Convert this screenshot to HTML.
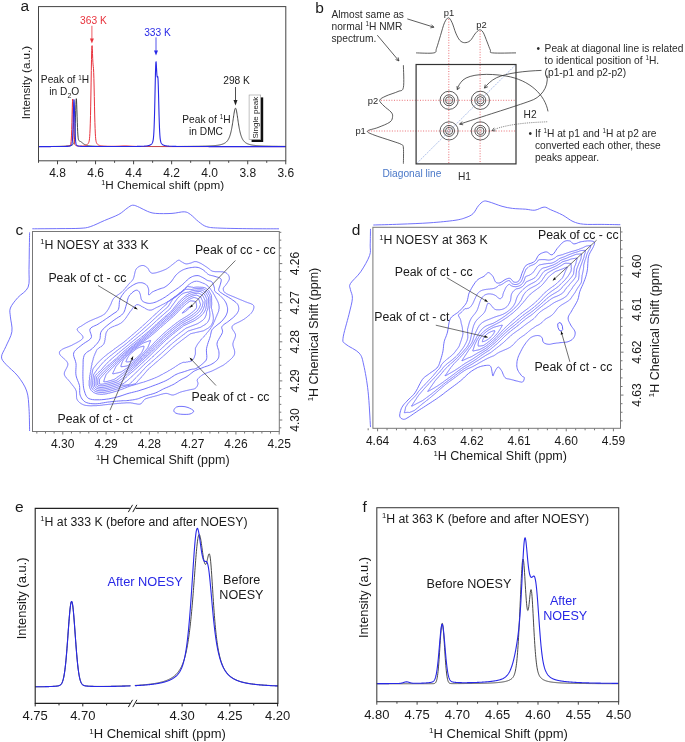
<!DOCTYPE html>
<html><head><meta charset="utf-8"><style>
html,body{margin:0;padding:0;background:#fff;}
svg{display:block;font-family:"Liberation Sans", sans-serif;will-change:transform;}
</style></head><body>
<svg width="685" height="742" viewBox="0 0 685 742">
<rect width="685" height="742" fill="#fff"/>
<text x="20.60" y="10.70" font-size="15.5" fill="#1a1a1a" text-anchor="start">a</text>
<path d="M38.50,146.54 L38.70,146.54 L38.90,146.54 L39.10,146.54 L39.30,146.54 L39.50,146.54 L39.70,146.54 L39.90,146.53 L40.10,146.53 L40.30,146.53 L40.50,146.53 L40.70,146.53 L40.90,146.53 L41.10,146.53 L41.30,146.53 L41.50,146.53 L41.70,146.53 L41.90,146.53 L42.10,146.53 L42.30,146.53 L42.50,146.53 L42.70,146.53 L42.90,146.53 L43.10,146.52 L43.30,146.52 L43.50,146.52 L43.70,146.52 L43.90,146.52 L44.10,146.52 L44.30,146.52 L44.50,146.52 L44.70,146.52 L44.90,146.52 L45.10,146.52 L45.30,146.52 L45.50,146.51 L45.70,146.51 L45.90,146.51 L46.10,146.51 L46.30,146.51 L46.50,146.51 L46.70,146.51 L46.90,146.51 L47.10,146.51 L47.30,146.51 L47.50,146.51 L47.70,146.50 L47.90,146.50 L48.10,146.50 L48.30,146.50 L48.50,146.50 L48.70,146.50 L48.90,146.50 L49.10,146.50 L49.30,146.50 L49.50,146.49 L49.70,146.49 L49.90,146.49 L50.10,146.49 L50.30,146.49 L50.50,146.49 L50.70,146.49 L50.90,146.48 L51.10,146.48 L51.30,146.48 L51.50,146.48 L51.70,146.48 L51.90,146.48 L52.10,146.48 L52.30,146.47 L52.50,146.47 L52.70,146.47 L52.90,146.47 L53.10,146.47 L53.30,146.46 L53.50,146.46 L53.70,146.46 L53.90,146.46 L54.10,146.46 L54.30,146.45 L54.50,146.45 L54.70,146.45 L54.90,146.45 L55.10,146.45 L55.30,146.44 L55.50,146.44 L55.70,146.44 L55.90,146.44 L56.10,146.43 L56.30,146.43 L56.50,146.43 L56.70,146.43 L56.90,146.42 L57.10,146.42 L57.30,146.42 L57.50,146.41 L57.70,146.41 L57.90,146.41 L58.10,146.40 L58.30,146.40 L58.50,146.40 L58.70,146.39 L58.90,146.39 L59.10,146.39 L59.30,146.38 L59.50,146.38 L59.70,146.37 L59.90,146.37 L60.10,146.36 L60.30,146.36 L60.50,146.35 L60.70,146.35 L60.90,146.34 L61.10,146.34 L61.30,146.33 L61.50,146.33 L61.70,146.32 L61.90,146.32 L62.10,146.31 L62.30,146.30 L62.50,146.30 L62.70,146.29 L62.90,146.28 L63.10,146.28 L63.30,146.27 L63.50,146.26 L63.70,146.25 L63.90,146.24 L64.10,146.23 L64.30,146.23 L64.50,146.22 L64.70,146.21 L64.90,146.20 L65.10,146.18 L65.30,146.17 L65.50,146.16 L65.70,146.15 L65.90,146.14 L66.10,146.12 L66.30,146.11 L66.50,146.09 L66.70,146.08 L66.90,146.06 L67.10,146.05 L67.30,146.03 L67.50,146.01 L67.70,145.99 L67.90,145.97 L68.10,145.95 L68.30,145.92 L68.50,145.90 L68.70,145.87 L68.90,145.85 L69.10,145.82 L69.30,145.79 L69.50,145.75 L69.70,145.72 L69.90,145.68 L70.10,145.64 L70.30,145.60 L70.50,145.55 L70.70,145.50 L70.90,145.45 L71.10,145.39 L71.30,145.32 L71.50,145.25 L71.70,145.18 L71.90,145.09 L72.10,145.00 L72.30,144.90 L72.50,144.78 L72.70,144.65 L72.90,144.51 L73.10,144.33 L73.30,144.12 L73.50,143.86 L73.70,143.51 L73.90,143.00 L74.10,142.25 L74.30,141.11 L74.50,139.41 L74.70,136.93 L74.90,133.50 L75.10,128.99 L75.30,123.44 L75.50,117.13 L75.70,110.58 L75.90,104.63 L76.10,100.32 L76.30,98.66 L76.50,100.08 L76.70,104.14 L76.90,109.86 L77.10,116.16 L77.30,122.24 L77.50,127.55 L77.70,131.83 L77.90,135.04 L78.10,137.29 L78.30,138.78 L78.50,139.72 L78.70,140.28 L78.90,140.61 L79.10,140.81 L79.30,140.94 L79.50,141.03 L79.70,141.11 L79.90,141.19 L80.10,141.28 L80.30,141.38 L80.50,141.49 L80.70,141.61 L80.90,141.74 L81.10,141.88 L81.30,142.04 L81.50,142.20 L81.70,142.36 L81.90,142.53 L82.10,142.70 L82.30,142.87 L82.50,143.03 L82.70,143.20 L82.90,143.35 L83.10,143.51 L83.30,143.66 L83.50,143.80 L83.70,143.93 L83.90,144.06 L84.10,144.19 L84.30,144.30 L84.50,144.41 L84.70,144.52 L84.90,144.62 L85.10,144.71 L85.30,144.80 L85.50,144.88 L85.70,144.96 L85.90,145.03 L86.10,145.10 L86.30,145.16 L86.50,145.23 L86.70,145.28 L86.90,145.34 L87.10,145.39 L87.30,145.44 L87.50,145.49 L87.70,145.53 L87.90,145.57 L88.10,145.61 L88.30,145.65 L88.50,145.68 L88.70,145.71 L88.90,145.75 L89.10,145.78 L89.30,145.80 L89.50,145.83 L89.70,145.86 L89.90,145.88 L90.10,145.90 L90.30,145.93 L90.50,145.95 L90.70,145.97 L90.90,145.99 L91.10,146.01 L91.30,146.02 L91.50,146.04 L91.70,146.06 L91.90,146.07 L92.10,146.09 L92.30,146.10 L92.50,146.11 L92.70,146.13 L92.90,146.14 L93.10,146.15 L93.30,146.16 L93.50,146.17 L93.70,146.18 L93.90,146.19 L94.10,146.20 L94.30,146.21 L94.50,146.22 L94.70,146.23 L94.90,146.24 L95.10,146.25 L95.30,146.26 L95.50,146.26 L95.70,146.27 L95.90,146.28 L96.10,146.28 L96.30,146.29 L96.50,146.30 L96.70,146.30 L96.90,146.31 L97.10,146.31 L97.30,146.32 L97.50,146.33 L97.70,146.33 L97.90,146.34 L98.10,146.34 L98.30,146.35 L98.50,146.35 L98.70,146.35 L98.90,146.36 L99.10,146.36 L99.30,146.37 L99.50,146.37 L99.70,146.38 L99.90,146.38 L100.10,146.38 L100.30,146.39 L100.50,146.39 L100.70,146.39 L100.90,146.40 L101.10,146.40 L101.30,146.40 L101.50,146.41 L101.70,146.41 L101.90,146.41 L102.10,146.41 L102.30,146.42 L102.50,146.42 L102.70,146.42 L102.90,146.42 L103.10,146.43 L103.30,146.43 L103.50,146.43 L103.70,146.43 L103.90,146.44 L104.10,146.44 L104.30,146.44 L104.50,146.44 L104.70,146.44 L104.90,146.45 L105.10,146.45 L105.30,146.45 L105.50,146.45 L105.70,146.45 L105.90,146.45 L106.10,146.46 L106.30,146.46 L106.50,146.46 L106.70,146.46 L106.90,146.46 L107.10,146.46 L107.30,146.47 L107.50,146.47 L107.70,146.47 L107.90,146.47 L108.10,146.47 L108.30,146.47 L108.50,146.47 L108.70,146.47 L108.90,146.48 L109.10,146.48 L109.30,146.48 L109.50,146.48 L109.70,146.48 L109.90,146.48 L110.10,146.48 L110.30,146.48 L110.50,146.48 L110.70,146.49 L110.90,146.49 L111.10,146.49 L111.30,146.49 L111.50,146.49 L111.70,146.49 L111.90,146.49 L112.10,146.49 L112.30,146.49 L112.50,146.49 L112.70,146.49 L112.90,146.50 L113.10,146.50 L113.30,146.50 L113.50,146.50 L113.70,146.50 L113.90,146.50 L114.10,146.50 L114.30,146.50 L114.50,146.50 L114.70,146.50 L114.90,146.50 L115.10,146.50 L115.30,146.50 L115.50,146.50 L115.70,146.51 L115.90,146.51 L116.10,146.51 L116.30,146.51 L116.50,146.51 L116.70,146.51 L116.90,146.51 L117.10,146.51 L117.30,146.51 L117.50,146.51 L117.70,146.51 L117.90,146.51 L118.10,146.51 L118.30,146.51 L118.50,146.51 L118.70,146.51 L118.90,146.51 L119.10,146.51 L119.30,146.51 L119.50,146.51 L119.70,146.51 L119.90,146.52 L120.10,146.52 L120.30,146.52 L120.50,146.52 L120.70,146.52 L120.90,146.52 L121.10,146.52 L121.30,146.52 L121.50,146.52 L121.70,146.52 L121.90,146.52 L122.10,146.52 L122.30,146.52 L122.50,146.52 L122.70,146.52 L122.90,146.52 L123.10,146.52 L123.30,146.52 L123.50,146.52 L123.70,146.52 L123.90,146.52 L124.10,146.52 L124.30,146.52 L124.50,146.52 L124.70,146.52 L124.90,146.52 L125.10,146.52 L125.30,146.52 L125.50,146.52 L125.70,146.52 L125.90,146.52 L126.10,146.52 L126.30,146.52 L126.50,146.52 L126.70,146.52 L126.90,146.52 L127.10,146.52 L127.30,146.53 L127.50,146.53 L127.70,146.53 L127.90,146.53 L128.10,146.53 L128.30,146.53 L128.50,146.53 L128.70,146.53 L128.90,146.53 L129.10,146.53 L129.30,146.53 L129.50,146.53 L129.70,146.53 L129.90,146.53 L130.10,146.53 L130.30,146.53 L130.50,146.53 L130.70,146.53 L130.90,146.53 L131.10,146.53 L131.30,146.53 L131.50,146.53 L131.70,146.53 L131.90,146.53 L132.10,146.53 L132.30,146.53 L132.50,146.53 L132.70,146.53 L132.90,146.53 L133.10,146.53 L133.30,146.53 L133.50,146.53 L133.70,146.53 L133.90,146.53 L134.10,146.53 L134.30,146.53 L134.50,146.53 L134.70,146.53 L134.90,146.53 L135.10,146.53 L135.30,146.53 L135.50,146.53 L135.70,146.53 L135.90,146.53 L136.10,146.53 L136.30,146.53 L136.50,146.53 L136.70,146.53 L136.90,146.53 L137.10,146.53 L137.30,146.53 L137.50,146.53 L137.70,146.53 L137.90,146.53 L138.10,146.53 L138.30,146.53 L138.50,146.53 L138.70,146.53 L138.90,146.53 L139.10,146.53 L139.30,146.53 L139.50,146.53 L139.70,146.53 L139.90,146.53 L140.10,146.53 L140.30,146.53 L140.50,146.53 L140.70,146.53 L140.90,146.53 L141.10,146.53 L141.30,146.53 L141.50,146.53 L141.70,146.53 L141.90,146.53 L142.10,146.53 L142.30,146.53 L142.50,146.53 L142.70,146.53 L142.90,146.53 L143.10,146.53 L143.30,146.53 L143.50,146.53 L143.70,146.53 L143.90,146.53 L144.10,146.53 L144.30,146.53 L144.50,146.53 L144.70,146.53 L144.90,146.53 L145.10,146.53 L145.30,146.53 L145.50,146.53 L145.70,146.53 L145.90,146.53 L146.10,146.53 L146.30,146.52 L146.50,146.52 L146.70,146.52 L146.90,146.52 L147.10,146.52 L147.30,146.52 L147.50,146.52 L147.70,146.52 L147.90,146.52 L148.10,146.52 L148.30,146.52 L148.50,146.52 L148.70,146.52 L148.90,146.52 L149.10,146.52 L149.30,146.52 L149.50,146.52 L149.70,146.52 L149.90,146.52 L150.10,146.52 L150.30,146.52 L150.50,146.52 L150.70,146.52 L150.90,146.52 L151.10,146.52 L151.30,146.52 L151.50,146.52 L151.70,146.52 L151.90,146.52 L152.10,146.52 L152.30,146.52 L152.50,146.52 L152.70,146.52 L152.90,146.52 L153.10,146.52 L153.30,146.52 L153.50,146.52 L153.70,146.52 L153.90,146.52 L154.10,146.52 L154.30,146.52 L154.50,146.52 L154.70,146.52 L154.90,146.52 L155.10,146.52 L155.30,146.52 L155.50,146.52 L155.70,146.52 L155.90,146.52 L156.10,146.51 L156.30,146.51 L156.50,146.51 L156.70,146.51 L156.90,146.51 L157.10,146.51 L157.30,146.51 L157.50,146.51 L157.70,146.51 L157.90,146.51 L158.10,146.51 L158.30,146.51 L158.50,146.51 L158.70,146.51 L158.90,146.51 L159.10,146.51 L159.30,146.51 L159.50,146.51 L159.70,146.51 L159.90,146.51 L160.10,146.51 L160.30,146.51 L160.50,146.51 L160.70,146.51 L160.90,146.51 L161.10,146.51 L161.30,146.51 L161.50,146.51 L161.70,146.51 L161.90,146.51 L162.10,146.50 L162.30,146.50 L162.50,146.50 L162.70,146.50 L162.90,146.50 L163.10,146.50 L163.30,146.50 L163.50,146.50 L163.70,146.50 L163.90,146.50 L164.10,146.50 L164.30,146.50 L164.50,146.50 L164.70,146.50 L164.90,146.50 L165.10,146.50 L165.30,146.50 L165.50,146.50 L165.70,146.50 L165.90,146.50 L166.10,146.50 L166.30,146.50 L166.50,146.50 L166.70,146.49 L166.90,146.49 L167.10,146.49 L167.30,146.49 L167.50,146.49 L167.70,146.49 L167.90,146.49 L168.10,146.49 L168.30,146.49 L168.50,146.49 L168.70,146.49 L168.90,146.49 L169.10,146.49 L169.30,146.49 L169.50,146.49 L169.70,146.49 L169.90,146.49 L170.10,146.49 L170.30,146.48 L170.50,146.48 L170.70,146.48 L170.90,146.48 L171.10,146.48 L171.30,146.48 L171.50,146.48 L171.70,146.48 L171.90,146.48 L172.10,146.48 L172.30,146.48 L172.50,146.48 L172.70,146.48 L172.90,146.48 L173.10,146.48 L173.30,146.48 L173.50,146.47 L173.70,146.47 L173.90,146.47 L174.10,146.47 L174.30,146.47 L174.50,146.47 L174.70,146.47 L174.90,146.47 L175.10,146.47 L175.30,146.47 L175.50,146.47 L175.70,146.47 L175.90,146.47 L176.10,146.46 L176.30,146.46 L176.50,146.46 L176.70,146.46 L176.90,146.46 L177.10,146.46 L177.30,146.46 L177.50,146.46 L177.70,146.46 L177.90,146.46 L178.10,146.46 L178.30,146.46 L178.50,146.45 L178.70,146.45 L178.90,146.45 L179.10,146.45 L179.30,146.45 L179.50,146.45 L179.70,146.45 L179.90,146.45 L180.10,146.45 L180.30,146.45 L180.50,146.44 L180.70,146.44 L180.90,146.44 L181.10,146.44 L181.30,146.44 L181.50,146.44 L181.70,146.44 L181.90,146.44 L182.10,146.44 L182.30,146.43 L182.50,146.43 L182.70,146.43 L182.90,146.43 L183.10,146.43 L183.30,146.43 L183.50,146.43 L183.70,146.43 L183.90,146.42 L184.10,146.42 L184.30,146.42 L184.50,146.42 L184.70,146.42 L184.90,146.42 L185.10,146.42 L185.30,146.42 L185.50,146.41 L185.70,146.41 L185.90,146.41 L186.10,146.41 L186.30,146.41 L186.50,146.41 L186.70,146.41 L186.90,146.40 L187.10,146.40 L187.30,146.40 L187.50,146.40 L187.70,146.40 L187.90,146.40 L188.10,146.39 L188.30,146.39 L188.50,146.39 L188.70,146.39 L188.90,146.39 L189.10,146.39 L189.30,146.38 L189.50,146.38 L189.70,146.38 L189.90,146.38 L190.10,146.38 L190.30,146.38 L190.50,146.37 L190.70,146.37 L190.90,146.37 L191.10,146.37 L191.30,146.37 L191.50,146.36 L191.70,146.36 L191.90,146.36 L192.10,146.36 L192.30,146.36 L192.50,146.35 L192.70,146.35 L192.90,146.35 L193.10,146.35 L193.30,146.34 L193.50,146.34 L193.70,146.34 L193.90,146.34 L194.10,146.33 L194.30,146.33 L194.50,146.33 L194.70,146.33 L194.90,146.32 L195.10,146.32 L195.30,146.32 L195.50,146.32 L195.70,146.31 L195.90,146.31 L196.10,146.31 L196.30,146.30 L196.50,146.30 L196.70,146.30 L196.90,146.30 L197.10,146.29 L197.30,146.29 L197.50,146.29 L197.70,146.28 L197.90,146.28 L198.10,146.28 L198.30,146.27 L198.50,146.27 L198.70,146.27 L198.90,146.26 L199.10,146.26 L199.30,146.26 L199.50,146.25 L199.70,146.25 L199.90,146.24 L200.10,146.24 L200.30,146.24 L200.50,146.23 L200.70,146.23 L200.90,146.22 L201.10,146.22 L201.30,146.22 L201.50,146.21 L201.70,146.21 L201.90,146.20 L202.10,146.20 L202.30,146.19 L202.50,146.19 L202.70,146.18 L202.90,146.18 L203.10,146.17 L203.30,146.17 L203.50,146.16 L203.70,146.16 L203.90,146.15 L204.10,146.15 L204.30,146.14 L204.50,146.13 L204.70,146.13 L204.90,146.12 L205.10,146.12 L205.30,146.11 L205.50,146.10 L205.70,146.10 L205.90,146.09 L206.10,146.08 L206.30,146.08 L206.50,146.07 L206.70,146.06 L206.90,146.06 L207.10,146.05 L207.30,146.04 L207.50,146.03 L207.70,146.02 L207.90,146.02 L208.10,146.01 L208.30,146.00 L208.50,145.99 L208.70,145.98 L208.90,145.97 L209.10,145.96 L209.30,145.95 L209.50,145.94 L209.70,145.93 L209.90,145.92 L210.10,145.91 L210.30,145.90 L210.50,145.89 L210.70,145.88 L210.90,145.87 L211.10,145.86 L211.30,145.85 L211.50,145.83 L211.70,145.82 L211.90,145.81 L212.10,145.80 L212.30,145.78 L212.50,145.77 L212.70,145.75 L212.90,145.74 L213.10,145.73 L213.30,145.71 L213.50,145.69 L213.70,145.68 L213.90,145.66 L214.10,145.64 L214.30,145.63 L214.50,145.61 L214.70,145.59 L214.90,145.57 L215.10,145.55 L215.30,145.53 L215.50,145.51 L215.70,145.49 L215.90,145.47 L216.10,145.45 L216.30,145.42 L216.50,145.40 L216.70,145.37 L216.90,145.35 L217.10,145.32 L217.30,145.29 L217.50,145.27 L217.70,145.24 L217.90,145.21 L218.10,145.18 L218.30,145.15 L218.50,145.11 L218.70,145.08 L218.90,145.04 L219.10,145.01 L219.30,144.97 L219.50,144.93 L219.70,144.89 L219.90,144.85 L220.10,144.80 L220.30,144.76 L220.50,144.71 L220.70,144.67 L220.90,144.61 L221.10,144.56 L221.30,144.51 L221.50,144.45 L221.70,144.39 L221.90,144.33 L222.10,144.27 L222.30,144.20 L222.50,144.13 L222.70,144.06 L222.90,143.99 L223.10,143.91 L223.30,143.83 L223.50,143.74 L223.70,143.65 L223.90,143.56 L224.10,143.46 L224.30,143.36 L224.50,143.25 L224.70,143.13 L224.90,143.01 L225.10,142.89 L225.30,142.75 L225.50,142.61 L225.70,142.46 L225.90,142.31 L226.10,142.14 L226.30,141.97 L226.50,141.78 L226.70,141.58 L226.90,141.37 L227.10,141.15 L227.30,140.91 L227.50,140.65 L227.70,140.38 L227.90,140.09 L228.10,139.78 L228.30,139.44 L228.50,139.09 L228.70,138.71 L228.90,138.30 L229.10,137.86 L229.30,137.39 L229.50,136.89 L229.70,136.35 L229.90,135.77 L230.10,135.16 L230.30,134.49 L230.50,133.79 L230.70,133.03 L230.90,132.23 L231.10,131.37 L231.30,130.46 L231.50,129.50 L231.70,128.48 L231.90,127.40 L232.10,126.26 L232.30,125.07 L232.50,123.83 L232.70,122.54 L232.90,121.21 L233.10,119.85 L233.30,118.47 L233.50,117.09 L233.70,115.72 L233.90,114.39 L234.10,113.12 L234.30,111.94 L234.50,110.87 L234.70,109.95 L234.90,109.20 L235.10,108.65 L235.30,108.31 L235.50,108.20 L235.70,108.31 L235.90,108.65 L236.10,109.20 L236.30,109.95 L236.50,110.87 L236.70,111.94 L236.90,113.12 L237.10,114.39 L237.30,115.72 L237.50,117.09 L237.70,118.47 L237.90,119.85 L238.10,121.21 L238.30,122.54 L238.50,123.83 L238.70,125.07 L238.90,126.26 L239.10,127.40 L239.30,128.48 L239.50,129.50 L239.70,130.46 L239.90,131.38 L240.10,132.23 L240.30,133.04 L240.50,133.79 L240.70,134.50 L240.90,135.16 L241.10,135.77 L241.30,136.35 L241.50,136.89 L241.70,137.39 L241.90,137.86 L242.10,138.30 L242.30,138.71 L242.50,139.09 L242.70,139.44 L242.90,139.78 L243.10,140.09 L243.30,140.38 L243.50,140.65 L243.70,140.91 L243.90,141.15 L244.10,141.37 L244.30,141.58 L244.50,141.78 L244.70,141.97 L244.90,142.14 L245.10,142.31 L245.30,142.47 L245.50,142.61 L245.70,142.75 L245.90,142.89 L246.10,143.01 L246.30,143.13 L246.50,143.25 L246.70,143.36 L246.90,143.46 L247.10,143.56 L247.30,143.65 L247.50,143.74 L247.70,143.83 L247.90,143.91 L248.10,143.99 L248.30,144.06 L248.50,144.14 L248.70,144.20 L248.90,144.27 L249.10,144.33 L249.30,144.39 L249.50,144.45 L249.70,144.51 L249.90,144.56 L250.10,144.62 L250.30,144.67 L250.50,144.71 L250.70,144.76 L250.90,144.81 L251.10,144.85 L251.30,144.89 L251.50,144.93 L251.70,144.97 L251.90,145.01 L252.10,145.04 L252.30,145.08 L252.50,145.11 L252.70,145.15 L252.90,145.18 L253.10,145.21 L253.30,145.24 L253.50,145.27 L253.70,145.30 L253.90,145.32 L254.10,145.35 L254.30,145.37 L254.50,145.40 L254.70,145.42 L254.90,145.45 L255.10,145.47 L255.30,145.49 L255.50,145.51 L255.70,145.53 L255.90,145.55 L256.10,145.57 L256.30,145.59 L256.50,145.61 L256.70,145.63 L256.90,145.65 L257.10,145.66 L257.30,145.68 L257.50,145.70 L257.70,145.71 L257.90,145.73 L258.10,145.74 L258.30,145.76 L258.50,145.77 L258.70,145.78 L258.90,145.80 L259.10,145.81 L259.30,145.82 L259.50,145.84 L259.70,145.85 L259.90,145.86 L260.10,145.87 L260.30,145.88 L260.50,145.90 L260.70,145.91 L260.90,145.92 L261.10,145.93 L261.30,145.94 L261.50,145.95 L261.70,145.96 L261.90,145.97 L262.10,145.98 L262.30,145.98 L262.50,145.99 L262.70,146.00 L262.90,146.01 L263.10,146.02 L263.30,146.03 L263.50,146.04 L263.70,146.04 L263.90,146.05 L264.10,146.06 L264.30,146.07 L264.50,146.07 L264.70,146.08 L264.90,146.09 L265.10,146.09 L265.30,146.10 L265.50,146.11 L265.70,146.11 L265.90,146.12 L266.10,146.13 L266.30,146.13 L266.50,146.14 L266.70,146.14 L266.90,146.15 L267.10,146.15 L267.30,146.16 L267.50,146.17 L267.70,146.17 L267.90,146.18 L268.10,146.18 L268.30,146.19 L268.50,146.19 L268.70,146.20 L268.90,146.20 L269.10,146.21 L269.30,146.21 L269.50,146.21 L269.70,146.22 L269.90,146.22 L270.10,146.23 L270.30,146.23 L270.50,146.24 L270.70,146.24 L270.90,146.24 L271.10,146.25 L271.30,146.25 L271.50,146.26 L271.70,146.26 L271.90,146.26 L272.10,146.27 L272.30,146.27 L272.50,146.27 L272.70,146.28 L272.90,146.28 L273.10,146.28 L273.30,146.29 L273.50,146.29 L273.70,146.29 L273.90,146.30 L274.10,146.30 L274.30,146.30 L274.50,146.31 L274.70,146.31 L274.90,146.31 L275.10,146.31 L275.30,146.32 L275.50,146.32 L275.70,146.32 L275.90,146.33 L276.10,146.33 L276.30,146.33 L276.50,146.33 L276.70,146.34 L276.90,146.34 L277.10,146.34 L277.30,146.34 L277.50,146.35 L277.70,146.35 L277.90,146.35 L278.10,146.35 L278.30,146.36 L278.50,146.36 L278.70,146.36 L278.90,146.36 L279.10,146.36 L279.30,146.37 L279.50,146.37 L279.70,146.37 L279.90,146.37 L280.10,146.37 L280.30,146.38 L280.50,146.38 L280.70,146.38 L280.90,146.38 L281.10,146.38 L281.30,146.39 L281.50,146.39 L281.70,146.39 L281.90,146.39 L282.10,146.39 L282.30,146.39 L282.50,146.40 L282.70,146.40 L282.90,146.40 L283.10,146.40 L283.30,146.40 L283.50,146.40 L283.70,146.41 L283.90,146.41 L284.10,146.41 L284.30,146.41 L284.50,146.41 L284.70,146.41 L284.90,146.42 L285.10,146.42 L285.30,146.42 L285.50,146.42 L285.70,146.42" stroke="#333" stroke-width="0.9" fill="none" stroke-linejoin="round"/>
<path d="M38.50,146.57 L38.70,146.57 L38.90,146.57 L39.10,146.57 L39.30,146.57 L39.50,146.57 L39.70,146.57 L39.90,146.57 L40.10,146.57 L40.30,146.57 L40.50,146.57 L40.70,146.57 L40.90,146.57 L41.10,146.57 L41.30,146.57 L41.50,146.57 L41.70,146.57 L41.90,146.57 L42.10,146.56 L42.30,146.56 L42.50,146.56 L42.70,146.56 L42.90,146.56 L43.10,146.56 L43.30,146.56 L43.50,146.56 L43.70,146.56 L43.90,146.56 L44.10,146.56 L44.30,146.56 L44.50,146.56 L44.70,146.56 L44.90,146.56 L45.10,146.56 L45.30,146.56 L45.50,146.56 L45.70,146.56 L45.90,146.56 L46.10,146.56 L46.30,146.56 L46.50,146.56 L46.70,146.56 L46.90,146.56 L47.10,146.56 L47.30,146.55 L47.50,146.55 L47.70,146.55 L47.90,146.55 L48.10,146.55 L48.30,146.55 L48.50,146.55 L48.70,146.55 L48.90,146.55 L49.10,146.55 L49.30,146.55 L49.50,146.55 L49.70,146.55 L49.90,146.55 L50.10,146.55 L50.30,146.55 L50.50,146.55 L50.70,146.55 L50.90,146.54 L51.10,146.54 L51.30,146.54 L51.50,146.54 L51.70,146.54 L51.90,146.54 L52.10,146.54 L52.30,146.54 L52.50,146.54 L52.70,146.54 L52.90,146.54 L53.10,146.54 L53.30,146.54 L53.50,146.53 L53.70,146.53 L53.90,146.53 L54.10,146.53 L54.30,146.53 L54.50,146.53 L54.70,146.53 L54.90,146.53 L55.10,146.53 L55.30,146.52 L55.50,146.52 L55.70,146.52 L55.90,146.52 L56.10,146.52 L56.30,146.52 L56.50,146.52 L56.70,146.52 L56.90,146.51 L57.10,146.51 L57.30,146.51 L57.50,146.51 L57.70,146.51 L57.90,146.51 L58.10,146.51 L58.30,146.50 L58.50,146.50 L58.70,146.50 L58.90,146.50 L59.10,146.50 L59.30,146.49 L59.50,146.49 L59.70,146.49 L59.90,146.49 L60.10,146.48 L60.30,146.48 L60.50,146.48 L60.70,146.48 L60.90,146.47 L61.10,146.47 L61.30,146.47 L61.50,146.46 L61.70,146.46 L61.90,146.46 L62.10,146.45 L62.30,146.45 L62.50,146.45 L62.70,146.44 L62.90,146.44 L63.10,146.43 L63.30,146.43 L63.50,146.42 L63.70,146.42 L63.90,146.41 L64.10,146.40 L64.30,146.40 L64.50,146.39 L64.70,146.38 L64.90,146.37 L65.10,146.36 L65.30,146.35 L65.50,146.34 L65.70,146.33 L65.90,146.32 L66.10,146.31 L66.30,146.29 L66.50,146.28 L66.70,146.26 L66.90,146.24 L67.10,146.22 L67.30,146.20 L67.50,146.18 L67.70,146.15 L67.90,146.12 L68.10,146.08 L68.30,146.04 L68.50,146.00 L68.70,145.95 L68.90,145.89 L69.10,145.82 L69.30,145.74 L69.50,145.65 L69.70,145.54 L69.90,145.40 L70.10,145.23 L70.30,144.99 L70.50,144.64 L70.70,144.08 L70.90,143.14 L71.10,141.55 L71.30,139.00 L71.50,135.12 L71.70,129.68 L71.90,122.76 L72.10,114.89 L72.30,107.18 L72.50,101.30 L72.70,99.05 L72.90,101.29 L73.10,107.17 L73.30,114.87 L73.50,122.74 L73.70,129.65 L73.90,135.08 L74.10,138.96 L74.30,141.51 L74.50,143.08 L74.70,144.02 L74.90,144.58 L75.10,144.92 L75.30,145.15 L75.50,145.32 L75.70,145.45 L75.90,145.55 L76.10,145.64 L76.30,145.71 L76.50,145.77 L76.70,145.82 L76.90,145.87 L77.10,145.90 L77.30,145.93 L77.50,145.96 L77.70,145.98 L77.90,146.00 L78.10,146.02 L78.30,146.03 L78.50,146.04 L78.70,146.05 L78.90,146.06 L79.10,146.06 L79.30,146.07 L79.50,146.07 L79.70,146.07 L79.90,146.07 L80.10,146.07 L80.30,146.06 L80.50,146.06 L80.70,146.05 L80.90,146.05 L81.10,146.04 L81.30,146.03 L81.50,146.02 L81.70,146.01 L81.90,145.99 L82.10,145.98 L82.30,145.96 L82.50,145.94 L82.70,145.92 L82.90,145.90 L83.10,145.88 L83.30,145.86 L83.50,145.83 L83.70,145.80 L83.90,145.77 L84.10,145.74 L84.30,145.70 L84.50,145.66 L84.70,145.62 L84.90,145.57 L85.10,145.52 L85.30,145.47 L85.50,145.40 L85.70,145.34 L85.90,145.27 L86.10,145.19 L86.30,145.10 L86.50,145.00 L86.70,144.89 L86.90,144.77 L87.10,144.64 L87.30,144.49 L87.50,144.32 L87.70,144.13 L87.90,143.91 L88.10,143.66 L88.30,143.36 L88.50,143.01 L88.70,142.58 L88.90,142.02 L89.10,141.26 L89.30,140.21 L89.50,138.71 L89.70,136.54 L89.90,133.43 L90.10,129.08 L90.30,123.18 L90.50,115.54 L90.70,106.10 L90.90,95.06 L91.10,82.93 L91.30,70.60 L91.50,59.35 L91.70,50.71 L91.90,46.00 L92.10,45.62 L92.30,48.69 L92.50,53.51 L92.70,58.41 L92.90,62.31 L93.10,64.89 L93.30,66.62 L93.50,68.67 L93.70,72.40 L93.90,78.63 L94.10,87.05 L94.30,96.60 L94.50,106.19 L94.70,114.98 L94.90,122.49 L95.10,128.52 L95.30,133.11 L95.50,136.43 L95.70,138.75 L95.90,140.34 L96.10,141.43 L96.30,142.20 L96.50,142.75 L96.70,143.18 L96.90,143.52 L97.10,143.80 L97.30,144.04 L97.50,144.25 L97.70,144.43 L97.90,144.59 L98.10,144.74 L98.30,144.86 L98.50,144.98 L98.70,145.08 L98.90,145.17 L99.10,145.26 L99.30,145.34 L99.50,145.41 L99.70,145.47 L99.90,145.53 L100.10,145.58 L100.30,145.63 L100.50,145.68 L100.70,145.72 L100.90,145.76 L101.10,145.79 L101.30,145.83 L101.50,145.86 L101.70,145.89 L101.90,145.91 L102.10,145.94 L102.30,145.96 L102.50,145.99 L102.70,146.01 L102.90,146.03 L103.10,146.05 L103.30,146.06 L103.50,146.08 L103.70,146.09 L103.90,146.11 L104.10,146.12 L104.30,146.14 L104.50,146.15 L104.70,146.16 L104.90,146.17 L105.10,146.18 L105.30,146.19 L105.50,146.20 L105.70,146.21 L105.90,146.22 L106.10,146.22 L106.30,146.23 L106.50,146.24 L106.70,146.24 L106.90,146.25 L107.10,146.26 L107.30,146.26 L107.50,146.27 L107.70,146.27 L107.90,146.27 L108.10,146.28 L108.30,146.28 L108.50,146.29 L108.70,146.29 L108.90,146.29 L109.10,146.30 L109.30,146.30 L109.50,146.30 L109.70,146.30 L109.90,146.30 L110.10,146.31 L110.30,146.31 L110.50,146.31 L110.70,146.31 L110.90,146.31 L111.10,146.31 L111.30,146.31 L111.50,146.31 L111.70,146.31 L111.90,146.31 L112.10,146.31 L112.30,146.31 L112.50,146.31 L112.70,146.31 L112.90,146.31 L113.10,146.30 L113.30,146.30 L113.50,146.30 L113.70,146.30 L113.90,146.29 L114.10,146.29 L114.30,146.29 L114.50,146.29 L114.70,146.28 L114.90,146.28 L115.10,146.27 L115.30,146.27 L115.50,146.26 L115.70,146.26 L115.90,146.25 L116.10,146.25 L116.30,146.24 L116.50,146.23 L116.70,146.23 L116.90,146.22 L117.10,146.21 L117.30,146.20 L117.50,146.20 L117.70,146.19 L117.90,146.18 L118.10,146.17 L118.30,146.16 L118.50,146.15 L118.70,146.14 L118.90,146.12 L119.10,146.11 L119.30,146.10 L119.50,146.09 L119.70,146.07 L119.90,146.06 L120.10,146.04 L120.30,146.03 L120.50,146.01 L120.70,146.00 L120.90,145.98 L121.10,145.97 L121.30,145.95 L121.50,145.93 L121.70,145.92 L121.90,145.90 L122.10,145.89 L122.30,145.87 L122.50,145.85 L122.70,145.84 L122.90,145.82 L123.10,145.81 L123.30,145.80 L123.50,145.79 L123.70,145.78 L123.90,145.77 L124.10,145.76 L124.30,145.75 L124.50,145.75 L124.70,145.75 L124.90,145.75 L125.10,145.75 L125.30,145.75 L125.50,145.75 L125.70,145.76 L125.90,145.77 L126.10,145.77 L126.30,145.79 L126.50,145.80 L126.70,145.81 L126.90,145.82 L127.10,145.84 L127.30,145.85 L127.50,145.87 L127.70,145.89 L127.90,145.91 L128.10,145.92 L128.30,145.94 L128.50,145.96 L128.70,145.98 L128.90,145.99 L129.10,146.01 L129.30,146.03 L129.50,146.05 L129.70,146.06 L129.90,146.08 L130.10,146.09 L130.30,146.11 L130.50,146.12 L130.70,146.14 L130.90,146.15 L131.10,146.17 L131.30,146.18 L131.50,146.19 L131.70,146.21 L131.90,146.22 L132.10,146.23 L132.30,146.24 L132.50,146.25 L132.70,146.26 L132.90,146.27 L133.10,146.28 L133.30,146.29 L133.50,146.30 L133.70,146.31 L133.90,146.32 L134.10,146.32 L134.30,146.33 L134.50,146.34 L134.70,146.35 L134.90,146.35 L135.10,146.36 L135.30,146.37 L135.50,146.37 L135.70,146.38 L135.90,146.38 L136.10,146.39 L136.30,146.39 L136.50,146.40 L136.70,146.40 L136.90,146.41 L137.10,146.41 L137.30,146.42 L137.50,146.42 L137.70,146.43 L137.90,146.43 L138.10,146.43 L138.30,146.44 L138.50,146.44 L138.70,146.44 L138.90,146.45 L139.10,146.45 L139.30,146.45 L139.50,146.46 L139.70,146.46 L139.90,146.46 L140.10,146.46 L140.30,146.47 L140.50,146.47 L140.70,146.47 L140.90,146.48 L141.10,146.48 L141.30,146.48 L141.50,146.48 L141.70,146.48 L141.90,146.49 L142.10,146.49 L142.30,146.49 L142.50,146.49 L142.70,146.49 L142.90,146.50 L143.10,146.50 L143.30,146.50 L143.50,146.50 L143.70,146.50 L143.90,146.50 L144.10,146.51 L144.30,146.51 L144.50,146.51 L144.70,146.51 L144.90,146.51 L145.10,146.51 L145.30,146.51 L145.50,146.52 L145.70,146.52 L145.90,146.52 L146.10,146.52 L146.30,146.52 L146.50,146.52 L146.70,146.52 L146.90,146.52 L147.10,146.53 L147.30,146.53 L147.50,146.53 L147.70,146.53 L147.90,146.53 L148.10,146.53 L148.30,146.53 L148.50,146.53 L148.70,146.53 L148.90,146.53 L149.10,146.53 L149.30,146.54 L149.50,146.54 L149.70,146.54 L149.90,146.54 L150.10,146.54 L150.30,146.54 L150.50,146.54 L150.70,146.54 L150.90,146.54 L151.10,146.54 L151.30,146.54 L151.50,146.54 L151.70,146.54 L151.90,146.55 L152.10,146.55 L152.30,146.55 L152.50,146.55 L152.70,146.55 L152.90,146.55 L153.10,146.55 L153.30,146.55 L153.50,146.55 L153.70,146.55 L153.90,146.55 L154.10,146.55 L154.30,146.55 L154.50,146.55 L154.70,146.55 L154.90,146.55 L155.10,146.55 L155.30,146.55 L155.50,146.56 L155.70,146.56 L155.90,146.56 L156.10,146.56 L156.30,146.56 L156.50,146.56 L156.70,146.56 L156.90,146.56 L157.10,146.56 L157.30,146.56 L157.50,146.56 L157.70,146.56 L157.90,146.56 L158.10,146.56 L158.30,146.56 L158.50,146.56 L158.70,146.56 L158.90,146.56 L159.10,146.56 L159.30,146.56 L159.50,146.56 L159.70,146.56 L159.90,146.56 L160.10,146.56 L160.30,146.56 L160.50,146.56 L160.70,146.57 L160.90,146.57 L161.10,146.57 L161.30,146.57 L161.50,146.57 L161.70,146.57 L161.90,146.57 L162.10,146.57 L162.30,146.57 L162.50,146.57 L162.70,146.57 L162.90,146.57 L163.10,146.57 L163.30,146.57 L163.50,146.57 L163.70,146.57 L163.90,146.57 L164.10,146.57 L164.30,146.57 L164.50,146.57 L164.70,146.57 L164.90,146.57 L165.10,146.57 L165.30,146.57 L165.50,146.57 L165.70,146.57 L165.90,146.57 L166.10,146.57 L166.30,146.57 L166.50,146.57 L166.70,146.57 L166.90,146.57 L167.10,146.57 L167.30,146.57 L167.50,146.57 L167.70,146.57 L167.90,146.57 L168.10,146.57 L168.30,146.57 L168.50,146.57 L168.70,146.57 L168.90,146.58 L169.10,146.58 L169.30,146.58 L169.50,146.58 L169.70,146.58 L169.90,146.58 L170.10,146.58 L170.30,146.58 L170.50,146.58 L170.70,146.58 L170.90,146.58 L171.10,146.58 L171.30,146.58 L171.50,146.58 L171.70,146.58 L171.90,146.58 L172.10,146.58 L172.30,146.58 L172.50,146.58 L172.70,146.58 L172.90,146.58 L173.10,146.58 L173.30,146.58 L173.50,146.58 L173.70,146.58 L173.90,146.58 L174.10,146.58 L174.30,146.58 L174.50,146.58 L174.70,146.58 L174.90,146.58 L175.10,146.58 L175.30,146.58 L175.50,146.58 L175.70,146.58 L175.90,146.58 L176.10,146.58 L176.30,146.58 L176.50,146.58 L176.70,146.58 L176.90,146.58 L177.10,146.58 L177.30,146.58 L177.50,146.58 L177.70,146.58 L177.90,146.58 L178.10,146.58 L178.30,146.58 L178.50,146.58 L178.70,146.58 L178.90,146.58 L179.10,146.58 L179.30,146.58 L179.50,146.58 L179.70,146.58 L179.90,146.58 L180.10,146.58 L180.30,146.58 L180.50,146.58 L180.70,146.58 L180.90,146.58 L181.10,146.58 L181.30,146.58 L181.50,146.58 L181.70,146.58 L181.90,146.58 L182.10,146.58 L182.30,146.58 L182.50,146.58 L182.70,146.58 L182.90,146.58 L183.10,146.58 L183.30,146.58 L183.50,146.58 L183.70,146.58 L183.90,146.58 L184.10,146.58 L184.30,146.58 L184.50,146.58 L184.70,146.58 L184.90,146.58 L185.10,146.59 L185.30,146.59 L185.50,146.59 L185.70,146.59 L185.90,146.59 L186.10,146.59 L186.30,146.59 L186.50,146.59 L186.70,146.59 L186.90,146.59 L187.10,146.59 L187.30,146.59 L187.50,146.59 L187.70,146.59 L187.90,146.59 L188.10,146.59 L188.30,146.59 L188.50,146.59 L188.70,146.59 L188.90,146.59 L189.10,146.59 L189.30,146.59 L189.50,146.59 L189.70,146.59 L189.90,146.59 L190.10,146.59 L190.30,146.59 L190.50,146.59 L190.70,146.59 L190.90,146.59 L191.10,146.59 L191.30,146.59 L191.50,146.59 L191.70,146.59 L191.90,146.59 L192.10,146.59 L192.30,146.59 L192.50,146.59 L192.70,146.59 L192.90,146.59 L193.10,146.59 L193.30,146.59 L193.50,146.59 L193.70,146.59 L193.90,146.59 L194.10,146.59 L194.30,146.59 L194.50,146.59 L194.70,146.59 L194.90,146.59 L195.10,146.59 L195.30,146.59 L195.50,146.59 L195.70,146.59 L195.90,146.59 L196.10,146.59 L196.30,146.59 L196.50,146.59 L196.70,146.59 L196.90,146.59 L197.10,146.59 L197.30,146.59 L197.50,146.59 L197.70,146.59 L197.90,146.59 L198.10,146.59 L198.30,146.59 L198.50,146.59 L198.70,146.59 L198.90,146.59 L199.10,146.59 L199.30,146.59 L199.50,146.59 L199.70,146.59 L199.90,146.59 L200.10,146.59 L200.30,146.59 L200.50,146.59 L200.70,146.59 L200.90,146.59 L201.10,146.59 L201.30,146.59 L201.50,146.59 L201.70,146.59 L201.90,146.59 L202.10,146.59 L202.30,146.59 L202.50,146.59 L202.70,146.59 L202.90,146.59 L203.10,146.59 L203.30,146.59 L203.50,146.59 L203.70,146.59 L203.90,146.59 L204.10,146.59 L204.30,146.59 L204.50,146.59 L204.70,146.59 L204.90,146.59 L205.10,146.59 L205.30,146.59 L205.50,146.59 L205.70,146.59 L205.90,146.59 L206.10,146.59 L206.30,146.59 L206.50,146.59 L206.70,146.59 L206.90,146.59 L207.10,146.59 L207.30,146.59 L207.50,146.59 L207.70,146.59 L207.90,146.59 L208.10,146.59 L208.30,146.59 L208.50,146.59 L208.70,146.59 L208.90,146.59 L209.10,146.59 L209.30,146.59 L209.50,146.59 L209.70,146.59 L209.90,146.59 L210.10,146.59 L210.30,146.59 L210.50,146.59 L210.70,146.59 L210.90,146.59 L211.10,146.59 L211.30,146.59 L211.50,146.59 L211.70,146.59 L211.90,146.59 L212.10,146.59 L212.30,146.59 L212.50,146.59 L212.70,146.59 L212.90,146.59 L213.10,146.59 L213.30,146.59 L213.50,146.59 L213.70,146.59 L213.90,146.59 L214.10,146.59 L214.30,146.59 L214.50,146.59 L214.70,146.59 L214.90,146.59 L215.10,146.59 L215.30,146.59 L215.50,146.59 L215.70,146.59 L215.90,146.59 L216.10,146.59 L216.30,146.59 L216.50,146.59 L216.70,146.59 L216.90,146.59 L217.10,146.59 L217.30,146.59 L217.50,146.59 L217.70,146.59 L217.90,146.59 L218.10,146.59 L218.30,146.59 L218.50,146.59 L218.70,146.59 L218.90,146.59 L219.10,146.59 L219.30,146.59 L219.50,146.59 L219.70,146.59 L219.90,146.59 L220.10,146.59 L220.30,146.59 L220.50,146.59 L220.70,146.59 L220.90,146.59 L221.10,146.59 L221.30,146.59 L221.50,146.59 L221.70,146.59 L221.90,146.59 L222.10,146.59 L222.30,146.59 L222.50,146.59 L222.70,146.59 L222.90,146.59 L223.10,146.59 L223.30,146.59 L223.50,146.59 L223.70,146.59 L223.90,146.59 L224.10,146.59 L224.30,146.59 L224.50,146.59 L224.70,146.59 L224.90,146.59 L225.10,146.59 L225.30,146.59 L225.50,146.59 L225.70,146.59 L225.90,146.59 L226.10,146.59 L226.30,146.59 L226.50,146.59 L226.70,146.59 L226.90,146.59 L227.10,146.59 L227.30,146.59 L227.50,146.59 L227.70,146.59 L227.90,146.59 L228.10,146.59 L228.30,146.59 L228.50,146.59 L228.70,146.59 L228.90,146.59 L229.10,146.59 L229.30,146.59 L229.50,146.59 L229.70,146.59 L229.90,146.59 L230.10,146.59 L230.30,146.59 L230.50,146.59 L230.70,146.59 L230.90,146.59 L231.10,146.59 L231.30,146.59 L231.50,146.59 L231.70,146.59 L231.90,146.59 L232.10,146.59 L232.30,146.59 L232.50,146.59 L232.70,146.59 L232.90,146.59 L233.10,146.59 L233.30,146.59 L233.50,146.59 L233.70,146.59 L233.90,146.59 L234.10,146.59 L234.30,146.59 L234.50,146.59 L234.70,146.59 L234.90,146.59 L235.10,146.59 L235.30,146.59 L235.50,146.59 L235.70,146.59 L235.90,146.59 L236.10,146.59 L236.30,146.59 L236.50,146.59 L236.70,146.59 L236.90,146.59 L237.10,146.59 L237.30,146.59 L237.50,146.59 L237.70,146.59 L237.90,146.59 L238.10,146.59 L238.30,146.59 L238.50,146.59 L238.70,146.59 L238.90,146.59 L239.10,146.59 L239.30,146.59 L239.50,146.59 L239.70,146.59 L239.90,146.60 L240.10,146.60 L240.30,146.60 L240.50,146.60 L240.70,146.60 L240.90,146.60 L241.10,146.60 L241.30,146.60 L241.50,146.60 L241.70,146.60 L241.90,146.60 L242.10,146.60 L242.30,146.60 L242.50,146.60 L242.70,146.60 L242.90,146.60 L243.10,146.60 L243.30,146.60 L243.50,146.60 L243.70,146.60 L243.90,146.60 L244.10,146.60 L244.30,146.60 L244.50,146.60 L244.70,146.60 L244.90,146.60 L245.10,146.60 L245.30,146.60 L245.50,146.60 L245.70,146.60 L245.90,146.60 L246.10,146.60 L246.30,146.60 L246.50,146.60 L246.70,146.60 L246.90,146.60 L247.10,146.60 L247.30,146.60 L247.50,146.60 L247.70,146.60 L247.90,146.60 L248.10,146.60 L248.30,146.60 L248.50,146.60 L248.70,146.60 L248.90,146.60 L249.10,146.60 L249.30,146.60 L249.50,146.60 L249.70,146.60 L249.90,146.60 L250.10,146.60 L250.30,146.60 L250.50,146.60 L250.70,146.60 L250.90,146.60 L251.10,146.60 L251.30,146.60 L251.50,146.60 L251.70,146.60 L251.90,146.60 L252.10,146.60 L252.30,146.60 L252.50,146.60 L252.70,146.60 L252.90,146.60 L253.10,146.60 L253.30,146.60 L253.50,146.60 L253.70,146.60 L253.90,146.60 L254.10,146.60 L254.30,146.60 L254.50,146.60 L254.70,146.60 L254.90,146.60 L255.10,146.60 L255.30,146.60 L255.50,146.60 L255.70,146.60 L255.90,146.60 L256.10,146.60 L256.30,146.60 L256.50,146.60 L256.70,146.60 L256.90,146.60 L257.10,146.60 L257.30,146.60 L257.50,146.60 L257.70,146.60 L257.90,146.60 L258.10,146.60 L258.30,146.60 L258.50,146.60 L258.70,146.60 L258.90,146.60 L259.10,146.60 L259.30,146.60 L259.50,146.60 L259.70,146.60 L259.90,146.60 L260.10,146.60 L260.30,146.60 L260.50,146.60 L260.70,146.60 L260.90,146.60 L261.10,146.60 L261.30,146.60 L261.50,146.60 L261.70,146.60 L261.90,146.60 L262.10,146.60 L262.30,146.60 L262.50,146.60 L262.70,146.60 L262.90,146.60 L263.10,146.60 L263.30,146.60 L263.50,146.60 L263.70,146.60 L263.90,146.60 L264.10,146.60 L264.30,146.60 L264.50,146.60 L264.70,146.60 L264.90,146.60 L265.10,146.60 L265.30,146.60 L265.50,146.60 L265.70,146.60 L265.90,146.60 L266.10,146.60 L266.30,146.60 L266.50,146.60 L266.70,146.60 L266.90,146.60 L267.10,146.60 L267.30,146.60 L267.50,146.60 L267.70,146.60 L267.90,146.60 L268.10,146.60 L268.30,146.60 L268.50,146.60 L268.70,146.60 L268.90,146.60 L269.10,146.60 L269.30,146.60 L269.50,146.60 L269.70,146.60 L269.90,146.60 L270.10,146.60 L270.30,146.60 L270.50,146.60 L270.70,146.60 L270.90,146.60 L271.10,146.60 L271.30,146.60 L271.50,146.60 L271.70,146.60 L271.90,146.60 L272.10,146.60 L272.30,146.60 L272.50,146.60 L272.70,146.60 L272.90,146.60 L273.10,146.60 L273.30,146.60 L273.50,146.60 L273.70,146.60 L273.90,146.60 L274.10,146.60 L274.30,146.60 L274.50,146.60 L274.70,146.60 L274.90,146.60 L275.10,146.60 L275.30,146.60 L275.50,146.60 L275.70,146.60 L275.90,146.60 L276.10,146.60 L276.30,146.60 L276.50,146.60 L276.70,146.60 L276.90,146.60 L277.10,146.60 L277.30,146.60 L277.50,146.60 L277.70,146.60 L277.90,146.60 L278.10,146.60 L278.30,146.60 L278.50,146.60 L278.70,146.60 L278.90,146.60 L279.10,146.60 L279.30,146.60 L279.50,146.60 L279.70,146.60 L279.90,146.60 L280.10,146.60 L280.30,146.60 L280.50,146.60 L280.70,146.60 L280.90,146.60 L281.10,146.60 L281.30,146.60 L281.50,146.60 L281.70,146.60 L281.90,146.60 L282.10,146.60 L282.30,146.60 L282.50,146.60 L282.70,146.60 L282.90,146.60 L283.10,146.60 L283.30,146.60 L283.50,146.60 L283.70,146.60 L283.90,146.60 L284.10,146.60 L284.30,146.60 L284.50,146.60 L284.70,146.60 L284.90,146.60 L285.10,146.60 L285.30,146.60 L285.50,146.60 L285.70,146.60" stroke="#e8323c" stroke-width="1.0" fill="none" stroke-linejoin="round"/>
<path d="M38.50,146.59 L38.70,146.59 L38.90,146.59 L39.10,146.59 L39.30,146.59 L39.50,146.59 L39.70,146.59 L39.90,146.59 L40.10,146.59 L40.30,146.59 L40.50,146.59 L40.70,146.59 L40.90,146.59 L41.10,146.59 L41.30,146.59 L41.50,146.59 L41.70,146.59 L41.90,146.59 L42.10,146.58 L42.30,146.58 L42.50,146.58 L42.70,146.58 L42.90,146.58 L43.10,146.58 L43.30,146.58 L43.50,146.58 L43.70,146.58 L43.90,146.58 L44.10,146.58 L44.30,146.58 L44.50,146.58 L44.70,146.58 L44.90,146.58 L45.10,146.58 L45.30,146.58 L45.50,146.58 L45.70,146.58 L45.90,146.58 L46.10,146.58 L46.30,146.58 L46.50,146.58 L46.70,146.58 L46.90,146.58 L47.10,146.58 L47.30,146.58 L47.50,146.58 L47.70,146.58 L47.90,146.58 L48.10,146.58 L48.30,146.58 L48.50,146.58 L48.70,146.58 L48.90,146.58 L49.10,146.58 L49.30,146.58 L49.50,146.58 L49.70,146.58 L49.90,146.58 L50.10,146.58 L50.30,146.58 L50.50,146.58 L50.70,146.58 L50.90,146.57 L51.10,146.57 L51.30,146.57 L51.50,146.57 L51.70,146.57 L51.90,146.57 L52.10,146.57 L52.30,146.57 L52.50,146.57 L52.70,146.57 L52.90,146.57 L53.10,146.57 L53.30,146.57 L53.50,146.57 L53.70,146.57 L53.90,146.57 L54.10,146.57 L54.30,146.57 L54.50,146.57 L54.70,146.57 L54.90,146.57 L55.10,146.56 L55.30,146.56 L55.50,146.56 L55.70,146.56 L55.90,146.56 L56.10,146.56 L56.30,146.56 L56.50,146.56 L56.70,146.56 L56.90,146.56 L57.10,146.56 L57.30,146.56 L57.50,146.56 L57.70,146.55 L57.90,146.55 L58.10,146.55 L58.30,146.55 L58.50,146.55 L58.70,146.55 L58.90,146.55 L59.10,146.55 L59.30,146.55 L59.50,146.54 L59.70,146.54 L59.90,146.54 L60.10,146.54 L60.30,146.54 L60.50,146.54 L60.70,146.53 L60.90,146.53 L61.10,146.53 L61.30,146.53 L61.50,146.53 L61.70,146.53 L61.90,146.52 L62.10,146.52 L62.30,146.52 L62.50,146.52 L62.70,146.51 L62.90,146.51 L63.10,146.51 L63.30,146.50 L63.50,146.50 L63.70,146.50 L63.90,146.49 L64.10,146.49 L64.30,146.48 L64.50,146.48 L64.70,146.47 L64.90,146.47 L65.10,146.46 L65.30,146.46 L65.50,146.45 L65.70,146.44 L65.90,146.44 L66.10,146.43 L66.30,146.42 L66.50,146.41 L66.70,146.40 L66.90,146.39 L67.10,146.38 L67.30,146.37 L67.50,146.35 L67.70,146.34 L67.90,146.32 L68.10,146.30 L68.30,146.28 L68.50,146.26 L68.70,146.23 L68.90,146.21 L69.10,146.18 L69.30,146.14 L69.50,146.10 L69.70,146.06 L69.90,146.01 L70.10,145.95 L70.30,145.88 L70.50,145.80 L70.70,145.71 L70.90,145.59 L71.10,145.46 L71.30,145.28 L71.50,145.03 L71.70,144.67 L71.90,144.11 L72.10,143.18 L72.30,141.67 L72.50,139.30 L72.70,135.77 L72.90,130.88 L73.10,124.63 L73.30,117.38 L73.50,109.92 L73.70,103.51 L73.90,99.70 L74.10,99.70 L74.30,103.51 L74.50,109.92 L74.70,117.38 L74.90,124.63 L75.10,130.88 L75.30,135.77 L75.50,139.30 L75.70,141.67 L75.90,143.18 L76.10,144.11 L76.30,144.67 L76.50,145.03 L76.70,145.28 L76.90,145.45 L77.10,145.59 L77.30,145.70 L77.50,145.80 L77.70,145.88 L77.90,145.94 L78.10,146.00 L78.30,146.05 L78.50,146.10 L78.70,146.14 L78.90,146.17 L79.10,146.20 L79.30,146.23 L79.50,146.26 L79.70,146.28 L79.90,146.30 L80.10,146.32 L80.30,146.33 L80.50,146.35 L80.70,146.36 L80.90,146.38 L81.10,146.39 L81.30,146.40 L81.50,146.41 L81.70,146.42 L81.90,146.43 L82.10,146.43 L82.30,146.44 L82.50,146.45 L82.70,146.45 L82.90,146.46 L83.10,146.46 L83.30,146.47 L83.50,146.47 L83.70,146.48 L83.90,146.48 L84.10,146.49 L84.30,146.49 L84.50,146.49 L84.70,146.50 L84.90,146.50 L85.10,146.50 L85.30,146.51 L85.50,146.51 L85.70,146.51 L85.90,146.51 L86.10,146.52 L86.30,146.52 L86.50,146.52 L86.70,146.52 L86.90,146.52 L87.10,146.53 L87.30,146.53 L87.50,146.53 L87.70,146.53 L87.90,146.53 L88.10,146.53 L88.30,146.54 L88.50,146.54 L88.70,146.54 L88.90,146.54 L89.10,146.54 L89.30,146.54 L89.50,146.54 L89.70,146.54 L89.90,146.54 L90.10,146.55 L90.30,146.55 L90.50,146.55 L90.70,146.55 L90.90,146.55 L91.10,146.55 L91.30,146.55 L91.50,146.55 L91.70,146.55 L91.90,146.55 L92.10,146.55 L92.30,146.55 L92.50,146.55 L92.70,146.55 L92.90,146.56 L93.10,146.56 L93.30,146.56 L93.50,146.56 L93.70,146.56 L93.90,146.56 L94.10,146.56 L94.30,146.56 L94.50,146.56 L94.70,146.56 L94.90,146.56 L95.10,146.56 L95.30,146.56 L95.50,146.56 L95.70,146.56 L95.90,146.56 L96.10,146.56 L96.30,146.56 L96.50,146.56 L96.70,146.56 L96.90,146.56 L97.10,146.56 L97.30,146.56 L97.50,146.56 L97.70,146.56 L97.90,146.56 L98.10,146.56 L98.30,146.56 L98.50,146.56 L98.70,146.56 L98.90,146.56 L99.10,146.56 L99.30,146.56 L99.50,146.56 L99.70,146.56 L99.90,146.56 L100.10,146.56 L100.30,146.56 L100.50,146.56 L100.70,146.56 L100.90,146.56 L101.10,146.56 L101.30,146.56 L101.50,146.56 L101.70,146.56 L101.90,146.56 L102.10,146.56 L102.30,146.56 L102.50,146.56 L102.70,146.56 L102.90,146.56 L103.10,146.56 L103.30,146.56 L103.50,146.56 L103.70,146.56 L103.90,146.56 L104.10,146.56 L104.30,146.56 L104.50,146.56 L104.70,146.56 L104.90,146.56 L105.10,146.56 L105.30,146.56 L105.50,146.56 L105.70,146.56 L105.90,146.56 L106.10,146.56 L106.30,146.56 L106.50,146.56 L106.70,146.56 L106.90,146.56 L107.10,146.56 L107.30,146.56 L107.50,146.56 L107.70,146.56 L107.90,146.56 L108.10,146.56 L108.30,146.56 L108.50,146.56 L108.70,146.56 L108.90,146.56 L109.10,146.56 L109.30,146.56 L109.50,146.56 L109.70,146.56 L109.90,146.56 L110.10,146.56 L110.30,146.56 L110.50,146.56 L110.70,146.56 L110.90,146.56 L111.10,146.56 L111.30,146.56 L111.50,146.56 L111.70,146.56 L111.90,146.56 L112.10,146.56 L112.30,146.56 L112.50,146.56 L112.70,146.56 L112.90,146.56 L113.10,146.56 L113.30,146.56 L113.50,146.56 L113.70,146.56 L113.90,146.56 L114.10,146.56 L114.30,146.56 L114.50,146.56 L114.70,146.56 L114.90,146.56 L115.10,146.56 L115.30,146.56 L115.50,146.56 L115.70,146.55 L115.90,146.55 L116.10,146.55 L116.30,146.55 L116.50,146.55 L116.70,146.55 L116.90,146.55 L117.10,146.55 L117.30,146.55 L117.50,146.55 L117.70,146.55 L117.90,146.55 L118.10,146.55 L118.30,146.55 L118.50,146.55 L118.70,146.55 L118.90,146.55 L119.10,146.55 L119.30,146.55 L119.50,146.55 L119.70,146.55 L119.90,146.55 L120.10,146.55 L120.30,146.55 L120.50,146.54 L120.70,146.54 L120.90,146.54 L121.10,146.54 L121.30,146.54 L121.50,146.54 L121.70,146.54 L121.90,146.54 L122.10,146.54 L122.30,146.54 L122.50,146.54 L122.70,146.54 L122.90,146.54 L123.10,146.54 L123.30,146.54 L123.50,146.54 L123.70,146.54 L123.90,146.53 L124.10,146.53 L124.30,146.53 L124.50,146.53 L124.70,146.53 L124.90,146.53 L125.10,146.53 L125.30,146.53 L125.50,146.53 L125.70,146.53 L125.90,146.53 L126.10,146.53 L126.30,146.52 L126.50,146.52 L126.70,146.52 L126.90,146.52 L127.10,146.52 L127.30,146.52 L127.50,146.52 L127.70,146.52 L127.90,146.52 L128.10,146.52 L128.30,146.51 L128.50,146.51 L128.70,146.51 L128.90,146.51 L129.10,146.51 L129.30,146.51 L129.50,146.51 L129.70,146.51 L129.90,146.50 L130.10,146.50 L130.30,146.50 L130.50,146.50 L130.70,146.50 L130.90,146.50 L131.10,146.50 L131.30,146.49 L131.50,146.49 L131.70,146.49 L131.90,146.49 L132.10,146.49 L132.30,146.49 L132.50,146.48 L132.70,146.48 L132.90,146.48 L133.10,146.48 L133.30,146.48 L133.50,146.47 L133.70,146.47 L133.90,146.47 L134.10,146.47 L134.30,146.47 L134.50,146.46 L134.70,146.46 L134.90,146.46 L135.10,146.46 L135.30,146.45 L135.50,146.45 L135.70,146.45 L135.90,146.44 L136.10,146.44 L136.30,146.44 L136.50,146.43 L136.70,146.43 L136.90,146.43 L137.10,146.42 L137.30,146.42 L137.50,146.42 L137.70,146.41 L137.90,146.41 L138.10,146.41 L138.30,146.40 L138.50,146.40 L138.70,146.39 L138.90,146.39 L139.10,146.38 L139.30,146.38 L139.50,146.37 L139.70,146.37 L139.90,146.36 L140.10,146.36 L140.30,146.35 L140.50,146.34 L140.70,146.34 L140.90,146.33 L141.10,146.32 L141.30,146.32 L141.50,146.31 L141.70,146.30 L141.90,146.29 L142.10,146.29 L142.30,146.28 L142.50,146.27 L142.70,146.26 L142.90,146.25 L143.10,146.24 L143.30,146.23 L143.50,146.21 L143.70,146.20 L143.90,146.19 L144.10,146.18 L144.30,146.16 L144.50,146.15 L144.70,146.13 L144.90,146.12 L145.10,146.10 L145.30,146.08 L145.50,146.06 L145.70,146.04 L145.90,146.02 L146.10,146.00 L146.30,145.98 L146.50,145.95 L146.70,145.93 L146.90,145.90 L147.10,145.87 L147.30,145.84 L147.50,145.80 L147.70,145.77 L147.90,145.73 L148.10,145.69 L148.30,145.64 L148.50,145.59 L148.70,145.54 L148.90,145.48 L149.10,145.42 L149.30,145.36 L149.50,145.29 L149.70,145.21 L149.90,145.12 L150.10,145.03 L150.30,144.93 L150.50,144.81 L150.70,144.69 L150.90,144.55 L151.10,144.40 L151.30,144.23 L151.50,144.03 L151.70,143.81 L151.90,143.56 L152.10,143.27 L152.30,142.92 L152.50,142.50 L152.70,141.97 L152.90,141.27 L153.10,140.34 L153.30,139.07 L153.50,137.33 L153.70,134.94 L153.90,131.72 L154.10,127.47 L154.30,122.06 L154.50,115.41 L154.70,107.56 L154.90,98.74 L155.10,89.34 L155.30,80.04 L155.50,71.71 L155.70,65.41 L155.90,62.02 L156.10,61.77 L156.30,64.08 L156.50,67.79 L156.70,71.65 L156.90,74.74 L157.10,76.55 L157.30,77.08 L157.50,76.77 L157.70,76.53 L157.90,77.51 L158.10,80.61 L158.30,86.03 L158.50,93.17 L158.70,101.13 L158.90,109.08 L159.10,116.43 L159.30,122.83 L159.50,128.12 L159.70,132.31 L159.90,135.49 L160.10,137.84 L160.30,139.53 L160.50,140.74 L160.70,141.62 L160.90,142.26 L161.10,142.76 L161.30,143.15 L161.50,143.47 L161.70,143.74 L161.90,143.98 L162.10,144.18 L162.30,144.36 L162.50,144.52 L162.70,144.67 L162.90,144.80 L163.10,144.91 L163.30,145.02 L163.50,145.11 L163.70,145.20 L163.90,145.28 L164.10,145.35 L164.30,145.42 L164.50,145.48 L164.70,145.54 L164.90,145.59 L165.10,145.64 L165.30,145.68 L165.50,145.73 L165.70,145.77 L165.90,145.80 L166.10,145.84 L166.30,145.87 L166.50,145.90 L166.70,145.93 L166.90,145.95 L167.10,145.98 L167.30,146.00 L167.50,146.02 L167.70,146.05 L167.90,146.07 L168.10,146.08 L168.30,146.10 L168.50,146.12 L168.70,146.14 L168.90,146.15 L169.10,146.17 L169.30,146.18 L169.50,146.19 L169.70,146.20 L169.90,146.22 L170.10,146.23 L170.30,146.24 L170.50,146.25 L170.70,146.26 L170.90,146.27 L171.10,146.28 L171.30,146.29 L171.50,146.30 L171.70,146.30 L171.90,146.31 L172.10,146.32 L172.30,146.33 L172.50,146.33 L172.70,146.34 L172.90,146.35 L173.10,146.35 L173.30,146.36 L173.50,146.36 L173.70,146.37 L173.90,146.37 L174.10,146.38 L174.30,146.39 L174.50,146.39 L174.70,146.39 L174.90,146.40 L175.10,146.40 L175.30,146.41 L175.50,146.41 L175.70,146.42 L175.90,146.42 L176.10,146.42 L176.30,146.43 L176.50,146.43 L176.70,146.43 L176.90,146.44 L177.10,146.44 L177.30,146.44 L177.50,146.45 L177.70,146.45 L177.90,146.45 L178.10,146.45 L178.30,146.46 L178.50,146.46 L178.70,146.46 L178.90,146.46 L179.10,146.47 L179.30,146.47 L179.50,146.47 L179.70,146.47 L179.90,146.48 L180.10,146.48 L180.30,146.48 L180.50,146.48 L180.70,146.48 L180.90,146.49 L181.10,146.49 L181.30,146.49 L181.50,146.49 L181.70,146.49 L181.90,146.50 L182.10,146.50 L182.30,146.50 L182.50,146.50 L182.70,146.50 L182.90,146.50 L183.10,146.50 L183.30,146.51 L183.50,146.51 L183.70,146.51 L183.90,146.51 L184.10,146.51 L184.30,146.51 L184.50,146.51 L184.70,146.51 L184.90,146.52 L185.10,146.52 L185.30,146.52 L185.50,146.52 L185.70,146.52 L185.90,146.52 L186.10,146.52 L186.30,146.52 L186.50,146.52 L186.70,146.53 L186.90,146.53 L187.10,146.53 L187.30,146.53 L187.50,146.53 L187.70,146.53 L187.90,146.53 L188.10,146.53 L188.30,146.53 L188.50,146.53 L188.70,146.53 L188.90,146.54 L189.10,146.54 L189.30,146.54 L189.50,146.54 L189.70,146.54 L189.90,146.54 L190.10,146.54 L190.30,146.54 L190.50,146.54 L190.70,146.54 L190.90,146.54 L191.10,146.54 L191.30,146.54 L191.50,146.54 L191.70,146.55 L191.90,146.55 L192.10,146.55 L192.30,146.55 L192.50,146.55 L192.70,146.55 L192.90,146.55 L193.10,146.55 L193.30,146.55 L193.50,146.55 L193.70,146.55 L193.90,146.55 L194.10,146.55 L194.30,146.55 L194.50,146.55 L194.70,146.55 L194.90,146.55 L195.10,146.55 L195.30,146.56 L195.50,146.56 L195.70,146.56 L195.90,146.56 L196.10,146.56 L196.30,146.56 L196.50,146.56 L196.70,146.56 L196.90,146.56 L197.10,146.56 L197.30,146.56 L197.50,146.56 L197.70,146.56 L197.90,146.56 L198.10,146.56 L198.30,146.56 L198.50,146.56 L198.70,146.56 L198.90,146.56 L199.10,146.56 L199.30,146.56 L199.50,146.56 L199.70,146.56 L199.90,146.56 L200.10,146.56 L200.30,146.56 L200.50,146.56 L200.70,146.57 L200.90,146.57 L201.10,146.57 L201.30,146.57 L201.50,146.57 L201.70,146.57 L201.90,146.57 L202.10,146.57 L202.30,146.57 L202.50,146.57 L202.70,146.57 L202.90,146.57 L203.10,146.57 L203.30,146.57 L203.50,146.57 L203.70,146.57 L203.90,146.57 L204.10,146.57 L204.30,146.57 L204.50,146.57 L204.70,146.57 L204.90,146.57 L205.10,146.57 L205.30,146.57 L205.50,146.57 L205.70,146.57 L205.90,146.57 L206.10,146.57 L206.30,146.57 L206.50,146.57 L206.70,146.57 L206.90,146.57 L207.10,146.57 L207.30,146.57 L207.50,146.57 L207.70,146.57 L207.90,146.57 L208.10,146.57 L208.30,146.57 L208.50,146.57 L208.70,146.58 L208.90,146.58 L209.10,146.58 L209.30,146.58 L209.50,146.58 L209.70,146.58 L209.90,146.58 L210.10,146.58 L210.30,146.58 L210.50,146.58 L210.70,146.58 L210.90,146.58 L211.10,146.58 L211.30,146.58 L211.50,146.58 L211.70,146.58 L211.90,146.58 L212.10,146.58 L212.30,146.58 L212.50,146.58 L212.70,146.58 L212.90,146.58 L213.10,146.58 L213.30,146.58 L213.50,146.58 L213.70,146.58 L213.90,146.58 L214.10,146.58 L214.30,146.58 L214.50,146.58 L214.70,146.58 L214.90,146.58 L215.10,146.58 L215.30,146.58 L215.50,146.58 L215.70,146.58 L215.90,146.58 L216.10,146.58 L216.30,146.58 L216.50,146.58 L216.70,146.58 L216.90,146.58 L217.10,146.58 L217.30,146.58 L217.50,146.58 L217.70,146.58 L217.90,146.58 L218.10,146.58 L218.30,146.58 L218.50,146.58 L218.70,146.58 L218.90,146.58 L219.10,146.58 L219.30,146.58 L219.50,146.58 L219.70,146.58 L219.90,146.58 L220.10,146.58 L220.30,146.58 L220.50,146.58 L220.70,146.58 L220.90,146.58 L221.10,146.58 L221.30,146.58 L221.50,146.58 L221.70,146.58 L221.90,146.58 L222.10,146.58 L222.30,146.58 L222.50,146.58 L222.70,146.58 L222.90,146.58 L223.10,146.58 L223.30,146.58 L223.50,146.58 L223.70,146.58 L223.90,146.58 L224.10,146.59 L224.30,146.59 L224.50,146.59 L224.70,146.59 L224.90,146.59 L225.10,146.59 L225.30,146.59 L225.50,146.59 L225.70,146.59 L225.90,146.59 L226.10,146.59 L226.30,146.59 L226.50,146.59 L226.70,146.59 L226.90,146.59 L227.10,146.59 L227.30,146.59 L227.50,146.59 L227.70,146.59 L227.90,146.59 L228.10,146.59 L228.30,146.59 L228.50,146.59 L228.70,146.59 L228.90,146.59 L229.10,146.59 L229.30,146.59 L229.50,146.59 L229.70,146.59 L229.90,146.59 L230.10,146.59 L230.30,146.59 L230.50,146.59 L230.70,146.59 L230.90,146.59 L231.10,146.59 L231.30,146.59 L231.50,146.59 L231.70,146.59 L231.90,146.59 L232.10,146.59 L232.30,146.59 L232.50,146.59 L232.70,146.59 L232.90,146.59 L233.10,146.59 L233.30,146.59 L233.50,146.59 L233.70,146.59 L233.90,146.59 L234.10,146.59 L234.30,146.59 L234.50,146.59 L234.70,146.59 L234.90,146.59 L235.10,146.59 L235.30,146.59 L235.50,146.59 L235.70,146.59 L235.90,146.59 L236.10,146.59 L236.30,146.59 L236.50,146.59 L236.70,146.59 L236.90,146.59 L237.10,146.59 L237.30,146.59 L237.50,146.59 L237.70,146.59 L237.90,146.59 L238.10,146.59 L238.30,146.59 L238.50,146.59 L238.70,146.59 L238.90,146.59 L239.10,146.59 L239.30,146.59 L239.50,146.59 L239.70,146.59 L239.90,146.59 L240.10,146.59 L240.30,146.59 L240.50,146.59 L240.70,146.59 L240.90,146.59 L241.10,146.59 L241.30,146.59 L241.50,146.59 L241.70,146.59 L241.90,146.59 L242.10,146.59 L242.30,146.59 L242.50,146.59 L242.70,146.59 L242.90,146.59 L243.10,146.59 L243.30,146.59 L243.50,146.59 L243.70,146.59 L243.90,146.59 L244.10,146.59 L244.30,146.59 L244.50,146.59 L244.70,146.59 L244.90,146.59 L245.10,146.59 L245.30,146.59 L245.50,146.59 L245.70,146.59 L245.90,146.59 L246.10,146.59 L246.30,146.59 L246.50,146.59 L246.70,146.59 L246.90,146.59 L247.10,146.59 L247.30,146.59 L247.50,146.59 L247.70,146.59 L247.90,146.59 L248.10,146.59 L248.30,146.59 L248.50,146.59 L248.70,146.59 L248.90,146.59 L249.10,146.59 L249.30,146.59 L249.50,146.59 L249.70,146.59 L249.90,146.59 L250.10,146.59 L250.30,146.59 L250.50,146.59 L250.70,146.59 L250.90,146.59 L251.10,146.59 L251.30,146.59 L251.50,146.59 L251.70,146.59 L251.90,146.59 L252.10,146.59 L252.30,146.59 L252.50,146.59 L252.70,146.59 L252.90,146.59 L253.10,146.59 L253.30,146.59 L253.50,146.59 L253.70,146.59 L253.90,146.59 L254.10,146.59 L254.30,146.59 L254.50,146.59 L254.70,146.59 L254.90,146.59 L255.10,146.59 L255.30,146.59 L255.50,146.59 L255.70,146.59 L255.90,146.59 L256.10,146.59 L256.30,146.59 L256.50,146.59 L256.70,146.59 L256.90,146.59 L257.10,146.59 L257.30,146.59 L257.50,146.59 L257.70,146.59 L257.90,146.59 L258.10,146.59 L258.30,146.59 L258.50,146.59 L258.70,146.59 L258.90,146.59 L259.10,146.59 L259.30,146.59 L259.50,146.59 L259.70,146.59 L259.90,146.59 L260.10,146.59 L260.30,146.59 L260.50,146.59 L260.70,146.59 L260.90,146.59 L261.10,146.59 L261.30,146.59 L261.50,146.59 L261.70,146.59 L261.90,146.59 L262.10,146.59 L262.30,146.59 L262.50,146.59 L262.70,146.59 L262.90,146.59 L263.10,146.59 L263.30,146.59 L263.50,146.59 L263.70,146.59 L263.90,146.59 L264.10,146.59 L264.30,146.59 L264.50,146.59 L264.70,146.59 L264.90,146.59 L265.10,146.59 L265.30,146.59 L265.50,146.59 L265.70,146.59 L265.90,146.59 L266.10,146.59 L266.30,146.59 L266.50,146.59 L266.70,146.59 L266.90,146.59 L267.10,146.59 L267.30,146.59 L267.50,146.59 L267.70,146.59 L267.90,146.59 L268.10,146.59 L268.30,146.59 L268.50,146.59 L268.70,146.59 L268.90,146.59 L269.10,146.59 L269.30,146.59 L269.50,146.59 L269.70,146.59 L269.90,146.59 L270.10,146.59 L270.30,146.59 L270.50,146.59 L270.70,146.59 L270.90,146.59 L271.10,146.59 L271.30,146.59 L271.50,146.59 L271.70,146.59 L271.90,146.59 L272.10,146.59 L272.30,146.59 L272.50,146.59 L272.70,146.59 L272.90,146.59 L273.10,146.59 L273.30,146.59 L273.50,146.59 L273.70,146.59 L273.90,146.59 L274.10,146.59 L274.30,146.59 L274.50,146.59 L274.70,146.60 L274.90,146.60 L275.10,146.60 L275.30,146.60 L275.50,146.60 L275.70,146.60 L275.90,146.60 L276.10,146.60 L276.30,146.60 L276.50,146.60 L276.70,146.60 L276.90,146.60 L277.10,146.60 L277.30,146.60 L277.50,146.60 L277.70,146.60 L277.90,146.60 L278.10,146.60 L278.30,146.60 L278.50,146.60 L278.70,146.60 L278.90,146.60 L279.10,146.60 L279.30,146.60 L279.50,146.60 L279.70,146.60 L279.90,146.60 L280.10,146.60 L280.30,146.60 L280.50,146.60 L280.70,146.60 L280.90,146.60 L281.10,146.60 L281.30,146.60 L281.50,146.60 L281.70,146.60 L281.90,146.60 L282.10,146.60 L282.30,146.60 L282.50,146.60 L282.70,146.60 L282.90,146.60 L283.10,146.60 L283.30,146.60 L283.50,146.60 L283.70,146.60 L283.90,146.60 L284.10,146.60 L284.30,146.60 L284.50,146.60 L284.70,146.60 L284.90,146.60 L285.10,146.60 L285.30,146.60 L285.50,146.60 L285.70,146.60" stroke="#2828e6" stroke-width="1.1" fill="none" stroke-linejoin="round"/>
<rect x="38.5" y="6.6" width="247.3" height="154.20000000000002" fill="none" stroke="#444" stroke-width="1"/>
<line x1="38.50" y1="160.80" x2="38.50" y2="162.80" stroke="#444" stroke-width="1"/>
<line x1="57.52" y1="160.80" x2="57.52" y2="164.30" stroke="#444" stroke-width="1"/>
<line x1="76.54" y1="160.80" x2="76.54" y2="162.80" stroke="#444" stroke-width="1"/>
<line x1="95.56" y1="160.80" x2="95.56" y2="164.30" stroke="#444" stroke-width="1"/>
<line x1="114.58" y1="160.80" x2="114.58" y2="162.80" stroke="#444" stroke-width="1"/>
<line x1="133.60" y1="160.80" x2="133.60" y2="164.30" stroke="#444" stroke-width="1"/>
<line x1="152.62" y1="160.80" x2="152.62" y2="162.80" stroke="#444" stroke-width="1"/>
<line x1="171.64" y1="160.80" x2="171.64" y2="164.30" stroke="#444" stroke-width="1"/>
<line x1="190.66" y1="160.80" x2="190.66" y2="162.80" stroke="#444" stroke-width="1"/>
<line x1="209.68" y1="160.80" x2="209.68" y2="164.30" stroke="#444" stroke-width="1"/>
<line x1="228.70" y1="160.80" x2="228.70" y2="162.80" stroke="#444" stroke-width="1"/>
<line x1="247.72" y1="160.80" x2="247.72" y2="164.30" stroke="#444" stroke-width="1"/>
<line x1="266.74" y1="160.80" x2="266.74" y2="162.80" stroke="#444" stroke-width="1"/>
<line x1="285.76" y1="160.80" x2="285.76" y2="164.30" stroke="#444" stroke-width="1"/>
<text x="57.52" y="177.00" font-size="12" fill="#1a1a1a" text-anchor="middle">4.8</text>
<text x="95.56" y="177.00" font-size="12" fill="#1a1a1a" text-anchor="middle">4.6</text>
<text x="133.60" y="177.00" font-size="12" fill="#1a1a1a" text-anchor="middle">4.4</text>
<text x="171.64" y="177.00" font-size="12" fill="#1a1a1a" text-anchor="middle">4.2</text>
<text x="209.68" y="177.00" font-size="12" fill="#1a1a1a" text-anchor="middle">4.0</text>
<text x="247.72" y="177.00" font-size="12" fill="#1a1a1a" text-anchor="middle">3.8</text>
<text x="285.76" y="177.00" font-size="12" fill="#1a1a1a" text-anchor="middle">3.6</text>
<text x="162.60" y="188.80" font-size="11.7" fill="#1a1a1a" text-anchor="middle"><tspan font-size="7.25" dy="-4.21">1</tspan><tspan dy="4.21">H Chemical shift (ppm)</tspan></text>
<text x="29.70" y="82.60" font-size="11.6" fill="#1a1a1a" text-anchor="middle" transform="rotate(-90 29.7 82.6)">Intensity (a.u.)</text>
<text x="93.40" y="24.20" font-size="10.2" fill="#e8323c" text-anchor="middle">363 K</text>
<line x1="91.90" y1="25.80" x2="91.90" y2="40.00" stroke="#e8323c" stroke-width="0.8"/>
<path d="M89.9,38.5 L93.9,38.5 L91.9,43.5Z" fill="#e8323c"/>
<text x="157.50" y="35.80" font-size="10.2" fill="#2828e6" text-anchor="middle">333 K</text>
<line x1="156.00" y1="37.40" x2="156.00" y2="52.00" stroke="#2828e6" stroke-width="0.8"/>
<path d="M154,50.5 L158,50.5 L156,55.5Z" fill="#2828e6"/>
<text x="236.60" y="84.10" font-size="10.2" fill="#1a1a1a" text-anchor="middle">298 K</text>
<line x1="235.50" y1="87.00" x2="235.50" y2="101.00" stroke="#222" stroke-width="0.8"/>
<path d="M233.5,100 L237.5,100 L235.5,105.5Z" fill="#222"/>
<text x="65.00" y="83.40" font-size="10.2" fill="#1a1a1a" text-anchor="middle">Peak of <tspan font-size="6.32" dy="-3.67">1</tspan><tspan dy="3.67">H</tspan></text>
<text x="64.30" y="95.40" font-size="10.2" fill="#1a1a1a" text-anchor="middle">in D<tspan font-size="7" dy="2.5">2</tspan><tspan dy="-2.5">O</tspan></text>
<text x="206.40" y="122.80" font-size="10.2" fill="#1a1a1a" text-anchor="middle">Peak of <tspan font-size="6.32" dy="-3.67">1</tspan><tspan dy="3.67">H</tspan></text>
<text x="206.00" y="134.70" font-size="10.2" fill="#1a1a1a" text-anchor="middle">in DMC</text>
<rect x="251.6" y="97.4" width="11.6" height="44.6" fill="#111"/>
<rect x="249.1" y="95" width="11.6" height="44.6" fill="#fff" stroke="#999" stroke-width="0.6"/>
<text x="258.30" y="117.60" font-size="8.0" fill="#1a1a1a" text-anchor="middle" transform="rotate(-90 258.3 117.6)">Single peak</text>
<text x="315.20" y="12.50" font-size="15.5" fill="#1a1a1a" text-anchor="start">b</text>
<text x="331.50" y="17.70" font-size="10.2" fill="#2a2a2a" text-anchor="start">Almost same as</text>
<text x="331.50" y="30.00" font-size="10.2" fill="#2a2a2a" text-anchor="start">normal <tspan font-size="6.32" dy="-3.67">1</tspan><tspan dy="3.67">H NMR</tspan></text>
<text x="331.50" y="41.90" font-size="10.2" fill="#2a2a2a" text-anchor="start">spectrum.</text>
<line x1="407.30" y1="18.90" x2="433.90" y2="27.20" stroke="#333" stroke-width="0.8"/>
<path d="M430.36,27.87 L433.90,27.20 L431.37,24.64" stroke="#333" stroke-width="0.8" fill="none"/>
<line x1="377.30" y1="35.20" x2="398.90" y2="60.90" stroke="#333" stroke-width="0.8"/>
<path d="M395.56,59.55 L398.90,60.90 L398.15,57.38" stroke="#333" stroke-width="0.8" fill="none"/>
<path d="M416.10,52.90 C419.05,52.90 430.40,53.65 433.80,52.90 C437.20,52.15 435.38,51.30 436.50,48.40 C437.62,45.50 439.17,39.78 440.50,35.50 C441.83,31.22 443.17,25.65 444.50,22.70 C445.83,19.75 447.23,17.80 448.50,17.80 C449.77,17.80 450.88,20.15 452.10,22.70 C453.32,25.25 454.52,30.17 455.80,33.10 C457.08,36.03 458.33,38.70 459.80,40.30 C461.27,41.90 462.87,42.63 464.60,42.70 C466.33,42.77 468.47,42.17 470.20,40.70 C471.93,39.23 473.47,35.70 475.00,33.90 C476.53,32.10 478.05,30.17 479.40,29.90 C480.75,29.63 481.82,30.30 483.10,32.30 C484.38,34.30 485.90,38.95 487.10,41.90 C488.30,44.85 489.37,48.17 490.30,50.00 C491.23,51.83 488.42,52.42 492.70,52.90 C496.98,53.38 512.12,52.90 516.00,52.90" stroke="#333" stroke-width="0.8" fill="none" stroke-linejoin="round"/>
<path d="M403.40,65.20 C403.40,68.90 404.30,83.02 403.40,87.40 C402.50,91.78 400.90,90.07 398.00,91.50 C395.10,92.93 389.05,94.53 386.00,96.00 C382.95,97.47 380.03,98.63 379.70,100.30 C379.37,101.97 382.12,104.05 384.00,106.00 C385.88,107.95 389.57,110.28 391.00,112.00 C392.43,113.72 392.77,114.63 392.60,116.30 C392.43,117.97 392.43,120.13 390.00,122.00 C387.57,123.87 381.77,125.98 378.00,127.50 C374.23,129.02 368.07,129.85 367.40,131.10 C366.73,132.35 369.90,133.35 374.00,135.00 C378.10,136.65 387.42,139.42 392.00,141.00 C396.58,142.58 399.60,143.33 401.50,144.50 C403.40,145.67 403.08,144.80 403.40,148.00 C403.72,151.20 403.40,161.08 403.40,163.70" stroke="#333" stroke-width="0.8" fill="none" stroke-linejoin="round"/>
<text x="448.90" y="16.20" font-size="9.4" fill="#2a2a2a" text-anchor="middle">p1</text>
<text x="481.40" y="28.30" font-size="9.4" fill="#2a2a2a" text-anchor="middle">p2</text>
<text x="373.00" y="104.00" font-size="9.4" fill="#2a2a2a" text-anchor="middle">p2</text>
<text x="360.60" y="133.60" font-size="9.4" fill="#2a2a2a" text-anchor="middle">p1</text>
<line x1="448.80" y1="19.00" x2="448.80" y2="164.00" stroke="#e0303a" stroke-width="0.7" stroke-dasharray="1 1.6"/>
<line x1="480.10" y1="31.00" x2="480.10" y2="164.00" stroke="#e0303a" stroke-width="0.7" stroke-dasharray="1 1.6"/>
<line x1="381.00" y1="100.30" x2="516.00" y2="100.30" stroke="#e0303a" stroke-width="0.7" stroke-dasharray="1 1.6"/>
<line x1="368.50" y1="131.00" x2="516.00" y2="131.00" stroke="#e0303a" stroke-width="0.7" stroke-dasharray="1 1.6"/>
<line x1="416.50" y1="163.70" x2="515.80" y2="64.60" stroke="#8fa8e0" stroke-width="0.7" stroke-dasharray="2 1"/>
<rect x="416.1" y="64.5" width="99.9" height="99.4" fill="none" stroke="#333" stroke-width="1.2"/>
<circle cx="449.1" cy="100.3" r="9.1" fill="none" stroke="#333" stroke-width="0.8"/>
<circle cx="449.0" cy="100.3" r="5.5" fill="none" stroke="#333" stroke-width="0.8"/>
<circle cx="449.1" cy="100.3" r="3.6" fill="none" stroke="#333" stroke-width="0.8"/>
<circle cx="449.0" cy="100.3" r="1.6" fill="none" stroke="#777" stroke-width="0.5"/>
<circle cx="480.40000000000003" cy="100.3" r="9.1" fill="none" stroke="#333" stroke-width="0.8"/>
<circle cx="480.3" cy="100.3" r="5.5" fill="none" stroke="#333" stroke-width="0.8"/>
<circle cx="480.40000000000003" cy="100.3" r="3.6" fill="none" stroke="#333" stroke-width="0.8"/>
<circle cx="480.3" cy="100.3" r="1.6" fill="none" stroke="#777" stroke-width="0.5"/>
<circle cx="449.1" cy="130.9" r="9.1" fill="none" stroke="#333" stroke-width="0.8"/>
<circle cx="449.0" cy="130.9" r="5.5" fill="none" stroke="#333" stroke-width="0.8"/>
<circle cx="449.1" cy="130.9" r="3.6" fill="none" stroke="#333" stroke-width="0.8"/>
<circle cx="449.0" cy="130.9" r="1.6" fill="none" stroke="#777" stroke-width="0.5"/>
<circle cx="480.40000000000003" cy="130.9" r="9.1" fill="none" stroke="#333" stroke-width="0.8"/>
<circle cx="480.3" cy="130.9" r="5.5" fill="none" stroke="#333" stroke-width="0.8"/>
<circle cx="480.40000000000003" cy="130.9" r="3.6" fill="none" stroke="#333" stroke-width="0.8"/>
<circle cx="480.3" cy="130.9" r="1.6" fill="none" stroke="#777" stroke-width="0.5"/>
<path d="M548,111.4 C545,95 530,80 506,76 C488,73 470,74 463,80 C460,83 458,86 457.3,89.5" fill="none" stroke="#333" stroke-width="0.8"/>
<path d="M456.98,86.11 L457.30,89.70 L460.10,87.43" stroke="#333" stroke-width="0.8" fill="none"/>
<path d="M541.5,70.4 C525,71 507,73 496.6,77.7 C491,80.5 487,84.5 484.5,88.1" fill="none" stroke="#333" stroke-width="0.8"/>
<path d="M485.24,84.58 L484.50,88.10 L487.83,86.74" stroke="#333" stroke-width="0.8" fill="none"/>
<path d="M547,75.3 C549,88 540,98 530,101 C515,106.5 490,114 459.6,124.2" fill="none" stroke="#333" stroke-width="0.8"/>
<path d="M462.08,121.59 L459.60,124.20 L463.15,124.80" stroke="#333" stroke-width="0.8" fill="none"/>
<path d="M547.2,121.8 C530,122.5 515,123.5 500,127.5 C496,128.7 494,129.7 492,130.7" fill="none" stroke="#555" stroke-width="0.7" stroke-dasharray="1 0.9"/>
<path d="M494.21,127.85 L492.00,130.70 L495.59,130.94" stroke="#333" stroke-width="0.8" fill="none"/>
<text x="382.50" y="177.40" font-size="10.2" fill="#4a78c8" text-anchor="start">Diagonal line</text>
<text x="458.00" y="180.00" font-size="10.2" fill="#2a2a2a" text-anchor="start">H1</text>
<text x="523.60" y="117.80" font-size="10.2" fill="#2a2a2a" text-anchor="start">H2</text>
<text x="536.50" y="51.60" font-size="10.2" fill="#2a2a2a" text-anchor="start">•</text>
<text x="544.60" y="51.60" font-size="10.2" fill="#2a2a2a" text-anchor="start">Peak at diagonal line is related</text>
<text x="544.60" y="63.70" font-size="10.2" fill="#2a2a2a" text-anchor="start">to identical position of <tspan font-size="6.32" dy="-3.67">1</tspan><tspan dy="3.67">H.</tspan></text>
<text x="544.60" y="75.80" font-size="10.2" fill="#2a2a2a" text-anchor="start">(p1-p1 and p2-p2)</text>
<text x="528.40" y="136.50" font-size="10.2" fill="#2a2a2a" text-anchor="start">•</text>
<text x="535.00" y="136.50" font-size="10.2" fill="#2a2a2a" text-anchor="start">If <tspan font-size="6.32" dy="-3.67">1</tspan><tspan dy="3.67">H</tspan> at p1 and <tspan font-size="6.32" dy="-3.67">1</tspan><tspan dy="3.67">H</tspan> at p2 are</text>
<text x="535.00" y="148.60" font-size="10.2" fill="#2a2a2a" text-anchor="start">converted each other, these</text>
<text x="535.00" y="160.70" font-size="10.2" fill="#2a2a2a" text-anchor="start">peaks appear.</text>
<text x="14.90" y="511.80" font-size="15.5" fill="#1a1a1a" text-anchor="start">e</text>
<path d="M35.20,686.76 L35.45,686.76 L35.70,686.75 L35.95,686.75 L36.20,686.75 L36.45,686.75 L36.70,686.75 L36.95,686.74 L37.20,686.74 L37.45,686.74 L37.70,686.74 L37.95,686.74 L38.20,686.73 L38.45,686.73 L38.70,686.73 L38.95,686.73 L39.20,686.72 L39.45,686.72 L39.70,686.72 L39.95,686.72 L40.20,686.71 L40.45,686.71 L40.70,686.71 L40.95,686.70 L41.20,686.70 L41.45,686.70 L41.70,686.69 L41.95,686.69 L42.20,686.69 L42.45,686.68 L42.70,686.68 L42.95,686.68 L43.20,686.67 L43.45,686.67 L43.70,686.66 L43.95,686.66 L44.20,686.65 L44.45,686.65 L44.70,686.65 L44.95,686.64 L45.20,686.64 L45.45,686.63 L45.70,686.63 L45.95,686.62 L46.20,686.62 L46.45,686.61 L46.70,686.60 L46.95,686.60 L47.20,686.59 L47.45,686.59 L47.70,686.58 L47.95,686.57 L48.20,686.57 L48.45,686.56 L48.70,686.55 L48.95,686.54 L49.20,686.54 L49.45,686.53 L49.70,686.52 L49.95,686.51 L50.20,686.50 L50.45,686.49 L50.70,686.48 L50.95,686.47 L51.20,686.46 L51.45,686.45 L51.70,686.44 L51.95,686.43 L52.20,686.42 L52.45,686.40 L52.70,686.39 L52.95,686.38 L53.20,686.37 L53.45,686.35 L53.70,686.34 L53.95,686.32 L54.20,686.30 L54.45,686.29 L54.70,686.27 L54.95,686.25 L55.20,686.23 L55.45,686.21 L55.70,686.19 L55.95,686.17 L56.20,686.14 L56.45,686.11 L56.70,686.09 L56.95,686.05 L57.20,686.02 L57.45,685.98 L57.70,685.94 L57.95,685.90 L58.20,685.84 L58.45,685.78 L58.70,685.72 L58.95,685.64 L59.20,685.55 L59.45,685.45 L59.70,685.33 L59.95,685.19 L60.20,685.03 L60.45,684.85 L60.70,684.63 L60.95,684.38 L61.20,684.08 L61.45,683.74 L61.70,683.35 L61.95,682.89 L62.20,682.37 L62.45,681.77 L62.70,681.08 L62.95,680.30 L63.20,679.41 L63.45,678.41 L63.70,677.29 L63.95,676.03 L64.20,674.63 L64.45,673.08 L64.70,671.38 L64.95,669.52 L65.20,667.48 L65.45,665.28 L65.70,662.91 L65.95,660.38 L66.20,657.68 L66.45,654.82 L66.70,651.82 L66.95,648.69 L67.20,645.45 L67.45,642.11 L67.70,638.70 L67.95,635.25 L68.20,631.78 L68.45,628.32 L68.70,624.92 L68.95,621.61 L69.20,618.42 L69.45,615.39 L69.70,612.56 L69.95,609.98 L70.20,607.68 L70.45,605.69 L70.70,604.04 L70.95,602.77 L71.20,601.90 L71.45,601.44 L71.70,601.39 L71.95,601.77 L72.20,602.56 L72.45,603.75 L72.70,605.32 L72.95,607.24 L73.20,609.49 L73.45,612.01 L73.70,614.79 L73.95,617.78 L74.20,620.94 L74.45,624.23 L74.70,627.62 L74.95,631.06 L75.20,634.53 L75.45,637.98 L75.70,641.40 L75.95,644.76 L76.20,648.02 L76.45,651.17 L76.70,654.20 L76.95,657.08 L77.20,659.81 L77.45,662.38 L77.70,664.78 L77.95,667.01 L78.20,669.08 L78.45,670.97 L78.70,672.71 L78.95,674.28 L79.20,675.71 L79.45,676.99 L79.70,678.14 L79.95,679.16 L80.20,680.07 L80.45,680.87 L80.70,681.57 L80.95,682.19 L81.20,682.73 L81.45,683.19 L81.70,683.60 L81.95,683.95 L82.20,684.25 L82.45,684.51 L82.70,684.73 L82.95,684.92 L83.20,685.08 L83.45,685.22 L83.70,685.34 L83.95,685.44 L84.20,685.53 L84.45,685.61 L84.70,685.68 L84.95,685.74 L85.20,685.79 L85.45,685.83 L85.70,685.87 L85.95,685.91 L86.20,685.94 L86.45,685.97 L86.70,686.00 L86.95,686.02 L87.20,686.05 L87.45,686.07 L87.70,686.09 L87.95,686.11 L88.20,686.13 L88.45,686.14 L88.70,686.16 L88.95,686.17 L89.20,686.19 L89.45,686.20 L89.70,686.21 L89.95,686.23 L90.20,686.24 L90.45,686.25 L90.70,686.26 L90.95,686.27 L91.20,686.28 L91.45,686.29 L91.70,686.30 L91.95,686.30 L92.20,686.31 L92.45,686.32 L92.70,686.33 L92.95,686.33 L93.20,686.34 L93.45,686.35 L93.70,686.35 L93.95,686.36 L94.20,686.36 L94.45,686.37 L94.70,686.37 L94.95,686.38 L95.20,686.38 L95.45,686.39 L95.70,686.39 L95.95,686.40 L96.20,686.40 L96.45,686.40 L96.70,686.41 L96.95,686.41 L97.20,686.41 L97.45,686.41 L97.70,686.42 L97.95,686.42 L98.20,686.42 L98.45,686.42 L98.70,686.42 L98.95,686.43 L99.20,686.43 L99.45,686.43 L99.70,686.43 L99.95,686.43 L100.20,686.43 L100.45,686.43 L100.70,686.43 L100.95,686.43 L101.20,686.43 L101.45,686.43 L101.70,686.42 L101.95,686.42 L102.20,686.42 L102.45,686.42 L102.70,686.42 L102.95,686.42 L103.20,686.41 L103.45,686.41 L103.70,686.41 L103.95,686.41 L104.20,686.40 L104.45,686.40 L104.70,686.40 L104.95,686.40 L105.20,686.39 L105.45,686.39 L105.70,686.39 L105.95,686.38 L106.20,686.38 L106.45,686.38 L106.70,686.37 L106.95,686.37 L107.20,686.37 L107.45,686.36 L107.70,686.36 L107.95,686.36 L108.20,686.35 L108.45,686.35 L108.70,686.34 L108.95,686.34 L109.20,686.34 L109.45,686.33 L109.70,686.33 L109.95,686.32 L110.20,686.32 L110.45,686.31 L110.70,686.31 L110.95,686.30 L111.20,686.30 L111.45,686.30 L111.70,686.29 L111.95,686.29 L112.20,686.28 L112.45,686.27 L112.70,686.27 L112.95,686.26 L113.20,686.26 L113.45,686.25 L113.70,686.25 L113.95,686.24 L114.20,686.24 L114.45,686.23 L114.70,686.22 L114.95,686.22 L115.20,686.21 L115.45,686.21 L115.70,686.20 L115.95,686.19 L116.20,686.19 L116.45,686.18 L116.70,686.18 L116.95,686.17 L117.20,686.16 L117.45,686.16 L117.70,686.15 L117.95,686.14 L118.20,686.14 L118.45,686.13 L118.70,686.12 L118.95,686.11 L119.20,686.11 L119.45,686.10 L119.70,686.09 L119.95,686.08 L120.20,686.08 L120.45,686.07 L120.70,686.06 L120.95,686.05 L121.20,686.05 L121.45,686.04 L121.70,686.03 L121.95,686.02 L122.20,686.01 L122.45,686.01 L122.70,686.00 L122.95,685.99 L123.20,685.98 L123.45,685.97 L123.70,685.96 L123.95,685.95 L124.20,685.94 L124.45,685.93 L124.70,685.93 L124.95,685.92 L125.20,685.91 L125.45,685.90 L125.70,685.89 L125.95,685.88 L126.20,685.87 L126.45,685.86 L126.70,685.85 L126.95,685.84 L127.20,685.83 L127.45,685.82 L127.70,685.81 L127.95,685.80 L128.20,685.79 L128.45,685.78 L128.70,685.76 L128.95,685.75 L129.20,685.74 L129.45,685.73 L129.70,685.72 L129.95,685.71 L130.20,685.70 L130.45,685.68" stroke="#333" stroke-width="0.9" fill="none" stroke-linejoin="round"/>
<path d="M134.90,685.45 L135.15,685.44 L135.40,685.42 L135.65,685.41 L135.90,685.39 L136.15,685.38 L136.40,685.36 L136.65,685.35 L136.90,685.33 L137.15,685.31 L137.40,685.30 L137.65,685.28 L137.90,685.27 L138.15,685.25 L138.40,685.23 L138.65,685.22 L138.90,685.20 L139.15,685.18 L139.40,685.16 L139.65,685.15 L139.90,685.13 L140.15,685.11 L140.40,685.09 L140.65,685.07 L140.90,685.05 L141.15,685.03 L141.40,685.01 L141.65,684.99 L141.90,684.97 L142.15,684.95 L142.40,684.93 L142.65,684.91 L142.90,684.89 L143.15,684.87 L143.40,684.85 L143.65,684.83 L143.90,684.80 L144.15,684.78 L144.40,684.76 L144.65,684.74 L144.90,684.71 L145.15,684.69 L145.40,684.67 L145.65,684.64 L145.90,684.62 L146.15,684.59 L146.40,684.57 L146.65,684.54 L146.90,684.51 L147.15,684.49 L147.40,684.46 L147.65,684.43 L147.90,684.41 L148.15,684.38 L148.40,684.35 L148.65,684.32 L148.90,684.29 L149.15,684.26 L149.40,684.23 L149.65,684.20 L149.90,684.17 L150.15,684.14 L150.40,684.11 L150.65,684.08 L150.90,684.05 L151.15,684.01 L151.40,683.98 L151.65,683.95 L151.90,683.91 L152.15,683.88 L152.40,683.84 L152.65,683.80 L152.90,683.77 L153.15,683.73 L153.40,683.69 L153.65,683.66 L153.90,683.62 L154.15,683.58 L154.40,683.54 L154.65,683.50 L154.90,683.45 L155.15,683.41 L155.40,683.37 L155.65,683.33 L155.90,683.28 L156.15,683.24 L156.40,683.19 L156.65,683.14 L156.90,683.10 L157.15,683.05 L157.40,683.00 L157.65,682.95 L157.90,682.90 L158.15,682.85 L158.40,682.80 L158.65,682.74 L158.90,682.69 L159.15,682.63 L159.40,682.58 L159.65,682.52 L159.90,682.46 L160.15,682.40 L160.40,682.34 L160.65,682.28 L160.90,682.22 L161.15,682.16 L161.40,682.09 L161.65,682.03 L161.90,681.96 L162.15,681.89 L162.40,681.82 L162.65,681.75 L162.90,681.68 L163.15,681.60 L163.40,681.53 L163.65,681.45 L163.90,681.37 L164.15,681.30 L164.40,681.21 L164.65,681.13 L164.90,681.05 L165.15,680.96 L165.40,680.87 L165.65,680.78 L165.90,680.69 L166.15,680.60 L166.40,680.50 L166.65,680.40 L166.90,680.30 L167.15,680.20 L167.40,680.10 L167.65,679.99 L167.90,679.88 L168.15,679.77 L168.40,679.66 L168.65,679.54 L168.90,679.42 L169.15,679.30 L169.40,679.18 L169.65,679.05 L169.90,678.92 L170.15,678.78 L170.40,678.65 L170.65,678.51 L170.90,678.36 L171.15,678.22 L171.40,678.07 L171.65,677.91 L171.90,677.76 L172.15,677.59 L172.40,677.43 L172.65,677.26 L172.90,677.08 L173.15,676.90 L173.40,676.72 L173.65,676.53 L173.90,676.34 L174.15,676.14 L174.40,675.93 L174.65,675.72 L174.90,675.51 L175.15,675.29 L175.40,675.06 L175.65,674.82 L175.90,674.58 L176.15,674.33 L176.40,674.08 L176.65,673.81 L176.90,673.54 L177.15,673.26 L177.40,672.97 L177.65,672.67 L177.90,672.36 L178.15,672.04 L178.40,671.71 L178.65,671.37 L178.90,671.02 L179.15,670.66 L179.40,670.28 L179.65,669.89 L179.90,669.49 L180.15,669.07 L180.40,668.63 L180.65,668.18 L180.90,667.72 L181.15,667.23 L181.40,666.73 L181.65,666.20 L181.90,665.66 L182.15,665.09 L182.40,664.50 L182.65,663.89 L182.90,663.25 L183.15,662.59 L183.40,661.89 L183.65,661.17 L183.90,660.42 L184.15,659.63 L184.40,658.81 L184.65,657.95 L184.90,657.06 L185.15,656.13 L185.40,655.15 L185.65,654.14 L185.90,653.08 L186.15,651.97 L186.40,650.81 L186.65,649.60 L186.90,648.34 L187.15,647.03 L187.40,645.65 L187.65,644.22 L187.90,642.72 L188.15,641.16 L188.40,639.53 L188.65,637.84 L188.90,636.07 L189.15,634.23 L189.40,632.32 L189.65,630.32 L189.90,628.25 L190.15,626.10 L190.40,623.86 L190.65,621.54 L190.90,619.14 L191.15,616.65 L191.40,614.07 L191.65,611.41 L191.90,608.67 L192.15,605.84 L192.40,602.93 L192.65,599.94 L192.90,596.88 L193.15,593.75 L193.40,590.55 L193.65,587.30 L193.90,584.00 L194.15,580.67 L194.40,577.31 L194.65,573.95 L194.90,570.59 L195.15,567.25 L195.40,563.95 L195.65,560.72 L195.90,557.58 L196.15,554.54 L196.40,551.64 L196.65,548.89 L196.90,546.33 L197.15,543.97 L197.40,541.84 L197.65,539.95 L197.90,538.33 L198.15,536.99 L198.40,535.93 L198.65,535.17 L198.90,534.71 L199.15,534.54 L199.40,534.65 L199.65,535.03 L199.90,535.68 L200.15,536.56 L200.40,537.65 L200.65,538.94 L200.90,540.38 L201.15,541.96 L201.40,543.65 L201.65,545.41 L201.90,547.22 L202.15,549.05 L202.40,550.86 L202.65,552.65 L202.90,554.38 L203.15,556.02 L203.40,557.57 L203.65,559.00 L203.90,560.29 L204.15,561.42 L204.40,562.39 L204.65,563.18 L204.90,563.78 L205.15,564.18 L205.40,564.39 L205.65,564.39 L205.90,564.19 L206.15,563.80 L206.40,563.22 L206.65,562.47 L206.90,561.58 L207.15,560.56 L207.40,559.47 L207.65,558.33 L207.90,557.20 L208.15,556.14 L208.40,555.20 L208.65,554.45 L208.90,553.95 L209.15,553.76 L209.40,553.94 L209.65,554.52 L209.90,555.54 L210.15,557.01 L210.40,558.93 L210.65,561.27 L210.90,564.01 L211.15,567.10 L211.40,570.48 L211.65,574.11 L211.90,577.91 L212.15,581.83 L212.40,585.82 L212.65,589.82 L212.90,593.80 L213.15,597.72 L213.40,601.54 L213.65,605.26 L213.90,608.85 L214.15,612.30 L214.40,615.60 L214.65,618.75 L214.90,621.74 L215.15,624.59 L215.40,627.29 L215.65,629.85 L215.90,632.27 L216.15,634.56 L216.40,636.72 L216.65,638.77 L216.90,640.70 L217.15,642.53 L217.40,644.25 L217.65,645.88 L217.90,647.43 L218.15,648.89 L218.40,650.28 L218.65,651.59 L218.90,652.83 L219.15,654.01 L219.40,655.13 L219.65,656.19 L219.90,657.20 L220.15,658.17 L220.40,659.08 L220.65,659.95 L220.90,660.79 L221.15,661.58 L221.40,662.34 L221.65,663.06 L221.90,663.75 L222.15,664.41 L222.40,665.04 L222.65,665.65 L222.90,666.23 L223.15,666.79 L223.40,667.32 L223.65,667.84 L223.90,668.33 L224.15,668.80 L224.40,669.26 L224.65,669.70 L224.90,670.12 L225.15,670.52 L225.40,670.92 L225.65,671.29 L225.90,671.66 L226.15,672.01 L226.40,672.35 L226.65,672.68 L226.90,672.99 L227.15,673.30 L227.40,673.60 L227.65,673.88 L227.90,674.16 L228.15,674.43 L228.40,674.69 L228.65,674.94 L228.90,675.19 L229.15,675.42 L229.40,675.65 L229.65,675.87 L229.90,676.09 L230.15,676.30 L230.40,676.51 L230.65,676.70 L230.90,676.90 L231.15,677.08 L231.40,677.27 L231.65,677.44 L231.90,677.62 L232.15,677.78 L232.40,677.95 L232.65,678.11 L232.90,678.26 L233.15,678.41 L233.40,678.56 L233.65,678.70 L233.90,678.84 L234.15,678.98 L234.40,679.11 L234.65,679.24 L234.90,679.37 L235.15,679.49 L235.40,679.61 L235.65,679.73 L235.90,679.85 L236.15,679.96 L236.40,680.07 L236.65,680.18 L236.90,680.28 L237.15,680.38 L237.40,680.48 L237.65,680.58 L237.90,680.68 L238.15,680.77 L238.40,680.86 L238.65,680.95 L238.90,681.04 L239.15,681.13 L239.40,681.21 L239.65,681.30 L239.90,681.38 L240.15,681.46 L240.40,681.53 L240.65,681.61 L240.90,681.68 L241.15,681.76 L241.40,681.83 L241.65,681.90 L241.90,681.97 L242.15,682.04 L242.40,682.10 L242.65,682.17 L242.90,682.23 L243.15,682.29 L243.40,682.35 L243.65,682.41 L243.90,682.47 L244.15,682.53 L244.40,682.59 L244.65,682.64 L244.90,682.70 L245.15,682.75 L245.40,682.81 L245.65,682.86 L245.90,682.91 L246.15,682.96 L246.40,683.01 L246.65,683.06 L246.90,683.11 L247.15,683.15 L247.40,683.20 L247.65,683.25 L247.90,683.29 L248.15,683.33 L248.40,683.38 L248.65,683.42 L248.90,683.46 L249.15,683.50 L249.40,683.54 L249.65,683.58 L249.90,683.62 L250.15,683.66 L250.40,683.70 L250.65,683.74 L250.90,683.77 L251.15,683.81 L251.40,683.85 L251.65,683.88 L251.90,683.91 L252.15,683.95 L252.40,683.98 L252.65,684.02 L252.90,684.05 L253.15,684.08 L253.40,684.11 L253.65,684.14 L253.90,684.17 L254.15,684.20 L254.40,684.23 L254.65,684.26 L254.90,684.29 L255.15,684.32 L255.40,684.35 L255.65,684.38 L255.90,684.40 L256.15,684.43 L256.40,684.46 L256.65,684.48 L256.90,684.51 L257.15,684.54 L257.40,684.56 L257.65,684.59 L257.90,684.61 L258.15,684.63 L258.40,684.66 L258.65,684.68 L258.90,684.71 L259.15,684.73 L259.40,684.75 L259.65,684.77 L259.90,684.80 L260.15,684.82 L260.40,684.84 L260.65,684.86 L260.90,684.88 L261.15,684.90 L261.40,684.92 L261.65,684.94 L261.90,684.96 L262.15,684.98 L262.40,685.00 L262.65,685.02 L262.90,685.04 L263.15,685.06 L263.40,685.08 L263.65,685.09 L263.90,685.11 L264.15,685.13 L264.40,685.15 L264.65,685.17 L264.90,685.18 L265.15,685.20 L265.40,685.22 L265.65,685.23 L265.90,685.25 L266.15,685.27 L266.40,685.28 L266.65,685.30 L266.90,685.31 L267.15,685.33 L267.40,685.34 L267.65,685.36 L267.90,685.37 L268.15,685.39 L268.40,685.40 L268.65,685.42 L268.90,685.43 L269.15,685.45 L269.40,685.46 L269.65,685.48 L269.90,685.49 L270.15,685.50 L270.40,685.52 L270.65,685.53 L270.90,685.54 L271.15,685.56 L271.40,685.57 L271.65,685.58 L271.90,685.59 L272.15,685.61 L272.40,685.62 L272.65,685.63 L272.90,685.64 L273.15,685.65 L273.40,685.67 L273.65,685.68 L273.90,685.69 L274.15,685.70 L274.40,685.71 L274.65,685.72 L274.90,685.74 L275.15,685.75 L275.40,685.76 L275.65,685.77 L275.90,685.78 L276.15,685.79 L276.40,685.80 L276.65,685.81 L276.90,685.82 L277.15,685.83 L277.40,685.84 L277.65,685.85 L277.90,685.85" stroke="#333" stroke-width="0.9" fill="none" stroke-linejoin="round"/>
<path d="M35.20,686.79 L35.45,686.79 L35.70,686.79 L35.95,686.79 L36.20,686.78 L36.45,686.78 L36.70,686.78 L36.95,686.78 L37.20,686.78 L37.45,686.77 L37.70,686.77 L37.95,686.77 L38.20,686.77 L38.45,686.76 L38.70,686.76 L38.95,686.76 L39.20,686.76 L39.45,686.76 L39.70,686.75 L39.95,686.75 L40.20,686.75 L40.45,686.74 L40.70,686.74 L40.95,686.74 L41.20,686.74 L41.45,686.73 L41.70,686.73 L41.95,686.73 L42.20,686.72 L42.45,686.72 L42.70,686.72 L42.95,686.71 L43.20,686.71 L43.45,686.70 L43.70,686.70 L43.95,686.70 L44.20,686.69 L44.45,686.69 L44.70,686.68 L44.95,686.68 L45.20,686.67 L45.45,686.67 L45.70,686.66 L45.95,686.66 L46.20,686.65 L46.45,686.65 L46.70,686.64 L46.95,686.64 L47.20,686.63 L47.45,686.62 L47.70,686.62 L47.95,686.61 L48.20,686.60 L48.45,686.60 L48.70,686.59 L48.95,686.58 L49.20,686.57 L49.45,686.57 L49.70,686.56 L49.95,686.55 L50.20,686.54 L50.45,686.53 L50.70,686.52 L50.95,686.51 L51.20,686.50 L51.45,686.49 L51.70,686.48 L51.95,686.47 L52.20,686.46 L52.45,686.45 L52.70,686.43 L52.95,686.42 L53.20,686.41 L53.45,686.39 L53.70,686.38 L53.95,686.36 L54.20,686.35 L54.45,686.33 L54.70,686.31 L54.95,686.29 L55.20,686.27 L55.45,686.25 L55.70,686.23 L55.95,686.21 L56.20,686.18 L56.45,686.16 L56.70,686.13 L56.95,686.10 L57.20,686.06 L57.45,686.03 L57.70,685.99 L57.95,685.94 L58.20,685.89 L58.45,685.83 L58.70,685.76 L58.95,685.69 L59.20,685.60 L59.45,685.50 L59.70,685.38 L59.95,685.24 L60.20,685.08 L60.45,684.89 L60.70,684.68 L60.95,684.42 L61.20,684.13 L61.45,683.79 L61.70,683.39 L61.95,682.94 L62.20,682.42 L62.45,681.81 L62.70,681.13 L62.95,680.34 L63.20,679.46 L63.45,678.46 L63.70,677.33 L63.95,676.08 L64.20,674.68 L64.45,673.13 L64.70,671.43 L64.95,669.56 L65.20,667.53 L65.45,665.33 L65.70,662.96 L65.95,660.43 L66.20,657.73 L66.45,654.87 L66.70,651.87 L66.95,648.74 L67.20,645.50 L67.45,642.16 L67.70,638.75 L67.95,635.30 L68.20,631.83 L68.45,628.38 L68.70,624.97 L68.95,621.66 L69.20,618.47 L69.45,615.44 L69.70,612.62 L69.95,610.03 L70.20,607.73 L70.45,605.74 L70.70,604.10 L70.95,602.83 L71.20,601.95 L71.45,601.49 L71.70,601.45 L71.95,601.83 L72.20,602.62 L72.45,603.81 L72.70,605.38 L72.95,607.30 L73.20,609.54 L73.45,612.07 L73.70,614.85 L73.95,617.84 L74.20,621.00 L74.45,624.29 L74.70,627.67 L74.95,631.12 L75.20,634.59 L75.45,638.04 L75.70,641.46 L75.95,644.82 L76.20,648.08 L76.45,651.23 L76.70,654.26 L76.95,657.14 L77.20,659.87 L77.45,662.44 L77.70,664.84 L77.95,667.07 L78.20,669.14 L78.45,671.04 L78.70,672.77 L78.95,674.35 L79.20,675.77 L79.45,677.05 L79.70,678.20 L79.95,679.22 L80.20,680.13 L80.45,680.93 L80.70,681.64 L80.95,682.25 L81.20,682.79 L81.45,683.26 L81.70,683.66 L81.95,684.01 L82.20,684.31 L82.45,684.57 L82.70,684.79 L82.95,684.99 L83.20,685.15 L83.45,685.29 L83.70,685.41 L83.95,685.51 L84.20,685.60 L84.45,685.68 L84.70,685.75 L84.95,685.81 L85.20,685.86 L85.45,685.90 L85.70,685.94 L85.95,685.98 L86.20,686.01 L86.45,686.04 L86.70,686.07 L86.95,686.10 L87.20,686.12 L87.45,686.14 L87.70,686.16 L87.95,686.18 L88.20,686.20 L88.45,686.22 L88.70,686.23 L88.95,686.25 L89.20,686.26 L89.45,686.28 L89.70,686.29 L89.95,686.30 L90.20,686.31 L90.45,686.33 L90.70,686.34 L90.95,686.35 L91.20,686.36 L91.45,686.37 L91.70,686.38 L91.95,686.38 L92.20,686.39 L92.45,686.40 L92.70,686.41 L92.95,686.42 L93.20,686.42 L93.45,686.43 L93.70,686.44 L93.95,686.44 L94.20,686.45 L94.45,686.45 L94.70,686.46 L94.95,686.46 L95.20,686.47 L95.45,686.47 L95.70,686.48 L95.95,686.48 L96.20,686.49 L96.45,686.49 L96.70,686.49 L96.95,686.50 L97.20,686.50 L97.45,686.50 L97.70,686.51 L97.95,686.51 L98.20,686.51 L98.45,686.51 L98.70,686.52 L98.95,686.52 L99.20,686.52 L99.45,686.52 L99.70,686.52 L99.95,686.53 L100.20,686.53 L100.45,686.53 L100.70,686.53 L100.95,686.52 L101.20,686.52 L101.45,686.52 L101.70,686.52 L101.95,686.52 L102.20,686.52 L102.45,686.52 L102.70,686.52 L102.95,686.52 L103.20,686.51 L103.45,686.51 L103.70,686.51 L103.95,686.51 L104.20,686.51 L104.45,686.51 L104.70,686.50 L104.95,686.50 L105.20,686.50 L105.45,686.50 L105.70,686.49 L105.95,686.49 L106.20,686.49 L106.45,686.49 L106.70,686.48 L106.95,686.48 L107.20,686.48 L107.45,686.47 L107.70,686.47 L107.95,686.47 L108.20,686.47 L108.45,686.46 L108.70,686.46 L108.95,686.46 L109.20,686.45 L109.45,686.45 L109.70,686.44 L109.95,686.44 L110.20,686.44 L110.45,686.43 L110.70,686.43 L110.95,686.43 L111.20,686.42 L111.45,686.42 L111.70,686.41 L111.95,686.41 L112.20,686.40 L112.45,686.40 L112.70,686.40 L112.95,686.39 L113.20,686.39 L113.45,686.38 L113.70,686.38 L113.95,686.37 L114.20,686.37 L114.45,686.36 L114.70,686.36 L114.95,686.35 L115.20,686.35 L115.45,686.34 L115.70,686.34 L115.95,686.33 L116.20,686.33 L116.45,686.32 L116.70,686.31 L116.95,686.31 L117.20,686.30 L117.45,686.30 L117.70,686.29 L117.95,686.29 L118.20,686.28 L118.45,686.27 L118.70,686.27 L118.95,686.26 L119.20,686.25 L119.45,686.25 L119.70,686.24 L119.95,686.24 L120.20,686.23 L120.45,686.22 L120.70,686.22 L120.95,686.21 L121.20,686.20 L121.45,686.20 L121.70,686.19 L121.95,686.18 L122.20,686.17 L122.45,686.17 L122.70,686.16 L122.95,686.15 L123.20,686.14 L123.45,686.14 L123.70,686.13 L123.95,686.12 L124.20,686.11 L124.45,686.11 L124.70,686.10 L124.95,686.09 L125.20,686.08 L125.45,686.07 L125.70,686.07 L125.95,686.06 L126.20,686.05 L126.45,686.04 L126.70,686.03 L126.95,686.02 L127.20,686.01 L127.45,686.00 L127.70,686.00 L127.95,685.99 L128.20,685.98 L128.45,685.97 L128.70,685.96 L128.95,685.95 L129.20,685.94 L129.45,685.93 L129.70,685.92 L129.95,685.91 L130.20,685.90 L130.45,685.89" stroke="#2828e6" stroke-width="1.1" fill="none" stroke-linejoin="round"/>
<path d="M134.90,685.69 L135.15,685.67 L135.40,685.66 L135.65,685.65 L135.90,685.64 L136.15,685.62 L136.40,685.61 L136.65,685.60 L136.90,685.58 L137.15,685.57 L137.40,685.55 L137.65,685.54 L137.90,685.53 L138.15,685.51 L138.40,685.50 L138.65,685.48 L138.90,685.47 L139.15,685.45 L139.40,685.44 L139.65,685.42 L139.90,685.41 L140.15,685.39 L140.40,685.37 L140.65,685.36 L140.90,685.34 L141.15,685.32 L141.40,685.31 L141.65,685.29 L141.90,685.27 L142.15,685.26 L142.40,685.24 L142.65,685.22 L142.90,685.20 L143.15,685.18 L143.40,685.16 L143.65,685.15 L143.90,685.13 L144.15,685.11 L144.40,685.09 L144.65,685.07 L144.90,685.05 L145.15,685.03 L145.40,685.01 L145.65,684.99 L145.90,684.96 L146.15,684.94 L146.40,684.92 L146.65,684.90 L146.90,684.88 L147.15,684.85 L147.40,684.83 L147.65,684.81 L147.90,684.78 L148.15,684.76 L148.40,684.74 L148.65,684.71 L148.90,684.69 L149.15,684.66 L149.40,684.64 L149.65,684.61 L149.90,684.58 L150.15,684.56 L150.40,684.53 L150.65,684.50 L150.90,684.47 L151.15,684.44 L151.40,684.42 L151.65,684.39 L151.90,684.36 L152.15,684.33 L152.40,684.30 L152.65,684.27 L152.90,684.23 L153.15,684.20 L153.40,684.17 L153.65,684.14 L153.90,684.10 L154.15,684.07 L154.40,684.03 L154.65,684.00 L154.90,683.96 L155.15,683.93 L155.40,683.89 L155.65,683.85 L155.90,683.82 L156.15,683.78 L156.40,683.74 L156.65,683.70 L156.90,683.66 L157.15,683.62 L157.40,683.57 L157.65,683.53 L157.90,683.49 L158.15,683.44 L158.40,683.40 L158.65,683.35 L158.90,683.31 L159.15,683.26 L159.40,683.21 L159.65,683.16 L159.90,683.11 L160.15,683.06 L160.40,683.01 L160.65,682.96 L160.90,682.90 L161.15,682.85 L161.40,682.79 L161.65,682.74 L161.90,682.68 L162.15,682.62 L162.40,682.56 L162.65,682.50 L162.90,682.44 L163.15,682.37 L163.40,682.31 L163.65,682.24 L163.90,682.18 L164.15,682.11 L164.40,682.04 L164.65,681.97 L164.90,681.89 L165.15,681.82 L165.40,681.74 L165.65,681.67 L165.90,681.59 L166.15,681.51 L166.40,681.42 L166.65,681.34 L166.90,681.25 L167.15,681.17 L167.40,681.08 L167.65,680.98 L167.90,680.89 L168.15,680.79 L168.40,680.70 L168.65,680.60 L168.90,680.49 L169.15,680.39 L169.40,680.28 L169.65,680.17 L169.90,680.06 L170.15,679.94 L170.40,679.82 L170.65,679.70 L170.90,679.58 L171.15,679.45 L171.40,679.32 L171.65,679.19 L171.90,679.05 L172.15,678.91 L172.40,678.77 L172.65,678.62 L172.90,678.47 L173.15,678.31 L173.40,678.15 L173.65,677.98 L173.90,677.81 L174.15,677.64 L174.40,677.46 L174.65,677.27 L174.90,677.08 L175.15,676.89 L175.40,676.68 L175.65,676.47 L175.90,676.26 L176.15,676.03 L176.40,675.80 L176.65,675.56 L176.90,675.32 L177.15,675.06 L177.40,674.79 L177.65,674.52 L177.90,674.23 L178.15,673.93 L178.40,673.62 L178.65,673.29 L178.90,672.95 L179.15,672.60 L179.40,672.23 L179.65,671.84 L179.90,671.43 L180.15,671.01 L180.40,670.56 L180.65,670.09 L180.90,669.59 L181.15,669.07 L181.40,668.52 L181.65,667.94 L181.90,667.32 L182.15,666.68 L182.40,665.99 L182.65,665.27 L182.90,664.50 L183.15,663.69 L183.40,662.83 L183.65,661.92 L183.90,660.95 L184.15,659.93 L184.40,658.85 L184.65,657.71 L184.90,656.50 L185.15,655.22 L185.40,653.86 L185.65,652.43 L185.90,650.93 L186.15,649.33 L186.40,647.66 L186.65,645.89 L186.90,644.03 L187.15,642.08 L187.40,640.03 L187.65,637.88 L187.90,635.63 L188.15,633.28 L188.40,630.83 L188.65,628.26 L188.90,625.60 L189.15,622.83 L189.40,619.95 L189.65,616.97 L189.90,613.89 L190.15,610.71 L190.40,607.43 L190.65,604.07 L190.90,600.61 L191.15,597.08 L191.40,593.47 L191.65,589.80 L191.90,586.08 L192.15,582.32 L192.40,578.52 L192.65,574.71 L192.90,570.91 L193.15,567.12 L193.40,563.38 L193.65,559.71 L193.90,556.12 L194.15,552.64 L194.40,549.30 L194.65,546.12 L194.90,543.14 L195.15,540.38 L195.40,537.85 L195.65,535.59 L195.90,533.62 L196.15,531.95 L196.40,530.59 L196.65,529.55 L196.90,528.84 L197.15,528.44 L197.40,528.35 L197.65,528.57 L197.90,529.06 L198.15,529.81 L198.40,530.79 L198.65,531.99 L198.90,533.35 L199.15,534.87 L199.40,536.51 L199.65,538.23 L199.90,540.02 L200.15,541.84 L200.40,543.66 L200.65,545.47 L200.90,547.25 L201.15,548.96 L201.40,550.60 L201.65,552.15 L201.90,553.60 L202.15,554.93 L202.40,556.14 L202.65,557.22 L202.90,558.18 L203.15,559.00 L203.40,559.68 L203.65,560.25 L203.90,560.68 L204.15,561.01 L204.40,561.23 L204.65,561.37 L204.90,561.44 L205.15,561.45 L205.40,561.43 L205.65,561.41 L205.90,561.40 L206.15,561.43 L206.40,561.53 L206.65,561.73 L206.90,562.04 L207.15,562.49 L207.40,563.10 L207.65,563.89 L207.90,564.87 L208.15,566.04 L208.40,567.42 L208.65,569.00 L208.90,570.78 L209.15,572.74 L209.40,574.88 L209.65,577.18 L209.90,579.62 L210.15,582.18 L210.40,584.84 L210.65,587.58 L210.90,590.38 L211.15,593.22 L211.40,596.07 L211.65,598.93 L211.90,601.77 L212.15,604.59 L212.40,607.36 L212.65,610.09 L212.90,612.75 L213.15,615.35 L213.40,617.88 L213.65,620.33 L213.90,622.70 L214.15,625.00 L214.40,627.21 L214.65,629.34 L214.90,631.39 L215.15,633.36 L215.40,635.25 L215.65,637.06 L215.90,638.80 L216.15,640.46 L216.40,642.06 L216.65,643.59 L216.90,645.05 L217.15,646.46 L217.40,647.80 L217.65,649.08 L217.90,650.31 L218.15,651.49 L218.40,652.62 L218.65,653.70 L218.90,654.74 L219.15,655.73 L219.40,656.68 L219.65,657.59 L219.90,658.47 L220.15,659.31 L220.40,660.11 L220.65,660.88 L220.90,661.63 L221.15,662.34 L221.40,663.03 L221.65,663.68 L221.90,664.32 L222.15,664.93 L222.40,665.51 L222.65,666.08 L222.90,666.62 L223.15,667.14 L223.40,667.65 L223.65,668.14 L223.90,668.60 L224.15,669.06 L224.40,669.49 L224.65,669.91 L224.90,670.32 L225.15,670.72 L225.40,671.10 L225.65,671.46 L225.90,671.82 L226.15,672.16 L226.40,672.49 L226.65,672.82 L226.90,673.13 L227.15,673.43 L227.40,673.72 L227.65,674.00 L227.90,674.28 L228.15,674.54 L228.40,674.80 L228.65,675.05 L228.90,675.30 L229.15,675.53 L229.40,675.76 L229.65,675.98 L229.90,676.20 L230.15,676.41 L230.40,676.61 L230.65,676.81 L230.90,677.01 L231.15,677.19 L231.40,677.38 L231.65,677.55 L231.90,677.73 L232.15,677.90 L232.40,678.06 L232.65,678.22 L232.90,678.38 L233.15,678.53 L233.40,678.67 L233.65,678.82 L233.90,678.96 L234.15,679.10 L234.40,679.23 L234.65,679.36 L234.90,679.49 L235.15,679.61 L235.40,679.73 L235.65,679.85 L235.90,679.97 L236.15,680.08 L236.40,680.19 L236.65,680.30 L236.90,680.41 L237.15,680.51 L237.40,680.61 L237.65,680.71 L237.90,680.80 L238.15,680.90 L238.40,680.99 L238.65,681.08 L238.90,681.17 L239.15,681.26 L239.40,681.34 L239.65,681.42 L239.90,681.51 L240.15,681.59 L240.40,681.66 L240.65,681.74 L240.90,681.81 L241.15,681.89 L241.40,681.96 L241.65,682.03 L241.90,682.10 L242.15,682.17 L242.40,682.23 L242.65,682.30 L242.90,682.36 L243.15,682.42 L243.40,682.49 L243.65,682.55 L243.90,682.60 L244.15,682.66 L244.40,682.72 L244.65,682.78 L244.90,682.83 L245.15,682.88 L245.40,682.94 L245.65,682.99 L245.90,683.04 L246.15,683.09 L246.40,683.14 L246.65,683.19 L246.90,683.24 L247.15,683.28 L247.40,683.33 L247.65,683.37 L247.90,683.42 L248.15,683.46 L248.40,683.51 L248.65,683.55 L248.90,683.59 L249.15,683.63 L249.40,683.67 L249.65,683.71 L249.90,683.75 L250.15,683.79 L250.40,683.82 L250.65,683.86 L250.90,683.90 L251.15,683.93 L251.40,683.97 L251.65,684.00 L251.90,684.04 L252.15,684.07 L252.40,684.11 L252.65,684.14 L252.90,684.17 L253.15,684.20 L253.40,684.23 L253.65,684.26 L253.90,684.29 L254.15,684.32 L254.40,684.35 L254.65,684.38 L254.90,684.41 L255.15,684.44 L255.40,684.47 L255.65,684.49 L255.90,684.52 L256.15,684.55 L256.40,684.57 L256.65,684.60 L256.90,684.63 L257.15,684.65 L257.40,684.67 L257.65,684.70 L257.90,684.72 L258.15,684.75 L258.40,684.77 L258.65,684.79 L258.90,684.82 L259.15,684.84 L259.40,684.86 L259.65,684.88 L259.90,684.90 L260.15,684.93 L260.40,684.95 L260.65,684.97 L260.90,684.99 L261.15,685.01 L261.40,685.03 L261.65,685.05 L261.90,685.07 L262.15,685.09 L262.40,685.11 L262.65,685.13 L262.90,685.14 L263.15,685.16 L263.40,685.18 L263.65,685.20 L263.90,685.22 L264.15,685.23 L264.40,685.25 L264.65,685.27 L264.90,685.28 L265.15,685.30 L265.40,685.32 L265.65,685.33 L265.90,685.35 L266.15,685.37 L266.40,685.38 L266.65,685.40 L266.90,685.41 L267.15,685.43 L267.40,685.44 L267.65,685.46 L267.90,685.47 L268.15,685.49 L268.40,685.50 L268.65,685.51 L268.90,685.53 L269.15,685.54 L269.40,685.55 L269.65,685.57 L269.90,685.58 L270.15,685.59 L270.40,685.61 L270.65,685.62 L270.90,685.63 L271.15,685.65 L271.40,685.66 L271.65,685.67 L271.90,685.68 L272.15,685.70 L272.40,685.71 L272.65,685.72 L272.90,685.73 L273.15,685.74 L273.40,685.75 L273.65,685.77 L273.90,685.78 L274.15,685.79 L274.40,685.80 L274.65,685.81 L274.90,685.82 L275.15,685.83 L275.40,685.84 L275.65,685.85 L275.90,685.86 L276.15,685.87 L276.40,685.88 L276.65,685.89 L276.90,685.90 L277.15,685.91 L277.40,685.92 L277.65,685.93 L277.90,685.93" stroke="#2828e6" stroke-width="1.1" fill="none" stroke-linejoin="round"/>
<path d="M130.3,703.4 L35.2,703.4 L35.2,508.4 L129.9,508.4 M135.7,508.4 L277.9,508.4 L277.9,703.4 L135.9,703.4" fill="none" stroke="#222" stroke-width="1.1"/>
<line x1="128.30" y1="707.10" x2="132.60" y2="699.80" stroke="#222" stroke-width="1"/>
<line x1="132.80" y1="707.10" x2="136.90" y2="699.80" stroke="#222" stroke-width="1"/>
<line x1="128.30" y1="512.10" x2="132.60" y2="504.80" stroke="#222" stroke-width="1"/>
<line x1="132.80" y1="512.10" x2="136.90" y2="504.80" stroke="#222" stroke-width="1"/>
<line x1="35.20" y1="703.40" x2="35.20" y2="706.40" stroke="#222" stroke-width="1"/>
<line x1="59.00" y1="703.40" x2="59.00" y2="705.40" stroke="#222" stroke-width="1"/>
<line x1="82.80" y1="703.40" x2="82.80" y2="706.40" stroke="#222" stroke-width="1"/>
<line x1="106.60" y1="703.40" x2="106.60" y2="705.40" stroke="#222" stroke-width="1"/>
<line x1="158.22" y1="703.40" x2="158.22" y2="705.40" stroke="#222" stroke-width="1"/>
<line x1="182.10" y1="703.40" x2="182.10" y2="706.40" stroke="#222" stroke-width="1"/>
<line x1="205.97" y1="703.40" x2="205.97" y2="705.40" stroke="#222" stroke-width="1"/>
<line x1="229.85" y1="703.40" x2="229.85" y2="706.40" stroke="#222" stroke-width="1"/>
<line x1="253.73" y1="703.40" x2="253.73" y2="705.40" stroke="#222" stroke-width="1"/>
<line x1="277.60" y1="703.40" x2="277.60" y2="706.40" stroke="#222" stroke-width="1"/>
<text x="35.20" y="720.00" font-size="13" fill="#1a1a1a" text-anchor="middle">4.75</text>
<text x="82.80" y="720.00" font-size="13" fill="#1a1a1a" text-anchor="middle">4.70</text>
<text x="182.10" y="720.00" font-size="13" fill="#1a1a1a" text-anchor="middle">4.30</text>
<text x="229.85" y="720.00" font-size="13" fill="#1a1a1a" text-anchor="middle">4.25</text>
<text x="277.60" y="720.00" font-size="13" fill="#1a1a1a" text-anchor="middle">4.20</text>
<text x="157.50" y="738.20" font-size="13" fill="#1a1a1a" text-anchor="middle"><tspan font-size="8.06" dy="-4.68">1</tspan><tspan dy="4.68">H Chemical shift (ppm)</tspan></text>
<text x="26.10" y="598.40" font-size="12.9" fill="#1a1a1a" text-anchor="middle" transform="rotate(-90 26.1 598.4)">Intensity (a.u.)</text>
<text x="40.30" y="525.70" font-size="12.3" fill="#1a1a1a" text-anchor="start"><tspan font-size="7.63" dy="-4.43">1</tspan><tspan dy="4.43">H at 333 K (before and after NOESY)</tspan></text>
<text x="107.50" y="586.30" font-size="12.8" fill="#2828e6" text-anchor="start">After NOESY</text>
<text x="241.60" y="583.80" font-size="12.6" fill="#1a1a1a" text-anchor="middle">Before</text>
<text x="241.40" y="598.80" font-size="12.6" fill="#1a1a1a" text-anchor="middle">NOESY</text>
<text x="362.50" y="511.90" font-size="15.5" fill="#1a1a1a" text-anchor="start">f</text>
<path d="M376.80,683.76 L377.05,683.76 L377.30,683.76 L377.55,683.76 L377.80,683.76 L378.05,683.76 L378.30,683.76 L378.55,683.75 L378.80,683.75 L379.05,683.75 L379.30,683.75 L379.55,683.75 L379.80,683.75 L380.05,683.75 L380.30,683.75 L380.55,683.75 L380.80,683.75 L381.05,683.75 L381.30,683.75 L381.55,683.75 L381.80,683.75 L382.05,683.75 L382.30,683.75 L382.55,683.75 L382.80,683.75 L383.05,683.75 L383.30,683.75 L383.55,683.75 L383.80,683.75 L384.05,683.75 L384.30,683.75 L384.55,683.75 L384.80,683.75 L385.05,683.75 L385.30,683.75 L385.55,683.75 L385.80,683.75 L386.05,683.75 L386.30,683.75 L386.55,683.75 L386.80,683.75 L387.05,683.75 L387.30,683.75 L387.55,683.75 L387.80,683.75 L388.05,683.75 L388.30,683.75 L388.55,683.75 L388.80,683.75 L389.05,683.75 L389.30,683.75 L389.55,683.75 L389.80,683.75 L390.05,683.75 L390.30,683.75 L390.55,683.75 L390.80,683.75 L391.05,683.75 L391.30,683.75 L391.55,683.75 L391.80,683.75 L392.05,683.75 L392.30,683.75 L392.55,683.74 L392.80,683.74 L393.05,683.74 L393.30,683.74 L393.55,683.74 L393.80,683.74 L394.05,683.74 L394.30,683.74 L394.55,683.74 L394.80,683.74 L395.05,683.74 L395.30,683.74 L395.55,683.74 L395.80,683.74 L396.05,683.74 L396.30,683.74 L396.55,683.74 L396.80,683.74 L397.05,683.74 L397.30,683.74 L397.55,683.74 L397.80,683.74 L398.05,683.74 L398.30,683.74 L398.55,683.74 L398.80,683.74 L399.05,683.74 L399.30,683.74 L399.55,683.74 L399.80,683.74 L400.05,683.74 L400.30,683.74 L400.55,683.74 L400.80,683.74 L401.05,683.74 L401.30,683.74 L401.55,683.74 L401.80,683.74 L402.05,683.74 L402.30,683.74 L402.55,683.74 L402.80,683.74 L403.05,683.74 L403.30,683.73 L403.55,683.73 L403.80,683.73 L404.05,683.73 L404.30,683.73 L404.55,683.73 L404.80,683.73 L405.05,683.73 L405.30,683.73 L405.55,683.73 L405.80,683.73 L406.05,683.73 L406.30,683.73 L406.55,683.73 L406.80,683.73 L407.05,683.73 L407.30,683.73 L407.55,683.73 L407.80,683.73 L408.05,683.73 L408.30,683.73 L408.55,683.73 L408.80,683.73 L409.05,683.73 L409.30,683.73 L409.55,683.73 L409.80,683.73 L410.05,683.73 L410.30,683.73 L410.55,683.73 L410.80,683.73 L411.05,683.73 L411.30,683.73 L411.55,683.73 L411.80,683.72 L412.05,683.72 L412.30,683.72 L412.55,683.72 L412.80,683.72 L413.05,683.72 L413.30,683.72 L413.55,683.72 L413.80,683.72 L414.05,683.72 L414.30,683.72 L414.55,683.72 L414.80,683.72 L415.05,683.72 L415.30,683.72 L415.55,683.72 L415.80,683.72 L416.05,683.72 L416.30,683.72 L416.55,683.72 L416.80,683.72 L417.05,683.72 L417.30,683.72 L417.55,683.72 L417.80,683.72 L418.05,683.72 L418.30,683.72 L418.55,683.72 L418.80,683.71 L419.05,683.71 L419.30,683.71 L419.55,683.71 L419.80,683.71 L420.05,683.71 L420.30,683.71 L420.55,683.71 L420.80,683.71 L421.05,683.71 L421.30,683.71 L421.55,683.71 L421.80,683.71 L422.05,683.71 L422.30,683.71 L422.55,683.71 L422.80,683.71 L423.05,683.71 L423.30,683.71 L423.55,683.71 L423.80,683.71 L424.05,683.71 L424.30,683.71 L424.55,683.70 L424.80,683.70 L425.05,683.70 L425.30,683.70 L425.55,683.70 L425.80,683.70 L426.05,683.70 L426.30,683.70 L426.55,683.70 L426.80,683.70 L427.05,683.70 L427.30,683.70 L427.55,683.70 L427.80,683.70 L428.05,683.70 L428.30,683.70 L428.55,683.70 L428.80,683.70 L429.05,683.70 L429.30,683.70 L429.55,683.69 L429.80,683.69 L430.05,683.69 L430.30,683.69 L430.55,683.69 L430.80,683.69 L431.05,683.69 L431.30,683.69 L431.55,683.69 L431.80,683.69 L432.05,683.68 L432.30,683.68 L432.55,683.68 L432.80,683.67 L433.05,683.66 L433.30,683.65 L433.55,683.63 L433.80,683.60 L434.05,683.56 L434.30,683.50 L434.55,683.42 L434.80,683.30 L435.05,683.15 L435.30,682.95 L435.55,682.68 L435.80,682.32 L436.05,681.86 L436.30,681.28 L436.55,680.54 L436.80,679.63 L437.05,678.51 L437.30,677.16 L437.55,675.55 L437.80,673.66 L438.05,671.47 L438.30,668.97 L438.55,666.16 L438.80,663.05 L439.05,659.68 L439.30,656.07 L439.55,652.28 L439.80,648.38 L440.05,644.46 L440.30,640.60 L440.55,636.90 L440.80,633.46 L441.05,630.39 L441.30,627.78 L441.55,625.72 L441.80,624.27 L442.05,623.48 L442.30,623.39 L442.55,623.98 L442.80,625.25 L443.05,627.14 L443.30,629.60 L443.55,632.55 L443.80,635.89 L444.05,639.53 L444.30,643.35 L444.55,647.27 L444.80,651.18 L445.05,655.01 L445.30,658.67 L445.55,662.11 L445.80,665.30 L446.05,668.19 L446.30,670.77 L446.55,673.05 L446.80,675.02 L447.05,676.71 L447.30,678.13 L447.55,679.31 L447.80,680.27 L448.05,681.05 L448.30,681.67 L448.55,682.16 L448.80,682.54 L449.05,682.83 L449.30,683.05 L449.55,683.22 L449.80,683.34 L450.05,683.42 L450.30,683.49 L450.55,683.53 L450.80,683.56 L451.05,683.58 L451.30,683.60 L451.55,683.60 L451.80,683.61 L452.05,683.61 L452.30,683.61 L452.55,683.62 L452.80,683.62 L453.05,683.62 L453.30,683.61 L453.55,683.61 L453.80,683.61 L454.05,683.61 L454.30,683.61 L454.55,683.61 L454.80,683.61 L455.05,683.61 L455.30,683.60 L455.55,683.60 L455.80,683.60 L456.05,683.60 L456.30,683.60 L456.55,683.60 L456.80,683.60 L457.05,683.59 L457.30,683.59 L457.55,683.59 L457.80,683.59 L458.05,683.59 L458.30,683.59 L458.55,683.59 L458.80,683.58 L459.05,683.58 L459.30,683.58 L459.55,683.58 L459.80,683.58 L460.05,683.58 L460.30,683.57 L460.55,683.57 L460.80,683.57 L461.05,683.57 L461.30,683.57 L461.55,683.56 L461.80,683.56 L462.05,683.56 L462.30,683.56 L462.55,683.56 L462.80,683.56 L463.05,683.55 L463.30,683.55 L463.55,683.55 L463.80,683.55 L464.05,683.55 L464.30,683.54 L464.55,683.54 L464.80,683.54 L465.05,683.54 L465.30,683.53 L465.55,683.53 L465.80,683.53 L466.05,683.53 L466.30,683.53 L466.55,683.52 L466.80,683.52 L467.05,683.52 L467.30,683.52 L467.55,683.51 L467.80,683.51 L468.05,683.51 L468.30,683.51 L468.55,683.50 L468.80,683.50 L469.05,683.50 L469.30,683.50 L469.55,683.49 L469.80,683.49 L470.05,683.49 L470.30,683.49 L470.55,683.48 L470.80,683.48 L471.05,683.48 L471.30,683.47 L471.55,683.47 L471.80,683.47 L472.05,683.46 L472.30,683.46 L472.55,683.46 L472.80,683.45 L473.05,683.45 L473.30,683.45 L473.55,683.44 L473.80,683.44 L474.05,683.44 L474.30,683.43 L474.55,683.43 L474.80,683.43 L475.05,683.42 L475.30,683.42 L475.55,683.42 L475.80,683.41 L476.05,683.41 L476.30,683.40 L476.55,683.40 L476.80,683.40 L477.05,683.39 L477.30,683.39 L477.55,683.38 L477.80,683.38 L478.05,683.37 L478.30,683.37 L478.55,683.37 L478.80,683.36 L479.05,683.36 L479.30,683.35 L479.55,683.35 L479.80,683.34 L480.05,683.34 L480.30,683.33 L480.55,683.33 L480.80,683.32 L481.05,683.32 L481.30,683.31 L481.55,683.31 L481.80,683.30 L482.05,683.29 L482.30,683.29 L482.55,683.28 L482.80,683.28 L483.05,683.27 L483.30,683.26 L483.55,683.26 L483.80,683.25 L484.05,683.24 L484.30,683.24 L484.55,683.23 L484.80,683.22 L485.05,683.22 L485.30,683.21 L485.55,683.20 L485.80,683.19 L486.05,683.19 L486.30,683.18 L486.55,683.17 L486.80,683.16 L487.05,683.15 L487.30,683.15 L487.55,683.14 L487.80,683.13 L488.05,683.12 L488.30,683.11 L488.55,683.10 L488.80,683.09 L489.05,683.08 L489.30,683.07 L489.55,683.06 L489.80,683.05 L490.05,683.04 L490.30,683.03 L490.55,683.02 L490.80,683.01 L491.05,683.00 L491.30,682.99 L491.55,682.97 L491.80,682.96 L492.05,682.95 L492.30,682.94 L492.55,682.92 L492.80,682.91 L493.05,682.90 L493.30,682.88 L493.55,682.87 L493.80,682.85 L494.05,682.84 L494.30,682.82 L494.55,682.81 L494.80,682.79 L495.05,682.77 L495.30,682.76 L495.55,682.74 L495.80,682.72 L496.05,682.70 L496.30,682.68 L496.55,682.67 L496.80,682.65 L497.05,682.63 L497.30,682.60 L497.55,682.58 L497.80,682.56 L498.05,682.54 L498.30,682.51 L498.55,682.49 L498.80,682.47 L499.05,682.44 L499.30,682.41 L499.55,682.39 L499.80,682.36 L500.05,682.33 L500.30,682.30 L500.55,682.27 L500.80,682.24 L501.05,682.21 L501.30,682.18 L501.55,682.14 L501.80,682.11 L502.05,682.07 L502.30,682.03 L502.55,681.99 L502.80,681.95 L503.05,681.91 L503.30,681.87 L503.55,681.83 L503.80,681.78 L504.05,681.73 L504.30,681.68 L504.55,681.63 L504.80,681.58 L505.05,681.52 L505.30,681.47 L505.55,681.41 L505.80,681.34 L506.05,681.28 L506.30,681.21 L506.55,681.14 L506.80,681.07 L507.05,681.00 L507.30,680.92 L507.55,680.84 L507.80,680.75 L508.05,680.66 L508.30,680.57 L508.55,680.47 L508.80,680.37 L509.05,680.26 L509.30,680.15 L509.55,680.03 L509.80,679.90 L510.05,679.77 L510.30,679.63 L510.55,679.49 L510.80,679.33 L511.05,679.16 L511.30,678.98 L511.55,678.79 L511.80,678.58 L512.05,678.35 L512.30,678.10 L512.55,677.82 L512.80,677.52 L513.05,677.18 L513.30,676.80 L513.55,676.38 L513.80,675.90 L514.05,675.35 L514.30,674.73 L514.55,674.02 L514.80,673.21 L515.05,672.29 L515.30,671.23 L515.55,670.02 L515.80,668.65 L516.05,667.09 L516.30,665.32 L516.55,663.33 L516.80,661.08 L517.05,658.58 L517.30,655.80 L517.55,652.72 L517.80,649.34 L518.05,645.65 L518.30,641.65 L518.55,637.35 L518.80,632.74 L519.05,627.86 L519.30,622.72 L519.55,617.37 L519.80,611.83 L520.05,606.17 L520.30,600.45 L520.55,594.73 L520.80,589.10 L521.05,583.65 L521.30,578.49 L521.55,573.71 L521.80,569.44 L522.05,565.78 L522.30,562.84 L522.55,560.69 L522.80,559.41 L523.05,559.01 L523.30,559.50 L523.55,560.82 L523.80,562.91 L524.05,565.67 L524.30,568.97 L524.55,572.70 L524.80,576.72 L525.05,580.91 L525.30,585.13 L525.55,589.29 L525.80,593.28 L526.05,597.01 L526.30,600.39 L526.55,603.36 L526.80,605.86 L527.05,607.85 L527.30,609.29 L527.55,610.18 L527.80,610.49 L528.05,610.25 L528.30,609.48 L528.55,608.21 L528.80,606.50 L529.05,604.43 L529.30,602.08 L529.55,599.58 L529.80,597.06 L530.05,594.67 L530.30,592.56 L530.55,590.92 L530.80,589.88 L531.05,589.58 L531.30,590.10 L531.55,591.47 L531.80,593.66 L532.05,596.60 L532.30,600.17 L532.55,604.24 L532.80,608.67 L533.05,613.32 L533.30,618.09 L533.55,622.87 L533.80,627.57 L534.05,632.14 L534.30,636.51 L534.55,640.66 L534.80,644.56 L535.05,648.18 L535.30,651.52 L535.55,654.59 L535.80,657.37 L536.05,659.89 L536.30,662.15 L536.55,664.17 L536.80,665.97 L537.05,667.56 L537.30,668.96 L537.55,670.20 L537.80,671.28 L538.05,672.23 L538.30,673.07 L538.55,673.81 L538.80,674.46 L539.05,675.04 L539.30,675.55 L539.55,676.01 L539.80,676.42 L540.05,676.79 L540.30,677.12 L540.55,677.43 L540.80,677.71 L541.05,677.97 L541.30,678.21 L541.55,678.44 L541.80,678.65 L542.05,678.84 L542.30,679.03 L542.55,679.20 L542.80,679.36 L543.05,679.52 L543.30,679.66 L543.55,679.80 L543.80,679.93 L544.05,680.06 L544.30,680.18 L544.55,680.29 L544.80,680.40 L545.05,680.50 L545.30,680.60 L545.55,680.69 L545.80,680.78 L546.05,680.87 L546.30,680.95 L546.55,681.03 L546.80,681.10 L547.05,681.17 L547.30,681.24 L547.55,681.31 L547.80,681.37 L548.05,681.44 L548.30,681.49 L548.55,681.55 L548.80,681.61 L549.05,681.66 L549.30,681.71 L549.55,681.76 L549.80,681.81 L550.05,681.85 L550.30,681.90 L550.55,681.94 L550.80,681.98 L551.05,682.02 L551.30,682.06 L551.55,682.09 L551.80,682.13 L552.05,682.16 L552.30,682.20 L552.55,682.23 L552.80,682.26 L553.05,682.29 L553.30,682.32 L553.55,682.35 L553.80,682.38 L554.05,682.41 L554.30,682.43 L554.55,682.46 L554.80,682.48 L555.05,682.51 L555.30,682.53 L555.55,682.56 L555.80,682.58 L556.05,682.60 L556.30,682.62 L556.55,682.64 L556.80,682.66 L557.05,682.68 L557.30,682.70 L557.55,682.72 L557.80,682.74 L558.05,682.75 L558.30,682.77 L558.55,682.79 L558.80,682.80 L559.05,682.82 L559.30,682.84 L559.55,682.85 L559.80,682.87 L560.05,682.88 L560.30,682.89 L560.55,682.91 L560.80,682.92 L561.05,682.93 L561.30,682.95 L561.55,682.96 L561.80,682.97 L562.05,682.98 L562.30,683.00 L562.55,683.01 L562.80,683.02 L563.05,683.03 L563.30,683.04 L563.55,683.05 L563.80,683.06 L564.05,683.07 L564.30,683.08 L564.55,683.09 L564.80,683.10 L565.05,683.11 L565.30,683.12 L565.55,683.13 L565.80,683.14 L566.05,683.15 L566.30,683.15 L566.55,683.16 L566.80,683.17 L567.05,683.18 L567.30,683.19 L567.55,683.19 L567.80,683.20 L568.05,683.21 L568.30,683.22 L568.55,683.22 L568.80,683.23 L569.05,683.24 L569.30,683.24 L569.55,683.25 L569.80,683.26 L570.05,683.26 L570.30,683.27 L570.55,683.28 L570.80,683.28 L571.05,683.29 L571.30,683.29 L571.55,683.30 L571.80,683.30 L572.05,683.31 L572.30,683.32 L572.55,683.32 L572.80,683.33 L573.05,683.33 L573.30,683.34 L573.55,683.34 L573.80,683.35 L574.05,683.35 L574.30,683.36 L574.55,683.36 L574.80,683.37 L575.05,683.37 L575.30,683.37 L575.55,683.38 L575.80,683.38 L576.05,683.39 L576.30,683.39 L576.55,683.40 L576.80,683.40 L577.05,683.40 L577.30,683.41 L577.55,683.41 L577.80,683.42 L578.05,683.42 L578.30,683.42 L578.55,683.43 L578.80,683.43 L579.05,683.43 L579.30,683.44 L579.55,683.44 L579.80,683.44 L580.05,683.45 L580.30,683.45 L580.55,683.45 L580.80,683.46 L581.05,683.46 L581.30,683.46 L581.55,683.47 L581.80,683.47 L582.05,683.47 L582.30,683.48 L582.55,683.48 L582.80,683.48 L583.05,683.49 L583.30,683.49 L583.55,683.49 L583.80,683.49 L584.05,683.50 L584.30,683.50 L584.55,683.50 L584.80,683.50 L585.05,683.51 L585.30,683.51 L585.55,683.51 L585.80,683.51 L586.05,683.52 L586.30,683.52 L586.55,683.52 L586.80,683.52 L587.05,683.53 L587.30,683.53 L587.55,683.53 L587.80,683.53 L588.05,683.53 L588.30,683.54 L588.55,683.54 L588.80,683.54 L589.05,683.54 L589.30,683.55 L589.55,683.55 L589.80,683.55 L590.05,683.55 L590.30,683.55 L590.55,683.56 L590.80,683.56 L591.05,683.56 L591.30,683.56 L591.55,683.56 L591.80,683.56 L592.05,683.57 L592.30,683.57 L592.55,683.57 L592.80,683.57 L593.05,683.57 L593.30,683.58 L593.55,683.58 L593.80,683.58 L594.05,683.58 L594.30,683.58 L594.55,683.58 L594.80,683.59 L595.05,683.59 L595.30,683.59 L595.55,683.59 L595.80,683.59 L596.05,683.59 L596.30,683.59 L596.55,683.60 L596.80,683.60 L597.05,683.60 L597.30,683.60 L597.55,683.60 L597.80,683.60 L598.05,683.60 L598.30,683.61 L598.55,683.61 L598.80,683.61 L599.05,683.61 L599.30,683.61 L599.55,683.61 L599.80,683.61 L600.05,683.62 L600.30,683.62 L600.55,683.62 L600.80,683.62 L601.05,683.62 L601.30,683.62 L601.55,683.62 L601.80,683.62 L602.05,683.62 L602.30,683.63 L602.55,683.63 L602.80,683.63 L603.05,683.63 L603.30,683.63 L603.55,683.63 L603.80,683.63 L604.05,683.63 L604.30,683.63 L604.55,683.64 L604.80,683.64 L605.05,683.64 L605.30,683.64 L605.55,683.64 L605.80,683.64 L606.05,683.64 L606.30,683.64 L606.55,683.64 L606.80,683.65 L607.05,683.65 L607.30,683.65 L607.55,683.65 L607.80,683.65 L608.05,683.65 L608.30,683.65 L608.55,683.65 L608.80,683.65 L609.05,683.65 L609.30,683.65 L609.55,683.66 L609.80,683.66 L610.05,683.66 L610.30,683.66 L610.55,683.66 L610.80,683.66 L611.05,683.66 L611.30,683.66 L611.55,683.66 L611.80,683.66 L612.05,683.66 L612.30,683.66 L612.55,683.67 L612.80,683.67 L613.05,683.67 L613.30,683.67 L613.55,683.67 L613.80,683.67 L614.05,683.67 L614.30,683.67 L614.55,683.67 L614.80,683.67 L615.05,683.67 L615.30,683.67 L615.55,683.67 L615.80,683.67 L616.05,683.68 L616.30,683.68 L616.55,683.68 L616.80,683.68 L617.05,683.68 L617.30,683.68 L617.55,683.68 L617.80,683.68 L618.05,683.68 L618.30,683.68 L618.55,683.68" stroke="#333" stroke-width="0.9" fill="none" stroke-linejoin="round"/>
<path d="M376.80,683.62 L377.05,683.62 L377.30,683.62 L377.55,683.62 L377.80,683.62 L378.05,683.62 L378.30,683.61 L378.55,683.61 L378.80,683.61 L379.05,683.61 L379.30,683.61 L379.55,683.61 L379.80,683.61 L380.05,683.61 L380.30,683.61 L380.55,683.61 L380.80,683.61 L381.05,683.61 L381.30,683.60 L381.55,683.60 L381.80,683.60 L382.05,683.60 L382.30,683.60 L382.55,683.60 L382.80,683.60 L383.05,683.60 L383.30,683.60 L383.55,683.60 L383.80,683.60 L384.05,683.60 L384.30,683.59 L384.55,683.59 L384.80,683.59 L385.05,683.59 L385.30,683.59 L385.55,683.59 L385.80,683.59 L386.05,683.59 L386.30,683.59 L386.55,683.59 L386.80,683.58 L387.05,683.58 L387.30,683.58 L387.55,683.58 L387.80,683.58 L388.05,683.58 L388.30,683.58 L388.55,683.58 L388.80,683.58 L389.05,683.57 L389.30,683.57 L389.55,683.57 L389.80,683.57 L390.05,683.57 L390.30,683.57 L390.55,683.57 L390.80,683.57 L391.05,683.57 L391.30,683.56 L391.55,683.56 L391.80,683.56 L392.05,683.56 L392.30,683.56 L392.55,683.56 L392.80,683.56 L393.05,683.56 L393.30,683.55 L393.55,683.55 L393.80,683.55 L394.05,683.55 L394.30,683.55 L394.55,683.55 L394.80,683.55 L395.05,683.54 L395.30,683.54 L395.55,683.54 L395.80,683.54 L396.05,683.54 L396.30,683.53 L396.55,683.53 L396.80,683.53 L397.05,683.52 L397.30,683.52 L397.55,683.51 L397.80,683.51 L398.05,683.50 L398.30,683.49 L398.55,683.48 L398.80,683.47 L399.05,683.45 L399.30,683.43 L399.55,683.41 L399.80,683.39 L400.05,683.36 L400.30,683.33 L400.55,683.29 L400.80,683.25 L401.05,683.21 L401.30,683.16 L401.55,683.10 L401.80,683.04 L402.05,682.98 L402.30,682.91 L402.55,682.83 L402.80,682.76 L403.05,682.67 L403.30,682.59 L403.55,682.51 L403.80,682.43 L404.05,682.34 L404.30,682.26 L404.55,682.19 L404.80,682.12 L405.05,682.05 L405.30,682.00 L405.55,681.95 L405.80,681.91 L406.05,681.88 L406.30,681.86 L406.55,681.86 L406.80,681.86 L407.05,681.88 L407.30,681.91 L407.55,681.95 L407.80,681.99 L408.05,682.05 L408.30,682.11 L408.55,682.18 L408.80,682.25 L409.05,682.32 L409.30,682.40 L409.55,682.48 L409.80,682.56 L410.05,682.64 L410.30,682.71 L410.55,682.78 L410.80,682.85 L411.05,682.91 L411.30,682.97 L411.55,683.02 L411.80,683.07 L412.05,683.11 L412.30,683.15 L412.55,683.18 L412.80,683.21 L413.05,683.24 L413.30,683.26 L413.55,683.27 L413.80,683.29 L414.05,683.30 L414.30,683.30 L414.55,683.31 L414.80,683.31 L415.05,683.32 L415.30,683.32 L415.55,683.32 L415.80,683.32 L416.05,683.31 L416.30,683.31 L416.55,683.31 L416.80,683.30 L417.05,683.30 L417.30,683.29 L417.55,683.29 L417.80,683.28 L418.05,683.28 L418.30,683.27 L418.55,683.26 L418.80,683.26 L419.05,683.25 L419.30,683.24 L419.55,683.24 L419.80,683.23 L420.05,683.22 L420.30,683.21 L420.55,683.21 L420.80,683.20 L421.05,683.19 L421.30,683.18 L421.55,683.17 L421.80,683.16 L422.05,683.15 L422.30,683.14 L422.55,683.13 L422.80,683.12 L423.05,683.11 L423.30,683.10 L423.55,683.09 L423.80,683.07 L424.05,683.06 L424.30,683.05 L424.55,683.03 L424.80,683.02 L425.05,683.00 L425.30,682.99 L425.55,682.97 L425.80,682.96 L426.05,682.94 L426.30,682.92 L426.55,682.90 L426.80,682.88 L427.05,682.86 L427.30,682.84 L427.55,682.82 L427.80,682.80 L428.05,682.77 L428.30,682.75 L428.55,682.72 L428.80,682.69 L429.05,682.66 L429.30,682.63 L429.55,682.60 L429.80,682.56 L430.05,682.52 L430.30,682.48 L430.55,682.44 L430.80,682.39 L431.05,682.33 L431.30,682.27 L431.55,682.20 L431.80,682.13 L432.05,682.04 L432.30,681.94 L432.55,681.83 L432.80,681.69 L433.05,681.54 L433.30,681.35 L433.55,681.13 L433.80,680.88 L434.05,680.57 L434.30,680.21 L434.55,679.78 L434.80,679.28 L435.05,678.69 L435.30,678.01 L435.55,677.22 L435.80,676.30 L436.05,675.25 L436.30,674.06 L436.55,672.71 L436.80,671.20 L437.05,669.52 L437.30,667.66 L437.55,665.62 L437.80,663.41 L438.05,661.03 L438.30,658.50 L438.55,655.83 L438.80,653.04 L439.05,650.16 L439.30,647.22 L439.55,644.26 L439.80,641.32 L440.05,638.45 L440.30,635.70 L440.55,633.12 L440.80,630.77 L441.05,628.70 L441.30,626.98 L441.55,625.65 L441.80,624.74 L442.05,624.29 L442.30,624.32 L442.55,624.82 L442.80,625.77 L443.05,627.15 L443.30,628.91 L443.55,631.01 L443.80,633.38 L444.05,635.98 L444.30,638.74 L444.55,641.62 L444.80,644.56 L445.05,647.51 L445.30,650.44 L445.55,653.31 L445.80,656.08 L446.05,658.73 L446.30,661.24 L446.55,663.59 L446.80,665.78 L447.05,667.79 L447.30,669.62 L447.55,671.28 L447.80,672.76 L448.05,674.09 L448.30,675.26 L448.55,676.28 L448.80,677.18 L449.05,677.95 L449.30,678.62 L449.55,679.19 L449.80,679.67 L450.05,680.09 L450.30,680.44 L450.55,680.73 L450.80,680.98 L451.05,681.19 L451.30,681.36 L451.55,681.51 L451.80,681.64 L452.05,681.74 L452.30,681.84 L452.55,681.91 L452.80,681.98 L453.05,682.04 L453.30,682.10 L453.55,682.15 L453.80,682.19 L454.05,682.23 L454.30,682.26 L454.55,682.29 L454.80,682.32 L455.05,682.35 L455.30,682.38 L455.55,682.40 L455.80,682.42 L456.05,682.44 L456.30,682.46 L456.55,682.48 L456.80,682.50 L457.05,682.51 L457.30,682.53 L457.55,682.54 L457.80,682.56 L458.05,682.57 L458.30,682.58 L458.55,682.59 L458.80,682.60 L459.05,682.61 L459.30,682.62 L459.55,682.63 L459.80,682.63 L460.05,682.64 L460.30,682.65 L460.55,682.65 L460.80,682.66 L461.05,682.66 L461.30,682.67 L461.55,682.67 L461.80,682.68 L462.05,682.68 L462.30,682.68 L462.55,682.68 L462.80,682.69 L463.05,682.69 L463.30,682.69 L463.55,682.69 L463.80,682.69 L464.05,682.69 L464.30,682.69 L464.55,682.69 L464.80,682.69 L465.05,682.69 L465.30,682.69 L465.55,682.69 L465.80,682.69 L466.05,682.69 L466.30,682.68 L466.55,682.68 L466.80,682.68 L467.05,682.68 L467.30,682.67 L467.55,682.67 L467.80,682.67 L468.05,682.67 L468.30,682.66 L468.55,682.66 L468.80,682.65 L469.05,682.65 L469.30,682.65 L469.55,682.64 L469.80,682.64 L470.05,682.63 L470.30,682.63 L470.55,682.62 L470.80,682.62 L471.05,682.61 L471.30,682.60 L471.55,682.60 L471.80,682.59 L472.05,682.58 L472.30,682.58 L472.55,682.57 L472.80,682.56 L473.05,682.56 L473.30,682.55 L473.55,682.54 L473.80,682.53 L474.05,682.53 L474.30,682.52 L474.55,682.51 L474.80,682.50 L475.05,682.49 L475.30,682.48 L475.55,682.47 L475.80,682.47 L476.05,682.46 L476.30,682.45 L476.55,682.44 L476.80,682.43 L477.05,682.42 L477.30,682.41 L477.55,682.39 L477.80,682.38 L478.05,682.37 L478.30,682.36 L478.55,682.35 L478.80,682.34 L479.05,682.33 L479.30,682.31 L479.55,682.30 L479.80,682.29 L480.05,682.27 L480.30,682.26 L480.55,682.25 L480.80,682.23 L481.05,682.22 L481.30,682.21 L481.55,682.19 L481.80,682.18 L482.05,682.16 L482.30,682.15 L482.55,682.13 L482.80,682.12 L483.05,682.10 L483.30,682.08 L483.55,682.07 L483.80,682.05 L484.05,682.03 L484.30,682.01 L484.55,682.00 L484.80,681.98 L485.05,681.96 L485.30,681.94 L485.55,681.92 L485.80,681.90 L486.05,681.88 L486.30,681.86 L486.55,681.84 L486.80,681.82 L487.05,681.80 L487.30,681.77 L487.55,681.75 L487.80,681.73 L488.05,681.71 L488.30,681.68 L488.55,681.66 L488.80,681.63 L489.05,681.61 L489.30,681.58 L489.55,681.56 L489.80,681.53 L490.05,681.50 L490.30,681.47 L490.55,681.45 L490.80,681.42 L491.05,681.39 L491.30,681.36 L491.55,681.33 L491.80,681.30 L492.05,681.26 L492.30,681.23 L492.55,681.20 L492.80,681.16 L493.05,681.13 L493.30,681.09 L493.55,681.06 L493.80,681.02 L494.05,680.98 L494.30,680.94 L494.55,680.90 L494.80,680.86 L495.05,680.82 L495.30,680.78 L495.55,680.74 L495.80,680.69 L496.05,680.65 L496.30,680.60 L496.55,680.55 L496.80,680.50 L497.05,680.45 L497.30,680.40 L497.55,680.34 L497.80,680.29 L498.05,680.23 L498.30,680.17 L498.55,680.11 L498.80,680.05 L499.05,679.98 L499.30,679.92 L499.55,679.85 L499.80,679.77 L500.05,679.70 L500.30,679.62 L500.55,679.54 L500.80,679.46 L501.05,679.37 L501.30,679.28 L501.55,679.19 L501.80,679.09 L502.05,678.99 L502.30,678.88 L502.55,678.77 L502.80,678.65 L503.05,678.53 L503.30,678.40 L503.55,678.26 L503.80,678.12 L504.05,677.97 L504.30,677.82 L504.55,677.65 L504.80,677.48 L505.05,677.30 L505.30,677.11 L505.55,676.91 L505.80,676.69 L506.05,676.47 L506.30,676.23 L506.55,675.98 L506.80,675.72 L507.05,675.44 L507.30,675.15 L507.55,674.84 L507.80,674.51 L508.05,674.17 L508.30,673.81 L508.55,673.43 L508.80,673.02 L509.05,672.60 L509.30,672.15 L509.55,671.69 L509.80,671.19 L510.05,670.67 L510.30,670.13 L510.55,669.55 L510.80,668.95 L511.05,668.32 L511.30,667.65 L511.55,666.96 L511.80,666.23 L512.05,665.47 L512.30,664.68 L512.55,663.85 L512.80,662.98 L513.05,662.07 L513.30,661.13 L513.55,660.15 L513.80,659.13 L514.05,658.07 L514.30,656.97 L514.55,655.83 L514.80,654.64 L515.05,653.42 L515.30,652.15 L515.55,650.84 L515.80,649.48 L516.05,648.08 L516.30,646.63 L516.55,645.13 L516.80,643.57 L517.05,641.97 L517.30,640.30 L517.55,638.56 L517.80,636.74 L518.05,634.83 L518.30,632.83 L518.55,630.70 L518.80,628.44 L519.05,626.02 L519.30,623.42 L519.55,620.61 L519.80,617.58 L520.05,614.31 L520.30,610.77 L520.55,606.95 L520.80,602.85 L521.05,598.48 L521.30,593.84 L521.55,588.98 L521.80,583.93 L522.05,578.75 L522.30,573.52 L522.55,568.31 L522.80,563.24 L523.05,558.38 L523.30,553.85 L523.55,549.74 L523.80,546.15 L524.05,543.13 L524.30,540.76 L524.55,539.07 L524.80,538.07 L525.05,537.76 L525.30,538.10 L525.55,539.05 L525.80,540.52 L526.05,542.44 L526.30,544.73 L526.55,547.28 L526.80,550.00 L527.05,552.80 L527.30,555.61 L527.55,558.35 L527.80,560.98 L528.05,563.44 L528.30,565.70 L528.55,567.76 L528.80,569.59 L529.05,571.20 L529.30,572.59 L529.55,573.77 L529.80,574.76 L530.05,575.56 L530.30,576.20 L530.55,576.68 L530.80,577.03 L531.05,577.25 L531.30,577.36 L531.55,577.37 L531.80,577.30 L532.05,577.17 L532.30,576.98 L532.55,576.77 L532.80,576.54 L533.05,576.33 L533.30,576.16 L533.55,576.05 L533.80,576.03 L534.05,576.13 L534.30,576.37 L534.55,576.79 L534.80,577.40 L535.05,578.22 L535.30,579.28 L535.55,580.59 L535.80,582.16 L536.05,583.98 L536.30,586.07 L536.55,588.41 L536.80,590.98 L537.05,593.78 L537.30,596.77 L537.55,599.94 L537.80,603.25 L538.05,606.67 L538.30,610.18 L538.55,613.73 L538.80,617.29 L539.05,620.85 L539.30,624.36 L539.55,627.80 L539.80,631.15 L540.05,634.39 L540.30,637.50 L540.55,640.46 L540.80,643.27 L541.05,645.93 L541.30,648.41 L541.55,650.74 L541.80,652.90 L542.05,654.91 L542.30,656.76 L542.55,658.47 L542.80,660.04 L543.05,661.48 L543.30,662.80 L543.55,664.01 L543.80,665.12 L544.05,666.13 L544.30,667.06 L544.55,667.92 L544.80,668.71 L545.05,669.44 L545.30,670.11 L545.55,670.73 L545.80,671.30 L546.05,671.84 L546.30,672.34 L546.55,672.81 L546.80,673.24 L547.05,673.65 L547.30,674.04 L547.55,674.40 L547.80,674.74 L548.05,675.06 L548.30,675.36 L548.55,675.65 L548.80,675.92 L549.05,676.17 L549.30,676.41 L549.55,676.64 L549.80,676.86 L550.05,677.07 L550.30,677.26 L550.55,677.45 L550.80,677.62 L551.05,677.79 L551.30,677.95 L551.55,678.10 L551.80,678.24 L552.05,678.38 L552.30,678.51 L552.55,678.64 L552.80,678.75 L553.05,678.87 L553.30,678.98 L553.55,679.08 L553.80,679.18 L554.05,679.28 L554.30,679.37 L554.55,679.46 L554.80,679.54 L555.05,679.62 L555.30,679.70 L555.55,679.78 L555.80,679.85 L556.05,679.92 L556.30,679.99 L556.55,680.06 L556.80,680.12 L557.05,680.18 L557.30,680.24 L557.55,680.30 L557.80,680.36 L558.05,680.41 L558.30,680.47 L558.55,680.52 L558.80,680.57 L559.05,680.62 L559.30,680.67 L559.55,680.71 L559.80,680.76 L560.05,680.80 L560.30,680.85 L560.55,680.89 L560.80,680.93 L561.05,680.97 L561.30,681.01 L561.55,681.05 L561.80,681.09 L562.05,681.12 L562.30,681.16 L562.55,681.20 L562.80,681.23 L563.05,681.27 L563.30,681.30 L563.55,681.33 L563.80,681.36 L564.05,681.40 L564.30,681.43 L564.55,681.46 L564.80,681.49 L565.05,681.52 L565.30,681.54 L565.55,681.57 L565.80,681.60 L566.05,681.63 L566.30,681.65 L566.55,681.68 L566.80,681.71 L567.05,681.73 L567.30,681.76 L567.55,681.78 L567.80,681.80 L568.05,681.83 L568.30,681.85 L568.55,681.87 L568.80,681.90 L569.05,681.92 L569.30,681.94 L569.55,681.96 L569.80,681.98 L570.05,682.00 L570.30,682.02 L570.55,682.04 L570.80,682.06 L571.05,682.08 L571.30,682.10 L571.55,682.12 L571.80,682.14 L572.05,682.15 L572.30,682.17 L572.55,682.19 L572.80,682.21 L573.05,682.22 L573.30,682.24 L573.55,682.25 L573.80,682.27 L574.05,682.29 L574.30,682.30 L574.55,682.32 L574.80,682.33 L575.05,682.35 L575.30,682.36 L575.55,682.38 L575.80,682.39 L576.05,682.40 L576.30,682.42 L576.55,682.43 L576.80,682.45 L577.05,682.46 L577.30,682.47 L577.55,682.48 L577.80,682.50 L578.05,682.51 L578.30,682.52 L578.55,682.53 L578.80,682.55 L579.05,682.56 L579.30,682.57 L579.55,682.58 L579.80,682.59 L580.05,682.60 L580.30,682.61 L580.55,682.63 L580.80,682.64 L581.05,682.65 L581.30,682.66 L581.55,682.67 L581.80,682.68 L582.05,682.69 L582.30,682.70 L582.55,682.71 L582.80,682.72 L583.05,682.73 L583.30,682.74 L583.55,682.74 L583.80,682.75 L584.05,682.76 L584.30,682.77 L584.55,682.78 L584.80,682.79 L585.05,682.80 L585.30,682.81 L585.55,682.81 L585.80,682.82 L586.05,682.83 L586.30,682.84 L586.55,682.85 L586.80,682.85 L587.05,682.86 L587.30,682.87 L587.55,682.88 L587.80,682.88 L588.05,682.89 L588.30,682.90 L588.55,682.91 L588.80,682.91 L589.05,682.92 L589.30,682.93 L589.55,682.93 L589.80,682.94 L590.05,682.95 L590.30,682.95 L590.55,682.96 L590.80,682.97 L591.05,682.97 L591.30,682.98 L591.55,682.99 L591.80,682.99 L592.05,683.00 L592.30,683.01 L592.55,683.01 L592.80,683.02 L593.05,683.02 L593.30,683.03 L593.55,683.03 L593.80,683.04 L594.05,683.05 L594.30,683.05 L594.55,683.06 L594.80,683.06 L595.05,683.07 L595.30,683.07 L595.55,683.08 L595.80,683.08 L596.05,683.09 L596.30,683.09 L596.55,683.10 L596.80,683.10 L597.05,683.11 L597.30,683.11 L597.55,683.12 L597.80,683.12 L598.05,683.13 L598.30,683.13 L598.55,683.14 L598.80,683.14 L599.05,683.15 L599.30,683.15 L599.55,683.15 L599.80,683.16 L600.05,683.16 L600.30,683.17 L600.55,683.17 L600.80,683.18 L601.05,683.18 L601.30,683.18 L601.55,683.19 L601.80,683.19 L602.05,683.20 L602.30,683.20 L602.55,683.20 L602.80,683.21 L603.05,683.21 L603.30,683.22 L603.55,683.22 L603.80,683.22 L604.05,683.23 L604.30,683.23 L604.55,683.23 L604.80,683.24 L605.05,683.24 L605.30,683.25 L605.55,683.25 L605.80,683.25 L606.05,683.26 L606.30,683.26 L606.55,683.26 L606.80,683.27 L607.05,683.27 L607.30,683.27 L607.55,683.28 L607.80,683.28 L608.05,683.28 L608.30,683.28 L608.55,683.29 L608.80,683.29 L609.05,683.29 L609.30,683.30 L609.55,683.30 L609.80,683.30 L610.05,683.31 L610.30,683.31 L610.55,683.31 L610.80,683.31 L611.05,683.32 L611.30,683.32 L611.55,683.32 L611.80,683.33 L612.05,683.33 L612.30,683.33 L612.55,683.33 L612.80,683.34 L613.05,683.34 L613.30,683.34 L613.55,683.35 L613.80,683.35 L614.05,683.35 L614.30,683.35 L614.55,683.36 L614.80,683.36 L615.05,683.36 L615.30,683.36 L615.55,683.37 L615.80,683.37 L616.05,683.37 L616.30,683.37 L616.55,683.37 L616.80,683.38 L617.05,683.38 L617.30,683.38 L617.55,683.38 L617.80,683.39 L618.05,683.39 L618.30,683.39 L618.55,683.39" stroke="#2828e6" stroke-width="1.1" fill="none" stroke-linejoin="round"/>
<rect x="376.8" y="507.7" width="241.90000000000003" height="194.00000000000006" fill="none" stroke="#444" stroke-width="1.1"/>
<line x1="376.80" y1="701.70" x2="376.80" y2="704.70" stroke="#444" stroke-width="1"/>
<line x1="396.95" y1="701.70" x2="396.95" y2="703.70" stroke="#444" stroke-width="1"/>
<line x1="417.10" y1="701.70" x2="417.10" y2="704.70" stroke="#444" stroke-width="1"/>
<line x1="437.25" y1="701.70" x2="437.25" y2="703.70" stroke="#444" stroke-width="1"/>
<line x1="457.40" y1="701.70" x2="457.40" y2="704.70" stroke="#444" stroke-width="1"/>
<line x1="477.55" y1="701.70" x2="477.55" y2="703.70" stroke="#444" stroke-width="1"/>
<line x1="497.70" y1="701.70" x2="497.70" y2="704.70" stroke="#444" stroke-width="1"/>
<line x1="517.85" y1="701.70" x2="517.85" y2="703.70" stroke="#444" stroke-width="1"/>
<line x1="538.00" y1="701.70" x2="538.00" y2="704.70" stroke="#444" stroke-width="1"/>
<line x1="558.15" y1="701.70" x2="558.15" y2="703.70" stroke="#444" stroke-width="1"/>
<line x1="578.30" y1="701.70" x2="578.30" y2="704.70" stroke="#444" stroke-width="1"/>
<line x1="598.45" y1="701.70" x2="598.45" y2="703.70" stroke="#444" stroke-width="1"/>
<line x1="618.60" y1="701.70" x2="618.60" y2="704.70" stroke="#444" stroke-width="1"/>
<text x="376.80" y="718.60" font-size="13" fill="#1a1a1a" text-anchor="middle">4.80</text>
<text x="417.10" y="718.60" font-size="13" fill="#1a1a1a" text-anchor="middle">4.75</text>
<text x="457.40" y="718.60" font-size="13" fill="#1a1a1a" text-anchor="middle">4.70</text>
<text x="497.70" y="718.60" font-size="13" fill="#1a1a1a" text-anchor="middle">4.65</text>
<text x="538.00" y="718.60" font-size="13" fill="#1a1a1a" text-anchor="middle">4.60</text>
<text x="578.30" y="718.60" font-size="13" fill="#1a1a1a" text-anchor="middle">4.55</text>
<text x="618.60" y="718.60" font-size="13" fill="#1a1a1a" text-anchor="middle">4.50</text>
<text x="498.50" y="737.50" font-size="13" fill="#1a1a1a" text-anchor="middle"><tspan font-size="8.06" dy="-4.68">1</tspan><tspan dy="4.68">H Chemical Shift (ppm)</tspan></text>
<text x="367.80" y="597.50" font-size="12.8" fill="#1a1a1a" text-anchor="middle" transform="rotate(-90 367.8 597.5)">Intensity (a.u.)</text>
<text x="381.90" y="522.60" font-size="12.3" fill="#1a1a1a" text-anchor="start"><tspan font-size="7.63" dy="-4.43">1</tspan><tspan dy="4.43">H at 363 K (before and after NOESY)</tspan></text>
<text x="426.60" y="588.00" font-size="12.6" fill="#1a1a1a" text-anchor="start">Before NOESY</text>
<text x="563.20" y="604.50" font-size="12.6" fill="#2828e6" text-anchor="middle">After</text>
<text x="565.20" y="620.00" font-size="12.6" fill="#2828e6" text-anchor="middle">NOESY</text>
<text x="15.60" y="235.30" font-size="15.5" fill="#1a1a1a" text-anchor="start">c</text>
<g fill="none" stroke="#6262fa" stroke-width="0.9" stroke-linejoin="round">
<path d="M173.80,410.50 C173.88,409.47 175.13,407.68 176.50,407.00 C177.87,406.32 180.08,406.32 182.00,406.40 C183.92,406.48 186.05,406.73 188.00,407.50 C189.95,408.27 193.37,409.92 193.70,411.00 C194.03,412.08 191.95,413.45 190.00,414.00 C188.05,414.55 184.33,414.43 182.00,414.30 C179.67,414.17 177.37,413.83 176.00,413.20 C174.63,412.57 173.72,411.53 173.80,410.50Z" stroke="#6262fa" stroke-width="0.9" fill="none" stroke-linejoin="round"/>
<path d="M97.6,405.5 L97.0,405.6 L96.4,405.7 L95.8,405.7 L95.2,405.7 L94.6,405.7 L94.0,405.7 L93.4,405.7 L92.8,405.7 L92.2,405.8 L91.6,405.8 L91.0,405.8 L90.4,405.8 L89.8,405.8 L89.2,405.7 L88.6,405.7 L88.0,405.7 L87.4,405.6 L86.8,405.5 L86.5,405.5 L85.9,405.4 L85.3,405.3 L85.0,405.2 L84.4,405.1 L83.9,404.9 L83.5,404.8 L83.1,404.6 L82.6,404.4 L82.3,404.3 L81.8,404.0 L81.4,403.8 L81.1,403.6 L80.8,403.4 L80.3,403.1 L79.9,402.8 L79.6,402.5 L79.3,402.3 L79.0,402.0 L78.7,401.7 L78.4,401.4 L78.1,401.0 L77.8,400.7 L77.6,400.4 L77.4,400.1 L77.2,399.7 L77.0,399.2 L76.8,398.9 L76.7,398.3 L76.6,397.7 L76.6,397.4 L76.5,396.8 L76.5,396.2 L76.5,395.6 L76.5,395.0 L76.5,394.4 L76.5,393.8 L76.4,393.2 L76.4,392.6 L76.4,392.0 L76.3,391.4 L76.2,391.1 L76.0,390.5 L75.8,390.2 L75.7,389.8 L75.4,389.3 L75.2,389.0 L75.1,388.7 L74.8,388.2 L74.5,387.8 L74.3,387.5 L74.1,387.2 L73.9,386.9 L73.6,386.5 L73.3,386.2 L73.0,385.8 L72.7,385.4 L72.5,385.1 L72.2,384.8 L71.9,384.5 L71.7,384.2 L71.5,383.9 L71.2,383.5 L70.9,383.2 L70.6,382.7 L70.3,382.4 L70.1,382.1 L69.8,381.8 L69.6,381.5 L69.4,381.2 L69.1,380.9 L68.8,380.5 L68.5,380.2 L68.2,379.9 L67.9,379.6 L67.6,379.3 L67.3,379.0 L67.0,378.6 L66.7,378.3 L66.4,377.9 L66.1,377.6 L65.9,377.3 L65.6,377.0 L65.4,376.7 L65.2,376.3 L64.9,375.8 L64.7,375.5 L64.6,375.1 L64.4,374.6 L64.3,374.0 L64.3,373.4 L64.4,372.8 L64.5,372.2 L64.6,371.9 L64.9,371.3 L65.0,371.0 L65.2,370.7 L65.5,370.1 L65.6,369.8 L65.8,369.5 L66.1,369.0 L66.3,368.6 L66.5,368.3 L66.7,367.9 L66.9,367.4 L67.1,367.1 L67.3,366.6 L67.4,366.2 L67.6,365.8 L67.7,365.3 L67.8,364.7 L67.8,364.1 L67.8,363.5 L67.6,363.0 L67.4,362.6 L67.3,362.3 L67.0,361.9 L66.7,361.4 L66.4,361.1 L66.2,360.8 L65.9,360.5 L65.6,360.2 L65.3,359.9 L65.0,359.6 L64.7,359.3 L64.4,359.0 L64.1,358.7 L63.7,358.4 L63.4,358.1 L63.1,357.8 L62.8,357.6 L62.5,357.3 L62.2,357.0 L61.9,356.8 L61.6,356.5 L61.3,356.2 L61.0,355.9 L60.7,355.6 L60.4,355.2 L60.1,354.8 L59.9,354.5 L59.7,354.2 L59.5,353.6 L59.4,353.3 L59.4,352.7 L59.5,352.1 L59.6,351.8 L59.8,351.4 L60.1,351.0 L60.4,350.8 L60.7,350.5 L61.0,350.3 L61.3,350.0 L61.7,349.7 L62.2,349.4 L62.5,349.2 L62.8,349.0 L63.2,348.8 L63.7,348.6 L64.0,348.4 L64.6,348.2 L64.9,348.0 L65.3,347.9 L65.8,347.7 L66.1,347.6 L66.7,347.4 L67.0,347.3 L67.6,347.0 L67.9,346.9 L68.5,346.7 L68.8,346.6 L69.2,346.4 L69.7,346.2 L70.0,346.1 L70.6,345.8 L70.9,345.7 L71.3,345.5 L71.8,345.3 L72.1,345.1 L72.5,344.9 L73.0,344.6 L73.3,344.4 L73.6,344.3 L74.2,344.0 L74.5,343.8 L74.8,343.7 L75.4,343.4 L75.7,343.2 L76.0,343.1 L76.5,342.8 L76.9,342.6 L77.2,342.4 L77.6,342.2 L78.1,341.9 L78.4,341.7 L78.7,341.6 L79.2,341.3 L79.6,341.0 L79.9,340.8 L80.2,340.7 L80.6,340.4 L81.0,340.1 L81.4,339.8 L81.7,339.5 L82.0,339.2 L82.3,338.9 L82.6,338.6 L82.7,338.3 L82.9,338.0 L83.0,337.4 L82.9,336.8 L82.8,336.5 L82.6,336.0 L82.3,335.6 L82.1,335.3 L81.8,335.0 L81.6,334.7 L81.3,334.4 L81.0,334.1 L80.7,333.8 L80.4,333.5 L80.1,333.2 L79.7,332.9 L79.4,332.6 L79.1,332.3 L78.8,332.0 L78.5,331.7 L78.2,331.4 L78.0,331.1 L77.8,330.8 L77.5,330.4 L77.3,329.9 L77.2,329.3 L77.4,328.7 L77.6,328.4 L77.9,328.1 L78.2,327.8 L78.7,327.5 L79.0,327.3 L79.3,327.1 L79.8,326.9 L80.2,326.7 L80.5,326.5 L80.9,326.3 L81.4,326.0 L81.7,325.8 L82.0,325.6 L82.3,325.4 L82.8,325.1 L83.2,324.8 L83.5,324.6 L83.8,324.4 L84.1,324.2 L84.6,323.9 L85.0,323.6 L85.3,323.4 L85.6,323.3 L86.0,323.0 L86.5,322.7 L86.8,322.5 L87.1,322.4 L87.7,322.1 L88.0,321.9 L88.3,321.7 L88.8,321.5 L89.2,321.3 L89.5,321.1 L90.0,320.9 L90.4,320.7 L90.7,320.6 L91.3,320.3 L91.6,320.2 L92.0,320.0 L92.5,319.8 L92.8,319.7 L93.4,319.4 L93.7,319.3 L94.2,319.1 L94.6,318.9 L94.9,318.8 L95.5,318.5 L95.8,318.4 L96.4,318.2 L96.7,318.0 L97.1,317.9 L97.6,317.7 L97.9,317.5 L98.5,317.3 L98.8,317.1 L99.2,317.0 L99.7,316.7 L100.0,316.6 L100.5,316.4 L100.9,316.2 L101.2,316.1 L101.7,315.8 L102.1,315.6 L102.4,315.4 L102.8,315.2 L103.3,314.9 L103.6,314.7 L103.9,314.4 L104.2,314.3 L104.5,314.0 L104.9,313.7 L105.2,313.4 L105.5,313.1 L105.7,312.8 L106.0,312.5 L106.3,312.1 L106.6,311.7 L106.9,311.3 L107.1,311.0 L107.3,310.7 L107.5,310.4 L107.8,310.0 L108.1,309.6 L108.3,309.2 L108.5,308.9 L108.7,308.5 L109.0,308.0 L109.1,307.7 L109.3,307.3 L109.6,306.8 L109.7,306.5 L109.9,306.2 L110.2,305.6 L110.3,305.3 L110.5,305.0 L110.8,304.4 L110.9,304.1 L111.1,303.7 L111.3,303.2 L111.4,302.9 L111.6,302.3 L111.8,302.0 L112.0,301.4 L112.1,301.1 L112.3,300.7 L112.5,300.2 L112.7,299.9 L112.9,299.6 L113.2,299.1 L113.4,298.7 L113.7,298.4 L113.9,298.1 L114.2,297.8 L114.5,297.5 L114.8,297.2 L115.1,296.9 L115.5,296.6 L115.9,296.3 L116.2,296.1 L116.5,295.8 L116.8,295.6 L117.1,295.4 L117.6,295.1 L118.0,294.8 L118.3,294.6 L118.6,294.4 L118.9,294.2 L119.3,293.9 L119.8,293.6 L120.1,293.3 L120.4,293.1 L120.7,292.9 L121.0,292.7 L121.3,292.4 L121.7,292.1 L122.0,291.8 L122.3,291.5 L122.6,291.2 L122.9,290.9 L123.2,290.6 L123.5,290.3 L123.7,290.0 L124.0,289.7 L124.3,289.4 L124.6,289.1 L124.9,288.7 L125.2,288.3 L125.5,288.0 L125.8,287.7 L126.1,287.3 L126.4,287.0 L126.6,286.7 L126.8,286.4 L127.1,286.1 L127.4,285.8 L127.6,285.5 L127.9,285.2 L128.2,284.8 L128.5,284.4 L128.8,284.1 L129.1,283.8 L129.4,283.4 L129.7,283.1 L130.0,282.8 L130.3,282.5 L130.6,282.2 L130.9,281.9 L131.2,281.6 L131.5,281.3 L131.8,281.0 L132.1,280.7 L132.3,280.4 L132.5,280.1 L132.7,279.8 L133.0,279.4 L133.2,278.9 L133.4,278.6 L133.6,278.1 L133.7,277.7 L133.9,277.2 L134.0,276.8 L134.1,276.2 L134.2,275.9 L134.3,275.3 L134.5,274.7 L134.5,274.4 L134.6,273.8 L134.8,273.2 L134.8,272.9 L135.0,272.3 L135.1,271.8 L135.2,271.4 L135.4,270.8 L135.5,270.5 L135.7,270.1 L135.9,269.6 L136.1,269.3 L136.3,269.0 L136.6,268.5 L136.9,268.2 L137.2,267.9 L137.5,267.6 L137.8,267.3 L138.1,267.1 L138.4,266.9 L138.9,266.6 L139.3,266.4 L139.6,266.2 L140.1,266.0 L140.5,265.9 L141.1,265.7 L141.4,265.6 L142.0,265.5 L142.6,265.5 L143.2,265.5 L143.8,265.6 L144.1,265.7 L144.7,266.0 L145.0,266.1 L145.3,266.3 L145.8,266.6 L146.2,266.9 L146.5,267.1 L146.8,267.3 L147.1,267.6 L147.4,267.8 L147.7,268.1 L148.0,268.5 L148.3,268.9 L148.5,269.3 L148.7,269.6 L148.9,270.1 L149.1,270.5 L149.3,270.8 L149.5,271.2 L149.8,271.7 L150.0,272.0 L150.4,272.3 L150.7,272.5 L151.0,272.7 L151.3,272.9 L151.9,273.1 L152.2,273.2 L152.8,273.3 L153.4,273.2 L153.9,273.2 L154.3,273.1 L154.9,273.0 L155.5,272.9 L155.8,272.8 L156.4,272.7 L156.7,272.6 L157.3,272.4 L157.7,272.3 L158.2,272.1 L158.7,272.0 L159.1,271.9 L159.6,271.7 L160.0,271.6 L160.5,271.4 L160.9,271.2 L161.4,271.1 L161.8,270.9 L162.2,270.8 L162.7,270.6 L163.0,270.5 L163.6,270.2 L163.9,270.1 L164.4,269.9 L164.8,269.7 L165.1,269.6 L165.7,269.3 L166.0,269.1 L166.3,269.0 L166.8,268.7 L167.2,268.5 L167.5,268.3 L167.8,268.1 L168.2,267.8 L168.7,267.5 L169.0,267.3 L169.3,267.0 L169.6,266.8 L169.9,266.6 L170.3,266.3 L170.6,266.0 L171.0,265.7 L171.4,265.4 L171.7,265.2 L172.0,265.0 L172.3,264.7 L172.6,264.5 L173.0,264.2 L173.4,263.9 L173.8,263.6 L174.1,263.3 L174.4,263.1 L174.7,262.8 L175.0,262.6 L175.3,262.3 L175.6,262.1 L175.9,261.8 L176.3,261.5 L176.7,261.2 L177.1,260.9 L177.4,260.7 L177.7,260.5 L178.3,260.3 L178.6,260.2 L179.2,260.2 L179.5,260.3 L179.9,260.6 L180.3,260.9 L180.7,261.2 L181.0,261.4 L181.3,261.6 L181.7,261.8 L182.2,262.1 L182.5,262.2 L182.8,262.5 L183.2,262.7 L183.7,263.0 L184.0,263.1 L184.3,263.3 L184.9,263.6 L185.2,263.7 L185.8,263.8 L186.4,263.9 L187.0,263.9 L187.6,263.8 L188.2,263.7 L188.7,263.6 L189.1,263.5 L189.7,263.3 L190.0,263.3 L190.6,263.1 L191.0,263.0 L191.5,262.8 L191.8,262.6 L192.4,262.4 L192.7,262.2 L193.1,262.1 L193.6,261.9 L194.0,261.8 L194.5,261.6 L195.1,261.6 L195.7,261.6 L196.3,261.6 L196.9,261.8 L197.2,261.9 L197.8,262.1 L198.1,262.2 L198.6,262.4 L199.0,262.5 L199.3,262.7 L199.9,263.0 L200.2,263.1 L200.5,263.3 L201.1,263.6 L201.4,263.7 L201.7,263.9 L202.1,264.2 L202.6,264.5 L202.9,264.6 L203.2,264.8 L203.6,265.1 L204.0,265.4 L204.4,265.6 L204.7,265.8 L205.0,266.0 L205.4,266.3 L205.9,266.6 L206.2,266.8 L206.5,267.0 L206.8,267.2 L207.2,267.5 L207.7,267.8 L208.0,268.0 L208.3,268.2 L208.6,268.5 L208.9,268.7 L209.2,269.0 L209.5,269.3 L209.9,269.6 L210.3,269.9 L210.6,270.2 L211.0,270.4 L211.3,270.6 L211.6,270.8 L212.2,271.1 L212.5,271.2 L213.1,271.4 L213.4,271.4 L214.0,271.5 L214.6,271.6 L215.1,271.7 L215.5,271.7 L216.1,271.7 L216.7,271.7 L217.3,271.7 L217.9,271.7 L218.5,271.7 L219.1,271.7 L219.7,271.7 L220.3,271.7 L220.9,271.8 L221.5,271.8 L222.1,271.8 L222.7,271.8 L223.3,271.9 L223.6,272.0 L224.2,272.1 L224.7,272.3 L225.1,272.4 L225.5,272.6 L226.0,272.8 L226.3,273.0 L226.6,273.2 L227.0,273.5 L227.3,273.8 L227.6,274.1 L227.8,274.4 L228.1,274.7 L228.4,275.1 L228.7,275.6 L228.8,275.9 L229.0,276.3 L229.2,276.8 L229.3,277.4 L229.3,277.7 L229.4,278.3 L229.3,278.9 L229.3,279.2 L229.1,279.8 L229.0,280.1 L228.7,280.6 L228.5,281.0 L228.3,281.3 L228.1,281.6 L227.8,282.1 L227.5,282.5 L227.4,282.8 L227.1,283.1 L226.9,283.4 L226.6,283.9 L226.3,284.3 L226.1,284.6 L225.9,284.9 L225.7,285.2 L225.4,285.5 L225.1,285.8 L224.8,286.1 L224.5,286.4 L224.2,286.8 L223.9,287.2 L223.6,287.6 L223.5,287.9 L223.3,288.2 L223.3,288.8 L223.3,289.4 L223.3,290.0 L223.4,290.3 L223.6,290.9 L223.8,291.2 L223.9,291.5 L224.2,291.8 L224.5,292.1 L224.8,292.4 L225.1,292.7 L225.4,293.0 L225.9,293.3 L226.3,293.6 L226.6,293.7 L226.9,293.9 L227.5,294.2 L227.8,294.3 L228.1,294.5 L228.7,294.8 L229.0,294.9 L229.5,295.1 L229.9,295.2 L230.2,295.4 L230.8,295.6 L231.1,295.7 L231.6,296.0 L232.0,296.1 L232.4,296.3 L232.9,296.5 L233.2,296.6 L233.8,296.9 L234.1,297.0 L234.6,297.2 L235.0,297.4 L235.3,297.5 L235.9,297.8 L236.2,297.9 L236.7,298.1 L237.1,298.3 L237.4,298.4 L238.0,298.7 L238.3,298.8 L238.8,299.0 L239.2,299.1 L239.5,299.3 L240.1,299.5 L240.4,299.7 L240.9,299.9 L241.3,300.0 L241.7,300.2 L242.2,300.4 L242.5,300.5 L243.1,300.8 L243.4,300.9 L243.8,301.1 L244.3,301.3 L244.6,301.4 L245.2,301.7 L245.5,301.8 L246.0,302.0 L246.4,302.1 L246.8,302.3 L247.3,302.5 L247.6,302.6 L248.2,302.8 L248.5,302.9 L249.1,303.1 L249.4,303.2 L250.0,303.4 L250.3,303.5 L250.9,303.7 L251.2,303.9 L251.7,304.1 L252.1,304.3 L252.4,304.4 L252.8,304.7 L253.1,305.0 L253.4,305.3 L253.6,305.7 L253.8,306.2 L253.9,306.7 L253.9,307.1 L253.9,307.5 L253.8,308.0 L253.7,308.6 L253.6,309.0 L253.4,309.5 L253.3,309.8 L253.0,310.4 L252.9,310.7 L252.7,311.0 L252.4,311.5 L252.2,311.9 L252.0,312.2 L251.7,312.5 L251.5,312.8 L251.2,313.1 L250.9,313.5 L250.6,313.8 L250.3,314.1 L250.0,314.4 L249.7,314.7 L249.4,314.9 L249.1,315.2 L248.8,315.5 L248.4,315.8 L248.1,316.1 L247.7,316.4 L247.4,316.7 L247.0,317.0 L246.7,317.3 L246.4,317.5 L246.1,317.7 L245.8,318.0 L245.5,318.2 L245.1,318.5 L244.6,318.8 L244.3,319.0 L244.0,319.2 L243.7,319.4 L243.2,319.7 L242.8,319.9 L242.5,320.1 L242.1,320.3 L241.6,320.6 L241.3,320.8 L241.0,320.9 L240.5,321.2 L240.1,321.5 L239.8,321.6 L239.4,321.8 L238.9,322.1 L238.6,322.2 L238.2,322.4 L237.7,322.6 L237.4,322.7 L236.8,323.0 L236.5,323.2 L236.1,323.3 L235.6,323.6 L235.3,323.7 L234.9,323.9 L234.4,324.2 L234.1,324.4 L233.8,324.6 L233.5,324.9 L233.2,325.1 L232.9,325.4 L232.6,325.7 L232.3,326.1 L232.1,326.6 L232.0,326.9 L232.0,327.5 L232.0,328.1 L232.1,328.4 L232.3,328.9 L232.5,329.3 L232.7,329.6 L232.9,329.9 L233.2,330.4 L233.5,330.8 L233.7,331.1 L233.9,331.4 L234.1,331.7 L234.4,332.2 L234.6,332.6 L234.8,332.9 L235.0,333.3 L235.2,333.8 L235.3,334.1 L235.5,334.7 L235.5,335.3 L235.5,335.9 L235.4,336.5 L235.3,336.8 L235.1,337.4 L235.0,337.7 L234.8,338.3 L234.7,338.6 L234.4,339.2 L234.3,339.5 L234.1,339.9 L233.9,340.4 L233.8,340.7 L233.5,341.3 L233.4,341.6 L233.2,342.2 L233.2,342.5 L233.0,343.1 L232.9,343.7 L232.9,344.0 L232.9,344.5 L232.9,344.9 L233.0,345.5 L233.2,346.1 L233.2,346.4 L233.4,347.0 L233.5,347.4 L233.7,347.9 L233.8,348.3 L234.0,348.8 L234.1,349.1 L234.3,349.7 L234.4,350.1 L234.5,350.6 L234.6,351.2 L234.7,351.8 L234.7,352.4 L234.7,353.0 L234.6,353.6 L234.5,354.2 L234.4,354.5 L234.1,355.1 L234.0,355.4 L233.8,355.7 L233.5,356.2 L233.2,356.6 L233.0,356.9 L232.7,357.2 L232.5,357.5 L232.2,357.8 L231.9,358.1 L231.6,358.4 L231.3,358.7 L231.0,359.0 L230.7,359.3 L230.3,359.6 L230.0,359.9 L229.7,360.2 L229.3,360.5 L229.0,360.8 L228.7,361.0 L228.4,361.3 L228.1,361.5 L227.8,361.8 L227.5,362.0 L227.2,362.3 L226.8,362.6 L226.4,362.9 L226.0,363.2 L225.7,363.5 L225.4,363.7 L225.1,363.9 L224.8,364.1 L224.4,364.4 L224.0,364.7 L223.6,365.0 L223.3,365.2 L223.0,365.3 L222.6,365.6 L222.1,365.9 L221.8,366.0 L221.4,366.2 L220.9,366.5 L220.6,366.6 L220.2,366.8 L219.7,367.1 L219.4,367.3 L219.1,367.4 L218.5,367.7 L218.2,367.9 L217.9,368.0 L217.4,368.3 L217.0,368.5 L216.7,368.7 L216.3,368.9 L215.8,369.1 L215.5,369.3 L215.1,369.5 L214.6,369.7 L214.3,369.9 L213.9,370.1 L213.4,370.3 L213.1,370.5 L212.6,370.7 L212.2,370.9 L211.9,371.0 L211.3,371.3 L211.0,371.4 L210.4,371.6 L210.1,371.7 L209.6,371.9 L209.2,372.1 L208.7,372.2 L208.3,372.4 L207.9,372.5 L207.4,372.7 L207.0,372.8 L206.5,373.0 L206.2,373.1 L205.6,373.3 L205.3,373.5 L204.7,373.7 L204.4,373.9 L204.1,374.0 L203.5,374.3 L203.2,374.5 L202.9,374.6 L202.5,374.9 L202.0,375.2 L201.7,375.4 L201.4,375.7 L201.1,375.9 L200.8,376.1 L200.4,376.4 L200.1,376.7 L199.7,377.0 L199.4,377.3 L199.0,377.6 L198.8,377.9 L198.5,378.2 L198.2,378.5 L198.0,378.8 L197.7,379.1 L197.5,379.4 L197.3,380.0 L197.2,380.3 L197.2,380.8 L197.3,381.2 L197.5,381.6 L197.7,382.1 L197.8,382.4 L198.0,383.0 L198.0,383.6 L197.9,384.2 L197.8,384.5 L197.6,385.1 L197.5,385.4 L197.2,386.0 L197.1,386.3 L196.9,386.6 L196.6,387.0 L196.3,387.4 L196.0,387.8 L195.7,388.1 L195.4,388.3 L195.1,388.5 L194.7,388.7 L194.2,388.9 L193.8,389.0 L193.3,389.2 L192.7,389.3 L192.4,389.3 L191.8,389.4 L191.2,389.5 L190.7,389.6 L190.3,389.7 L189.7,389.8 L189.3,389.9 L188.8,390.0 L188.2,390.2 L187.9,390.2 L187.3,390.4 L186.7,390.5 L186.4,390.6 L185.8,390.7 L185.3,390.8 L184.9,390.9 L184.3,391.1 L184.0,391.1 L183.4,391.3 L182.8,391.4 L182.5,391.5 L181.9,391.7 L181.6,391.8 L181.0,391.9 L180.7,392.0 L180.1,392.3 L179.8,392.4 L179.3,392.6 L178.9,392.8 L178.6,392.9 L178.0,393.2 L177.7,393.3 L177.3,393.5 L176.8,393.7 L176.5,393.9 L176.0,394.1 L175.6,394.3 L175.2,394.4 L174.7,394.6 L174.3,394.7 L173.8,394.9 L173.2,395.0 L172.6,395.0 L172.0,395.0 L171.4,394.9 L170.8,394.7 L170.5,394.6 L169.9,394.4 L169.6,394.3 L169.1,394.1 L168.7,394.0 L168.4,393.8 L167.8,393.7 L167.3,393.5 L166.9,393.5 L166.3,393.4 L165.7,393.4 L165.1,393.5 L164.8,393.5 L164.2,393.7 L163.6,393.7 L163.2,393.8 L162.7,394.0 L162.1,394.1 L161.8,394.2 L161.2,394.3 L160.9,394.4 L160.3,394.6 L159.9,394.7 L159.4,394.9 L158.9,395.0 L158.5,395.2 L157.9,395.3 L157.6,395.4 L157.0,395.6 L156.7,395.7 L156.1,395.9 L155.8,395.9 L155.2,396.1 L154.8,396.2 L154.3,396.4 L153.7,396.5 L153.4,396.6 L152.8,396.7 L152.3,396.8 L151.9,397.0 L151.3,397.1 L151.0,397.1 L150.4,397.3 L149.9,397.4 L149.5,397.6 L148.9,397.7 L148.6,397.8 L148.0,398.0 L147.7,398.1 L147.1,398.3 L146.8,398.4 L146.2,398.6 L145.9,398.8 L145.5,398.9 L145.0,399.2 L144.7,399.4 L144.4,399.7 L144.1,400.0 L143.8,400.3 L143.5,400.7 L143.3,401.0 L143.1,401.3 L142.9,401.6 L142.6,402.0 L142.3,402.4 L142.0,402.8 L141.7,403.1 L141.4,403.4 L141.1,403.6 L140.8,403.8 L140.2,404.0 L139.9,404.1 L139.3,404.2 L138.7,404.2 L138.1,404.1 L137.5,404.1 L137.2,404.0 L136.6,403.9 L136.0,403.8 L135.5,403.7 L135.1,403.7 L134.5,403.6 L134.0,403.4 L133.6,403.4 L133.0,403.3 L132.5,403.1 L132.1,403.1 L131.5,403.0 L130.9,402.9 L130.3,402.8 L130.0,402.8 L129.4,402.8 L128.8,402.8 L128.2,402.8 L127.6,402.8 L127.0,402.8 L126.4,402.8 L126.1,402.8 L125.5,402.9 L124.9,402.9 L124.3,403.0 L123.7,403.0 L123.1,403.1 L122.5,403.1 L121.9,403.1 L121.6,403.1 L121.0,403.2 L120.4,403.3 L119.8,403.3 L119.2,403.3 L118.6,403.4 L118.0,403.4 L117.7,403.4 L117.1,403.5 L116.5,403.6 L115.9,403.6 L115.3,403.7 L114.7,403.7 L114.4,403.8 L113.8,403.9 L113.2,403.9 L112.6,404.0 L112.0,404.0 L111.6,404.0 L111.1,404.1 L110.5,404.2 L109.9,404.2 L109.3,404.3 L108.7,404.3 L108.4,404.4 L107.8,404.5 L107.2,404.5 L106.6,404.6 L106.0,404.6 L105.7,404.6 L105.1,404.8 L104.5,404.8 L103.9,404.9 L103.3,404.9 L103.0,405.0 L102.4,405.1 L101.8,405.2 L101.2,405.2 L100.9,405.2 L100.3,405.4 L99.7,405.4 L99.1,405.5 L98.5,405.5 L97.9,405.5 L97.6,405.5 L97.6,405.5"/>
<path d="M102.7,394.3 L102.1,394.3 L101.5,394.3 L100.9,394.3 L100.3,394.3 L99.7,394.3 L99.4,394.1 L98.8,394.1 L98.2,394.1 L97.6,394.0 L97.3,393.8 L96.7,393.8 L96.1,393.5 L95.8,393.5 L95.5,393.2 L94.9,393.2 L94.6,392.9 L94.0,392.6 L93.7,392.6 L93.4,392.3 L93.1,392.0 L92.8,391.7 L92.2,391.4 L91.9,391.1 L91.6,390.8 L91.3,390.5 L91.3,390.2 L91.0,389.9 L90.7,389.6 L90.4,389.0 L90.1,388.7 L90.1,388.4 L89.8,387.8 L89.8,387.5 L89.5,386.9 L89.5,386.3 L89.2,386.0 L89.2,385.4 L89.2,384.8 L89.2,384.2 L89.2,383.6 L89.2,383.0 L89.2,382.4 L89.2,381.8 L89.2,381.2 L89.2,380.6 L89.5,380.0 L89.5,379.7 L89.5,379.1 L89.5,378.5 L89.5,377.9 L89.5,377.3 L89.8,377.0 L89.8,376.4 L89.8,375.8 L89.8,375.2 L90.1,374.9 L90.1,374.3 L90.1,373.7 L90.4,373.1 L90.4,372.8 L90.4,372.2 L90.7,371.6 L90.7,371.3 L90.7,370.7 L90.7,370.1 L91.0,369.8 L91.0,369.2 L91.0,368.6 L91.3,368.0 L91.3,367.7 L91.3,367.1 L91.3,366.5 L91.6,366.2 L91.6,365.6 L91.6,365.0 L91.9,364.7 L91.9,364.1 L91.9,363.5 L92.2,362.9 L92.2,362.6 L92.2,362.0 L92.5,361.7 L92.5,361.1 L92.8,360.5 L92.8,360.2 L93.1,359.6 L93.1,359.3 L93.1,358.7 L93.4,358.4 L93.4,357.8 L93.7,357.5 L93.7,356.9 L94.0,356.6 L94.0,356.0 L94.3,355.7 L94.3,355.1 L94.6,354.8 L94.9,354.2 L94.9,353.9 L95.2,353.3 L95.2,353.0 L95.5,352.7 L95.8,352.1 L95.8,351.8 L96.1,351.5 L96.4,350.9 L96.4,350.6 L96.7,350.3 L97.0,349.7 L97.3,349.4 L97.6,349.1 L97.9,348.8 L98.2,348.5 L98.5,348.2 L98.8,348.2 L99.1,347.9 L99.4,347.6 L100.0,347.3 L100.3,347.0 L100.6,347.0 L100.9,346.7 L101.5,346.4 L101.8,346.1 L102.1,345.8 L102.4,345.5 L102.7,345.2 L103.0,344.9 L103.3,344.6 L103.6,344.3 L103.6,344.0 L103.9,343.7 L104.2,343.1 L104.2,342.8 L104.5,342.2 L104.5,341.9 L104.8,341.3 L104.8,341.0 L104.8,340.4 L105.1,339.8 L105.1,339.5 L105.1,338.9 L105.1,338.3 L105.4,337.7 L105.4,337.4 L105.4,336.8 L105.4,336.2 L105.7,335.6 L105.7,335.3 L105.7,334.7 L106.0,334.1 L106.0,333.8 L106.0,333.2 L106.3,332.9 L106.3,332.3 L106.6,332.0 L106.9,331.4 L106.9,331.1 L107.2,330.8 L107.5,330.5 L107.8,329.9 L108.1,329.6 L108.4,329.3 L108.7,329.0 L109.0,328.7 L109.3,328.7 L109.6,328.4 L110.2,328.1 L110.5,327.8 L110.8,327.8 L111.1,327.5 L111.7,327.2 L112.0,326.9 L112.6,326.9 L112.9,326.6 L113.2,326.6 L113.8,326.3 L114.1,326.3 L114.7,326.0 L115.0,325.7 L115.6,325.7 L115.9,325.4 L116.2,325.4 L116.8,325.1 L117.1,325.1 L117.7,324.8 L118.0,324.5 L118.3,324.5 L118.9,324.2 L119.2,323.9 L119.5,323.9 L120.1,323.6 L120.4,323.3 L120.7,323.3 L121.0,323.0 L121.6,322.7 L121.9,322.4 L122.2,322.1 L122.5,321.8 L122.8,321.5 L123.1,321.2 L123.4,320.9 L123.7,320.6 L124.0,320.3 L124.3,320.0 L124.6,319.7 L124.6,319.4 L124.9,319.1 L125.2,318.8 L125.5,318.5 L125.8,317.9 L126.1,317.6 L126.4,317.3 L126.4,317.0 L126.7,316.7 L127.0,316.4 L127.3,315.8 L127.6,315.5 L127.6,315.2 L127.9,314.9 L128.2,314.6 L128.5,314.0 L128.8,313.7 L128.8,313.4 L129.1,313.1 L129.4,312.8 L129.7,312.2 L130.0,311.9 L130.3,311.6 L130.3,311.3 L130.6,311.0 L130.9,310.7 L131.2,310.4 L131.5,309.8 L131.8,309.5 L132.1,309.2 L132.1,308.9 L132.4,308.6 L132.7,308.3 L133.0,308.0 L133.3,307.4 L133.6,307.1 L133.9,306.8 L134.2,306.5 L134.5,306.2 L134.8,305.9 L135.1,305.6 L135.4,305.6 L135.7,305.3 L136.3,305.0 L136.6,304.7 L137.2,304.7 L137.8,304.7 L138.4,304.7 L138.7,305.0 L139.3,305.0 L139.6,305.3 L140.2,305.6 L140.5,305.6 L140.8,305.9 L141.4,306.2 L141.7,306.5 L142.0,306.5 L142.3,306.8 L142.9,307.1 L143.2,307.4 L143.5,307.4 L144.1,307.7 L144.4,308.0 L144.7,308.0 L145.0,308.3 L145.6,308.6 L145.9,308.6 L146.2,308.9 L146.5,309.2 L147.1,309.5 L147.4,309.5 L147.7,309.8 L148.3,309.8 L148.6,310.1 L149.2,310.1 L149.8,310.1 L150.4,310.1 L151.0,310.1 L151.3,310.1 L151.9,309.8 L152.2,309.8 L152.8,309.5 L153.1,309.2 L153.4,309.2 L154.0,308.9 L154.3,308.6 L154.6,308.6 L155.2,308.3 L155.5,308.0 L155.8,308.0 L156.4,307.7 L156.7,307.4 L157.0,307.4 L157.6,307.1 L157.9,306.8 L158.2,306.8 L158.8,306.5 L159.1,306.2 L159.4,306.2 L160.0,305.9 L160.3,305.6 L160.6,305.6 L161.2,305.3 L161.5,305.0 L161.8,305.0 L162.4,304.7 L162.7,304.4 L163.0,304.4 L163.6,304.1 L163.9,303.8 L164.2,303.8 L164.5,303.5 L165.1,303.2 L165.4,302.9 L165.7,302.9 L166.3,302.6 L166.6,302.3 L166.9,302.0 L167.2,302.0 L167.5,301.7 L168.1,301.4 L168.4,301.1 L168.7,301.1 L169.0,300.8 L169.6,300.5 L169.9,300.2 L170.2,299.9 L170.5,299.6 L170.8,299.6 L171.1,299.3 L171.7,299.0 L172.0,298.7 L172.3,298.4 L172.6,298.4 L172.9,298.1 L173.2,297.8 L173.8,297.5 L174.1,297.2 L174.4,296.9 L174.7,296.6 L175.0,296.6 L175.3,296.3 L175.6,296.0 L176.2,295.7 L176.5,295.4 L176.8,295.1 L177.1,294.8 L177.4,294.8 L177.7,294.5 L178.0,294.2 L178.6,293.9 L178.9,293.6 L179.2,293.3 L179.5,293.0 L179.8,292.7 L180.1,292.7 L180.4,292.4 L180.7,292.1 L181.0,291.8 L181.6,291.5 L181.9,291.2 L182.2,290.9 L182.5,290.6 L182.8,290.3 L183.1,290.0 L183.4,289.7 L183.7,289.7 L184.0,289.4 L184.3,289.1 L184.6,288.8 L184.9,288.5 L185.2,288.2 L185.5,287.9 L185.8,287.6 L186.1,287.3 L186.4,287.0 L186.7,286.7 L187.0,286.4 L187.3,286.1 L187.6,285.8 L187.9,285.5 L188.2,285.2 L188.5,284.9 L188.8,284.6 L189.4,284.3 L189.7,284.0 L190.0,283.7 L190.3,283.4 L190.6,283.4 L191.2,283.1 L191.5,282.8 L191.8,282.5 L192.1,282.5 L192.7,282.2 L193.0,281.9 L193.3,281.9 L193.9,281.6 L194.2,281.6 L194.8,281.3 L195.4,281.3 L196.0,281.3 L196.3,281.0 L196.9,281.3 L197.2,281.3 L197.8,281.3 L198.4,281.3 L198.7,281.6 L199.3,281.6 L199.6,281.9 L200.2,281.9 L200.5,282.2 L201.1,282.5 L201.4,282.5 L202.0,282.8 L202.3,282.8 L202.6,283.1 L203.2,283.1 L203.5,283.4 L204.1,283.4 L204.4,283.7 L205.0,284.0 L205.3,284.0 L205.6,284.3 L205.9,284.6 L206.5,284.9 L206.8,285.2 L207.1,285.5 L207.4,285.8 L207.7,285.8 L208.0,286.1 L208.3,286.7 L208.6,287.0 L208.9,287.3 L209.2,287.6 L209.5,287.9 L209.8,288.2 L210.1,288.5 L210.1,288.8 L210.4,289.1 L210.7,289.4 L211.0,289.7 L211.3,290.3 L211.6,290.6 L211.9,290.9 L211.9,291.2 L212.2,291.5 L212.5,292.1 L212.8,292.4 L213.0,292.7 L213.1,293.0 L213.4,293.6 L213.7,293.9 L213.9,294.2 L214.0,294.5 L214.3,295.1 L214.6,295.4 L214.6,295.7 L214.9,296.3 L215.2,296.6 L215.4,296.9 L215.5,297.2 L215.8,297.8 L216.1,298.1 L216.1,298.4 L216.4,299.0 L216.7,299.3 L216.7,299.6 L217.0,300.2 L217.3,300.5 L217.3,300.8 L217.6,301.4 L217.9,301.7 L217.9,302.0 L218.2,302.6 L218.2,302.9 L218.5,303.5 L218.5,303.8 L218.8,304.4 L218.8,305.0 L218.8,305.3 L219.1,305.9 L219.1,306.5 L219.1,307.1 L219.1,307.7 L219.1,308.3 L219.1,308.9 L218.8,309.5 L218.8,309.8 L218.8,310.4 L218.5,311.0 L218.5,311.3 L218.5,311.9 L218.2,312.2 L217.9,312.8 L217.9,313.1 L217.6,313.7 L217.6,314.0 L217.3,314.3 L217.0,314.9 L217.0,315.2 L216.7,315.8 L216.7,316.1 L216.4,316.4 L216.1,317.0 L216.1,317.3 L215.8,317.6 L215.8,318.2 L215.5,318.5 L215.2,319.1 L215.2,319.4 L214.9,320.0 L214.9,320.3 L214.6,320.6 L214.6,321.2 L214.3,321.5 L214.0,322.1 L214.0,322.4 L213.7,322.7 L213.4,323.3 L213.4,323.6 L213.1,324.2 L213.1,324.5 L212.8,324.8 L212.5,325.4 L212.2,325.7 L212.2,326.0 L211.9,326.3 L211.6,326.9 L211.3,327.2 L211.3,327.5 L211.0,327.8 L210.7,328.1 L210.4,328.7 L210.1,329.0 L209.8,329.3 L209.8,329.6 L209.5,329.9 L209.2,330.2 L208.9,330.5 L208.6,330.8 L208.3,331.4 L208.0,331.7 L207.7,332.0 L207.4,332.3 L207.4,332.6 L207.1,332.9 L206.8,333.2 L206.5,333.5 L206.2,333.8 L205.9,334.4 L205.6,334.7 L205.3,335.0 L205.0,335.3 L204.7,335.6 L204.4,335.9 L204.1,336.2 L204.1,336.5 L203.8,336.8 L203.5,337.1 L203.2,337.4 L202.9,337.7 L202.6,338.0 L202.3,338.3 L202.0,338.6 L201.7,338.9 L201.4,339.2 L201.1,339.5 L200.8,340.1 L200.5,340.4 L200.2,340.7 L199.9,341.0 L199.6,341.3 L199.6,341.6 L199.3,341.9 L199.0,342.2 L198.7,342.8 L198.4,343.1 L198.1,343.4 L198.1,343.7 L197.8,344.0 L197.5,344.3 L197.2,344.9 L196.9,345.2 L196.9,345.5 L196.6,345.8 L196.3,346.4 L196.3,346.7 L196.0,347.0 L195.7,347.6 L195.7,347.9 L195.4,348.5 L195.4,348.8 L195.4,349.4 L195.4,350.0 L195.4,350.6 L195.4,351.2 L195.4,351.8 L195.4,352.4 L195.4,353.0 L195.4,353.6 L195.4,354.2 L195.1,354.8 L195.1,355.1 L194.8,355.7 L194.8,356.0 L194.5,356.6 L194.5,356.9 L194.2,357.5 L194.2,357.8 L193.9,358.1 L193.6,358.7 L193.6,359.0 L193.3,359.3 L193.0,359.6 L192.7,359.9 L192.4,360.2 L192.1,360.5 L191.8,360.8 L191.2,361.1 L190.9,361.1 L190.3,361.4 L190.0,361.4 L189.4,361.7 L188.8,361.7 L188.2,361.7 L187.9,362.0 L187.3,362.0 L186.7,362.0 L186.1,362.0 L185.8,362.3 L185.2,362.3 L184.6,362.3 L184.0,362.3 L183.4,362.3 L183.1,362.3 L182.5,362.6 L182.2,362.6 L181.6,362.9 L181.3,363.2 L181.0,363.2 L180.4,363.5 L180.1,363.8 L179.8,363.8 L179.2,364.1 L178.9,364.4 L178.6,364.7 L178.3,364.7 L178.0,365.0 L177.4,365.3 L177.1,365.6 L176.8,365.9 L176.5,365.9 L176.2,366.2 L175.6,366.5 L175.3,366.8 L175.0,367.1 L174.7,367.1 L174.4,367.4 L173.8,367.7 L173.5,368.0 L173.2,368.3 L172.9,368.3 L172.3,368.6 L172.0,368.9 L171.7,369.2 L171.4,369.2 L170.8,369.5 L170.5,369.8 L170.2,369.8 L169.9,370.1 L169.3,370.4 L169.0,370.7 L168.7,370.7 L168.1,371.0 L167.8,371.3 L167.5,371.6 L167.2,371.6 L166.6,371.9 L166.3,372.2 L166.0,372.2 L165.7,372.5 L165.1,372.8 L164.8,373.1 L164.5,373.1 L163.9,373.4 L163.6,373.7 L163.3,373.7 L163.0,374.0 L162.4,374.3 L162.1,374.6 L161.8,374.6 L161.2,374.9 L160.9,375.2 L160.6,375.2 L160.0,375.5 L159.7,375.8 L159.4,375.8 L158.8,376.1 L158.5,376.4 L158.2,376.4 L157.6,376.7 L157.3,377.0 L157.0,377.0 L156.4,377.3 L156.1,377.6 L155.5,377.6 L155.2,377.9 L154.9,377.9 L154.3,378.2 L154.0,378.5 L153.4,378.5 L153.1,378.8 L152.8,378.8 L152.2,379.1 L151.9,379.1 L151.3,379.4 L151.0,379.7 L150.4,379.7 L150.1,380.0 L149.5,380.0 L149.2,380.3 L148.6,380.3 L148.3,380.6 L147.7,380.6 L147.4,380.9 L146.8,380.9 L146.5,381.2 L145.9,381.2 L145.6,381.5 L145.0,381.5 L144.7,381.8 L144.1,381.8 L143.8,382.1 L143.2,382.1 L142.9,382.4 L142.3,382.4 L142.0,382.7 L141.4,382.7 L141.1,383.0 L140.5,383.0 L140.2,383.0 L139.6,383.3 L139.3,383.3 L138.7,383.6 L138.4,383.6 L137.8,383.9 L137.5,383.9 L136.9,384.2 L136.3,384.2 L136.0,384.5 L135.4,384.5 L135.1,384.8 L134.5,384.8 L134.2,384.8 L133.6,385.1 L133.0,385.1 L132.7,385.4 L132.1,385.4 L131.8,385.7 L131.2,385.7 L130.9,386.0 L130.3,386.0 L130.0,386.0 L129.4,386.3 L129.1,386.6 L128.5,386.6 L128.2,386.9 L127.6,386.9 L127.3,387.2 L127.0,387.2 L126.4,387.5 L126.1,387.5 L125.5,387.8 L125.2,388.1 L124.6,388.1 L124.3,388.4 L124.0,388.4 L123.4,388.7 L123.1,388.7 L122.5,389.0 L122.2,389.3 L121.6,389.3 L121.3,389.6 L120.7,389.6 L120.4,389.9 L120.1,389.9 L119.5,390.2 L119.2,390.2 L118.6,390.5 L118.0,390.5 L117.7,390.8 L117.1,390.8 L116.8,391.1 L116.2,391.1 L115.9,391.4 L115.3,391.4 L115.0,391.6 L114.4,391.7 L114.1,391.7 L113.5,392.0 L113.2,392.0 L112.6,392.3 L112.0,392.3 L111.7,392.5 L111.1,392.6 L110.8,392.6 L110.2,392.9 L109.9,392.9 L109.3,393.2 L108.7,393.2 L108.4,393.2 L107.8,393.5 L107.2,393.5 L106.9,393.7 L106.3,393.8 L105.7,393.8 L105.4,394.0 L104.8,394.1 L104.2,394.1 L103.6,394.1 L103.0,394.1 L102.7,394.3 L102.7,394.3"/>
<path d="M103.9,392.3 L103.3,392.4 L102.7,392.4 L102.1,392.5 L101.5,392.5 L100.9,392.5 L100.3,392.5 L99.7,392.4 L99.1,392.4 L98.6,392.3 L98.2,392.2 L97.6,392.1 L97.2,392.0 L96.7,391.9 L96.3,391.7 L95.8,391.5 L95.5,391.4 L94.9,391.1 L94.6,390.9 L94.3,390.7 L94.0,390.5 L93.6,390.2 L93.3,389.9 L93.0,389.6 L92.7,389.3 L92.5,389.0 L92.2,388.6 L91.9,388.1 L91.7,387.8 L91.6,387.5 L91.4,386.9 L91.3,386.6 L91.2,386.0 L91.1,385.4 L91.0,384.8 L91.0,384.2 L91.0,383.6 L91.0,383.0 L91.0,382.4 L91.1,381.8 L91.1,381.2 L91.1,380.6 L91.2,380.0 L91.2,379.4 L91.3,378.8 L91.3,378.5 L91.4,377.9 L91.4,377.3 L91.5,376.7 L91.6,376.3 L91.7,375.8 L91.8,375.2 L91.9,374.6 L91.9,374.3 L92.0,373.7 L92.1,373.1 L92.2,372.8 L92.3,372.2 L92.4,371.6 L92.5,371.1 L92.6,370.7 L92.7,370.1 L92.8,369.5 L92.9,369.2 L93.1,368.8 L93.4,368.4 L93.7,368.0 L93.9,367.7 L94.1,367.4 L94.4,367.1 L94.6,366.8 L94.9,366.4 L95.2,366.0 L95.5,365.6 L95.8,365.3 L96.0,365.0 L96.3,364.7 L96.5,364.4 L96.8,364.1 L97.0,363.8 L97.3,363.5 L97.6,363.2 L97.9,362.9 L98.2,362.5 L98.5,362.2 L98.8,361.9 L99.1,361.6 L99.4,361.3 L99.7,361.0 L100.0,360.7 L100.3,360.4 L100.6,360.1 L100.9,359.8 L101.2,359.5 L101.5,359.2 L101.8,358.9 L102.1,358.7 L102.4,358.4 L102.7,358.1 L103.1,357.8 L103.4,357.5 L103.7,357.2 L104.1,356.9 L104.4,356.6 L104.8,356.3 L105.1,356.1 L105.4,355.8 L105.7,355.6 L106.0,355.3 L106.3,355.1 L106.7,354.8 L107.0,354.5 L107.4,354.2 L107.8,353.9 L108.1,353.7 L108.4,353.5 L108.7,353.2 L109.0,353.0 L109.4,352.7 L109.8,352.4 L110.2,352.1 L110.5,351.9 L110.8,351.7 L111.1,351.5 L111.6,351.2 L112.0,350.9 L112.3,350.7 L112.6,350.4 L112.9,350.2 L113.2,349.9 L113.5,349.7 L113.9,349.4 L114.3,349.1 L114.7,348.8 L115.0,348.6 L115.3,348.3 L115.6,348.1 L115.9,347.9 L116.3,347.6 L116.8,347.3 L117.1,347.0 L117.4,346.8 L117.7,346.6 L118.0,346.4 L118.4,346.1 L118.8,345.8 L119.2,345.5 L119.5,345.3 L119.8,345.1 L120.1,344.9 L120.5,344.6 L120.9,344.3 L121.3,344.0 L121.6,343.8 L121.9,343.6 L122.2,343.4 L122.6,343.1 L123.0,342.8 L123.4,342.5 L123.7,342.3 L124.0,342.1 L124.3,341.9 L124.6,341.6 L125.0,341.3 L125.3,341.0 L125.6,340.7 L126.0,340.4 L126.3,340.1 L126.7,339.8 L127.0,339.5 L127.3,339.3 L127.6,339.0 L127.9,338.7 L128.2,338.5 L128.5,338.2 L128.8,338.0 L129.1,337.7 L129.5,337.4 L129.8,337.1 L130.2,336.8 L130.5,336.5 L130.9,336.2 L131.2,335.9 L131.5,335.7 L131.8,335.4 L132.1,335.1 L132.4,334.9 L132.7,334.6 L133.0,334.4 L133.3,334.1 L133.7,333.8 L134.0,333.5 L134.4,333.2 L134.7,332.9 L135.1,332.6 L135.4,332.3 L135.7,332.1 L136.0,331.8 L136.3,331.5 L136.6,331.3 L136.9,331.0 L137.2,330.8 L137.5,330.5 L137.9,330.2 L138.2,329.9 L138.5,329.6 L138.9,329.3 L139.2,329.0 L139.6,328.7 L139.9,328.4 L140.2,328.1 L140.5,327.9 L140.8,327.6 L141.1,327.3 L141.4,327.0 L141.7,326.8 L142.0,326.5 L142.3,326.3 L142.6,326.0 L142.9,325.7 L143.2,325.4 L143.6,325.1 L143.9,324.8 L144.2,324.5 L144.5,324.2 L144.9,323.9 L145.2,323.6 L145.6,323.3 L145.9,323.0 L146.2,322.7 L146.5,322.4 L146.8,322.2 L147.1,321.9 L147.4,321.6 L147.7,321.3 L148.0,321.1 L148.3,320.8 L148.6,320.5 L148.9,320.3 L149.2,320.0 L149.5,319.7 L149.8,319.4 L150.1,319.1 L150.4,318.8 L150.8,318.5 L151.1,318.2 L151.4,317.9 L151.7,317.6 L152.0,317.3 L152.3,317.0 L152.6,316.7 L152.9,316.4 L153.3,316.1 L153.6,315.8 L153.9,315.5 L154.2,315.2 L154.6,314.9 L154.9,314.6 L155.2,314.3 L155.5,314.0 L155.8,313.8 L156.1,313.5 L156.4,313.2 L156.7,312.9 L157.0,312.6 L157.3,312.4 L157.6,312.1 L157.9,311.9 L158.2,311.6 L158.5,311.3 L158.8,311.0 L159.2,310.7 L159.5,310.4 L159.8,310.1 L160.2,309.8 L160.5,309.5 L160.9,309.2 L161.2,308.9 L161.5,308.6 L161.8,308.4 L162.1,308.1 L162.4,307.8 L162.7,307.5 L163.0,307.3 L163.3,307.0 L163.6,306.8 L163.9,306.5 L164.2,306.2 L164.6,305.9 L164.9,305.6 L165.2,305.3 L165.6,305.0 L165.9,304.7 L166.3,304.4 L166.4,304.1 L166.6,303.8 L166.9,303.3 L167.1,302.9 L167.2,302.6 L167.5,302.3 L168.0,302.0 L168.4,301.7 L168.7,301.5 L169.0,301.3 L169.3,301.1 L169.8,300.8 L170.2,300.5 L170.5,300.3 L170.8,300.1 L171.1,299.9 L171.5,299.6 L171.9,299.3 L172.3,299.0 L172.6,298.8 L172.9,298.6 L173.2,298.4 L173.6,298.1 L174.0,297.8 L174.4,297.5 L174.7,297.3 L175.0,297.1 L175.3,296.8 L175.6,296.6 L176.0,296.3 L176.4,296.0 L176.8,295.7 L177.1,295.5 L177.4,295.3 L177.7,295.0 L178.0,294.8 L178.4,294.5 L178.8,294.2 L179.2,293.9 L179.5,293.6 L179.8,293.4 L180.1,293.2 L180.4,292.9 L180.7,292.7 L181.1,292.4 L181.5,292.1 L181.8,291.8 L182.2,291.5 L182.5,291.2 L182.8,291.0 L183.1,290.7 L183.4,290.4 L183.7,290.2 L184.0,289.9 L184.3,289.6 L184.6,289.3 L184.9,289.0 L185.2,288.7 L185.5,288.4 L185.8,288.2 L186.1,287.9 L186.4,287.6 L186.7,287.3 L187.0,287.0 L187.3,286.7 L187.9,286.5 L188.5,286.6 L189.0,286.7 L189.4,286.8 L190.0,286.8 L190.6,286.9 L191.2,287.0 L191.5,287.1 L192.1,287.2 L192.7,287.2 L193.0,287.3 L193.6,287.5 L194.2,287.4 L194.6,287.3 L195.1,287.2 L195.7,287.2 L196.3,287.1 L196.9,287.1 L197.5,287.1 L198.1,287.1 L198.7,287.1 L199.3,287.2 L199.9,287.2 L200.5,287.2 L201.1,287.2 L201.7,287.3 L202.3,287.3 L202.6,287.3 L203.2,287.4 L203.8,287.5 L204.3,287.6 L204.7,287.7 L205.3,287.9 L205.6,288.1 L205.9,288.3 L206.2,288.6 L206.5,288.8 L206.9,289.1 L207.3,289.4 L207.7,289.7 L208.0,289.9 L208.3,290.1 L208.6,290.4 L208.9,290.8 L209.1,291.2 L209.3,291.5 L209.5,291.9 L209.8,292.4 L209.9,292.7 L210.1,293.0 L210.4,293.5 L210.6,293.9 L210.8,294.2 L211.0,294.6 L211.3,295.1 L211.3,295.4 L211.4,296.0 L211.5,296.6 L211.5,297.2 L211.6,297.8 L211.6,298.1 L211.6,298.7 L211.6,299.3 L211.6,299.9 L211.6,300.5 L211.6,301.1 L211.6,301.7 L211.7,302.3 L211.7,302.9 L211.7,303.5 L211.7,304.1 L211.7,304.7 L211.6,305.3 L211.6,305.6 L211.5,306.2 L211.4,306.8 L211.4,307.4 L211.4,308.0 L211.5,308.6 L211.6,308.9 L211.9,309.5 L211.9,309.8 L212.0,310.4 L212.1,311.0 L212.2,311.3 L212.4,311.9 L212.5,312.4 L212.6,312.8 L212.7,313.4 L212.8,314.0 L212.9,314.3 L213.0,314.9 L213.1,315.5 L213.1,315.8 L213.2,316.4 L213.3,317.0 L213.3,317.6 L213.4,318.2 L213.3,318.8 L213.3,319.4 L213.2,320.0 L213.1,320.6 L213.1,320.9 L213.0,321.5 L212.8,321.9 L212.6,322.4 L212.5,322.9 L212.3,323.3 L212.1,323.6 L211.9,324.1 L211.7,324.5 L211.5,324.8 L211.3,325.1 L211.0,325.5 L210.7,325.9 L210.4,326.3 L210.1,326.6 L209.8,326.9 L209.5,327.1 L209.2,327.4 L208.9,327.6 L208.6,327.8 L208.2,328.1 L207.7,328.4 L207.4,328.6 L207.1,328.7 L206.6,329.0 L206.2,329.3 L205.9,329.5 L205.6,329.6 L205.1,329.9 L204.7,330.1 L204.4,330.3 L204.0,330.5 L203.5,330.8 L203.2,330.8 L202.6,331.0 L202.0,331.1 L201.7,331.2 L201.1,331.3 L200.7,331.4 L200.2,331.6 L199.6,331.7 L199.3,331.7 L198.7,331.9 L198.1,332.0 L197.8,332.1 L197.2,332.2 L196.7,332.3 L196.3,332.4 L195.7,332.5 L195.3,332.6 L194.8,332.8 L194.2,332.9 L193.9,332.9 L193.3,333.1 L192.8,333.2 L192.4,333.3 L191.8,333.5 L191.5,333.5 L190.9,333.7 L190.5,333.8 L190.0,334.1 L189.7,334.4 L189.4,334.6 L189.1,334.8 L188.8,335.0 L188.4,335.3 L188.1,335.6 L187.6,335.9 L187.3,336.2 L187.0,336.4 L186.7,336.6 L186.4,336.8 L186.0,337.1 L185.7,337.4 L185.2,337.7 L184.9,338.0 L184.6,338.2 L184.3,338.4 L184.0,338.6 L183.6,338.9 L183.3,339.2 L182.8,339.5 L182.5,339.8 L182.2,340.0 L181.9,340.2 L181.6,340.4 L181.3,340.7 L180.9,341.0 L180.5,341.3 L180.1,341.6 L179.8,341.8 L179.5,342.1 L179.2,342.3 L178.9,342.5 L178.6,342.8 L178.2,343.1 L177.8,343.4 L177.4,343.7 L177.1,344.0 L176.8,344.2 L176.5,344.4 L176.2,344.7 L175.9,344.9 L175.5,345.2 L175.2,345.5 L174.8,345.8 L174.4,346.1 L174.1,346.4 L173.8,346.6 L173.5,346.9 L173.2,347.2 L172.9,347.5 L172.6,347.7 L172.3,348.0 L172.0,348.3 L171.7,348.5 L171.4,348.8 L171.1,349.1 L170.8,349.4 L170.4,349.7 L170.1,350.0 L169.8,350.3 L169.4,350.6 L169.1,350.9 L168.8,351.2 L168.4,351.5 L168.1,351.8 L167.8,352.1 L167.5,352.4 L167.2,352.6 L166.9,352.9 L166.6,353.2 L166.3,353.5 L166.0,353.7 L165.7,354.0 L165.4,354.3 L165.1,354.5 L164.8,354.8 L164.5,355.1 L164.1,355.4 L163.8,355.7 L163.5,356.0 L163.1,356.3 L162.8,356.6 L162.4,356.9 L162.1,357.2 L161.8,357.5 L161.5,357.7 L161.2,358.0 L160.9,358.3 L160.6,358.5 L160.3,358.8 L160.0,359.0 L159.7,359.3 L159.4,359.6 L159.0,359.9 L158.7,360.2 L158.3,360.5 L158.0,360.8 L157.6,361.1 L157.3,361.4 L157.0,361.7 L156.7,361.9 L156.4,362.2 L156.1,362.4 L155.8,362.7 L155.5,362.9 L155.2,363.2 L154.9,363.5 L154.5,363.8 L154.2,364.1 L153.8,364.4 L153.5,364.7 L153.1,365.0 L152.8,365.3 L152.5,365.6 L152.2,365.8 L151.9,366.1 L151.6,366.3 L151.3,366.6 L151.0,366.8 L150.7,367.1 L150.4,367.4 L150.0,367.7 L149.7,368.0 L149.3,368.3 L149.0,368.6 L148.6,368.9 L148.3,369.2 L148.1,369.5 L147.8,369.8 L147.5,370.1 L147.3,370.4 L147.0,370.7 L146.8,371.0 L146.5,371.3 L146.2,371.6 L145.9,372.0 L145.6,372.3 L145.3,372.7 L145.0,373.0 L144.7,373.4 L144.4,373.7 L144.1,374.0 L143.9,374.3 L143.6,374.6 L143.4,374.9 L143.1,375.2 L142.9,375.5 L142.6,375.8 L142.3,376.1 L142.0,376.5 L141.7,376.8 L141.4,377.2 L141.1,377.5 L140.8,377.8 L140.5,378.2 L140.2,378.5 L139.9,378.8 L139.6,379.1 L139.4,379.4 L139.1,379.7 L138.8,380.0 L138.5,380.3 L138.2,380.6 L138.0,380.9 L137.7,381.2 L137.5,381.5 L137.2,381.8 L136.9,382.2 L136.6,382.5 L136.3,382.9 L136.0,383.2 L135.7,383.6 L135.4,383.7 L134.9,383.9 L134.5,384.0 L133.9,384.1 L133.6,384.2 L133.0,384.3 L132.4,384.5 L132.1,384.5 L131.5,384.7 L131.1,384.8 L130.6,384.9 L130.0,385.1 L129.7,385.2 L129.1,385.3 L128.8,385.4 L128.2,385.6 L127.7,385.7 L127.3,385.8 L126.7,386.0 L126.4,386.0 L125.8,386.2 L125.3,386.3 L124.9,386.4 L124.3,386.5 L123.8,386.6 L123.4,386.8 L123.0,386.9 L122.5,387.1 L122.2,387.2 L121.6,387.5 L121.3,387.6 L120.7,387.8 L120.4,387.9 L119.9,388.1 L119.5,388.2 L119.1,388.4 L118.6,388.6 L118.2,388.7 L117.7,388.8 L117.2,389.0 L116.8,389.1 L116.2,389.3 L115.9,389.4 L115.3,389.6 L115.0,389.7 L114.4,389.8 L114.1,389.9 L113.5,390.1 L113.2,390.2 L112.6,390.4 L112.1,390.5 L111.7,390.6 L111.1,390.8 L110.8,390.9 L110.2,391.0 L109.9,391.1 L109.3,391.3 L108.7,391.4 L108.4,391.5 L107.8,391.6 L107.5,391.7 L106.9,391.8 L106.3,391.9 L106.0,392.0 L105.4,392.1 L104.8,392.2 L104.2,392.3 L103.9,392.3 L103.9,392.3"/>
<path d="M102.1,390.8 L101.5,390.8 L100.9,390.8 L100.3,390.8 L100.0,390.8 L99.4,390.7 L98.8,390.6 L98.2,390.5 L97.9,390.5 L97.3,390.3 L97.0,390.2 L96.4,390.0 L96.1,389.8 L95.7,389.6 L95.2,389.3 L94.9,389.1 L94.6,388.8 L94.3,388.5 L94.0,388.2 L93.7,387.8 L93.5,387.5 L93.3,387.2 L93.1,386.7 L92.9,386.3 L92.8,385.7 L92.8,385.4 L92.7,384.8 L92.7,384.2 L92.7,383.6 L92.7,383.0 L92.7,382.4 L92.7,381.8 L92.8,381.2 L92.8,380.7 L92.8,380.3 L92.9,379.7 L92.9,379.1 L93.0,378.5 L93.1,377.9 L93.1,377.5 L93.2,377.0 L93.3,376.4 L93.4,375.8 L93.4,375.5 L93.6,374.9 L93.7,374.5 L94.0,374.0 L94.2,373.7 L94.4,373.4 L94.6,373.1 L94.9,372.7 L95.2,372.2 L95.4,371.9 L95.6,371.6 L95.9,371.3 L96.1,371.0 L96.4,370.6 L96.7,370.1 L97.0,369.8 L97.2,369.5 L97.4,369.2 L97.6,368.9 L97.9,368.6 L98.2,368.2 L98.5,367.8 L98.8,367.5 L99.1,367.1 L99.3,366.8 L99.6,366.5 L99.8,366.2 L100.1,365.9 L100.3,365.6 L100.6,365.3 L100.9,364.9 L101.2,364.6 L101.5,364.3 L101.8,363.9 L102.1,363.6 L102.4,363.3 L102.7,363.0 L103.0,362.6 L103.3,362.3 L103.6,362.0 L103.9,361.7 L104.2,361.4 L104.5,361.1 L104.8,360.8 L105.1,360.5 L105.4,360.2 L105.7,359.9 L106.0,359.7 L106.3,359.4 L106.6,359.1 L106.9,358.8 L107.2,358.6 L107.5,358.3 L107.8,358.0 L108.1,357.8 L108.4,357.5 L108.8,357.2 L109.1,356.9 L109.5,356.6 L109.8,356.3 L110.2,356.0 L110.5,355.8 L110.8,355.5 L111.1,355.3 L111.4,355.0 L111.7,354.8 L112.1,354.5 L112.5,354.2 L112.9,353.9 L113.2,353.7 L113.5,353.4 L113.8,353.2 L114.1,353.0 L114.4,352.7 L114.8,352.4 L115.2,352.1 L115.5,351.8 L115.9,351.5 L116.2,351.3 L116.5,351.0 L116.8,350.8 L117.1,350.6 L117.4,350.3 L117.8,350.0 L118.2,349.7 L118.6,349.4 L118.9,349.2 L119.2,349.0 L119.5,348.7 L119.8,348.5 L120.2,348.2 L120.6,347.9 L121.0,347.6 L121.3,347.4 L121.6,347.2 L121.9,346.9 L122.2,346.7 L122.6,346.4 L123.0,346.1 L123.4,345.8 L123.7,345.6 L124.0,345.3 L124.3,345.1 L124.6,344.9 L125.0,344.6 L125.4,344.3 L125.8,344.0 L126.1,343.8 L126.4,343.5 L126.7,343.2 L127.0,343.0 L127.3,342.7 L127.6,342.5 L127.9,342.2 L128.2,341.9 L128.6,341.6 L128.9,341.3 L129.3,341.0 L129.6,340.7 L130.0,340.4 L130.3,340.1 L130.6,339.9 L130.9,339.6 L131.2,339.4 L131.5,339.1 L131.8,338.9 L132.1,338.6 L132.5,338.3 L132.8,338.0 L133.2,337.7 L133.5,337.4 L133.9,337.1 L134.2,336.8 L134.5,336.6 L134.8,336.3 L135.1,336.1 L135.4,335.8 L135.7,335.6 L136.0,335.3 L136.4,335.0 L136.7,334.7 L137.1,334.4 L137.4,334.1 L137.8,333.8 L138.1,333.5 L138.4,333.3 L138.7,333.0 L139.0,332.8 L139.3,332.5 L139.6,332.2 L139.9,332.0 L140.2,331.7 L140.6,331.4 L140.9,331.1 L141.3,330.8 L141.6,330.5 L141.9,330.2 L142.3,329.9 L142.6,329.6 L142.9,329.4 L143.2,329.1 L143.5,328.8 L143.8,328.5 L144.1,328.3 L144.4,328.0 L144.7,327.7 L145.0,327.5 L145.3,327.2 L145.6,326.9 L146.0,326.6 L146.3,326.3 L146.6,326.0 L146.9,325.7 L147.3,325.4 L147.6,325.1 L147.9,324.8 L148.3,324.5 L148.6,324.2 L148.9,323.9 L149.2,323.7 L149.5,323.4 L149.8,323.1 L150.1,322.8 L150.4,322.6 L150.7,322.3 L151.0,322.0 L151.3,321.7 L151.6,321.5 L151.9,321.2 L152.2,320.9 L152.5,320.6 L152.8,320.3 L153.1,320.0 L153.5,319.7 L153.8,319.4 L154.1,319.1 L154.4,318.8 L154.7,318.5 L155.1,318.2 L155.4,317.9 L155.7,317.6 L156.0,317.3 L156.4,317.0 L156.7,316.7 L157.0,316.4 L157.3,316.1 L157.6,315.9 L157.9,315.6 L158.2,315.3 L158.5,315.1 L158.8,314.8 L159.1,314.5 L159.4,314.2 L159.7,314.0 L160.0,313.7 L160.3,313.4 L160.7,313.1 L161.0,312.8 L161.4,312.5 L161.7,312.2 L162.0,311.9 L162.4,311.6 L162.7,311.3 L163.0,311.1 L163.3,310.8 L163.6,310.5 L163.9,310.3 L164.2,310.0 L164.5,309.7 L164.8,309.5 L165.1,309.2 L165.5,308.9 L165.8,308.6 L166.1,308.3 L166.5,308.0 L166.8,307.7 L167.2,307.4 L167.5,307.1 L167.8,306.8 L168.1,306.6 L168.3,306.2 L168.5,305.9 L168.7,305.6 L169.0,305.1 L169.3,304.7 L169.4,304.4 L169.6,304.1 L169.9,303.7 L170.2,303.2 L170.4,302.9 L170.6,302.6 L170.8,302.2 L171.1,301.7 L171.3,301.4 L171.5,301.1 L171.7,300.8 L172.0,300.3 L172.3,299.9 L172.4,299.6 L172.6,299.3 L173.0,299.0 L173.4,298.7 L173.8,298.4 L174.1,298.2 L174.4,298.0 L174.7,297.7 L175.0,297.5 L175.4,297.2 L175.8,296.9 L176.2,296.6 L176.5,296.4 L176.8,296.1 L177.1,295.9 L177.4,295.7 L177.8,295.4 L178.2,295.1 L178.6,294.8 L178.9,294.5 L179.2,294.3 L179.5,294.1 L179.8,293.8 L180.1,293.6 L180.5,293.3 L180.9,293.0 L181.2,292.7 L181.6,292.4 L181.9,292.2 L182.2,291.9 L182.5,291.7 L182.8,291.4 L183.1,291.2 L183.4,290.9 L183.7,290.6 L184.1,290.3 L184.4,290.0 L184.8,289.7 L185.2,289.4 L185.5,289.4 L186.1,289.3 L186.7,289.3 L187.3,289.3 L187.9,289.3 L188.5,289.3 L189.1,289.3 L189.7,289.4 L190.3,289.4 L190.6,289.4 L191.2,289.5 L191.8,289.4 L192.1,289.3 L192.7,289.2 L193.0,289.1 L193.6,289.0 L194.2,288.8 L194.5,288.8 L195.1,288.7 L195.7,288.7 L196.3,288.6 L196.9,288.6 L197.5,288.6 L198.1,288.6 L198.7,288.6 L199.3,288.6 L199.9,288.6 L200.5,288.6 L201.1,288.6 L201.7,288.7 L202.3,288.7 L202.9,288.8 L203.2,288.8 L203.8,289.0 L204.1,289.2 L204.4,289.4 L204.8,289.7 L205.3,290.0 L205.6,290.2 L205.9,290.5 L206.2,290.7 L206.5,290.9 L206.9,291.2 L207.3,291.5 L207.5,291.8 L207.7,292.2 L208.0,292.7 L208.2,293.0 L208.3,293.3 L208.6,293.8 L208.8,294.2 L209.0,294.5 L209.2,294.9 L209.5,295.4 L209.6,295.7 L209.8,296.0 L210.0,296.6 L210.0,297.2 L210.1,297.8 L210.1,298.3 L210.1,298.7 L210.2,299.3 L210.1,299.9 L210.1,300.5 L210.1,301.1 L210.1,301.4 L210.0,302.0 L210.0,302.6 L210.0,303.2 L210.0,303.8 L210.0,304.4 L210.0,305.0 L210.0,305.6 L209.9,306.2 L209.8,306.8 L209.8,307.2 L209.7,307.7 L209.6,308.3 L209.5,308.6 L209.4,309.2 L209.4,309.8 L209.5,310.4 L209.6,310.7 L209.7,311.3 L209.7,311.9 L209.8,312.5 L209.9,312.8 L209.9,313.4 L209.9,314.0 L209.9,314.6 L209.9,315.2 L209.8,315.8 L209.8,316.2 L209.7,316.7 L209.6,317.3 L209.5,317.9 L209.4,318.2 L209.3,318.8 L209.2,319.1 L209.0,319.7 L208.8,320.0 L208.6,320.6 L208.4,320.9 L208.3,321.2 L208.0,321.6 L207.7,322.1 L207.5,322.4 L207.2,322.7 L206.9,323.0 L206.6,323.3 L206.3,323.6 L206.0,323.9 L205.6,324.2 L205.3,324.4 L205.0,324.6 L204.7,324.8 L204.2,325.1 L203.8,325.3 L203.5,325.5 L203.2,325.7 L202.7,326.0 L202.3,326.2 L202.0,326.4 L201.7,326.6 L201.2,326.9 L200.8,327.2 L200.5,327.3 L199.9,327.5 L199.6,327.6 L199.0,327.7 L198.7,327.8 L198.1,328.0 L197.8,328.1 L197.2,328.3 L196.8,328.4 L196.3,328.6 L195.8,328.7 L195.4,328.8 L194.8,329.0 L194.5,329.1 L193.9,329.3 L193.6,329.4 L193.0,329.5 L192.7,329.6 L192.1,329.8 L191.8,329.9 L191.2,330.1 L190.8,330.2 L190.3,330.4 L189.9,330.5 L189.4,330.7 L188.9,330.8 L188.5,330.9 L188.1,331.1 L187.7,331.4 L187.3,331.7 L187.0,332.0 L186.7,332.2 L186.4,332.4 L186.1,332.6 L185.8,332.9 L185.4,333.2 L185.0,333.5 L184.6,333.8 L184.3,334.0 L184.0,334.2 L183.7,334.5 L183.4,334.7 L183.0,335.0 L182.6,335.3 L182.2,335.6 L181.9,335.8 L181.6,336.1 L181.3,336.3 L181.0,336.5 L180.6,336.8 L180.3,337.1 L179.9,337.4 L179.5,337.7 L179.2,337.9 L178.9,338.1 L178.6,338.4 L178.3,338.6 L177.9,338.9 L177.6,339.2 L177.2,339.5 L176.8,339.8 L176.5,340.0 L176.2,340.3 L175.9,340.5 L175.6,340.8 L175.3,341.0 L174.9,341.3 L174.6,341.6 L174.2,341.9 L173.8,342.2 L173.5,342.5 L173.2,342.7 L172.9,343.0 L172.6,343.2 L172.3,343.5 L172.0,343.7 L171.6,344.0 L171.3,344.3 L171.0,344.6 L170.6,344.9 L170.3,345.2 L170.0,345.5 L169.7,345.8 L169.3,346.1 L169.0,346.4 L168.7,346.7 L168.4,347.0 L168.1,347.2 L167.8,347.5 L167.5,347.8 L167.2,348.1 L166.9,348.3 L166.6,348.6 L166.3,348.9 L166.0,349.2 L165.7,349.4 L165.4,349.7 L165.1,350.0 L164.7,350.3 L164.4,350.6 L164.1,350.9 L163.8,351.2 L163.4,351.5 L163.1,351.8 L162.8,352.1 L162.4,352.4 L162.1,352.7 L161.8,353.0 L161.5,353.2 L161.2,353.5 L160.9,353.8 L160.6,354.0 L160.3,354.3 L160.0,354.6 L159.7,354.8 L159.4,355.1 L159.1,355.4 L158.7,355.7 L158.4,356.0 L158.1,356.3 L157.7,356.6 L157.4,356.9 L157.0,357.2 L156.7,357.5 L156.4,357.8 L156.1,358.0 L155.8,358.3 L155.5,358.6 L155.2,358.8 L154.9,359.1 L154.6,359.4 L154.3,359.6 L154.0,359.9 L153.6,360.2 L153.3,360.5 L153.0,360.8 L152.6,361.1 L152.3,361.4 L151.9,361.7 L151.6,362.0 L151.3,362.3 L151.0,362.5 L150.7,362.8 L150.4,363.0 L150.1,363.3 L149.8,363.6 L149.5,363.8 L149.2,364.1 L148.9,364.4 L148.5,364.7 L148.2,365.0 L147.8,365.3 L147.5,365.6 L147.1,365.9 L146.8,366.2 L146.5,366.5 L146.2,366.7 L145.9,367.1 L145.6,367.4 L145.3,367.7 L145.0,368.0 L144.7,368.3 L144.5,368.6 L144.2,368.9 L143.9,369.2 L143.6,369.5 L143.4,369.8 L143.1,370.1 L142.8,370.4 L142.5,370.7 L142.3,371.0 L142.0,371.3 L141.7,371.6 L141.4,371.9 L141.1,372.3 L140.8,372.6 L140.5,372.9 L140.2,373.2 L139.9,373.6 L139.6,373.9 L139.3,374.2 L139.0,374.5 L138.7,374.9 L138.4,375.2 L138.1,375.5 L137.8,375.8 L137.5,376.1 L137.2,376.4 L136.9,376.7 L136.6,377.0 L136.3,377.3 L136.0,377.6 L135.7,377.9 L135.4,378.2 L135.2,378.5 L134.9,378.8 L134.6,379.1 L134.3,379.4 L134.1,379.7 L133.8,380.0 L133.5,380.3 L133.2,380.6 L132.9,380.9 L132.6,381.2 L132.3,381.5 L132.0,381.8 L131.7,382.1 L131.3,382.4 L131.0,382.7 L130.7,383.0 L130.4,383.3 L130.0,383.6 L129.7,383.9 L129.4,384.2 L129.1,384.3 L128.7,384.5 L128.2,384.6 L127.6,384.7 L127.2,384.8 L126.7,384.9 L126.1,385.0 L125.5,385.1 L125.2,385.1 L124.6,385.2 L124.0,385.2 L123.4,385.3 L122.8,385.3 L122.3,385.4 L121.9,385.6 L121.5,385.7 L121.0,385.9 L120.7,386.0 L120.1,386.3 L119.8,386.4 L119.2,386.6 L118.9,386.7 L118.3,386.9 L118.0,387.0 L117.4,387.2 L117.1,387.3 L116.5,387.5 L116.2,387.6 L115.6,387.7 L115.3,387.8 L114.7,388.0 L114.4,388.1 L113.8,388.3 L113.4,388.4 L112.9,388.6 L112.4,388.7 L112.0,388.8 L111.4,389.0 L111.1,389.1 L110.5,389.2 L110.2,389.3 L109.6,389.5 L109.1,389.6 L108.7,389.7 L108.1,389.8 L107.8,389.9 L107.2,390.1 L106.6,390.2 L106.3,390.2 L105.7,390.4 L105.1,390.5 L104.8,390.5 L104.2,390.6 L103.6,390.7 L103.0,390.7 L102.4,390.8 L102.1,390.8 L102.1,390.8"/>
<path d="M103.6,389.0 L103.0,389.1 L102.4,389.1 L101.8,389.1 L101.2,389.2 L100.6,389.1 L100.0,389.1 L99.4,389.0 L99.1,389.0 L98.5,388.9 L97.9,388.7 L97.6,388.6 L97.0,388.4 L96.7,388.3 L96.4,388.1 L96.0,387.8 L95.6,387.5 L95.3,387.2 L95.1,386.9 L94.9,386.6 L94.6,386.0 L94.5,385.7 L94.4,385.1 L94.4,384.5 L94.3,383.9 L94.3,383.3 L94.4,382.7 L94.4,382.1 L94.4,381.5 L94.5,380.9 L94.5,380.3 L94.5,379.7 L94.6,379.1 L94.6,378.8 L94.7,378.2 L94.8,377.6 L94.9,377.0 L94.9,376.7 L95.0,376.1 L95.2,375.6 L95.5,375.3 L95.8,375.0 L96.1,374.7 L96.4,374.4 L96.7,374.1 L97.0,373.8 L97.3,373.5 L97.6,373.2 L97.9,372.9 L98.2,372.6 L98.5,372.3 L98.8,372.1 L99.1,371.8 L99.4,371.5 L99.7,371.2 L100.0,370.9 L100.3,370.6 L100.6,370.3 L100.9,370.1 L101.2,369.8 L101.5,369.5 L101.8,369.2 L102.1,368.8 L102.4,368.5 L102.7,368.1 L103.0,367.7 L103.3,367.4 L103.5,367.1 L103.8,366.8 L104.1,366.5 L104.3,366.2 L104.6,365.9 L104.9,365.6 L105.1,365.3 L105.4,365.0 L105.7,364.7 L106.0,364.4 L106.3,364.0 L106.6,363.7 L106.9,363.4 L107.2,363.1 L107.5,362.8 L107.8,362.5 L108.1,362.2 L108.4,361.9 L108.7,361.6 L109.0,361.3 L109.3,361.1 L109.6,360.8 L109.9,360.5 L110.2,360.2 L110.5,359.9 L110.9,359.6 L111.2,359.3 L111.5,359.0 L111.9,358.7 L112.2,358.4 L112.6,358.1 L112.9,357.8 L113.2,357.6 L113.5,357.3 L113.8,357.0 L114.1,356.8 L114.4,356.5 L114.7,356.3 L115.0,356.0 L115.4,355.7 L115.8,355.4 L116.1,355.1 L116.5,354.8 L116.8,354.5 L117.1,354.2 L117.4,354.0 L117.7,353.7 L118.0,353.5 L118.3,353.2 L118.6,352.9 L118.9,352.7 L119.2,352.4 L119.6,352.1 L120.0,351.8 L120.3,351.5 L120.7,351.2 L121.0,351.0 L121.3,350.7 L121.6,350.5 L121.9,350.2 L122.2,350.0 L122.5,349.7 L122.9,349.4 L123.3,349.1 L123.6,348.8 L124.0,348.5 L124.3,348.3 L124.6,348.0 L124.9,347.8 L125.2,347.5 L125.5,347.3 L125.9,347.0 L126.2,346.7 L126.6,346.4 L127.0,346.1 L127.3,345.9 L127.6,345.6 L127.9,345.4 L128.2,345.1 L128.5,344.8 L128.8,344.6 L129.1,344.3 L129.5,344.0 L129.8,343.7 L130.2,343.4 L130.5,343.1 L130.9,342.8 L131.2,342.5 L131.5,342.3 L131.8,342.0 L132.1,341.8 L132.4,341.5 L132.7,341.3 L133.1,341.0 L133.4,340.7 L133.8,340.4 L134.2,340.1 L134.5,339.8 L134.8,339.6 L135.1,339.3 L135.4,339.1 L135.7,338.9 L136.0,338.6 L136.4,338.3 L136.8,338.0 L137.1,337.7 L137.5,337.4 L137.8,337.2 L138.1,336.9 L138.4,336.7 L138.7,336.4 L139.0,336.2 L139.4,335.9 L139.7,335.6 L140.1,335.3 L140.4,335.0 L140.8,334.7 L141.1,334.5 L141.4,334.2 L141.7,334.0 L142.0,333.7 L142.3,333.5 L142.6,333.2 L143.0,332.9 L143.3,332.6 L143.7,332.3 L144.0,332.0 L144.4,331.7 L144.7,331.4 L145.0,331.1 L145.3,330.9 L145.6,330.6 L145.9,330.4 L146.2,330.1 L146.5,329.8 L146.8,329.6 L147.1,329.3 L147.4,329.0 L147.8,328.7 L148.1,328.4 L148.4,328.1 L148.8,327.8 L149.1,327.5 L149.4,327.2 L149.8,326.9 L150.1,326.6 L150.4,326.3 L150.7,326.1 L151.0,325.8 L151.3,325.5 L151.6,325.2 L151.9,325.0 L152.2,324.7 L152.5,324.4 L152.8,324.2 L153.1,323.9 L153.4,323.6 L153.7,323.3 L154.0,323.0 L154.4,322.7 L154.7,322.4 L155.0,322.1 L155.3,321.8 L155.6,321.5 L156.0,321.2 L156.3,320.9 L156.6,320.6 L156.9,320.3 L157.3,320.0 L157.6,319.7 L157.9,319.4 L158.2,319.2 L158.5,318.9 L158.8,318.6 L159.1,318.3 L159.4,318.1 L159.7,317.8 L160.0,317.5 L160.3,317.3 L160.6,317.0 L160.9,316.7 L161.3,316.4 L161.6,316.1 L162.0,315.8 L162.3,315.5 L162.6,315.2 L163.0,314.9 L163.3,314.6 L163.6,314.4 L163.9,314.1 L164.2,313.8 L164.5,313.6 L164.8,313.3 L165.1,313.0 L165.4,312.8 L165.7,312.5 L166.1,312.2 L166.4,311.9 L166.8,311.6 L167.1,311.3 L167.4,311.0 L167.8,310.7 L168.1,310.4 L168.4,310.2 L168.7,309.9 L169.0,309.6 L169.3,309.4 L169.6,309.1 L169.9,308.9 L170.2,308.5 L170.5,308.0 L170.7,307.7 L171.0,307.4 L171.2,307.1 L171.4,306.8 L171.7,306.3 L172.0,305.9 L172.2,305.6 L172.4,305.3 L172.7,305.0 L172.9,304.7 L173.2,304.2 L173.5,303.8 L173.7,303.5 L173.9,303.2 L174.2,302.9 L174.4,302.6 L174.7,302.2 L175.0,301.7 L175.3,301.4 L175.5,301.1 L175.7,300.8 L175.9,300.5 L176.2,300.1 L176.5,299.7 L176.8,299.3 L177.0,299.0 L177.2,298.7 L177.5,298.4 L177.8,298.1 L178.1,297.8 L178.4,297.5 L178.7,297.2 L179.0,296.9 L179.3,296.6 L179.6,296.3 L179.9,296.0 L180.2,295.7 L180.5,295.4 L180.8,295.1 L181.1,294.8 L181.5,294.5 L181.9,294.2 L182.2,294.0 L182.5,293.8 L182.8,293.6 L183.4,293.3 L183.7,293.2 L184.2,293.0 L184.6,292.9 L185.2,292.7 L185.5,292.6 L186.1,292.5 L186.6,292.4 L187.0,292.3 L187.6,292.2 L188.2,292.2 L188.7,292.1 L189.1,291.9 L189.4,291.8 L190.0,291.5 L190.3,291.4 L190.9,291.2 L191.2,291.1 L191.8,290.9 L192.1,290.8 L192.7,290.7 L193.2,290.6 L193.6,290.5 L194.2,290.5 L194.8,290.4 L195.4,290.3 L195.7,290.3 L196.3,290.3 L196.9,290.2 L197.5,290.1 L198.1,290.1 L198.7,290.0 L199.0,290.0 L199.6,290.0 L199.9,290.0 L200.5,290.0 L201.1,290.1 L201.7,290.1 L202.3,290.2 L202.6,290.4 L202.9,290.6 L203.3,290.9 L203.8,291.2 L204.1,291.4 L204.4,291.6 L204.7,291.8 L205.1,292.1 L205.5,292.4 L205.9,292.7 L206.1,293.0 L206.2,293.3 L206.5,293.8 L206.7,294.2 L206.9,294.5 L207.1,294.9 L207.4,295.4 L207.5,295.7 L207.7,296.0 L208.0,296.6 L208.1,296.9 L208.3,297.2 L208.5,297.8 L208.5,298.4 L208.5,299.0 L208.6,299.6 L208.6,300.2 L208.6,300.8 L208.5,301.4 L208.5,302.0 L208.4,302.6 L208.3,303.2 L208.3,303.8 L208.3,304.1 L208.2,304.7 L208.2,305.3 L208.2,305.9 L208.1,306.5 L208.1,307.1 L208.0,307.7 L207.9,308.0 L207.8,308.6 L207.7,308.9 L207.5,309.5 L207.4,309.9 L207.2,310.4 L207.1,310.7 L206.8,311.3 L206.7,311.6 L206.6,312.2 L206.5,312.8 L206.5,313.1 L206.4,313.7 L206.3,314.3 L206.2,314.6 L206.0,315.2 L205.9,315.6 L205.7,316.1 L205.5,316.4 L205.3,317.0 L205.1,317.3 L205.0,317.6 L204.7,318.0 L204.4,318.5 L204.2,318.8 L203.9,319.1 L203.6,319.4 L203.3,319.7 L203.0,320.0 L202.7,320.3 L202.3,320.6 L202.0,320.8 L201.7,321.0 L201.4,321.2 L200.9,321.5 L200.5,321.8 L200.2,322.0 L199.9,322.2 L199.6,322.4 L199.1,322.7 L198.7,323.0 L198.4,323.2 L198.1,323.4 L197.7,323.6 L197.2,323.8 L196.9,323.9 L196.3,324.2 L196.0,324.3 L195.4,324.5 L195.1,324.6 L194.7,324.8 L194.2,325.0 L193.9,325.1 L193.3,325.3 L193.0,325.4 L192.4,325.7 L192.1,325.8 L191.6,326.0 L191.2,326.1 L190.8,326.3 L190.3,326.5 L190.0,326.6 L189.4,326.9 L189.1,327.0 L188.5,327.2 L188.2,327.3 L187.8,327.5 L187.3,327.7 L187.0,327.8 L186.4,328.0 L186.1,328.1 L185.7,328.4 L185.3,328.7 L184.9,329.0 L184.6,329.2 L184.3,329.5 L184.0,329.7 L183.7,329.9 L183.3,330.2 L182.9,330.5 L182.5,330.8 L182.2,331.1 L181.9,331.3 L181.6,331.5 L181.3,331.8 L181.0,332.0 L180.6,332.3 L180.2,332.6 L179.8,332.9 L179.5,333.1 L179.2,333.4 L178.9,333.6 L178.6,333.8 L178.3,334.1 L177.9,334.4 L177.5,334.7 L177.1,335.0 L176.8,335.3 L176.5,335.5 L176.2,335.7 L175.9,336.0 L175.6,336.2 L175.2,336.5 L174.9,336.8 L174.5,337.1 L174.1,337.4 L173.8,337.7 L173.5,337.9 L173.2,338.2 L172.9,338.4 L172.6,338.6 L172.3,338.9 L171.9,339.2 L171.6,339.5 L171.2,339.8 L170.8,340.1 L170.5,340.4 L170.2,340.6 L169.9,340.9 L169.6,341.2 L169.3,341.4 L169.0,341.7 L168.7,342.0 L168.4,342.2 L168.1,342.5 L167.8,342.8 L167.4,343.1 L167.1,343.4 L166.8,343.7 L166.5,344.0 L166.1,344.3 L165.8,344.6 L165.5,344.9 L165.2,345.2 L164.8,345.5 L164.5,345.8 L164.2,346.1 L163.9,346.4 L163.6,346.7 L163.3,346.9 L163.0,347.2 L162.7,347.5 L162.4,347.8 L162.1,348.1 L161.8,348.3 L161.5,348.6 L161.2,348.9 L160.9,349.2 L160.6,349.5 L160.3,349.7 L160.0,350.0 L159.7,350.3 L159.4,350.6 L159.0,350.9 L158.7,351.2 L158.4,351.5 L158.1,351.8 L157.8,352.1 L157.4,352.4 L157.1,352.7 L156.8,353.0 L156.5,353.3 L156.1,353.6 L155.8,353.9 L155.5,354.2 L155.2,354.5 L154.9,354.7 L154.6,355.0 L154.3,355.3 L154.0,355.6 L153.7,355.9 L153.4,356.1 L153.1,356.4 L152.8,356.7 L152.5,357.0 L152.2,357.3 L151.9,357.5 L151.6,357.8 L151.3,358.1 L151.0,358.4 L150.6,358.7 L150.3,359.0 L150.0,359.3 L149.7,359.6 L149.3,359.9 L149.0,360.2 L148.7,360.5 L148.3,360.8 L148.0,361.1 L147.7,361.4 L147.4,361.7 L147.1,361.9 L146.8,362.2 L146.5,362.5 L146.2,362.7 L145.9,363.0 L145.6,363.3 L145.3,363.5 L145.0,363.8 L144.7,364.1 L144.3,364.4 L144.0,364.7 L143.7,365.0 L143.4,365.3 L143.1,365.6 L142.8,365.9 L142.5,366.2 L142.2,366.5 L141.9,366.8 L141.6,367.1 L141.3,367.4 L141.0,367.7 L140.7,368.0 L140.4,368.3 L140.1,368.6 L139.8,368.9 L139.5,369.2 L139.2,369.5 L138.9,369.8 L138.6,370.1 L138.3,370.4 L138.0,370.7 L137.7,371.0 L137.4,371.3 L137.1,371.6 L136.8,371.9 L136.5,372.2 L136.1,372.5 L135.8,372.8 L135.5,373.1 L135.2,373.4 L134.8,373.7 L134.5,374.0 L134.2,374.3 L133.9,374.6 L133.6,374.8 L133.3,375.1 L133.0,375.4 L132.7,375.7 L132.4,376.0 L132.1,376.3 L131.8,376.6 L131.5,376.9 L131.2,377.1 L130.9,377.4 L130.6,377.7 L130.3,378.0 L130.0,378.3 L129.7,378.5 L129.4,378.8 L129.1,379.1 L128.7,379.4 L128.4,379.7 L128.0,380.0 L127.7,380.3 L127.3,380.6 L127.0,380.8 L126.7,381.1 L126.4,381.3 L126.1,381.6 L125.8,381.8 L125.4,382.1 L125.0,382.4 L124.6,382.7 L124.3,382.9 L124.0,383.2 L123.7,383.4 L123.4,383.6 L123.0,383.9 L122.5,384.0 L121.9,384.0 L121.3,384.0 L120.8,384.2 L120.4,384.4 L120.0,384.5 L119.5,384.7 L119.2,384.8 L118.6,385.0 L118.3,385.1 L117.7,385.3 L117.4,385.4 L116.8,385.6 L116.5,385.7 L115.9,385.9 L115.6,386.0 L115.0,386.2 L114.6,386.3 L114.1,386.5 L113.6,386.6 L113.2,386.7 L112.6,386.9 L112.3,387.0 L111.7,387.2 L111.4,387.2 L110.8,387.4 L110.5,387.5 L109.9,387.7 L109.4,387.8 L109.0,387.9 L108.4,388.1 L108.1,388.1 L107.5,388.3 L106.9,388.4 L106.6,388.5 L106.0,388.6 L105.5,388.7 L105.1,388.8 L104.5,388.9 L103.9,389.0 L103.6,389.0 L103.6,389.0"/>
<path d="M104.2,387.2 L103.6,387.3 L103.0,387.4 L102.4,387.4 L101.8,387.5 L101.2,387.5 L100.6,387.5 L100.0,387.4 L99.4,387.4 L98.8,387.2 L98.5,387.2 L97.9,387.0 L97.6,386.9 L97.1,386.6 L96.8,386.3 L96.5,386.0 L96.3,385.7 L96.1,385.2 L96.0,384.8 L96.0,384.2 L96.0,383.6 L96.0,383.0 L96.0,382.4 L96.1,381.8 L96.1,381.4 L96.1,380.9 L96.2,380.3 L96.2,379.7 L96.3,379.1 L96.3,378.5 L96.4,378.0 L96.5,377.6 L96.6,377.0 L96.8,376.7 L97.1,376.4 L97.4,376.1 L97.6,375.8 L97.9,375.5 L98.2,375.2 L98.5,374.8 L98.8,374.5 L99.1,374.2 L99.4,373.8 L99.7,373.5 L100.0,373.2 L100.3,372.9 L100.6,372.6 L100.9,372.2 L101.2,371.9 L101.5,371.6 L101.8,371.3 L102.1,371.0 L102.4,370.7 L102.7,370.4 L103.0,370.1 L103.3,369.8 L103.6,369.5 L103.9,369.3 L104.2,369.0 L104.5,368.7 L104.8,368.4 L105.1,368.2 L105.4,367.9 L105.7,367.6 L106.0,367.3 L106.3,367.1 L106.6,366.8 L106.9,366.5 L107.3,366.2 L107.6,365.9 L107.9,365.6 L108.3,365.3 L108.6,365.0 L109.0,364.7 L109.3,364.4 L109.6,364.1 L109.9,363.9 L110.2,363.6 L110.5,363.4 L110.8,363.1 L111.1,362.9 L111.4,362.6 L111.8,362.3 L112.1,362.0 L112.5,361.7 L112.8,361.4 L113.2,361.1 L113.5,360.8 L113.8,360.6 L114.1,360.3 L114.4,360.1 L114.7,359.8 L115.0,359.6 L115.3,359.3 L115.6,359.0 L116.0,358.7 L116.3,358.4 L116.6,358.1 L116.9,357.8 L117.3,357.5 L117.6,357.2 L117.9,356.9 L118.2,356.6 L118.5,356.3 L118.8,356.0 L119.1,355.7 L119.4,355.4 L119.8,355.1 L120.1,354.8 L120.4,354.5 L120.7,354.2 L121.0,354.0 L121.3,353.7 L121.6,353.4 L121.9,353.1 L122.2,352.9 L122.5,352.6 L122.8,352.3 L123.1,352.1 L123.4,351.8 L123.7,351.5 L124.1,351.2 L124.4,350.9 L124.8,350.6 L125.1,350.3 L125.4,350.0 L125.8,349.7 L126.1,349.4 L126.4,349.2 L126.7,348.9 L127.0,348.7 L127.3,348.4 L127.6,348.2 L127.9,347.9 L128.3,347.6 L128.7,347.3 L129.0,347.0 L129.4,346.7 L129.7,346.4 L130.0,346.2 L130.3,345.9 L130.6,345.6 L130.9,345.4 L131.2,345.1 L131.5,344.9 L131.9,344.6 L132.2,344.3 L132.6,344.0 L133.0,343.7 L133.3,343.4 L133.6,343.2 L133.9,342.9 L134.2,342.7 L134.5,342.5 L134.9,342.2 L135.2,341.9 L135.6,341.6 L136.0,341.3 L136.3,341.1 L136.6,340.8 L136.9,340.6 L137.2,340.4 L137.6,340.1 L138.0,339.8 L138.4,339.5 L138.7,339.3 L139.0,339.0 L139.3,338.8 L139.6,338.6 L140.0,338.3 L140.3,338.0 L140.7,337.7 L141.1,337.4 L141.4,337.2 L141.7,337.0 L142.0,336.7 L142.3,336.5 L142.7,336.2 L143.1,335.9 L143.5,335.6 L143.8,335.3 L144.1,335.1 L144.4,334.9 L144.7,334.6 L145.0,334.4 L145.3,334.1 L145.7,333.8 L146.1,333.5 L146.4,333.2 L146.8,332.9 L147.1,332.6 L147.4,332.4 L147.7,332.1 L148.0,331.9 L148.3,331.6 L148.6,331.4 L148.9,331.1 L149.2,330.8 L149.6,330.5 L149.9,330.2 L150.2,329.9 L150.6,329.6 L150.9,329.3 L151.3,329.0 L151.6,328.7 L151.9,328.4 L152.2,328.1 L152.5,327.9 L152.8,327.6 L153.1,327.3 L153.4,327.1 L153.7,326.8 L154.0,326.5 L154.3,326.3 L154.6,326.0 L154.9,325.7 L155.2,325.4 L155.6,325.1 L155.9,324.8 L156.2,324.5 L156.5,324.2 L156.8,323.9 L157.2,323.6 L157.5,323.3 L157.9,323.0 L158.2,322.7 L158.5,322.4 L158.8,322.1 L159.1,321.9 L159.4,321.6 L159.7,321.3 L160.0,321.0 L160.3,320.8 L160.6,320.5 L160.9,320.3 L161.2,320.0 L161.5,319.7 L161.9,319.4 L162.2,319.1 L162.5,318.8 L162.9,318.5 L163.2,318.2 L163.6,317.9 L163.9,317.6 L164.2,317.3 L164.5,317.1 L164.8,316.8 L165.1,316.5 L165.4,316.3 L165.7,316.1 L166.0,315.8 L166.3,315.5 L166.7,315.2 L167.0,314.9 L167.4,314.6 L167.7,314.3 L168.1,314.0 L168.4,313.7 L168.7,313.4 L169.0,313.2 L169.3,312.9 L169.6,312.6 L169.9,312.4 L170.2,312.1 L170.5,311.9 L170.8,311.6 L171.1,311.3 L171.5,311.0 L171.8,310.7 L172.0,310.4 L172.3,310.0 L172.6,309.7 L172.9,309.3 L173.2,308.9 L173.4,308.6 L173.7,308.3 L173.9,308.0 L174.1,307.7 L174.4,307.4 L174.7,307.0 L175.0,306.6 L175.3,306.3 L175.6,305.9 L175.8,305.6 L176.1,305.3 L176.3,305.0 L176.6,304.7 L176.8,304.4 L177.1,304.1 L177.4,303.7 L177.7,303.3 L178.0,303.0 L178.3,302.6 L178.5,302.3 L178.8,302.0 L179.0,301.7 L179.3,301.4 L179.6,301.1 L179.9,300.8 L180.2,300.5 L180.5,300.2 L180.9,299.9 L181.2,299.6 L181.5,299.3 L181.8,299.0 L182.1,298.7 L182.4,298.4 L182.7,298.1 L183.1,297.8 L183.4,297.5 L183.7,297.2 L184.0,297.0 L184.3,296.7 L184.6,296.5 L184.9,296.3 L185.3,296.0 L185.7,295.7 L186.1,295.4 L186.4,295.2 L186.7,295.0 L187.1,294.8 L187.5,294.5 L187.9,294.3 L188.2,294.1 L188.6,293.9 L189.1,293.7 L189.4,293.5 L189.8,293.3 L190.3,293.1 L190.7,293.0 L191.2,292.8 L191.7,292.7 L192.1,292.6 L192.7,292.5 L193.1,292.4 L193.6,292.3 L194.2,292.2 L194.6,292.1 L195.1,292.0 L195.7,291.9 L196.1,291.8 L196.6,291.7 L197.2,291.6 L197.8,291.6 L198.4,291.5 L199.0,291.5 L199.6,291.5 L200.2,291.5 L200.8,291.7 L201.1,291.9 L201.5,292.1 L201.9,292.4 L202.3,292.6 L202.6,292.8 L202.9,293.0 L203.3,293.3 L203.8,293.6 L204.1,293.8 L204.4,294.0 L204.6,294.5 L204.8,294.8 L205.0,295.2 L205.3,295.7 L205.4,296.0 L205.6,296.4 L205.9,296.9 L206.0,297.2 L206.2,297.6 L206.5,298.1 L206.6,298.4 L206.8,298.8 L206.9,299.3 L206.9,299.9 L206.9,300.5 L206.8,301.1 L206.8,301.7 L206.8,302.3 L206.8,302.6 L206.7,303.2 L206.6,303.8 L206.5,304.4 L206.5,304.7 L206.4,305.3 L206.3,305.9 L206.2,306.3 L206.1,306.8 L206.0,307.4 L205.9,308.0 L205.9,308.3 L205.7,308.9 L205.6,309.3 L205.4,309.8 L205.3,310.1 L205.0,310.7 L204.8,311.0 L204.7,311.3 L204.4,311.7 L204.1,312.2 L203.9,312.5 L203.7,312.8 L203.5,313.1 L203.2,313.4 L202.9,313.8 L202.6,314.2 L202.3,314.5 L202.0,314.8 L201.7,315.1 L201.4,315.4 L201.1,315.7 L200.8,316.0 L200.5,316.3 L200.2,316.6 L199.9,316.8 L199.6,317.1 L199.3,317.3 L198.9,317.6 L198.5,317.9 L198.1,318.2 L197.8,318.4 L197.5,318.6 L197.2,318.8 L196.8,319.1 L196.4,319.4 L196.0,319.7 L195.7,319.9 L195.4,320.1 L195.1,320.3 L194.5,320.6 L194.2,320.7 L193.9,320.9 L193.3,321.2 L193.0,321.3 L192.7,321.5 L192.1,321.8 L191.8,321.9 L191.4,322.1 L190.9,322.3 L190.6,322.5 L190.1,322.7 L189.7,322.9 L189.4,323.0 L188.9,323.3 L188.5,323.5 L188.2,323.6 L187.6,323.9 L187.3,324.0 L186.9,324.2 L186.4,324.5 L186.1,324.6 L185.7,324.8 L185.2,325.0 L184.9,325.2 L184.4,325.4 L184.0,325.6 L183.7,325.7 L183.4,326.0 L183.0,326.3 L182.6,326.6 L182.2,326.9 L181.9,327.1 L181.6,327.3 L181.3,327.6 L181.0,327.8 L180.6,328.1 L180.2,328.4 L179.8,328.7 L179.5,329.0 L179.2,329.2 L178.9,329.4 L178.6,329.6 L178.3,329.9 L177.9,330.2 L177.5,330.5 L177.1,330.8 L176.8,331.1 L176.5,331.3 L176.2,331.5 L175.9,331.7 L175.6,332.0 L175.2,332.3 L174.9,332.6 L174.5,332.9 L174.1,333.2 L173.8,333.5 L173.5,333.7 L173.2,334.0 L172.9,334.2 L172.6,334.4 L172.3,334.7 L171.9,335.0 L171.5,335.3 L171.1,335.6 L170.8,335.9 L170.5,336.2 L170.2,336.4 L169.9,336.7 L169.6,336.9 L169.3,337.2 L169.0,337.4 L168.7,337.7 L168.3,338.0 L168.0,338.3 L167.6,338.6 L167.3,338.9 L166.9,339.2 L166.6,339.5 L166.3,339.8 L166.0,340.1 L165.7,340.4 L165.4,340.6 L165.1,340.9 L164.8,341.2 L164.5,341.5 L164.2,341.7 L163.9,342.0 L163.6,342.3 L163.3,342.6 L163.0,342.8 L162.7,343.1 L162.4,343.4 L162.1,343.7 L161.8,344.0 L161.5,344.3 L161.2,344.6 L160.8,344.9 L160.5,345.2 L160.2,345.5 L159.9,345.8 L159.6,346.1 L159.3,346.4 L159.0,346.7 L158.7,347.0 L158.4,347.3 L158.1,347.6 L157.8,347.9 L157.5,348.2 L157.2,348.5 L156.9,348.8 L156.6,349.1 L156.3,349.4 L156.0,349.7 L155.7,350.0 L155.4,350.3 L155.1,350.6 L154.8,350.9 L154.5,351.2 L154.2,351.5 L153.9,351.8 L153.6,352.1 L153.3,352.4 L153.0,352.7 L152.7,353.0 L152.4,353.3 L152.1,353.6 L151.8,353.9 L151.5,354.2 L151.2,354.5 L150.9,354.8 L150.6,355.1 L150.3,355.4 L150.0,355.7 L149.7,356.0 L149.4,356.3 L149.1,356.6 L148.8,356.9 L148.4,357.2 L148.1,357.5 L147.8,357.8 L147.5,358.1 L147.2,358.4 L146.9,358.7 L146.6,359.0 L146.3,359.3 L145.9,359.6 L145.6,359.9 L145.3,360.2 L145.0,360.5 L144.7,360.7 L144.4,361.0 L144.1,361.3 L143.8,361.6 L143.5,361.8 L143.2,362.1 L142.9,362.4 L142.6,362.6 L142.3,362.9 L142.0,363.2 L141.7,363.5 L141.4,363.8 L141.1,364.1 L140.8,364.4 L140.4,364.7 L140.1,365.0 L139.8,365.3 L139.5,365.6 L139.1,365.9 L138.8,366.2 L138.5,366.5 L138.1,366.8 L137.8,367.1 L137.5,367.4 L137.2,367.6 L136.9,367.9 L136.6,368.2 L136.3,368.4 L136.0,368.7 L135.7,369.0 L135.4,369.2 L135.1,369.5 L134.7,369.8 L134.4,370.1 L134.0,370.4 L133.7,370.7 L133.3,371.0 L133.0,371.3 L132.7,371.5 L132.4,371.8 L132.1,372.0 L131.8,372.2 L131.5,372.5 L131.1,372.8 L130.8,373.1 L130.4,373.4 L130.0,373.7 L129.7,374.0 L129.4,374.2 L129.1,374.5 L128.8,374.8 L128.5,375.1 L128.2,375.3 L127.9,375.6 L127.6,375.9 L127.3,376.2 L127.0,376.5 L126.7,376.8 L126.4,377.0 L126.1,377.3 L125.8,377.6 L125.5,377.9 L125.2,378.2 L124.9,378.5 L124.5,378.8 L124.2,379.1 L123.9,379.4 L123.6,379.7 L123.2,380.0 L122.9,380.3 L122.6,380.6 L122.2,380.9 L121.9,381.2 L121.6,381.5 L121.3,381.7 L121.0,382.0 L120.7,382.3 L120.4,382.5 L120.1,382.7 L119.5,382.9 L119.2,383.0 L118.6,383.3 L118.3,383.4 L117.7,383.6 L117.4,383.7 L116.8,383.9 L116.5,384.0 L115.9,384.2 L115.6,384.3 L115.0,384.4 L114.7,384.5 L114.1,384.7 L113.8,384.8 L113.2,385.0 L112.8,385.1 L112.3,385.3 L111.8,385.4 L111.4,385.5 L110.8,385.7 L110.5,385.8 L109.9,385.9 L109.6,386.0 L109.0,386.2 L108.5,386.3 L108.1,386.4 L107.5,386.6 L107.2,386.6 L106.6,386.8 L106.0,386.9 L105.7,387.0 L105.1,387.1 L104.5,387.2 L104.2,387.2 L104.2,387.2"/>
<path d="M103.0,385.7 L102.4,385.8 L101.8,385.8 L101.2,385.8 L100.6,385.8 L100.0,385.8 L99.6,385.7 L99.1,385.6 L98.5,385.4 L98.2,385.3 L97.9,385.1 L97.7,384.5 L97.7,383.9 L97.7,383.3 L97.7,382.7 L97.7,382.1 L97.8,381.5 L97.8,380.9 L97.8,380.3 L97.9,379.7 L97.9,379.4 L98.0,378.8 L98.1,378.2 L98.2,377.8 L98.5,377.5 L98.8,377.2 L99.1,376.8 L99.4,376.5 L99.7,376.2 L100.0,375.9 L100.3,375.5 L100.6,375.2 L100.9,374.9 L101.2,374.6 L101.5,374.3 L101.8,374.0 L102.1,373.7 L102.3,373.4 L102.6,373.1 L102.9,372.8 L103.2,372.5 L103.5,372.2 L103.8,371.9 L104.1,371.6 L104.4,371.3 L104.7,371.0 L105.0,370.7 L105.3,370.4 L105.6,370.1 L105.9,369.8 L106.2,369.5 L106.5,369.2 L106.8,368.9 L107.1,368.6 L107.4,368.3 L107.7,368.0 L108.0,367.7 L108.3,367.4 L108.6,367.1 L108.9,366.8 L109.2,366.5 L109.5,366.2 L109.9,365.9 L110.2,365.6 L110.5,365.3 L110.8,365.0 L111.1,364.7 L111.4,364.5 L111.7,364.2 L112.0,363.9 L112.3,363.6 L112.6,363.4 L112.9,363.1 L113.2,362.8 L113.5,362.5 L113.8,362.3 L114.1,362.0 L114.4,361.7 L114.7,361.4 L115.1,361.1 L115.4,360.8 L115.8,360.5 L116.1,360.2 L116.4,359.9 L116.8,359.6 L117.1,359.3 L117.4,359.1 L117.7,358.8 L118.0,358.6 L118.3,358.3 L118.6,358.0 L118.9,357.8 L119.2,357.5 L119.5,357.2 L119.8,356.9 L120.2,356.6 L120.5,356.3 L120.8,356.0 L121.2,355.7 L121.5,355.4 L121.8,355.1 L122.2,354.8 L122.5,354.5 L122.8,354.2 L123.1,354.0 L123.4,353.7 L123.7,353.4 L124.0,353.2 L124.3,352.9 L124.6,352.7 L124.9,352.4 L125.2,352.1 L125.6,351.8 L125.9,351.5 L126.3,351.2 L126.6,350.9 L127.0,350.6 L127.3,350.3 L127.6,350.1 L127.9,349.8 L128.2,349.6 L128.5,349.3 L128.8,349.1 L129.1,348.8 L129.5,348.5 L129.9,348.2 L130.2,347.9 L130.6,347.6 L130.9,347.3 L131.2,347.0 L131.5,346.8 L131.8,346.5 L132.1,346.3 L132.4,346.0 L132.7,345.8 L133.0,345.5 L133.4,345.2 L133.8,344.9 L134.1,344.6 L134.5,344.3 L134.8,344.1 L135.1,343.8 L135.4,343.6 L135.7,343.3 L136.0,343.1 L136.4,342.8 L136.8,342.5 L137.1,342.2 L137.5,341.9 L137.8,341.7 L138.1,341.4 L138.4,341.2 L138.7,341.0 L139.0,340.7 L139.4,340.4 L139.8,340.1 L140.2,339.8 L140.5,339.6 L140.8,339.3 L141.1,339.1 L141.4,338.8 L141.7,338.6 L142.1,338.3 L142.5,338.0 L142.8,337.7 L143.2,337.4 L143.5,337.2 L143.8,336.9 L144.1,336.7 L144.4,336.4 L144.7,336.2 L145.0,335.9 L145.4,335.6 L145.8,335.3 L146.1,335.0 L146.5,334.7 L146.8,334.4 L147.1,334.2 L147.4,333.9 L147.7,333.7 L148.0,333.4 L148.3,333.1 L148.6,332.9 L148.9,332.6 L149.3,332.3 L149.6,332.0 L149.9,331.7 L150.3,331.4 L150.6,331.1 L150.9,330.8 L151.3,330.5 L151.6,330.2 L151.9,330.0 L152.2,329.7 L152.5,329.4 L152.8,329.1 L153.1,328.9 L153.4,328.6 L153.7,328.3 L154.0,328.1 L154.3,327.8 L154.6,327.5 L155.0,327.2 L155.3,326.9 L155.6,326.6 L156.0,326.3 L156.3,326.0 L156.6,325.7 L156.9,325.4 L157.2,325.1 L157.6,324.8 L157.9,324.5 L158.2,324.2 L158.5,324.0 L158.8,323.7 L159.1,323.4 L159.4,323.1 L159.7,322.9 L160.0,322.6 L160.3,322.3 L160.6,322.1 L160.9,321.8 L161.2,321.5 L161.6,321.2 L161.9,320.9 L162.3,320.6 L162.6,320.3 L162.9,320.0 L163.3,319.7 L163.6,319.4 L163.9,319.2 L164.2,318.9 L164.5,318.6 L164.8,318.4 L165.1,318.1 L165.4,317.8 L165.7,317.6 L166.0,317.3 L166.4,317.0 L166.7,316.7 L167.1,316.4 L167.4,316.1 L167.8,315.8 L168.1,315.5 L168.4,315.3 L168.7,315.0 L169.0,314.7 L169.3,314.5 L169.6,314.2 L169.9,314.0 L170.2,313.7 L170.6,313.4 L170.9,313.1 L171.2,312.8 L171.6,312.5 L171.9,312.2 L172.3,311.9 L172.6,311.6 L172.8,311.3 L173.1,311.0 L173.3,310.7 L173.6,310.4 L173.8,310.1 L174.1,309.8 L174.4,309.4 L174.7,309.1 L175.0,308.7 L175.3,308.3 L175.6,308.0 L175.8,307.7 L176.1,307.4 L176.4,307.1 L176.6,306.8 L176.9,306.5 L177.1,306.2 L177.4,305.9 L177.7,305.5 L178.0,305.2 L178.3,304.8 L178.6,304.5 L178.9,304.1 L179.2,303.8 L179.4,303.5 L179.7,303.2 L180.0,302.9 L180.2,302.6 L180.5,302.3 L180.8,302.0 L181.2,301.7 L181.5,301.4 L181.8,301.1 L182.1,300.8 L182.5,300.5 L182.8,300.2 L183.1,299.9 L183.4,299.6 L183.7,299.3 L184.0,299.0 L184.3,298.8 L184.6,298.5 L184.9,298.3 L185.2,298.0 L185.5,297.8 L185.9,297.5 L186.3,297.2 L186.7,296.9 L187.0,296.8 L187.3,296.6 L187.8,296.3 L188.2,296.1 L188.5,295.9 L189.0,295.7 L189.4,295.5 L189.7,295.4 L190.3,295.1 L190.6,295.0 L191.2,294.8 L191.5,294.7 L191.9,294.5 L192.4,294.3 L192.8,294.2 L193.3,294.0 L193.8,293.9 L194.2,293.8 L194.8,293.6 L195.1,293.6 L195.7,293.5 L196.3,293.4 L196.9,293.3 L197.2,293.3 L197.8,293.2 L198.4,293.2 L199.0,293.3 L199.3,293.5 L199.6,293.6 L200.1,293.9 L200.5,294.1 L200.8,294.3 L201.1,294.5 L201.7,294.8 L202.0,295.0 L202.3,295.2 L202.6,295.4 L202.9,295.9 L203.1,296.3 L203.3,296.6 L203.5,297.1 L203.7,297.5 L203.8,297.8 L204.1,298.4 L204.3,298.7 L204.4,299.0 L204.7,299.6 L204.9,299.9 L205.0,300.2 L205.1,300.8 L205.0,301.4 L205.0,302.0 L205.0,302.3 L204.9,302.9 L204.9,303.5 L204.8,304.1 L204.7,304.6 L204.6,305.0 L204.5,305.6 L204.4,305.9 L204.2,306.5 L204.1,307.0 L203.9,307.4 L203.8,307.7 L203.6,308.3 L203.5,308.6 L203.2,309.2 L203.1,309.5 L202.9,309.9 L202.7,310.4 L202.5,310.7 L202.3,311.0 L202.0,311.6 L201.8,311.9 L201.6,312.2 L201.3,312.5 L201.1,312.8 L200.8,313.2 L200.5,313.6 L200.2,313.9 L199.9,314.2 L199.6,314.5 L199.3,314.8 L199.0,315.0 L198.7,315.3 L198.4,315.5 L198.1,315.8 L197.7,316.1 L197.3,316.4 L196.9,316.7 L196.6,316.9 L196.3,317.1 L196.0,317.3 L195.6,317.6 L195.2,317.9 L194.8,318.2 L194.5,318.4 L194.2,318.6 L193.9,318.8 L193.4,319.1 L193.0,319.3 L192.7,319.5 L192.3,319.7 L191.8,319.9 L191.5,320.1 L191.1,320.3 L190.6,320.6 L190.3,320.7 L189.9,320.9 L189.4,321.2 L189.1,321.3 L188.8,321.5 L188.2,321.8 L187.9,321.9 L187.6,322.1 L187.0,322.4 L186.7,322.5 L186.4,322.7 L185.8,323.0 L185.5,323.2 L185.2,323.3 L184.6,323.6 L184.3,323.8 L184.0,323.9 L183.4,324.2 L183.1,324.4 L182.8,324.5 L182.5,324.8 L182.1,325.1 L181.7,325.4 L181.3,325.7 L181.0,325.9 L180.7,326.2 L180.4,326.4 L180.1,326.6 L179.7,326.9 L179.4,327.2 L179.0,327.5 L178.6,327.8 L178.3,328.0 L178.0,328.3 L177.7,328.5 L177.4,328.7 L177.1,329.0 L176.7,329.3 L176.3,329.6 L175.9,329.9 L175.6,330.1 L175.3,330.4 L175.0,330.6 L174.7,330.9 L174.4,331.1 L174.0,331.4 L173.7,331.7 L173.3,332.0 L172.9,332.3 L172.6,332.6 L172.3,332.8 L172.0,333.0 L171.7,333.3 L171.4,333.5 L171.1,333.8 L170.7,334.1 L170.4,334.4 L170.0,334.7 L169.7,335.0 L169.3,335.3 L169.0,335.6 L168.7,335.8 L168.4,336.1 L168.1,336.3 L167.8,336.6 L167.5,336.8 L167.2,337.1 L166.9,337.4 L166.5,337.7 L166.2,338.0 L165.8,338.3 L165.5,338.6 L165.2,338.9 L164.9,339.2 L164.5,339.5 L164.2,339.8 L163.9,340.1 L163.6,340.4 L163.3,340.6 L163.0,340.9 L162.7,341.2 L162.4,341.5 L162.1,341.7 L161.8,342.0 L161.5,342.3 L161.2,342.6 L160.9,342.9 L160.6,343.2 L160.3,343.4 L160.0,343.7 L159.7,344.0 L159.4,344.3 L159.1,344.6 L158.8,344.9 L158.4,345.2 L158.1,345.5 L157.8,345.8 L157.5,346.1 L157.2,346.4 L156.9,346.7 L156.5,347.0 L156.2,347.3 L155.9,347.6 L155.6,347.9 L155.3,348.2 L155.0,348.5 L154.7,348.8 L154.3,349.1 L154.0,349.4 L153.7,349.7 L153.4,350.0 L153.1,350.3 L152.8,350.6 L152.5,350.9 L152.2,351.2 L151.9,351.4 L151.6,351.7 L151.3,352.0 L151.0,352.3 L150.7,352.6 L150.4,352.9 L150.1,353.2 L149.8,353.5 L149.5,353.8 L149.2,354.0 L148.9,354.3 L148.6,354.6 L148.3,354.9 L148.0,355.2 L147.7,355.5 L147.4,355.8 L147.1,356.0 L146.8,356.3 L146.5,356.6 L146.2,356.9 L145.9,357.2 L145.6,357.5 L145.2,357.8 L144.9,358.1 L144.6,358.4 L144.3,358.7 L143.9,359.0 L143.6,359.3 L143.3,359.6 L142.9,359.9 L142.6,360.2 L142.3,360.5 L142.0,360.7 L141.7,361.0 L141.4,361.3 L141.1,361.6 L140.8,361.8 L140.5,362.1 L140.2,362.4 L139.9,362.7 L139.6,363.0 L139.3,363.3 L139.0,363.6 L138.7,363.8 L138.4,364.1 L138.1,364.4 L137.8,364.7 L137.4,365.0 L137.1,365.3 L136.8,365.6 L136.5,365.9 L136.1,366.2 L135.8,366.5 L135.5,366.8 L135.1,367.1 L134.8,367.4 L134.5,367.7 L134.2,367.9 L133.9,368.2 L133.6,368.5 L133.3,368.7 L133.0,369.0 L132.7,369.3 L132.4,369.5 L132.1,369.8 L131.7,370.1 L131.4,370.4 L131.0,370.7 L130.7,371.0 L130.3,371.3 L130.0,371.6 L129.7,371.9 L129.4,372.2 L129.1,372.5 L128.8,372.7 L128.5,373.0 L128.2,373.3 L127.9,373.6 L127.6,373.8 L127.3,374.1 L127.0,374.4 L126.7,374.6 L126.4,374.9 L126.1,375.2 L125.7,375.5 L125.4,375.8 L125.0,376.1 L124.7,376.4 L124.3,376.7 L124.0,377.0 L123.7,377.2 L123.4,377.5 L123.1,377.7 L122.8,378.0 L122.5,378.2 L122.2,378.5 L121.8,378.8 L121.4,379.1 L121.1,379.4 L120.7,379.7 L120.4,379.9 L120.1,380.2 L119.8,380.4 L119.5,380.7 L119.2,380.9 L118.8,381.2 L118.4,381.5 L118.0,381.7 L117.7,381.8 L117.1,382.0 L116.8,382.1 L116.2,382.3 L115.9,382.4 L115.3,382.6 L115.0,382.7 L114.4,382.9 L114.0,383.0 L113.5,383.2 L113.0,383.3 L112.6,383.4 L112.0,383.6 L111.7,383.7 L111.1,383.9 L110.8,384.0 L110.2,384.1 L109.9,384.2 L109.3,384.4 L108.8,384.5 L108.4,384.6 L107.8,384.8 L107.5,384.8 L106.9,385.0 L106.4,385.1 L106.0,385.2 L105.4,385.3 L105.0,385.4 L104.5,385.5 L103.9,385.6 L103.3,385.7 L103.0,385.7 L103.0,385.7"/>
<path d="M103.9,383.9 L103.3,384.0 L102.7,384.1 L102.1,384.1 L101.5,384.2 L100.9,384.2 L100.3,384.1 L99.7,384.0 L99.3,383.9 L99.3,383.3 L99.4,382.7 L99.4,382.1 L99.4,381.8 L99.4,381.2 L99.5,380.6 L99.5,380.0 L99.6,379.4 L99.7,379.0 L100.0,378.6 L100.3,378.3 L100.6,377.9 L100.9,377.6 L101.1,377.3 L101.4,377.0 L101.7,376.7 L101.9,376.4 L102.2,376.1 L102.4,375.8 L102.7,375.5 L103.0,375.2 L103.3,374.8 L103.6,374.5 L103.9,374.2 L104.2,373.8 L104.5,373.5 L104.8,373.2 L105.1,372.9 L105.4,372.6 L105.7,372.3 L106.0,371.9 L106.3,371.6 L106.6,371.3 L106.9,371.0 L107.2,370.7 L107.5,370.4 L107.8,370.1 L108.1,369.8 L108.4,369.5 L108.7,369.3 L109.0,369.0 L109.3,368.7 L109.6,368.4 L109.9,368.1 L110.2,367.8 L110.5,367.5 L110.8,367.2 L111.1,366.9 L111.4,366.6 L111.7,366.4 L112.0,366.1 L112.3,365.8 L112.6,365.5 L112.9,365.2 L113.2,364.9 L113.5,364.6 L113.8,364.4 L114.1,364.1 L114.4,363.8 L114.7,363.5 L115.0,363.2 L115.4,362.9 L115.7,362.6 L116.0,362.3 L116.3,362.0 L116.6,361.7 L116.9,361.4 L117.2,361.1 L117.5,360.8 L117.8,360.5 L118.2,360.2 L118.5,359.9 L118.8,359.6 L119.1,359.3 L119.4,359.0 L119.7,358.7 L120.0,358.4 L120.3,358.1 L120.6,357.8 L120.9,357.5 L121.2,357.2 L121.5,356.9 L121.8,356.6 L122.2,356.3 L122.5,356.0 L122.8,355.7 L123.1,355.4 L123.4,355.1 L123.7,354.8 L124.0,354.5 L124.3,354.3 L124.6,354.0 L124.9,353.7 L125.2,353.4 L125.5,353.2 L125.8,352.9 L126.1,352.6 L126.4,352.3 L126.7,352.1 L127.0,351.8 L127.3,351.5 L127.7,351.2 L128.0,350.9 L128.4,350.6 L128.7,350.3 L129.1,350.0 L129.4,349.7 L129.7,349.5 L130.0,349.2 L130.3,349.0 L130.6,348.7 L130.9,348.4 L131.2,348.2 L131.5,347.9 L131.9,347.6 L132.2,347.3 L132.6,347.0 L133.0,346.7 L133.3,346.4 L133.6,346.2 L133.9,345.9 L134.2,345.7 L134.5,345.5 L134.8,345.2 L135.2,344.9 L135.6,344.6 L136.0,344.3 L136.3,344.1 L136.6,343.8 L136.9,343.6 L137.2,343.4 L137.6,343.1 L138.0,342.8 L138.4,342.5 L138.7,342.2 L139.0,342.0 L139.3,341.8 L139.6,341.6 L140.0,341.3 L140.4,341.0 L140.8,340.7 L141.1,340.5 L141.4,340.2 L141.7,340.0 L142.0,339.8 L142.4,339.5 L142.8,339.2 L143.2,338.9 L143.5,338.7 L143.8,338.4 L144.1,338.2 L144.4,338.0 L144.8,337.7 L145.1,337.4 L145.5,337.1 L145.9,336.8 L146.2,336.6 L146.5,336.3 L146.8,336.1 L147.1,335.9 L147.4,335.6 L147.8,335.3 L148.1,335.0 L148.5,334.7 L148.9,334.4 L149.2,334.1 L149.5,333.9 L149.8,333.6 L150.1,333.3 L150.4,333.1 L150.7,332.8 L151.0,332.6 L151.3,332.3 L151.6,332.0 L152.0,331.7 L152.3,331.4 L152.7,331.1 L153.0,330.8 L153.3,330.5 L153.7,330.2 L154.0,329.9 L154.3,329.6 L154.6,329.4 L154.9,329.1 L155.2,328.8 L155.5,328.6 L155.8,328.3 L156.1,328.0 L156.4,327.8 L156.7,327.5 L157.0,327.2 L157.3,326.9 L157.7,326.6 L158.0,326.3 L158.3,326.0 L158.7,325.7 L159.0,325.4 L159.3,325.1 L159.6,324.8 L160.0,324.5 L160.3,324.2 L160.6,323.9 L160.9,323.7 L161.2,323.4 L161.5,323.1 L161.8,322.9 L162.1,322.6 L162.4,322.3 L162.7,322.1 L163.0,321.8 L163.4,321.5 L163.7,321.2 L164.0,320.9 L164.4,320.6 L164.7,320.3 L165.1,320.0 L165.4,319.7 L165.7,319.5 L166.0,319.2 L166.3,318.9 L166.6,318.7 L166.9,318.4 L167.2,318.2 L167.5,317.9 L167.9,317.6 L168.2,317.3 L168.6,317.0 L168.9,316.7 L169.3,316.4 L169.6,316.1 L169.9,315.8 L170.2,315.6 L170.5,315.3 L170.8,315.1 L171.1,314.8 L171.4,314.5 L171.7,314.3 L172.0,314.0 L172.4,313.7 L172.7,313.4 L173.0,313.1 L173.4,312.8 L173.6,312.5 L173.9,312.2 L174.2,311.9 L174.4,311.6 L174.7,311.3 L175.0,310.9 L175.3,310.6 L175.6,310.3 L175.9,309.9 L176.2,309.6 L176.5,309.2 L176.8,308.9 L177.1,308.6 L177.3,308.3 L177.6,308.0 L177.9,307.7 L178.1,307.4 L178.4,307.1 L178.7,306.8 L179.0,306.5 L179.2,306.2 L179.5,305.9 L179.8,305.6 L180.1,305.3 L180.4,304.9 L180.7,304.6 L181.0,304.3 L181.3,304.0 L181.6,303.7 L181.9,303.4 L182.2,303.1 L182.5,302.8 L182.8,302.6 L183.1,302.3 L183.4,302.0 L183.8,301.7 L184.1,301.4 L184.4,301.1 L184.8,300.8 L185.1,300.5 L185.4,300.2 L185.8,299.9 L186.1,299.7 L186.4,299.4 L186.7,299.2 L187.0,299.0 L187.4,298.7 L187.9,298.4 L188.2,298.2 L188.5,298.0 L188.8,297.8 L189.4,297.5 L189.7,297.3 L190.0,297.2 L190.5,296.9 L190.9,296.7 L191.2,296.6 L191.8,296.3 L192.1,296.2 L192.5,296.0 L193.0,295.8 L193.5,295.7 L193.9,295.6 L194.5,295.4 L194.8,295.4 L195.4,295.3 L196.0,295.1 L196.3,295.1 L196.7,295.1 L197.2,295.3 L197.5,295.5 L198.0,295.7 L198.4,295.9 L198.7,296.0 L199.3,296.3 L199.6,296.5 L199.9,296.6 L200.5,296.9 L200.8,297.1 L201.0,297.5 L201.1,297.8 L201.4,298.4 L201.5,298.7 L201.7,299.1 L201.9,299.6 L202.1,299.9 L202.3,300.4 L202.5,300.8 L202.6,301.1 L202.9,301.7 L203.0,302.0 L203.0,302.6 L202.9,303.2 L202.9,303.5 L202.8,304.1 L202.7,304.7 L202.6,305.1 L202.5,305.6 L202.3,306.2 L202.2,306.5 L202.0,307.0 L201.8,307.4 L201.7,307.7 L201.4,308.2 L201.2,308.6 L201.0,308.9 L200.8,309.3 L200.5,309.7 L200.3,310.1 L200.0,310.4 L199.8,310.7 L199.6,311.0 L199.3,311.4 L199.0,311.7 L198.7,312.1 L198.4,312.4 L198.1,312.7 L197.8,313.0 L197.5,313.3 L197.2,313.6 L196.9,313.8 L196.6,314.1 L196.3,314.3 L195.9,314.6 L195.5,314.9 L195.1,315.2 L194.8,315.5 L194.5,315.7 L194.2,315.9 L193.9,316.1 L193.5,316.4 L193.1,316.7 L192.7,317.0 L192.4,317.2 L192.1,317.4 L191.8,317.6 L191.3,317.9 L190.9,318.1 L190.6,318.3 L190.2,318.5 L189.7,318.8 L189.4,319.0 L189.1,319.1 L188.6,319.4 L188.2,319.6 L187.9,319.8 L187.5,320.0 L187.0,320.3 L186.7,320.4 L186.4,320.6 L185.9,320.9 L185.5,321.1 L185.2,321.3 L184.8,321.5 L184.3,321.8 L184.0,321.9 L183.7,322.1 L183.1,322.4 L182.8,322.6 L182.5,322.7 L182.0,323.0 L181.6,323.3 L181.3,323.5 L181.0,323.7 L180.7,323.9 L180.3,324.2 L180.0,324.5 L179.6,324.8 L179.2,325.1 L178.9,325.3 L178.6,325.5 L178.3,325.8 L178.0,326.0 L177.6,326.3 L177.2,326.6 L176.8,326.9 L176.5,327.2 L176.2,327.4 L175.9,327.6 L175.6,327.9 L175.3,328.1 L174.9,328.4 L174.6,328.7 L174.2,329.0 L173.8,329.3 L173.5,329.6 L173.2,329.8 L172.9,330.0 L172.6,330.3 L172.3,330.5 L172.0,330.8 L171.6,331.1 L171.2,331.4 L170.9,331.7 L170.5,332.0 L170.2,332.3 L169.9,332.5 L169.6,332.8 L169.3,333.0 L169.0,333.3 L168.7,333.5 L168.4,333.8 L168.0,334.1 L167.7,334.4 L167.3,334.7 L167.0,335.0 L166.6,335.3 L166.3,335.6 L166.0,335.8 L165.7,336.1 L165.4,336.4 L165.1,336.6 L164.8,336.9 L164.5,337.2 L164.2,337.5 L163.9,337.7 L163.6,338.0 L163.3,338.3 L163.0,338.6 L162.6,338.9 L162.3,339.2 L162.0,339.5 L161.7,339.8 L161.4,340.1 L161.0,340.4 L160.7,340.7 L160.4,341.0 L160.1,341.3 L159.8,341.6 L159.5,341.9 L159.2,342.2 L158.8,342.5 L158.5,342.8 L158.2,343.1 L157.9,343.4 L157.6,343.7 L157.3,344.0 L157.0,344.3 L156.7,344.6 L156.4,344.9 L156.1,345.2 L155.8,345.5 L155.5,345.8 L155.2,346.1 L154.9,346.4 L154.6,346.7 L154.3,347.0 L154.0,347.3 L153.7,347.6 L153.4,347.9 L153.1,348.2 L152.8,348.5 L152.5,348.8 L152.2,349.1 L152.0,349.4 L151.7,349.7 L151.4,350.0 L151.1,350.3 L150.8,350.6 L150.5,350.9 L150.2,351.2 L149.9,351.5 L149.6,351.8 L149.3,352.1 L149.0,352.4 L148.8,352.7 L148.5,353.0 L148.2,353.3 L147.9,353.6 L147.6,353.9 L147.3,354.2 L147.0,354.5 L146.7,354.8 L146.4,355.1 L146.1,355.4 L145.8,355.7 L145.5,356.0 L145.2,356.3 L144.9,356.6 L144.6,356.9 L144.2,357.2 L143.9,357.5 L143.6,357.8 L143.3,358.1 L143.0,358.4 L142.6,358.7 L142.3,359.0 L142.0,359.3 L141.7,359.6 L141.4,359.8 L141.1,360.1 L140.8,360.3 L140.5,360.6 L140.2,360.9 L139.9,361.2 L139.6,361.5 L139.3,361.8 L139.0,362.0 L138.7,362.3 L138.4,362.6 L138.0,362.9 L137.7,363.2 L137.4,363.5 L137.0,363.8 L136.7,364.1 L136.3,364.4 L136.0,364.7 L135.7,364.9 L135.4,365.2 L135.1,365.4 L134.8,365.7 L134.5,365.9 L134.2,366.2 L133.8,366.5 L133.5,366.8 L133.1,367.1 L132.7,367.4 L132.4,367.7 L132.1,367.9 L131.8,368.2 L131.5,368.4 L131.2,368.6 L130.9,368.9 L130.5,369.2 L130.1,369.5 L129.7,369.8 L129.4,370.0 L129.1,370.3 L128.8,370.5 L128.5,370.8 L128.2,371.0 L127.9,371.3 L127.5,371.6 L127.1,371.9 L126.7,372.2 L126.4,372.5 L126.1,372.7 L125.8,373.0 L125.5,373.2 L125.2,373.4 L124.9,373.7 L124.5,374.0 L124.2,374.3 L123.8,374.6 L123.4,374.9 L123.1,375.2 L122.8,375.4 L122.5,375.7 L122.2,375.9 L121.9,376.2 L121.6,376.4 L121.2,376.7 L120.9,377.0 L120.5,377.3 L120.1,377.6 L119.8,377.9 L119.5,378.1 L119.2,378.3 L118.9,378.6 L118.6,378.8 L118.2,379.1 L117.9,379.4 L117.5,379.7 L117.1,380.0 L116.8,380.2 L116.5,380.4 L116.1,380.6 L115.6,380.8 L115.2,380.9 L114.7,381.1 L114.2,381.2 L113.8,381.3 L113.2,381.5 L112.9,381.6 L112.3,381.8 L112.0,381.9 L111.4,382.0 L111.1,382.1 L110.5,382.3 L110.2,382.4 L109.6,382.6 L109.1,382.7 L108.7,382.8 L108.1,383.0 L107.8,383.0 L107.2,383.2 L106.8,383.3 L106.3,383.4 L105.7,383.6 L105.4,383.6 L104.8,383.7 L104.2,383.9 L103.9,383.9 L103.9,383.9"/>
<path d="M104.5,381.8 L103.9,381.8 L103.7,381.5 L103.9,380.9 L104.0,380.6 L104.2,380.0 L104.3,379.7 L104.4,379.1 L104.5,378.8 L104.7,378.2 L104.8,377.9 L105.1,377.3 L105.2,377.0 L105.4,376.4 L105.5,376.1 L105.7,375.6 L105.8,375.2 L106.0,374.8 L106.3,374.3 L106.6,374.0 L106.8,373.7 L107.1,373.4 L107.4,373.1 L107.7,372.8 L107.9,372.5 L108.2,372.2 L108.5,371.9 L108.8,371.6 L109.0,371.3 L109.3,371.0 L109.6,370.7 L109.9,370.4 L110.2,370.1 L110.5,369.8 L110.8,369.4 L111.1,369.1 L111.4,368.8 L111.7,368.5 L112.0,368.2 L112.3,367.9 L112.6,367.6 L112.9,367.3 L113.2,367.0 L113.5,366.7 L113.8,366.3 L114.1,366.0 L114.4,365.7 L114.7,365.4 L115.0,365.1 L115.3,364.8 L115.6,364.5 L115.9,364.2 L116.2,363.9 L116.5,363.6 L116.8,363.3 L117.1,363.0 L117.4,362.7 L117.7,362.4 L118.0,362.1 L118.3,361.8 L118.6,361.5 L118.9,361.2 L119.2,360.9 L119.5,360.6 L119.8,360.3 L120.1,360.0 L120.4,359.7 L120.7,359.4 L121.0,359.1 L121.3,358.8 L121.6,358.5 L121.9,358.2 L122.2,357.9 L122.5,357.6 L122.8,357.3 L123.1,357.0 L123.4,356.7 L123.7,356.4 L124.0,356.1 L124.3,355.8 L124.6,355.5 L124.9,355.2 L125.2,354.9 L125.5,354.6 L125.8,354.4 L126.1,354.1 L126.4,353.8 L126.7,353.5 L127.0,353.2 L127.3,352.9 L127.6,352.7 L127.9,352.4 L128.2,352.1 L128.5,351.8 L128.9,351.5 L129.2,351.2 L129.6,350.9 L129.9,350.6 L130.3,350.3 L130.6,350.0 L130.9,349.8 L131.2,349.5 L131.5,349.2 L131.8,349.0 L132.1,348.7 L132.4,348.5 L132.7,348.2 L133.1,347.9 L133.4,347.6 L133.8,347.3 L134.2,347.0 L134.5,346.8 L134.8,346.5 L135.1,346.3 L135.4,346.0 L135.7,345.8 L136.1,345.5 L136.5,345.2 L136.9,344.9 L137.2,344.7 L137.5,344.5 L137.8,344.2 L138.1,344.0 L138.5,343.7 L138.9,343.4 L139.3,343.1 L139.6,342.9 L139.9,342.7 L140.2,342.5 L140.6,342.2 L141.0,341.9 L141.4,341.6 L141.7,341.4 L142.0,341.2 L142.3,341.0 L142.7,340.7 L143.1,340.4 L143.5,340.1 L143.8,339.9 L144.1,339.6 L144.4,339.4 L144.7,339.2 L145.1,338.9 L145.5,338.6 L145.9,338.3 L146.2,338.0 L146.5,337.8 L146.8,337.6 L147.1,337.3 L147.4,337.1 L147.8,336.8 L148.2,336.5 L148.5,336.2 L148.9,335.9 L149.2,335.7 L149.5,335.4 L149.8,335.2 L150.1,334.9 L150.4,334.6 L150.7,334.4 L151.0,334.1 L151.4,333.8 L151.7,333.5 L152.1,333.2 L152.4,332.9 L152.8,332.6 L153.1,332.3 L153.4,332.1 L153.7,331.8 L154.0,331.5 L154.3,331.3 L154.6,331.0 L154.9,330.7 L155.2,330.4 L155.5,330.2 L155.8,329.9 L156.2,329.6 L156.5,329.3 L156.8,329.0 L157.2,328.7 L157.5,328.4 L157.8,328.1 L158.1,327.8 L158.5,327.5 L158.8,327.2 L159.1,326.9 L159.4,326.7 L159.7,326.4 L160.0,326.1 L160.3,325.9 L160.6,325.6 L160.9,325.3 L161.2,325.0 L161.5,324.8 L161.8,324.5 L162.1,324.2 L162.5,323.9 L162.8,323.6 L163.2,323.3 L163.5,323.0 L163.9,322.7 L164.2,322.4 L164.5,322.1 L164.8,321.9 L165.1,321.6 L165.4,321.4 L165.7,321.1 L166.0,320.8 L166.3,320.6 L166.6,320.3 L167.0,320.0 L167.3,319.7 L167.7,319.4 L168.0,319.1 L168.4,318.8 L168.7,318.5 L169.0,318.3 L169.3,318.0 L169.6,317.8 L169.9,317.5 L170.2,317.2 L170.5,317.0 L170.8,316.7 L171.2,316.4 L171.5,316.1 L171.9,315.8 L172.2,315.5 L172.5,315.2 L172.9,314.9 L173.2,314.6 L173.5,314.4 L173.8,314.1 L174.1,313.8 L174.4,313.5 L174.7,313.2 L175.0,312.9 L175.3,312.5 L175.6,312.2 L175.9,311.9 L176.2,311.6 L176.4,311.3 L176.7,311.0 L177.0,310.7 L177.3,310.4 L177.5,310.1 L177.8,309.8 L178.1,309.5 L178.4,309.2 L178.7,308.9 L178.9,308.6 L179.2,308.3 L179.5,308.0 L179.8,307.7 L180.1,307.4 L180.4,307.1 L180.7,306.7 L181.0,306.4 L181.3,306.1 L181.6,305.8 L181.9,305.5 L182.2,305.2 L182.5,304.9 L182.8,304.6 L183.1,304.4 L183.4,304.1 L183.8,303.8 L184.1,303.5 L184.4,303.2 L184.8,302.9 L185.1,302.6 L185.5,302.3 L185.8,302.0 L186.1,301.7 L186.4,301.5 L186.7,301.2 L187.0,301.0 L187.3,300.8 L187.7,300.5 L188.1,300.2 L188.5,299.9 L188.8,299.7 L189.1,299.5 L189.6,299.3 L190.0,299.1 L190.3,298.9 L190.7,298.7 L191.2,298.5 L191.5,298.3 L192.1,298.1 L192.4,298.0 L192.9,297.8 L193.3,297.7 L193.8,297.5 L194.2,297.5 L194.5,297.6 L195.1,297.7 L195.4,297.8 L196.0,298.0 L196.3,298.1 L196.9,298.4 L197.2,298.5 L197.8,298.7 L198.1,298.8 L198.5,299.0 L198.7,299.3 L198.9,299.9 L199.1,300.2 L199.3,300.8 L199.4,301.1 L199.6,301.6 L199.7,302.0 L199.9,302.5 L200.0,302.9 L200.2,303.4 L200.3,303.8 L200.5,304.4 L200.5,304.5 L200.4,305.0 L200.2,305.6 L200.1,305.9 L199.9,306.3 L199.7,306.8 L199.6,307.1 L199.3,307.6 L199.1,308.0 L198.9,308.3 L198.7,308.7 L198.4,309.2 L198.2,309.5 L198.0,309.8 L197.7,310.1 L197.5,310.4 L197.2,310.7 L196.9,311.1 L196.6,311.4 L196.3,311.7 L196.0,312.0 L195.7,312.2 L195.4,312.5 L195.0,312.8 L194.6,313.1 L194.2,313.4 L193.9,313.7 L193.6,313.9 L193.3,314.1 L193.0,314.4 L192.7,314.6 L192.3,314.9 L191.9,315.2 L191.5,315.5 L191.2,315.8 L190.9,315.9 L190.6,316.1 L190.2,316.4 L189.7,316.7 L189.4,316.9 L189.1,317.0 L188.7,317.3 L188.2,317.6 L187.9,317.8 L187.6,317.9 L187.2,318.2 L186.7,318.5 L186.4,318.7 L186.1,318.8 L185.6,319.1 L185.2,319.4 L184.9,319.5 L184.6,319.7 L184.1,320.0 L183.7,320.2 L183.4,320.4 L183.1,320.6 L182.5,320.9 L182.2,321.1 L181.9,321.3 L181.5,321.5 L181.0,321.8 L180.7,322.0 L180.4,322.2 L180.1,322.4 L179.8,322.7 L179.4,323.0 L179.0,323.3 L178.6,323.6 L178.3,323.8 L178.0,324.0 L177.7,324.3 L177.4,324.5 L177.0,324.8 L176.6,325.1 L176.2,325.4 L175.9,325.7 L175.6,325.9 L175.3,326.1 L175.0,326.4 L174.7,326.6 L174.3,326.9 L174.0,327.2 L173.6,327.5 L173.2,327.8 L172.9,328.0 L172.6,328.3 L172.3,328.5 L172.0,328.8 L171.7,329.0 L171.4,329.3 L171.0,329.6 L170.6,329.9 L170.3,330.2 L169.9,330.5 L169.6,330.8 L169.3,331.0 L169.0,331.3 L168.7,331.5 L168.4,331.8 L168.1,332.0 L167.8,332.3 L167.4,332.6 L167.1,332.9 L166.7,333.2 L166.4,333.5 L166.0,333.8 L165.7,334.1 L165.4,334.4 L165.1,334.6 L164.8,334.9 L164.5,335.1 L164.2,335.4 L163.9,335.7 L163.6,336.0 L163.3,336.2 L163.0,336.5 L162.7,336.8 L162.4,337.1 L162.0,337.4 L161.7,337.7 L161.4,338.0 L161.1,338.3 L160.8,338.6 L160.4,338.9 L160.1,339.2 L159.8,339.5 L159.5,339.8 L159.2,340.1 L158.9,340.4 L158.6,340.7 L158.3,341.0 L158.0,341.3 L157.6,341.6 L157.3,341.9 L157.0,342.2 L156.7,342.5 L156.4,342.8 L156.1,343.1 L155.8,343.4 L155.5,343.7 L155.2,344.0 L154.9,344.3 L154.6,344.6 L154.3,344.9 L154.0,345.2 L153.7,345.5 L153.5,345.8 L153.2,346.1 L152.9,346.4 L152.6,346.7 L152.3,347.0 L152.0,347.3 L151.7,347.6 L151.4,347.9 L151.1,348.2 L150.9,348.5 L150.6,348.8 L150.3,349.1 L150.0,349.4 L149.7,349.7 L149.4,350.0 L149.2,350.3 L148.9,350.6 L148.6,350.9 L148.3,351.2 L148.0,351.5 L147.7,351.8 L147.4,352.1 L147.1,352.5 L146.8,352.8 L146.5,353.1 L146.2,353.4 L145.9,353.7 L145.6,354.0 L145.3,354.3 L145.0,354.6 L144.7,354.9 L144.4,355.2 L144.1,355.5 L143.8,355.8 L143.5,356.1 L143.2,356.4 L142.9,356.7 L142.6,357.0 L142.3,357.3 L142.0,357.6 L141.7,357.9 L141.4,358.1 L141.1,358.4 L140.8,358.7 L140.5,359.0 L140.1,359.3 L139.8,359.6 L139.5,359.9 L139.1,360.2 L138.8,360.5 L138.5,360.8 L138.1,361.1 L137.8,361.4 L137.5,361.7 L137.2,361.9 L136.9,362.2 L136.6,362.4 L136.3,362.7 L136.0,362.9 L135.7,363.2 L135.3,363.5 L135.0,363.8 L134.6,364.1 L134.2,364.4 L133.9,364.7 L133.6,364.9 L133.3,365.1 L133.0,365.4 L132.7,365.6 L132.3,365.9 L132.0,366.2 L131.6,366.5 L131.2,366.8 L130.9,367.0 L130.6,367.2 L130.3,367.5 L130.0,367.7 L129.6,368.0 L129.2,368.3 L128.8,368.6 L128.5,368.8 L128.2,369.1 L127.9,369.3 L127.6,369.5 L127.2,369.8 L126.9,370.1 L126.5,370.4 L126.1,370.7 L125.8,370.9 L125.5,371.2 L125.2,371.4 L124.9,371.6 L124.5,371.9 L124.2,372.2 L123.8,372.5 L123.4,372.8 L123.1,373.0 L122.8,373.2 L122.5,373.5 L122.2,373.7 L121.8,374.0 L121.4,374.3 L121.0,374.6 L120.7,374.8 L120.4,375.0 L120.1,375.2 L119.7,375.5 L119.3,375.8 L118.9,376.1 L118.6,376.3 L118.3,376.5 L118.0,376.8 L117.7,377.0 L117.2,377.3 L116.8,377.6 L116.5,377.8 L116.2,378.0 L115.9,378.3 L115.6,378.5 L115.1,378.8 L114.7,379.1 L114.4,379.3 L114.1,379.5 L113.5,379.7 L113.2,379.8 L112.6,379.9 L112.3,380.0 L111.7,380.2 L111.4,380.3 L110.8,380.5 L110.4,380.6 L109.9,380.7 L109.3,380.9 L109.0,381.0 L108.4,381.1 L108.1,381.2 L107.5,381.4 L107.1,381.5 L106.6,381.6 L106.0,381.7 L105.4,381.8 L104.8,381.8 L104.5,381.8 L104.5,381.8"/>
<path d="M113.8,373.7 L113.2,373.9 L112.6,373.7 L112.9,373.1 L113.0,372.8 L113.2,372.4 L113.4,371.9 L113.5,371.6 L113.8,371.0 L114.0,370.7 L114.1,370.4 L114.4,369.8 L114.5,369.5 L114.7,369.1 L114.9,368.6 L115.1,368.3 L115.3,367.8 L115.5,367.4 L115.7,367.1 L115.9,366.6 L116.2,366.2 L116.4,365.9 L116.7,365.6 L116.9,365.3 L117.2,365.0 L117.5,364.7 L117.8,364.4 L118.0,364.1 L118.3,363.8 L118.6,363.5 L118.9,363.1 L119.2,362.8 L119.5,362.5 L119.8,362.1 L120.1,361.8 L120.4,361.5 L120.7,361.2 L121.0,360.8 L121.3,360.5 L121.6,360.2 L121.8,359.9 L122.1,359.6 L122.4,359.3 L122.6,359.0 L122.9,358.7 L123.2,358.4 L123.5,358.1 L123.8,357.8 L124.0,357.5 L124.3,357.2 L124.6,356.9 L124.9,356.6 L125.2,356.3 L125.5,356.0 L125.8,355.7 L126.1,355.4 L126.4,355.1 L126.7,354.8 L127.0,354.5 L127.3,354.2 L127.6,353.9 L128.0,353.6 L128.3,353.3 L128.6,353.0 L128.9,352.7 L129.3,352.4 L129.6,352.1 L129.9,351.8 L130.3,351.5 L130.6,351.2 L130.9,350.9 L131.2,350.7 L131.5,350.4 L131.8,350.2 L132.1,349.9 L132.4,349.7 L132.7,349.4 L133.1,349.1 L133.4,348.8 L133.8,348.5 L134.2,348.2 L134.5,347.9 L134.8,347.7 L135.1,347.4 L135.4,347.2 L135.7,347.0 L136.1,346.7 L136.5,346.4 L136.9,346.1 L137.2,345.8 L137.5,345.6 L137.8,345.4 L138.1,345.2 L138.5,344.9 L138.9,344.6 L139.3,344.3 L139.6,344.1 L139.9,343.9 L140.2,343.7 L140.6,343.4 L141.0,343.1 L141.4,342.9 L141.7,342.6 L142.0,342.4 L142.4,342.2 L142.8,341.9 L143.2,341.6 L143.5,341.4 L143.8,341.2 L144.1,341.0 L144.6,340.7 L145.0,340.4 L145.3,340.2 L145.6,340.0 L145.9,339.8 L146.3,339.5 L146.7,339.2 L147.1,338.9 L147.4,338.7 L147.7,338.4 L148.0,338.2 L148.3,338.0 L148.7,337.7 L149.1,337.4 L149.5,337.1 L149.8,336.8 L150.1,336.6 L150.4,336.4 L150.7,336.1 L151.0,335.9 L151.3,335.6 L151.7,335.3 L152.1,335.0 L152.4,334.7 L152.8,334.4 L153.1,334.1 L153.4,333.9 L153.7,333.6 L154.0,333.3 L154.3,333.1 L154.6,332.8 L154.9,332.6 L155.2,332.3 L155.6,332.0 L155.9,331.7 L156.3,331.4 L156.6,331.1 L156.9,330.8 L157.2,330.5 L157.6,330.2 L157.9,329.9 L158.2,329.7 L158.5,329.4 L158.8,329.2 L159.1,328.9 L159.4,328.6 L159.7,328.3 L160.0,328.1 L160.3,327.8 L160.6,327.5 L160.9,327.2 L161.3,326.9 L161.6,326.6 L162.0,326.3 L162.3,326.0 L162.6,325.7 L163.0,325.4 L163.3,325.1 L163.6,324.8 L163.9,324.6 L164.2,324.4 L164.5,324.1 L164.8,323.8 L165.1,323.6 L165.4,323.3 L165.7,323.0 L166.1,322.7 L166.5,322.4 L166.8,322.1 L167.1,321.8 L167.5,321.5 L167.8,321.2 L168.1,321.0 L168.4,320.7 L168.7,320.5 L169.0,320.2 L169.3,319.9 L169.6,319.6 L169.9,319.4 L170.2,319.1 L170.6,318.8 L170.9,318.5 L171.3,318.2 L171.6,317.9 L171.9,317.6 L172.3,317.3 L172.6,317.0 L172.9,316.8 L173.2,316.5 L173.5,316.2 L173.8,316.0 L174.1,315.7 L174.4,315.4 L174.7,315.2 L175.0,314.9 L175.3,314.6 L175.6,314.3 L175.9,314.0 L176.2,313.7 L176.5,313.3 L176.8,313.0 L177.1,312.7 L177.4,312.4 L177.7,312.1 L178.0,311.8 L178.3,311.5 L178.6,311.1 L178.9,310.8 L179.2,310.5 L179.5,310.2 L179.8,309.9 L180.1,309.6 L180.4,309.3 L180.7,309.0 L181.0,308.7 L181.3,308.4 L181.6,308.1 L181.9,307.8 L182.2,307.5 L182.5,307.2 L182.8,306.9 L183.1,306.6 L183.4,306.3 L183.7,306.0 L184.0,305.8 L184.3,305.5 L184.6,305.3 L184.9,305.0 L185.3,304.7 L185.6,304.4 L186.0,304.1 L186.3,303.8 L186.7,303.5 L187.0,303.2 L187.3,303.0 L187.6,302.8 L187.9,302.5 L188.2,302.3 L188.6,302.0 L189.1,301.7 L189.4,301.5 L189.7,301.3 L190.1,301.1 L190.6,300.9 L191.2,300.9 L191.8,300.9 L192.4,301.0 L193.0,301.0 L193.6,301.1 L193.9,301.1 L194.5,301.3 L195.1,301.4 L195.4,301.5 L195.9,301.7 L196.0,302.2 L196.1,302.6 L196.2,303.2 L196.3,303.5 L196.4,304.1 L196.5,304.7 L196.6,305.3 L196.6,305.9 L196.6,306.5 L196.6,307.1 L196.5,307.7 L196.3,308.2 L196.0,308.6 L195.8,308.9 L195.6,309.2 L195.3,309.5 L195.0,309.8 L194.8,310.1 L194.4,310.4 L194.1,310.7 L193.8,311.0 L193.4,311.3 L193.1,311.6 L192.7,311.9 L192.4,312.2 L192.1,312.4 L191.8,312.7 L191.5,312.9 L191.2,313.1 L190.9,313.4 L190.5,313.7 L190.1,314.0 L189.7,314.3 L189.4,314.5 L189.1,314.7 L188.8,314.9 L188.3,315.2 L187.9,315.5 L187.6,315.7 L187.3,315.9 L186.9,316.1 L186.5,316.4 L186.1,316.6 L185.8,316.8 L185.5,317.0 L185.0,317.3 L184.6,317.6 L184.3,317.7 L184.0,317.9 L183.5,318.2 L183.1,318.5 L182.8,318.7 L182.5,318.8 L182.1,319.1 L181.6,319.4 L181.3,319.6 L181.0,319.8 L180.6,320.0 L180.1,320.3 L179.8,320.5 L179.5,320.7 L179.2,320.9 L178.8,321.2 L178.4,321.5 L178.0,321.8 L177.7,322.0 L177.4,322.3 L177.1,322.5 L176.8,322.7 L176.4,323.0 L176.0,323.3 L175.6,323.6 L175.3,323.9 L175.0,324.1 L174.7,324.3 L174.4,324.6 L174.1,324.8 L173.7,325.1 L173.3,325.4 L173.0,325.7 L172.6,326.0 L172.3,326.2 L172.0,326.4 L171.7,326.7 L171.4,326.9 L171.1,327.2 L170.7,327.5 L170.3,327.8 L170.0,328.1 L169.6,328.4 L169.3,328.7 L169.0,328.9 L168.7,329.1 L168.4,329.4 L168.1,329.6 L167.8,329.9 L167.5,330.2 L167.1,330.5 L166.7,330.8 L166.4,331.1 L166.1,331.4 L165.7,331.7 L165.4,332.0 L165.1,332.3 L164.8,332.5 L164.5,332.7 L164.2,333.0 L163.9,333.3 L163.6,333.6 L163.3,333.9 L163.0,334.1 L162.7,334.4 L162.4,334.7 L162.1,335.0 L161.7,335.3 L161.4,335.6 L161.1,335.9 L160.8,336.2 L160.5,336.5 L160.1,336.8 L159.8,337.1 L159.5,337.4 L159.2,337.7 L158.9,338.0 L158.6,338.3 L158.3,338.6 L158.0,338.9 L157.7,339.2 L157.4,339.5 L157.1,339.8 L156.8,340.1 L156.5,340.4 L156.2,340.7 L155.9,341.0 L155.6,341.3 L155.3,341.6 L155.0,341.9 L154.7,342.2 L154.4,342.5 L154.2,342.8 L153.9,343.1 L153.6,343.4 L153.3,343.7 L153.0,344.0 L152.8,344.3 L152.5,344.6 L152.2,344.9 L151.9,345.2 L151.6,345.6 L151.3,345.9 L151.0,346.2 L150.7,346.6 L150.4,346.9 L150.1,347.3 L149.8,347.6 L149.5,347.9 L149.3,348.2 L149.0,348.5 L148.8,348.8 L148.5,349.1 L148.2,349.4 L148.0,349.7 L147.7,350.0 L147.4,350.3 L147.1,350.7 L146.8,351.0 L146.5,351.3 L146.2,351.7 L145.9,352.0 L145.6,352.3 L145.3,352.6 L145.0,353.0 L144.7,353.3 L144.4,353.6 L144.1,353.9 L143.8,354.2 L143.5,354.5 L143.2,354.8 L142.9,355.1 L142.6,355.4 L142.3,355.7 L142.0,356.0 L141.7,356.3 L141.4,356.6 L141.1,356.9 L140.8,357.1 L140.5,357.4 L140.2,357.7 L139.9,358.0 L139.6,358.2 L139.3,358.5 L139.0,358.8 L138.7,359.1 L138.4,359.3 L138.1,359.6 L137.8,359.9 L137.4,360.2 L137.1,360.5 L136.7,360.8 L136.4,361.1 L136.0,361.4 L135.7,361.7 L135.4,361.9 L135.1,362.2 L134.8,362.4 L134.5,362.6 L134.2,362.9 L133.8,363.2 L133.4,363.5 L133.0,363.8 L132.7,364.0 L132.4,364.3 L132.1,364.5 L131.8,364.7 L131.4,365.0 L131.0,365.3 L130.6,365.6 L130.3,365.8 L130.0,366.0 L129.7,366.2 L129.3,366.5 L128.9,366.8 L128.5,367.1 L128.2,367.3 L127.9,367.5 L127.5,367.7 L127.1,368.0 L126.7,368.3 L126.4,368.5 L126.1,368.7 L125.8,368.9 L125.3,369.2 L124.9,369.5 L124.6,369.7 L124.3,369.9 L124.0,370.1 L123.6,370.4 L123.1,370.7 L122.8,370.9 L122.5,371.1 L122.2,371.3 L121.8,371.6 L121.3,371.9 L121.0,372.0 L120.4,372.2 L120.1,372.3 L119.5,372.4 L119.2,372.5 L118.6,372.7 L118.0,372.8 L117.7,372.9 L117.1,373.0 L116.7,373.1 L116.2,373.2 L115.6,373.3 L115.3,373.4 L114.7,373.5 L114.1,373.7 L113.8,373.7 L113.8,373.7"/>
<path d="M190.3,306.6 L190.3,306.4 L190.3,306.6 L190.3,306.6"/>
<path d="M182.5,313.1 L182.2,313.1 L182.4,312.8 L182.7,312.5 L183.0,312.2 L183.2,311.9 L183.5,311.6 L183.8,311.3 L184.1,311.0 L184.4,310.7 L184.7,310.4 L185.0,310.1 L185.3,309.8 L185.7,309.5 L186.0,309.2 L186.4,308.9 L186.7,308.7 L187.0,308.4 L187.3,308.2 L187.6,308.0 L188.1,307.7 L188.5,307.4 L188.8,307.2 L189.1,307.0 L189.5,306.8 L190.0,306.5 L190.0,307.1 L189.7,307.4 L189.5,307.7 L189.2,308.0 L189.0,308.3 L188.7,308.6 L188.4,308.9 L188.1,309.2 L187.8,309.5 L187.5,309.8 L187.1,310.1 L186.8,310.4 L186.4,310.7 L186.1,310.9 L185.8,311.1 L185.5,311.4 L185.1,311.6 L184.7,311.9 L184.3,312.1 L184.0,312.3 L183.6,312.5 L183.1,312.8 L182.8,312.9 L182.5,313.1 L182.5,313.1"/>
<path d="M150.7,340.5 L150.7,340.4 L150.7,340.5 L150.7,340.5"/>
<path d="M123.4,366.5 L122.8,366.6 L122.2,366.6 L121.6,366.7 L121.0,366.7 L120.8,366.2 L121.0,365.6 L121.1,365.3 L121.3,364.7 L121.4,364.4 L121.6,363.8 L121.7,363.5 L121.9,363.0 L122.0,362.6 L122.2,362.2 L122.4,361.7 L122.6,361.4 L122.8,360.9 L123.0,360.5 L123.3,360.2 L123.5,359.9 L123.7,359.6 L124.0,359.3 L124.3,358.9 L124.6,358.6 L124.9,358.3 L125.2,357.9 L125.5,357.6 L125.8,357.3 L126.1,356.9 L126.4,356.6 L126.7,356.3 L127.0,356.0 L127.3,355.7 L127.5,355.4 L127.8,355.1 L128.1,354.8 L128.4,354.5 L128.7,354.2 L129.0,353.9 L129.3,353.6 L129.7,353.3 L130.0,353.0 L130.3,352.7 L130.6,352.4 L130.9,352.2 L131.2,351.9 L131.5,351.6 L131.8,351.4 L132.1,351.1 L132.4,350.8 L132.7,350.6 L133.0,350.3 L133.4,350.0 L133.7,349.7 L134.1,349.4 L134.5,349.1 L134.8,348.9 L135.1,348.6 L135.4,348.4 L135.7,348.2 L136.0,347.9 L136.4,347.6 L136.9,347.3 L137.2,347.1 L137.5,346.8 L137.8,346.6 L138.1,346.4 L138.6,346.1 L139.0,345.8 L139.3,345.6 L139.6,345.4 L139.9,345.2 L140.3,344.9 L140.8,344.6 L141.1,344.4 L141.4,344.2 L141.7,344.0 L142.2,343.7 L142.6,343.4 L142.9,343.3 L143.2,343.1 L143.7,342.8 L144.1,342.7 L144.6,342.5 L145.0,342.3 L145.4,342.2 L145.9,342.0 L146.3,341.9 L146.8,341.7 L147.2,341.6 L147.7,341.4 L148.1,341.3 L148.6,341.1 L148.9,341.0 L149.5,340.8 L149.8,340.7 L150.4,340.5 L150.5,341.0 L150.4,341.3 L150.1,341.9 L150.0,342.2 L149.8,342.6 L149.6,343.1 L149.5,343.4 L149.3,344.0 L149.1,344.3 L148.9,344.9 L148.8,345.2 L148.6,345.6 L148.4,346.1 L148.3,346.4 L148.0,347.0 L147.9,347.3 L147.7,347.7 L147.4,348.1 L147.1,348.5 L146.9,348.8 L146.6,349.1 L146.4,349.4 L146.1,349.7 L145.9,350.0 L145.6,350.3 L145.3,350.7 L145.0,351.0 L144.7,351.4 L144.4,351.7 L144.1,352.1 L143.8,352.4 L143.5,352.7 L143.3,353.0 L143.0,353.3 L142.7,353.6 L142.4,353.9 L142.2,354.2 L141.9,354.5 L141.6,354.8 L141.3,355.1 L141.0,355.4 L140.7,355.7 L140.4,356.0 L140.1,356.3 L139.7,356.6 L139.4,356.9 L139.1,357.2 L138.8,357.5 L138.4,357.8 L138.1,358.1 L137.8,358.4 L137.5,358.6 L137.2,358.9 L136.9,359.1 L136.6,359.4 L136.3,359.7 L136.0,359.9 L135.6,360.2 L135.3,360.5 L134.9,360.8 L134.5,361.1 L134.2,361.3 L133.9,361.5 L133.6,361.8 L133.3,362.0 L132.9,362.3 L132.4,362.6 L132.1,362.8 L131.8,363.1 L131.5,363.3 L131.1,363.5 L130.7,363.8 L130.3,364.1 L130.0,364.3 L129.7,364.5 L129.3,364.7 L128.9,365.0 L128.5,365.2 L128.2,365.4 L127.9,365.6 L127.3,365.8 L126.9,365.9 L126.4,366.0 L125.8,366.1 L125.5,366.2 L124.9,366.3 L124.3,366.4 L123.7,366.5 L123.4,366.5 L123.4,366.5"/>
<path d="M128.8,361.8 L128.2,361.9 L127.6,361.9 L127.0,362.0 L126.4,362.0 L126.1,361.7 L126.1,361.4 L126.3,360.8 L126.4,360.5 L126.6,359.9 L126.7,359.6 L127.0,359.0 L127.1,358.7 L127.3,358.4 L127.6,357.8 L127.8,357.5 L127.9,357.2 L128.2,356.8 L128.5,356.3 L128.7,356.0 L128.9,355.7 L129.2,355.4 L129.4,355.1 L129.7,354.8 L130.0,354.4 L130.3,354.1 L130.6,353.8 L130.9,353.5 L131.2,353.2 L131.5,353.0 L131.8,352.7 L132.1,352.4 L132.5,352.1 L132.8,351.8 L133.2,351.5 L133.5,351.2 L133.9,350.9 L134.2,350.6 L134.5,350.4 L134.8,350.1 L135.1,349.9 L135.4,349.7 L135.8,349.4 L136.2,349.1 L136.6,348.8 L136.9,348.6 L137.2,348.4 L137.6,348.2 L138.1,347.9 L138.4,347.8 L138.8,347.6 L139.3,347.4 L139.6,347.3 L140.2,347.0 L140.5,346.9 L141.1,346.7 L141.4,346.7 L142.0,346.5 L142.4,346.4 L142.9,346.3 L143.5,346.2 L144.1,346.4 L144.0,347.0 L143.8,347.6 L143.7,347.9 L143.6,348.5 L143.5,348.8 L143.2,349.4 L143.1,349.7 L142.9,350.2 L142.7,350.6 L142.6,350.9 L142.3,351.4 L142.1,351.8 L141.9,352.1 L141.7,352.5 L141.4,352.9 L141.1,353.3 L140.9,353.6 L140.6,353.9 L140.4,354.2 L140.1,354.5 L139.8,354.8 L139.5,355.1 L139.2,355.4 L138.9,355.7 L138.6,356.0 L138.2,356.3 L137.9,356.6 L137.6,356.9 L137.2,357.2 L136.9,357.5 L136.6,357.8 L136.3,358.0 L136.0,358.3 L135.7,358.5 L135.4,358.7 L135.1,359.0 L134.7,359.3 L134.3,359.6 L133.9,359.8 L133.6,360.0 L133.2,360.2 L132.7,360.5 L132.4,360.6 L132.0,360.8 L131.5,361.0 L131.2,361.1 L130.6,361.3 L130.3,361.4 L129.7,361.6 L129.1,361.7 L128.8,361.8 L128.8,361.8"/>
<path d="M90.0,329.0 L90.8,328.0 L92.0,327.1 L93.4,326.4 L94.9,325.7 L96.5,325.0 L98.0,324.2 L99.4,323.3 L100.9,322.3 L102.5,321.3 L104.0,320.3 L105.4,319.3 L106.7,318.4 L107.9,317.6 L109.0,316.8 L110.1,316.1 L111.1,315.4 L112.0,314.7 L113.0,314.0 L114.0,313.3 L115.0,312.7 L116.0,312.1 L116.9,311.4 L117.7,310.5 L118.4,309.4 L118.8,308.0 L119.1,306.3 L119.2,304.5 L119.3,302.6 L119.6,300.7 L120.1,299.0 L120.8,297.4 L121.7,295.8 L122.8,294.3 L123.9,292.8 L125.1,291.4 L126.3,290.1 L127.6,288.9 L129.1,287.7 L130.7,286.6 L132.2,285.6 L133.7,284.7 L135.0,284.0 L136.2,283.5 L137.3,283.1 L138.3,282.8 L139.3,282.7 L140.3,282.7 L141.2,282.7 L142.2,282.8 L143.1,283.1 L144.0,283.4 L144.9,283.9 L145.7,284.4 L146.4,284.9 L147.0,285.5 L147.4,286.2 L147.8,286.9 L148.1,287.7 L148.4,288.5 L148.6,289.3 L148.7,290.3 L148.7,291.4 L148.6,292.6 L148.5,293.7 L148.6,294.5 L148.8,295.0 L149.2,295.0 L149.6,294.6 L150.2,294.0 L150.9,293.3 L151.6,292.5 L152.5,291.9 L153.6,291.4 L154.8,290.8 L156.2,290.3 L157.5,289.7 L158.9,289.2 L160.0,288.8 L161.0,288.5 L161.8,288.2 L162.6,288.0 L163.4,287.8 L164.1,287.5 L165.0,287.0 L165.9,286.4 L166.9,285.7 L167.9,284.9 L168.9,284.0 L169.9,283.1 L170.8,282.1 L171.7,281.0 L172.6,279.8 L173.4,278.6 L174.3,277.3 L175.1,276.1 L176.0,275.1 L176.9,274.2 L177.7,273.4 L178.5,272.7 L179.4,272.0 L180.3,271.4 L181.3,270.8 L182.3,270.2 L183.4,269.7 L184.6,269.2 L185.8,268.8 L187.0,268.4 L188.3,268.1 L189.7,267.8 L191.2,267.6 L192.7,267.4 L194.2,267.2 L195.7,267.2 L197.0,267.3 L198.2,267.5 L199.3,267.8 L200.3,268.3 L201.3,268.8 L202.2,269.3 L203.2,269.9 L204.1,270.6 L205.0,271.4 L205.8,272.2 L206.7,273.1 L207.6,273.9 L208.5,274.5 L209.5,275.0 L210.6,275.3 L211.7,275.6 L212.8,275.8 L213.9,276.1 L215.0,276.4 L216.1,276.8 L217.3,277.1 L218.5,277.4 L219.5,277.8 L220.4,278.4 L221.0,279.0 L221.3,279.8 L221.2,280.8 L221.0,281.9 L220.7,283.0 L220.4,284.1 L220.1,285.1 L219.8,286.1 L219.5,287.0 L219.1,287.9 L218.9,288.8 L218.7,289.6 L218.8,290.4 L219.1,291.1 L219.6,291.6 L220.2,292.1 L220.9,292.7 L221.8,293.2 L222.8,293.9 L224.0,294.7 L225.4,295.5 L227.0,296.4 L228.6,297.4 L230.1,298.3 L231.5,299.2 L232.7,300.1 L234.0,300.9 L235.1,301.8 L236.1,302.6 L237.0,303.5 L237.7,304.4 L238.2,305.4 L238.5,306.4 L238.7,307.4 L238.8,308.5 L238.7,309.5 L238.5,310.5 L238.2,311.4 L237.7,312.3 L237.2,313.2 L236.5,314.1 L235.8,314.9 L235.0,315.8 L234.1,316.7 L233.2,317.5 L232.2,318.4 L231.1,319.2 L230.0,320.1 L228.9,321.0 L227.7,321.9 L226.4,322.8 L225.0,323.7 L223.8,324.6 L222.7,325.6 L222.0,326.5 L221.7,327.4 L221.8,328.3 L222.1,329.2 L222.4,330.1 L222.6,331.2 L222.4,332.5 L221.8,334.0 L220.8,335.7 L219.7,337.6 L218.6,339.5 L217.6,341.3 L217.1,343.0 L217.0,344.6 L217.3,346.1 L217.7,347.6 L218.2,349.1 L218.7,350.5 L218.9,351.8 L219.0,353.1 L219.0,354.3 L218.9,355.5 L218.8,356.7 L218.5,357.8 L218.0,358.8 L217.3,359.8 L216.5,360.7 L215.4,361.6 L214.3,362.5 L213.1,363.3 L211.9,364.0 L210.6,364.7 L209.2,365.3 L207.7,365.9 L206.1,366.4 L204.6,366.9 L203.1,367.5 L201.6,368.1 L200.1,368.6 L198.7,369.1 L197.2,369.7 L195.8,370.3 L194.4,371.0 L193.1,371.8 L191.8,372.8 L190.5,373.8 L189.3,374.8 L188.1,375.7 L187.0,376.5 L186.0,377.1 L185.0,377.6 L184.1,378.1 L183.2,378.5 L182.2,379.0 L181.1,379.6 L179.9,380.3 L178.6,381.2 L177.2,382.1 L175.8,383.0 L174.4,383.9 L172.9,384.7 L171.4,385.4 L169.9,386.1 L168.3,386.8 L166.7,387.5 L165.2,388.1 L163.7,388.8 L162.3,389.5 L161.0,390.2 L159.7,390.9 L158.3,391.6 L157.0,392.3 L155.5,392.9 L153.9,393.5 L152.2,394.0 L150.4,394.5 L148.6,395.0 L146.9,395.5 L145.3,396.0 L143.8,396.5 L142.5,397.1 L141.2,397.6 L139.9,398.1 L138.6,398.6 L137.2,399.0 L135.7,399.3 L134.2,399.7 L132.6,399.9 L131.0,400.1 L129.5,400.3 L128.0,400.5 L126.7,400.6 L125.5,400.7 L124.4,400.7 L123.3,400.7 L121.9,400.8 L120.4,400.9 L118.6,401.0 L116.5,401.2 L114.3,401.4 L112.0,401.6 L109.7,401.9 L107.6,402.1 L105.6,402.4 L103.6,402.8 L101.6,403.1 L99.7,403.5 L97.8,403.7 L95.9,403.8 L94.0,403.8 L92.1,403.7 L90.3,403.5 L88.5,403.2 L86.8,402.7 L85.4,402.1 L84.2,401.3 L83.1,400.2 L82.1,399.1 L81.3,397.8 L80.7,396.5 L80.1,395.1 L79.8,393.7 L79.7,392.2 L79.7,390.6 L79.7,389.0 L79.7,387.4 L79.5,385.7 L79.0,384.0 L78.4,382.3 L77.7,380.6 L77.0,378.8 L76.4,377.0 L76.0,375.2 L75.8,373.3 L75.8,371.3 L75.9,369.3 L76.0,367.4 L76.1,365.4 L76.0,363.5 L75.6,361.7 L75.0,359.8 L74.3,358.0 L73.8,356.3 L73.5,354.6 L73.7,353.0 L74.4,351.5 L75.6,350.1 L77.1,348.7 L78.7,347.4 L80.3,346.2 L81.9,344.9 L83.5,343.7 L85.3,342.5 L87.1,341.4 L88.8,340.3 L90.2,339.1 L91.2,337.8 L91.5,336.4 L91.2,334.8 L90.7,333.3 L90.1,331.7 L89.8,330.3Z"/>
<path d="M101.7,330.8 L103.1,329.1 L104.9,327.4 L106.9,325.7 L109.1,323.9 L111.2,322.3 L113.1,320.8 L114.9,319.5 L116.7,318.3 L118.4,317.2 L120.1,316.2 L121.6,315.0 L122.8,313.8 L123.8,312.4 L124.5,311.0 L125.0,309.5 L125.4,308.0 L125.8,306.5 L126.3,305.0 L126.7,303.5 L127.1,302.0 L127.4,300.5 L127.8,299.0 L128.3,297.6 L128.9,296.3 L129.7,295.1 L130.8,294.0 L131.9,292.9 L133.0,291.9 L134.1,291.2 L135.0,290.6 L135.8,290.3 L136.4,290.2 L137.0,290.2 L137.6,290.4 L138.0,290.7 L138.5,291.0 L138.9,291.4 L139.2,291.8 L139.5,292.4 L139.8,293.0 L140.0,293.7 L140.3,294.5 L140.5,295.4 L140.7,296.5 L140.9,297.6 L141.1,298.7 L141.5,299.8 L142.0,300.6 L142.8,301.3 L143.7,301.9 L144.8,302.4 L145.9,302.8 L147.1,303.1 L148.2,303.3 L149.3,303.4 L150.3,303.4 L151.4,303.2 L152.6,303.0 L153.7,302.7 L155.0,302.3 L156.4,301.8 L157.8,301.1 L159.3,300.4 L160.8,299.6 L162.3,298.8 L163.8,297.9 L165.3,297.0 L166.7,296.0 L168.2,295.0 L169.6,293.9 L171.0,292.8 L172.5,291.8 L174.0,290.8 L175.4,289.8 L176.9,288.8 L178.4,287.8 L179.8,286.7 L181.3,285.6 L182.8,284.3 L184.3,282.9 L185.8,281.4 L187.2,280.0 L188.6,278.8 L190.0,277.8 L191.3,277.1 L192.5,276.5 L193.7,276.1 L194.9,275.8 L196.0,275.7 L197.0,275.6 L198.0,275.6 L198.9,275.8 L199.8,276.1 L200.6,276.5 L201.4,276.9 L202.3,277.3 L203.2,277.8 L204.1,278.3 L205.0,278.9 L205.8,279.4 L206.7,280.0 L207.5,280.4 L208.3,280.7 L209.1,280.9 L209.9,281.0 L210.7,281.2 L211.4,281.5 L212.0,282.0 L212.5,282.8 L213.0,283.7 L213.4,284.8 L213.8,285.9 L214.1,286.9 L214.4,287.8 L214.5,288.5 L214.5,289.1 L214.5,289.6 L214.5,290.2 L214.6,290.7 L214.9,291.3 L215.5,291.9 L216.3,292.6 L217.2,293.3 L218.2,294.0 L219.2,294.8 L220.1,295.6 L221.0,296.5 L222.0,297.5 L222.9,298.5 L223.9,299.6 L224.7,300.7 L225.4,301.8 L226.0,302.9 L226.5,304.1 L226.9,305.3 L227.2,306.5 L227.5,307.7 L227.6,308.8 L227.6,309.9 L227.5,310.9 L227.4,311.9 L227.1,312.9 L226.7,313.9 L226.3,314.9 L225.8,315.9 L225.1,317.0 L224.4,318.0 L223.6,319.0 L222.8,320.0 L221.9,321.0 L221.0,321.9 L220.0,322.8 L218.9,323.6 L217.9,324.4 L216.9,325.2 L216.0,326.0 L215.2,326.7 L214.4,327.3 L213.7,327.9 L213.0,328.5 L212.4,329.2 L211.9,330.0 L211.5,330.9 L211.2,331.9 L211.0,333.0 L210.7,334.2 L210.5,335.5 L210.1,336.9 L209.6,338.5 L208.9,340.4 L208.2,342.4 L207.6,344.4 L207.0,346.4 L206.6,348.3 L206.4,350.2 L206.5,352.1 L206.6,353.9 L206.8,355.7 L206.8,357.4 L206.6,358.8 L206.2,360.0 L205.6,361.0 L204.8,361.8 L204.0,362.5 L203.2,363.2 L202.3,364.0 L201.3,364.8 L200.3,365.7 L199.2,366.5 L198.1,367.3 L197.0,368.0 L196.0,368.5 L195.2,368.8 L194.4,369.0 L193.8,369.1 L193.1,369.1 L192.3,369.2 L191.3,369.4 L190.1,369.7 L188.8,370.1 L187.4,370.6 L185.9,371.1 L184.4,371.6 L183.1,372.0 L181.9,372.4 L180.8,372.7 L179.7,373.0 L178.6,373.4 L177.3,373.9 L176.0,374.5 L174.5,375.3 L173.0,376.3 L171.4,377.4 L169.7,378.5 L167.8,379.6 L165.8,380.7 L163.5,381.7 L160.9,382.8 L158.2,383.9 L155.5,384.9 L152.8,385.9 L150.4,386.8 L148.2,387.6 L146.0,388.4 L144.0,389.1 L142.0,389.7 L140.1,390.3 L138.2,390.9 L136.4,391.4 L134.7,391.8 L133.1,392.2 L131.5,392.6 L129.8,393.0 L128.0,393.5 L126.1,394.1 L124.1,394.8 L122.1,395.5 L120.0,396.2 L117.9,396.8 L115.7,397.4 L113.5,397.9 L111.1,398.4 L108.7,398.9 L106.3,399.2 L104.0,399.5 L101.7,399.7 L99.4,399.8 L97.0,399.8 L94.7,399.8 L92.5,399.6 L90.6,399.2 L88.9,398.6 L87.6,397.7 L86.6,396.5 L85.8,395.1 L85.2,393.6 L84.7,392.0 L84.2,390.4 L83.8,388.8 L83.5,387.1 L83.3,385.3 L83.2,383.5 L83.1,381.7 L83.0,379.9 L82.9,378.2 L82.9,376.5 L82.9,374.9 L82.9,373.2 L82.9,371.4 L83.0,369.4 L83.0,367.2 L83.1,364.7 L83.1,362.2 L83.2,359.7 L83.6,357.4 L84.2,355.4 L85.2,353.8 L86.5,352.6 L87.9,351.5 L89.5,350.6 L91.0,349.6 L92.4,348.4 L93.7,347.1 L95.0,345.8 L96.3,344.4 L97.5,343.1 L98.5,341.6 L99.4,340.2 L100.0,338.7 L100.2,337.2 L100.3,335.6 L100.4,334.0 L100.8,332.4Z"/>
</g>
<rect x="32.5" y="231.5" width="246.8" height="200.0" fill="none" stroke="#777" stroke-width="1"/>
<line x1="36.83" y1="431.50" x2="36.83" y2="433.50" stroke="#777" stroke-width="1"/>
<line x1="45.49" y1="431.50" x2="45.49" y2="433.50" stroke="#777" stroke-width="1"/>
<line x1="54.14" y1="431.50" x2="54.14" y2="433.50" stroke="#777" stroke-width="1"/>
<line x1="62.80" y1="431.50" x2="62.80" y2="434.50" stroke="#777" stroke-width="1"/>
<line x1="71.46" y1="431.50" x2="71.46" y2="433.50" stroke="#777" stroke-width="1"/>
<line x1="80.11" y1="431.50" x2="80.11" y2="433.50" stroke="#777" stroke-width="1"/>
<line x1="88.77" y1="431.50" x2="88.77" y2="433.50" stroke="#777" stroke-width="1"/>
<line x1="97.42" y1="431.50" x2="97.42" y2="433.50" stroke="#777" stroke-width="1"/>
<line x1="106.08" y1="431.50" x2="106.08" y2="434.50" stroke="#777" stroke-width="1"/>
<line x1="114.74" y1="431.50" x2="114.74" y2="433.50" stroke="#777" stroke-width="1"/>
<line x1="123.39" y1="431.50" x2="123.39" y2="433.50" stroke="#777" stroke-width="1"/>
<line x1="132.05" y1="431.50" x2="132.05" y2="433.50" stroke="#777" stroke-width="1"/>
<line x1="140.70" y1="431.50" x2="140.70" y2="433.50" stroke="#777" stroke-width="1"/>
<line x1="149.36" y1="431.50" x2="149.36" y2="434.50" stroke="#777" stroke-width="1"/>
<line x1="158.02" y1="431.50" x2="158.02" y2="433.50" stroke="#777" stroke-width="1"/>
<line x1="166.67" y1="431.50" x2="166.67" y2="433.50" stroke="#777" stroke-width="1"/>
<line x1="175.33" y1="431.50" x2="175.33" y2="433.50" stroke="#777" stroke-width="1"/>
<line x1="183.98" y1="431.50" x2="183.98" y2="433.50" stroke="#777" stroke-width="1"/>
<line x1="192.64" y1="431.50" x2="192.64" y2="434.50" stroke="#777" stroke-width="1"/>
<line x1="201.30" y1="431.50" x2="201.30" y2="433.50" stroke="#777" stroke-width="1"/>
<line x1="209.95" y1="431.50" x2="209.95" y2="433.50" stroke="#777" stroke-width="1"/>
<line x1="218.61" y1="431.50" x2="218.61" y2="433.50" stroke="#777" stroke-width="1"/>
<line x1="227.26" y1="431.50" x2="227.26" y2="433.50" stroke="#777" stroke-width="1"/>
<line x1="235.92" y1="431.50" x2="235.92" y2="434.50" stroke="#777" stroke-width="1"/>
<line x1="244.58" y1="431.50" x2="244.58" y2="433.50" stroke="#777" stroke-width="1"/>
<line x1="253.23" y1="431.50" x2="253.23" y2="433.50" stroke="#777" stroke-width="1"/>
<line x1="261.89" y1="431.50" x2="261.89" y2="433.50" stroke="#777" stroke-width="1"/>
<line x1="270.54" y1="431.50" x2="270.54" y2="433.50" stroke="#777" stroke-width="1"/>
<line x1="279.20" y1="431.50" x2="279.20" y2="434.50" stroke="#777" stroke-width="1"/>
<text x="62.80" y="447.90" font-size="12" fill="#1a1a1a" text-anchor="middle">4.30</text>
<text x="106.08" y="447.90" font-size="12" fill="#1a1a1a" text-anchor="middle">4.29</text>
<text x="149.36" y="447.90" font-size="12" fill="#1a1a1a" text-anchor="middle">4.28</text>
<text x="192.64" y="447.90" font-size="12" fill="#1a1a1a" text-anchor="middle">4.27</text>
<text x="235.92" y="447.90" font-size="12" fill="#1a1a1a" text-anchor="middle">4.26</text>
<text x="279.20" y="447.90" font-size="12" fill="#1a1a1a" text-anchor="middle">4.25</text>
<line x1="279.30" y1="232.32" x2="281.30" y2="232.32" stroke="#777" stroke-width="1"/>
<line x1="279.30" y1="240.14" x2="281.30" y2="240.14" stroke="#777" stroke-width="1"/>
<line x1="279.30" y1="247.96" x2="281.30" y2="247.96" stroke="#777" stroke-width="1"/>
<line x1="279.30" y1="255.78" x2="281.30" y2="255.78" stroke="#777" stroke-width="1"/>
<line x1="279.30" y1="263.60" x2="282.30" y2="263.60" stroke="#777" stroke-width="1"/>
<line x1="279.30" y1="271.42" x2="281.30" y2="271.42" stroke="#777" stroke-width="1"/>
<line x1="279.30" y1="279.24" x2="281.30" y2="279.24" stroke="#777" stroke-width="1"/>
<line x1="279.30" y1="287.06" x2="281.30" y2="287.06" stroke="#777" stroke-width="1"/>
<line x1="279.30" y1="294.88" x2="281.30" y2="294.88" stroke="#777" stroke-width="1"/>
<line x1="279.30" y1="302.70" x2="282.30" y2="302.70" stroke="#777" stroke-width="1"/>
<line x1="279.30" y1="310.52" x2="281.30" y2="310.52" stroke="#777" stroke-width="1"/>
<line x1="279.30" y1="318.34" x2="281.30" y2="318.34" stroke="#777" stroke-width="1"/>
<line x1="279.30" y1="326.16" x2="281.30" y2="326.16" stroke="#777" stroke-width="1"/>
<line x1="279.30" y1="333.98" x2="281.30" y2="333.98" stroke="#777" stroke-width="1"/>
<line x1="279.30" y1="341.80" x2="282.30" y2="341.80" stroke="#777" stroke-width="1"/>
<line x1="279.30" y1="349.62" x2="281.30" y2="349.62" stroke="#777" stroke-width="1"/>
<line x1="279.30" y1="357.44" x2="281.30" y2="357.44" stroke="#777" stroke-width="1"/>
<line x1="279.30" y1="365.26" x2="281.30" y2="365.26" stroke="#777" stroke-width="1"/>
<line x1="279.30" y1="373.08" x2="281.30" y2="373.08" stroke="#777" stroke-width="1"/>
<line x1="279.30" y1="380.90" x2="282.30" y2="380.90" stroke="#777" stroke-width="1"/>
<line x1="279.30" y1="388.72" x2="281.30" y2="388.72" stroke="#777" stroke-width="1"/>
<line x1="279.30" y1="396.54" x2="281.30" y2="396.54" stroke="#777" stroke-width="1"/>
<line x1="279.30" y1="404.36" x2="281.30" y2="404.36" stroke="#777" stroke-width="1"/>
<line x1="279.30" y1="412.18" x2="281.30" y2="412.18" stroke="#777" stroke-width="1"/>
<line x1="279.30" y1="420.00" x2="282.30" y2="420.00" stroke="#777" stroke-width="1"/>
<line x1="279.30" y1="427.82" x2="281.30" y2="427.82" stroke="#777" stroke-width="1"/>
<text x="298.90" y="263.60" font-size="12" fill="#1a1a1a" text-anchor="middle" transform="rotate(-90 298.9 263.6)">4.26</text>
<text x="298.90" y="302.70" font-size="12" fill="#1a1a1a" text-anchor="middle" transform="rotate(-90 298.9 302.6999999999992)">4.27</text>
<text x="298.90" y="341.80" font-size="12" fill="#1a1a1a" text-anchor="middle" transform="rotate(-90 298.9 341.79999999999836)">4.28</text>
<text x="298.90" y="380.90" font-size="12" fill="#1a1a1a" text-anchor="middle" transform="rotate(-90 298.9 380.900000000001)">4.29</text>
<text x="298.90" y="420.00" font-size="12" fill="#1a1a1a" text-anchor="middle" transform="rotate(-90 298.9 420.00000000000017)">4.30</text>
<text x="162.80" y="464.20" font-size="12.5" fill="#1a1a1a" text-anchor="middle"><tspan font-size="7.75" dy="-4.50">1</tspan><tspan dy="4.50">H Chemical Shift (ppm)</tspan></text>
<text x="317.90" y="334.50" font-size="12.5" fill="#1a1a1a" text-anchor="middle" transform="rotate(-90 317.9 334.5)"><tspan font-size="7.75" dy="-4.50">1</tspan><tspan dy="4.50">H Chemical Shift (ppm)</tspan></text>
<text x="40.20" y="248.90" font-size="12.3" fill="#1a1a1a" text-anchor="start"><tspan font-size="7.63" dy="-4.43">1</tspan><tspan dy="4.43">H NOESY at 333 K</tspan></text>
<text x="48.40" y="282.40" font-size="12.3" fill="#1a1a1a" text-anchor="start">Peak of ct - cc</text>
<text x="191.60" y="400.70" font-size="12.3" fill="#1a1a1a" text-anchor="start">Peak of ct - cc</text>
<text x="57.50" y="422.50" font-size="12.3" fill="#1a1a1a" text-anchor="start">Peak of ct - ct</text>
<text x="194.90" y="254.30" font-size="12.3" fill="#1a1a1a" text-anchor="start">Peak of cc - cc</text>
<line x1="98.00" y1="285.50" x2="137.40" y2="309.20" stroke="#333" stroke-width="0.7"/>
<path d="M137.40,309.20 L133.99,308.66 L135.33,306.44Z" fill="#111"/>
<line x1="216.00" y1="385.50" x2="189.80" y2="357.80" stroke="#333" stroke-width="0.7"/>
<path d="M189.80,357.80 L192.94,359.23 L191.05,361.02Z" fill="#111"/>
<line x1="110.00" y1="410.20" x2="133.00" y2="356.50" stroke="#333" stroke-width="0.7"/>
<path d="M133.00,356.50 L132.94,359.95 L130.55,358.93Z" fill="#111"/>
<line x1="235.40" y1="260.50" x2="190.00" y2="307.60" stroke="#333" stroke-width="0.7"/>
<path d="M190.00,307.60 L191.28,304.39 L193.16,306.20Z" fill="#111"/>
<path d="M32.30,228.80 C36.92,228.77 52.05,228.68 60.00,228.60 C67.95,228.52 74.97,228.62 80.00,228.30 C85.03,227.98 86.12,228.00 90.20,226.70 C94.28,225.40 99.73,222.55 104.50,220.50 C109.27,218.45 115.05,216.43 118.80,214.40 C122.55,212.37 124.68,209.83 127.00,208.30 C129.32,206.77 130.65,205.37 132.70,205.20 C134.75,205.03 136.85,206.28 139.30,207.30 C141.75,208.32 144.68,210.28 147.40,211.30 C150.12,212.32 151.50,213.05 155.60,213.40 C159.70,213.75 167.23,213.67 172.00,213.40 C176.77,213.13 181.13,211.63 184.20,211.80 C187.27,211.97 188.02,212.77 190.40,214.40 C192.78,216.03 195.78,219.55 198.50,221.60 C201.22,223.65 203.12,225.62 206.70,226.70 C210.28,227.78 212.78,227.77 220.00,228.10 C227.22,228.43 240.17,228.58 250.00,228.70 C259.83,228.82 274.17,228.78 279.00,228.80" stroke="#6262fa" stroke-width="0.9" fill="none" stroke-linejoin="round"/>
<path d="M29.60,232.40 C29.55,235.33 29.40,243.83 29.30,250.00 C29.20,256.17 29.20,263.20 29.00,269.40 C28.80,275.60 29.97,282.50 28.10,287.20 C26.23,291.90 20.75,294.13 17.80,297.60 C14.85,301.07 11.63,304.78 10.40,308.00 C9.17,311.22 10.15,312.95 10.40,316.90 C10.65,320.85 12.65,326.77 11.90,331.70 C11.15,336.63 7.63,342.30 5.90,346.50 C4.17,350.70 1.50,353.93 1.50,356.90 C1.50,359.87 3.18,361.12 5.90,364.30 C8.62,367.48 14.33,371.55 17.80,376.00 C21.27,380.45 24.83,385.55 26.70,391.00 C28.57,396.45 28.52,402.03 29.00,408.70 C29.48,415.37 29.50,427.28 29.60,431.00" stroke="#6262fa" stroke-width="0.9" fill="none" stroke-linejoin="round"/>
<text x="351.80" y="234.90" font-size="15.5" fill="#1a1a1a" text-anchor="start">d</text>
<g fill="none" stroke="#6262fa" stroke-width="0.9" stroke-linejoin="round">
<ellipse cx="560.2" cy="326.8" rx="2.3" ry="4.4" transform="rotate(-15 560.2 326.8)"/>
<path d="M404.7,412.7 L404.3,412.7 L404.4,412.3 L404.6,411.8 L404.7,411.3 L404.8,410.9 L405.0,410.3 L405.0,410.0 L405.2,409.4 L405.3,408.8 L405.4,408.5 L405.5,407.9 L405.6,407.3 L405.8,407.0 L405.9,406.7 L406.2,406.3 L406.5,405.8 L406.7,405.5 L406.9,405.2 L407.1,404.9 L407.4,404.4 L407.7,404.0 L407.9,403.7 L408.1,403.4 L408.3,403.1 L408.6,402.8 L408.9,402.4 L409.2,402.1 L409.5,401.8 L409.8,401.5 L410.1,401.2 L410.4,400.8 L410.7,400.5 L411.0,400.2 L411.3,399.9 L411.6,399.6 L411.9,399.3 L412.2,399.0 L412.5,398.8 L412.8,398.5 L413.1,398.2 L413.4,397.9 L413.7,397.6 L414.0,397.4 L414.3,397.0 L414.6,396.7 L414.9,396.4 L415.2,396.1 L415.5,395.7 L415.8,395.4 L416.1,395.0 L416.3,394.7 L416.5,394.4 L416.8,394.1 L417.0,393.8 L417.3,393.3 L417.5,392.9 L417.7,392.6 L417.9,392.3 L418.2,391.9 L418.5,391.5 L418.8,391.2 L419.1,390.9 L419.4,390.5 L419.7,390.2 L419.9,389.9 L420.2,389.6 L420.5,389.3 L420.7,389.0 L421.0,388.7 L421.3,388.4 L421.5,388.1 L421.8,387.8 L422.1,387.5 L422.4,387.2 L422.7,386.8 L423.0,386.5 L423.3,386.2 L423.6,385.9 L423.9,385.6 L424.2,385.3 L424.5,384.9 L424.8,384.6 L425.1,384.3 L425.4,384.0 L425.7,383.7 L426.0,383.4 L426.3,383.0 L426.6,382.7 L426.9,382.4 L427.2,382.1 L427.5,381.8 L427.8,381.5 L428.0,381.2 L428.3,380.9 L428.6,380.6 L428.9,380.3 L429.2,380.0 L429.4,379.7 L429.7,379.4 L430.0,379.1 L430.3,378.8 L430.6,378.5 L430.8,378.2 L431.1,377.9 L431.4,377.6 L431.7,377.3 L432.0,376.9 L432.3,376.6 L432.6,376.3 L432.9,375.9 L433.2,375.6 L433.5,375.3 L433.8,374.9 L434.1,374.6 L434.3,374.3 L434.6,374.0 L434.8,373.7 L435.1,373.4 L435.3,373.1 L435.6,372.7 L435.9,372.4 L436.2,372.0 L436.5,371.6 L436.7,371.3 L436.9,371.0 L437.2,370.7 L437.6,370.4 L437.9,370.1 L438.2,369.8 L438.5,369.5 L438.8,369.2 L439.0,368.9 L439.3,368.6 L439.5,368.3 L439.8,367.9 L440.1,367.5 L440.3,367.1 L440.5,366.8 L440.7,366.3 L440.9,365.9 L441.0,365.6 L441.3,365.0 L441.5,364.7 L441.7,364.4 L442.0,364.1 L442.2,363.8 L442.5,363.5 L442.8,363.1 L443.1,362.8 L443.4,362.5 L443.7,362.2 L444.0,361.9 L444.3,361.6 L444.6,361.3 L444.9,361.0 L445.2,360.8 L445.5,360.5 L445.9,360.2 L446.2,359.9 L446.6,359.6 L446.9,359.3 L447.3,359.0 L447.6,358.8 L447.9,358.5 L448.2,358.3 L448.5,358.0 L448.8,357.8 L449.2,357.5 L449.6,357.2 L449.9,356.9 L450.3,356.6 L450.6,356.4 L450.9,356.1 L451.2,355.9 L451.5,355.6 L451.8,355.3 L452.1,355.1 L452.4,354.8 L452.7,354.5 L453.0,354.2 L453.3,353.9 L453.6,353.6 L453.9,353.2 L454.2,352.9 L454.5,352.6 L454.8,352.2 L455.1,351.8 L455.4,351.5 L455.6,351.2 L455.8,350.9 L456.0,350.6 L456.3,350.2 L456.6,349.8 L456.9,349.4 L457.1,349.1 L457.4,348.8 L457.6,348.5 L457.8,348.2 L458.1,347.8 L458.4,347.4 L458.6,347.0 L458.8,346.7 L459.0,346.4 L459.3,345.8 L459.4,345.5 L459.6,344.9 L459.7,344.6 L459.9,344.1 L460.0,343.7 L460.2,343.2 L460.3,342.8 L460.5,342.4 L460.7,341.9 L460.8,341.4 L460.9,341.0 L461.1,340.6 L461.3,340.1 L461.4,339.7 L461.6,339.2 L461.7,338.9 L461.8,338.3 L462.0,337.8 L462.1,337.4 L462.3,336.9 L462.4,336.5 L462.6,335.9 L462.6,335.5 L462.7,335.0 L462.8,334.4 L462.9,333.8 L463.0,333.5 L463.0,332.9 L462.8,332.6 L462.8,332.0 L462.8,331.4 L462.7,330.8 L462.7,330.2 L462.6,329.8 L462.5,329.3 L462.4,328.7 L462.4,328.1 L462.3,327.5 L462.3,327.2 L462.1,326.6 L462.0,326.2 L461.9,325.7 L461.8,325.1 L461.7,324.8 L461.5,324.2 L461.4,323.8 L461.2,323.3 L461.1,322.7 L461.1,322.4 L461.0,321.8 L460.9,321.2 L460.8,320.7 L460.7,320.3 L460.5,319.7 L460.4,319.4 L460.2,318.8 L460.0,318.5 L459.9,318.2 L459.6,317.8 L459.3,317.3 L459.1,317.0 L459.0,316.7 L458.7,316.1 L458.6,315.8 L458.4,315.3 L458.3,314.9 L458.6,314.6 L459.0,314.3 L459.3,314.1 L459.6,313.9 L459.9,313.6 L460.2,313.3 L460.5,313.1 L460.8,312.8 L461.1,312.5 L461.4,312.2 L461.7,311.9 L462.0,311.6 L462.3,311.3 L462.6,311.0 L462.9,310.7 L463.2,310.4 L463.5,310.1 L463.8,309.8 L464.1,309.4 L464.4,309.1 L464.7,308.8 L465.0,308.5 L465.5,308.6 L465.9,308.7 L466.5,308.7 L466.8,308.6 L467.4,308.4 L468.0,308.3 L468.3,308.3 L468.9,308.0 L469.2,307.8 L469.5,307.6 L469.8,307.3 L470.1,307.0 L470.5,306.8 L470.8,306.5 L471.0,306.2 L471.3,305.8 L471.6,305.4 L471.9,305.0 L472.1,304.7 L472.3,304.4 L472.5,304.0 L472.8,303.5 L472.9,303.2 L473.1,302.8 L473.4,302.3 L473.5,302.0 L473.7,301.6 L473.9,301.1 L474.0,300.8 L474.3,300.2 L474.4,299.9 L474.6,299.5 L474.8,299.0 L475.0,298.7 L475.2,298.2 L475.4,297.8 L475.5,297.5 L475.8,296.9 L476.0,296.6 L476.1,296.3 L476.4,295.7 L476.6,295.4 L476.7,295.1 L477.0,294.6 L477.2,294.2 L477.4,293.9 L477.6,293.6 L477.9,293.2 L478.2,292.9 L478.5,292.6 L478.8,292.3 L479.1,292.0 L479.4,291.7 L479.7,291.5 L480.2,291.2 L480.6,291.0 L480.9,290.8 L481.4,290.6 L481.8,290.4 L482.1,290.3 L482.7,290.1 L483.1,290.0 L483.6,289.9 L484.2,289.7 L484.5,289.7 L485.1,289.6 L485.7,289.5 L486.2,289.4 L486.6,289.3 L487.2,289.3 L487.8,289.2 L488.4,289.1 L488.8,289.1 L489.3,289.1 L489.9,289.0 L490.5,288.9 L491.1,288.9 L491.7,288.8 L492.0,288.8 L492.6,288.7 L493.2,288.5 L493.5,288.5 L494.1,288.3 L494.4,288.2 L495.0,288.0 L495.3,287.9 L495.9,287.6 L496.2,287.4 L496.5,287.2 L496.8,287.0 L497.3,286.7 L497.7,286.4 L498.0,286.1 L498.3,285.8 L498.6,285.5 L498.9,285.3 L499.2,285.2 L499.8,285.1 L500.4,285.0 L500.7,284.9 L501.3,284.7 L501.6,284.5 L502.0,284.3 L502.5,284.0 L502.8,283.8 L503.1,283.7 L503.5,283.4 L503.9,283.1 L504.3,282.8 L504.6,282.6 L504.9,282.4 L505.2,282.2 L505.6,281.9 L506.1,281.6 L506.4,281.4 L506.7,281.3 L507.3,281.0 L507.6,280.9 L508.2,280.7 L508.5,280.6 L509.1,280.5 L509.6,280.7 L509.8,281.0 L510.0,281.3 L510.3,281.7 L510.6,282.1 L510.9,282.5 L511.2,282.8 L511.5,283.1 L511.8,283.4 L512.1,283.6 L512.4,283.8 L512.8,284.0 L513.3,284.2 L513.7,284.3 L514.2,284.4 L514.8,284.5 L515.4,284.5 L516.0,284.5 L516.6,284.4 L517.0,284.3 L517.5,284.2 L518.0,284.0 L518.4,283.8 L518.7,283.7 L519.2,283.4 L519.6,283.1 L519.9,282.9 L520.2,282.6 L520.5,282.3 L520.8,282.0 L521.0,281.6 L521.3,281.3 L521.4,281.0 L521.7,280.5 L521.9,280.1 L522.0,279.8 L522.3,279.2 L522.4,278.9 L522.6,278.3 L522.7,278.0 L522.9,277.5 L523.0,277.1 L523.2,276.6 L523.3,276.2 L523.5,275.6 L523.6,275.3 L523.8,274.7 L523.9,274.4 L524.1,273.9 L524.3,273.5 L524.4,273.2 L524.6,272.6 L524.8,272.3 L525.0,271.7 L525.1,271.4 L525.3,271.0 L525.5,270.5 L525.6,270.2 L525.8,269.6 L526.0,269.3 L526.2,268.9 L526.5,268.7 L526.9,268.4 L527.3,268.1 L527.7,267.8 L528.0,267.6 L528.3,267.3 L528.6,267.0 L528.9,266.7 L529.2,266.4 L529.5,266.2 L529.8,266.0 L530.4,265.8 L530.7,265.6 L531.3,265.4 L531.6,265.3 L532.2,265.1 L532.5,265.0 L532.9,264.8 L533.4,264.6 L533.7,264.5 L534.2,264.2 L534.6,264.0 L534.9,263.9 L535.3,263.6 L535.7,263.3 L536.1,263.0 L536.4,262.7 L536.7,262.4 L537.0,262.1 L537.2,261.8 L537.4,261.5 L537.7,261.2 L537.9,260.8 L538.2,260.3 L538.4,260.0 L538.8,259.8 L539.4,259.7 L539.8,259.7 L540.3,259.7 L540.9,259.6 L541.5,259.6 L542.1,259.6 L542.7,259.6 L543.3,259.6 L543.9,259.6 L544.5,259.6 L545.1,259.7 L545.4,259.7 L546.0,259.8 L546.6,259.9 L547.2,260.0 L547.5,260.0 L548.1,260.1 L548.7,260.1 L549.3,260.0 L549.6,260.0 L550.2,259.9 L550.8,259.8 L551.1,259.7 L551.7,259.5 L552.0,259.4 L552.6,259.1 L552.9,259.0 L553.3,258.8 L553.8,258.5 L554.1,258.4 L554.4,258.2 L554.8,257.9 L555.2,257.6 L555.6,257.3 L555.9,257.1 L556.2,256.8 L556.5,256.5 L556.8,256.3 L557.1,256.0 L557.7,255.9 L558.0,255.8 L558.6,255.6 L559.1,255.5 L559.5,255.4 L560.1,255.2 L560.4,255.2 L561.0,255.0 L561.4,254.9 L561.9,254.8 L562.5,254.7 L562.8,254.6 L563.4,254.3 L563.7,254.2 L564.1,254.0 L564.6,253.8 L564.9,253.7 L565.5,253.5 L565.8,253.4 L566.4,253.2 L566.8,253.1 L567.3,252.9 L567.7,252.8 L568.2,252.6 L568.5,252.5 L569.1,252.3 L569.4,252.2 L570.0,252.0 L570.3,251.9 L570.9,251.7 L571.2,251.6 L571.8,251.4 L572.4,251.3 L572.7,251.2 L573.3,251.1 L573.6,251.0 L574.2,250.8 L574.7,250.7 L575.1,250.6 L575.7,250.4 L576.0,250.3 L576.6,250.1 L576.9,250.0 L577.5,249.8 L577.8,249.7 L578.4,249.5 L578.7,249.4 L579.2,249.2 L579.6,249.0 L580.0,248.9 L580.5,248.7 L580.8,248.6 L581.4,248.3 L581.7,248.2 L582.3,248.0 L582.6,247.9 L583.0,247.7 L583.5,247.4 L583.8,247.3 L584.1,247.1 L584.7,246.8 L585.0,246.6 L585.3,246.5 L585.9,246.2 L586.2,246.1 L586.8,246.0 L587.4,245.9 L587.7,245.9 L588.3,245.8 L588.9,245.7 L589.3,245.6 L589.8,245.5 L590.4,245.4 L590.9,245.6 L590.7,246.2 L590.6,246.5 L590.5,247.1 L590.4,247.6 L590.2,248.0 L590.1,248.3 L589.8,248.7 L589.5,249.2 L589.3,249.5 L589.1,249.8 L588.9,250.2 L588.6,250.7 L588.4,251.0 L588.3,251.3 L588.0,251.8 L587.8,252.2 L587.7,252.5 L587.4,253.1 L587.3,253.4 L587.1,253.8 L586.9,254.3 L586.8,254.7 L586.6,255.2 L586.5,255.7 L586.4,256.1 L586.3,256.7 L586.2,257.1 L586.0,257.6 L585.9,258.0 L585.7,258.5 L585.6,258.8 L585.4,259.4 L585.3,259.7 L585.0,260.3 L584.9,260.6 L584.8,261.2 L584.7,261.5 L584.5,262.1 L584.4,262.4 L584.3,263.0 L584.1,263.6 L584.0,263.9 L583.9,264.5 L583.8,265.0 L583.7,265.4 L583.7,266.0 L583.7,266.6 L583.6,267.2 L583.6,267.8 L583.5,268.4 L583.5,268.8 L583.4,269.3 L583.3,269.9 L583.2,270.5 L583.1,270.8 L583.0,271.4 L582.9,271.7 L582.8,272.3 L582.7,272.9 L582.6,273.2 L582.5,273.8 L582.4,274.4 L582.3,274.7 L582.1,275.3 L582.0,275.9 L582.0,276.5 L582.0,276.8 L581.9,277.4 L581.9,278.0 L581.8,278.6 L581.7,279.2 L581.7,279.5 L581.6,280.1 L581.6,280.7 L581.5,281.3 L581.4,281.9 L581.4,282.2 L581.1,282.8 L581.0,283.1 L580.8,283.4 L580.5,283.8 L580.2,284.3 L580.0,284.6 L579.8,284.9 L579.6,285.2 L579.3,285.7 L579.0,286.1 L578.8,286.4 L578.6,286.7 L578.4,287.0 L578.1,287.4 L577.8,287.9 L577.6,288.2 L577.4,288.5 L577.2,288.8 L576.9,289.3 L576.6,289.7 L576.4,290.0 L576.3,290.3 L576.0,290.8 L575.7,291.2 L575.6,291.5 L575.4,291.8 L575.1,292.4 L575.0,292.7 L574.7,293.0 L574.5,293.3 L574.2,293.7 L573.9,294.1 L573.6,294.5 L573.4,294.8 L573.2,295.1 L573.0,295.4 L572.7,295.8 L572.4,296.2 L572.1,296.6 L571.9,296.9 L571.7,297.2 L571.5,297.6 L571.2,298.0 L570.9,298.4 L570.7,298.7 L570.5,299.0 L570.3,299.3 L569.9,299.6 L569.6,299.9 L569.2,300.2 L568.8,300.5 L568.5,300.7 L568.2,300.9 L567.9,301.1 L567.5,301.4 L567.0,301.7 L566.7,301.9 L566.4,302.1 L566.1,302.3 L565.6,302.6 L565.2,302.8 L564.9,303.0 L564.5,303.2 L564.0,303.5 L563.7,303.7 L563.4,303.9 L563.0,304.1 L562.5,304.4 L562.2,304.6 L561.9,304.8 L561.5,305.0 L561.1,305.3 L560.7,305.6 L560.4,305.8 L560.1,306.0 L559.8,306.2 L559.5,306.5 L559.1,306.8 L558.8,307.1 L558.5,307.4 L558.2,307.7 L557.9,308.0 L557.6,308.3 L557.4,308.6 L557.1,309.0 L556.8,309.3 L556.5,309.7 L556.2,310.1 L556.0,310.4 L555.8,310.7 L555.6,311.0 L555.3,311.4 L555.0,311.8 L554.7,312.2 L554.4,312.5 L554.2,312.8 L553.9,313.1 L553.7,313.4 L553.4,313.7 L553.1,314.0 L552.8,314.3 L552.5,314.6 L552.2,314.9 L551.8,315.2 L551.4,315.5 L551.1,315.8 L550.8,316.0 L550.5,316.2 L550.2,316.4 L549.7,316.7 L549.3,316.9 L549.0,317.1 L548.6,317.3 L548.1,317.6 L547.8,317.7 L547.5,317.9 L546.9,318.2 L546.6,318.4 L546.3,318.6 L546.0,318.8 L545.5,319.1 L545.1,319.4 L544.8,319.6 L544.5,319.9 L544.2,320.2 L543.9,320.5 L543.6,320.8 L543.3,321.1 L543.0,321.4 L542.7,321.7 L542.4,322.0 L542.1,322.3 L541.8,322.6 L541.5,322.8 L541.2,323.1 L540.9,323.3 L540.6,323.6 L540.1,323.9 L539.7,324.2 L539.4,324.4 L539.1,324.5 L538.7,324.8 L538.2,325.0 L537.9,325.2 L537.4,325.4 L537.0,325.6 L536.7,325.7 L536.1,326.0 L535.8,326.2 L535.5,326.5 L535.2,326.7 L534.9,326.9 L534.4,327.2 L534.0,327.5 L533.7,327.7 L533.4,327.9 L533.1,328.1 L532.6,328.4 L532.2,328.7 L531.9,328.9 L531.6,329.1 L531.3,329.3 L530.9,329.6 L530.5,329.9 L530.2,330.2 L529.8,330.5 L529.5,330.7 L529.2,331.0 L528.9,331.2 L528.6,331.5 L528.3,331.8 L528.0,332.0 L527.7,332.3 L527.3,332.6 L527.0,332.9 L526.6,333.2 L526.3,333.5 L525.9,333.8 L525.6,334.1 L525.3,334.3 L525.0,334.5 L524.7,334.8 L524.4,335.0 L524.0,335.3 L523.5,335.6 L523.2,335.8 L522.9,336.0 L522.6,336.2 L522.2,336.5 L521.7,336.8 L521.4,337.0 L521.1,337.2 L520.8,337.4 L520.4,337.7 L520.0,338.0 L519.6,338.3 L519.3,338.5 L519.0,338.7 L518.7,339.0 L518.4,339.2 L518.1,339.5 L517.8,339.8 L517.5,340.1 L517.2,340.4 L516.9,340.7 L516.6,341.0 L516.3,341.3 L516.0,341.6 L515.7,342.0 L515.4,342.3 L515.1,342.6 L514.8,343.0 L514.5,343.3 L514.2,343.6 L513.9,343.9 L513.6,344.3 L513.3,344.6 L513.0,344.9 L512.7,345.2 L512.4,345.4 L512.1,345.7 L511.8,346.0 L511.5,346.2 L511.2,346.4 L510.8,346.7 L510.4,347.0 L510.0,347.3 L509.7,347.5 L509.4,347.6 L508.9,347.9 L508.5,348.1 L508.2,348.3 L507.8,348.5 L507.3,348.7 L507.0,348.9 L506.5,349.1 L506.1,349.3 L505.8,349.4 L505.2,349.6 L504.9,349.8 L504.3,350.0 L504.0,350.1 L503.6,350.3 L503.1,350.5 L502.8,350.7 L502.3,350.9 L501.9,351.1 L501.6,351.2 L501.0,351.5 L500.7,351.6 L500.2,351.8 L499.8,352.0 L499.5,352.1 L498.9,352.4 L498.6,352.6 L498.3,352.8 L497.9,353.0 L497.4,353.3 L497.1,353.5 L496.8,353.7 L496.5,353.9 L496.1,354.2 L495.7,354.5 L495.3,354.8 L495.0,355.0 L494.7,355.2 L494.4,355.4 L493.9,355.7 L493.5,355.9 L493.1,356.0 L492.6,356.2 L492.3,356.3 L491.7,356.6 L491.4,356.7 L490.8,356.9 L490.5,357.0 L490.1,357.2 L489.6,357.5 L489.3,357.6 L488.8,357.8 L488.4,358.0 L488.1,358.1 L487.5,358.4 L487.2,358.6 L486.9,358.8 L486.4,359.0 L486.0,359.2 L485.7,359.3 L485.1,359.6 L484.8,359.8 L484.5,360.0 L484.1,360.2 L483.6,360.5 L483.3,360.6 L483.0,360.8 L482.4,361.1 L482.1,361.3 L481.8,361.5 L481.4,361.7 L480.9,361.9 L480.6,362.1 L480.2,362.3 L479.7,362.6 L479.4,362.8 L479.1,363.0 L478.7,363.2 L478.2,363.5 L477.9,363.7 L477.6,363.9 L477.2,364.1 L476.7,364.4 L476.4,364.6 L476.1,364.8 L475.7,365.0 L475.2,365.3 L474.9,365.4 L474.6,365.6 L474.0,365.9 L473.7,366.1 L473.4,366.2 L472.9,366.5 L472.5,366.7 L472.2,366.8 L471.6,367.1 L471.3,367.3 L471.0,367.4 L470.4,367.7 L470.1,367.8 L469.6,368.0 L469.2,368.2 L468.9,368.3 L468.3,368.5 L468.0,368.7 L467.4,368.9 L467.1,369.1 L466.8,369.2 L466.3,369.5 L465.9,369.7 L465.6,369.9 L465.3,370.1 L464.8,370.4 L464.4,370.6 L464.1,370.8 L463.8,371.0 L463.4,371.3 L462.9,371.6 L462.6,371.8 L462.3,372.0 L462.0,372.2 L461.6,372.5 L461.2,372.8 L460.8,373.1 L460.5,373.3 L460.2,373.5 L459.9,373.8 L459.6,374.0 L459.2,374.3 L458.8,374.6 L458.4,374.9 L458.1,375.2 L457.8,375.4 L457.5,375.6 L457.2,375.9 L456.9,376.1 L456.5,376.4 L456.1,376.7 L455.7,377.0 L455.4,377.2 L455.1,377.5 L454.8,377.7 L454.5,377.9 L454.1,378.2 L453.7,378.5 L453.3,378.8 L453.0,379.0 L452.7,379.2 L452.4,379.5 L452.1,379.7 L451.6,380.0 L451.2,380.3 L450.9,380.5 L450.6,380.7 L450.3,380.9 L449.9,381.2 L449.5,381.5 L449.1,381.8 L448.8,382.0 L448.5,382.2 L448.2,382.5 L447.9,382.7 L447.5,383.0 L447.1,383.3 L446.7,383.6 L446.4,383.8 L446.1,384.1 L445.8,384.3 L445.5,384.5 L445.2,384.8 L444.8,385.1 L444.4,385.4 L444.1,385.7 L443.7,386.0 L443.4,386.3 L443.1,386.5 L442.8,386.8 L442.5,387.0 L442.2,387.3 L441.9,387.6 L441.6,387.8 L441.3,388.1 L440.9,388.4 L440.6,388.7 L440.3,389.0 L439.9,389.3 L439.6,389.6 L439.3,389.9 L438.9,390.2 L438.6,390.5 L438.3,390.7 L438.0,391.0 L437.7,391.3 L437.4,391.5 L437.1,391.8 L436.8,392.1 L436.5,392.3 L436.2,392.6 L435.9,392.9 L435.5,393.2 L435.2,393.5 L434.8,393.8 L434.5,394.1 L434.1,394.4 L433.8,394.7 L433.5,394.9 L433.2,395.2 L432.9,395.5 L432.6,395.7 L432.3,396.0 L432.0,396.2 L431.7,396.5 L431.3,396.8 L430.9,397.1 L430.6,397.4 L430.2,397.7 L429.9,398.0 L429.6,398.2 L429.3,398.4 L429.0,398.7 L428.7,398.9 L428.3,399.2 L428.0,399.5 L427.6,399.8 L427.2,400.1 L426.9,400.3 L426.6,400.6 L426.3,400.8 L426.0,401.0 L425.7,401.3 L425.3,401.6 L424.9,401.9 L424.5,402.2 L424.2,402.5 L423.9,402.7 L423.6,402.9 L423.3,403.2 L423.0,403.4 L422.6,403.7 L422.3,404.0 L421.9,404.3 L421.5,404.6 L421.2,404.9 L420.9,405.1 L420.6,405.3 L420.3,405.6 L420.0,405.8 L419.7,406.1 L419.3,406.4 L419.0,406.7 L418.6,407.0 L418.3,407.3 L417.9,407.6 L417.6,407.9 L417.3,408.1 L417.0,408.4 L416.7,408.6 L416.4,408.9 L416.1,409.1 L415.8,409.4 L415.4,409.7 L415.1,410.0 L414.6,410.3 L414.3,410.5 L414.0,410.6 L413.4,410.9 L413.1,411.0 L412.7,411.2 L412.2,411.4 L411.9,411.5 L411.3,411.8 L411.0,411.9 L410.4,412.1 L410.1,412.2 L409.7,412.4 L409.2,412.5 L408.6,412.4 L408.3,412.4 L407.7,412.3 L407.1,412.4 L406.7,412.4 L406.2,412.5 L405.6,412.6 L405.0,412.7 L404.7,412.7 L404.7,412.7"/>
<path d="M412.2,405.9 L411.7,405.8 L411.9,405.5 L412.2,405.0 L412.5,404.6 L412.7,404.3 L412.9,404.0 L413.1,403.6 L413.4,403.2 L413.6,402.8 L413.8,402.5 L414.0,402.2 L414.3,401.8 L414.6,401.3 L414.8,401.0 L415.0,400.7 L415.2,400.4 L415.5,400.0 L415.8,399.5 L416.0,399.2 L416.2,398.9 L416.4,398.6 L416.7,398.1 L416.9,397.7 L417.1,397.4 L417.3,397.1 L417.6,396.7 L417.9,396.3 L418.2,395.9 L418.4,395.6 L418.6,395.3 L418.8,395.0 L419.1,394.7 L419.4,394.3 L419.7,394.0 L420.0,393.6 L420.3,393.3 L420.6,392.9 L420.9,392.6 L421.1,392.3 L421.4,392.0 L421.6,391.7 L421.9,391.4 L422.2,391.1 L422.4,390.8 L422.7,390.5 L423.0,390.1 L423.3,389.8 L423.6,389.4 L423.9,389.1 L424.2,388.8 L424.5,388.4 L424.8,388.1 L425.1,387.8 L425.3,387.5 L425.6,387.2 L425.9,386.9 L426.2,386.6 L426.4,386.3 L426.7,386.0 L427.0,385.7 L427.3,385.4 L427.5,385.1 L427.8,384.8 L428.1,384.5 L428.4,384.1 L428.7,383.8 L429.0,383.5 L429.3,383.2 L429.6,382.8 L429.9,382.5 L430.2,382.2 L430.5,381.9 L430.8,381.5 L431.1,381.2 L431.4,380.9 L431.7,380.6 L432.0,380.3 L432.2,380.0 L432.5,379.7 L432.8,379.4 L433.1,379.1 L433.4,378.8 L433.7,378.5 L434.0,378.2 L434.2,377.9 L434.5,377.6 L434.8,377.3 L435.1,377.0 L435.4,376.7 L435.7,376.4 L435.9,376.1 L436.2,375.8 L436.5,375.5 L436.8,375.2 L437.1,374.8 L437.4,374.5 L437.7,374.2 L438.0,373.8 L438.3,373.5 L438.6,373.1 L438.9,372.8 L439.2,372.5 L439.4,372.2 L439.7,371.9 L439.9,371.6 L440.2,371.3 L440.4,371.0 L440.7,370.7 L441.0,370.4 L441.3,370.0 L441.6,369.6 L441.9,369.3 L442.2,368.9 L442.4,368.6 L442.7,368.3 L442.9,368.0 L443.1,367.7 L443.4,367.4 L443.7,367.0 L444.0,366.7 L444.3,366.4 L444.6,366.1 L444.9,365.8 L445.2,365.5 L445.5,365.2 L445.8,364.9 L446.1,364.6 L446.4,364.4 L446.7,364.1 L447.1,363.8 L447.4,363.5 L447.8,363.2 L448.2,362.9 L448.5,362.7 L448.8,362.5 L449.1,362.2 L449.4,362.0 L449.8,361.7 L450.2,361.4 L450.6,361.1 L450.9,360.9 L451.2,360.7 L451.5,360.4 L451.8,360.2 L452.2,359.9 L452.6,359.6 L452.9,359.3 L453.3,359.0 L453.6,358.7 L453.9,358.5 L454.2,358.2 L454.5,358.0 L454.8,357.7 L455.1,357.4 L455.4,357.1 L455.7,356.8 L456.0,356.5 L456.3,356.2 L456.6,355.9 L456.9,355.6 L457.2,355.3 L457.5,355.0 L457.8,354.6 L458.1,354.3 L458.4,353.9 L458.7,353.6 L458.9,353.3 L459.2,353.0 L459.4,352.7 L459.7,352.4 L459.9,352.1 L460.2,351.7 L460.5,351.4 L460.8,351.0 L461.1,350.6 L461.3,350.3 L461.6,350.0 L461.8,349.7 L462.0,349.4 L462.3,349.0 L462.6,348.6 L462.9,348.2 L463.1,347.9 L463.3,347.6 L463.5,347.3 L463.8,346.8 L464.1,346.4 L464.3,346.1 L464.4,345.8 L464.7,345.4 L465.0,344.9 L465.1,344.6 L465.3,344.3 L465.6,343.7 L465.8,343.4 L465.9,343.1 L466.2,342.5 L466.3,342.2 L466.5,341.8 L466.7,341.3 L466.9,341.0 L467.1,340.4 L467.2,340.1 L467.3,339.5 L467.4,339.2 L467.6,338.6 L467.7,338.3 L467.8,337.7 L467.8,337.1 L467.8,336.5 L467.8,335.9 L467.8,335.3 L467.7,334.7 L467.7,334.1 L467.7,333.5 L467.7,332.9 L467.7,332.6 L467.6,332.0 L467.6,331.4 L467.6,330.8 L467.6,330.2 L467.5,329.6 L467.7,329.0 L467.7,328.7 L467.9,328.1 L468.0,327.6 L468.1,327.2 L468.2,326.6 L468.3,326.3 L468.5,325.7 L468.6,325.4 L468.7,324.8 L468.9,324.2 L469.0,323.9 L469.1,323.3 L469.2,323.0 L469.4,322.4 L469.5,322.1 L469.7,321.5 L469.9,321.2 L470.1,320.6 L470.2,320.3 L470.4,319.9 L470.7,319.4 L470.9,319.1 L471.0,318.8 L471.3,318.3 L471.5,317.9 L471.7,317.6 L471.9,317.3 L472.2,317.0 L472.5,316.6 L472.8,316.2 L473.1,315.8 L473.4,315.5 L473.6,315.2 L473.9,314.9 L474.1,314.6 L474.4,314.3 L474.6,314.0 L474.9,313.6 L475.2,313.2 L475.5,312.9 L475.7,312.5 L475.9,312.2 L476.1,311.9 L476.4,311.5 L476.7,311.0 L476.9,310.7 L477.0,310.4 L477.3,309.8 L477.4,309.5 L477.6,309.1 L477.8,308.6 L477.9,308.3 L478.1,307.7 L478.2,307.4 L478.4,306.8 L478.5,306.5 L478.7,305.9 L478.8,305.6 L479.0,305.0 L479.1,304.6 L479.2,304.1 L479.4,303.6 L479.5,303.2 L479.7,302.6 L479.8,302.3 L480.0,301.7 L480.1,301.4 L480.3,301.0 L480.5,300.5 L480.6,300.2 L480.9,299.6 L481.0,299.3 L481.2,299.0 L481.5,298.5 L481.7,298.1 L481.9,297.8 L482.1,297.5 L482.4,297.2 L482.7,296.8 L483.0,296.5 L483.3,296.2 L483.6,295.9 L483.9,295.7 L484.3,295.4 L484.7,295.1 L485.1,294.9 L485.4,294.7 L486.0,294.5 L486.3,294.4 L486.9,294.2 L487.2,294.1 L487.8,294.0 L488.4,293.9 L489.0,293.9 L489.3,293.9 L489.7,293.9 L490.2,293.9 L490.8,294.0 L491.4,294.1 L492.0,294.2 L492.3,294.2 L492.9,294.4 L493.2,294.5 L493.8,294.7 L494.1,294.8 L494.7,295.1 L495.0,295.2 L495.3,295.4 L495.8,295.7 L496.2,296.0 L496.5,296.2 L496.8,296.4 L497.1,296.7 L497.4,297.0 L497.7,297.4 L498.0,297.8 L498.3,298.1 L498.6,298.2 L498.9,298.4 L499.5,298.6 L499.8,298.7 L500.3,298.7 L500.7,298.6 L501.0,298.4 L501.4,298.1 L501.7,297.8 L501.9,297.4 L502.2,296.9 L502.4,296.6 L502.6,296.3 L502.8,295.7 L502.8,295.4 L502.9,294.8 L503.0,294.2 L503.1,293.9 L503.3,293.3 L503.4,292.9 L503.6,292.4 L503.7,292.1 L504.0,291.5 L504.1,291.2 L504.3,290.9 L504.6,290.3 L504.8,290.0 L504.9,289.6 L505.1,289.1 L505.2,288.8 L505.5,288.2 L505.6,287.9 L505.8,287.6 L506.1,287.2 L506.4,286.7 L506.7,286.4 L506.9,286.1 L507.2,285.8 L507.5,285.5 L507.8,285.2 L508.2,284.9 L508.5,284.6 L508.8,284.4 L509.1,284.2 L509.5,284.3 L509.8,284.6 L510.2,284.9 L510.5,285.2 L510.9,285.5 L511.2,285.7 L511.5,285.8 L512.1,286.1 L512.4,286.2 L513.0,286.4 L513.3,286.5 L513.9,286.6 L514.5,286.6 L515.1,286.7 L515.7,286.7 L516.3,286.6 L516.9,286.5 L517.5,286.4 L517.8,286.4 L518.4,286.2 L518.7,286.1 L519.3,285.8 L519.6,285.7 L520.0,285.5 L520.5,285.2 L520.8,285.0 L521.1,284.8 L521.4,284.5 L521.7,284.2 L522.0,283.9 L522.3,283.6 L522.6,283.2 L522.9,282.8 L523.1,282.5 L523.3,282.2 L523.5,281.8 L523.8,281.3 L523.9,281.0 L524.1,280.6 L524.3,280.1 L524.4,279.8 L524.6,279.2 L524.7,278.9 L524.9,278.3 L525.0,278.0 L525.2,277.4 L525.4,277.1 L525.6,276.6 L525.9,276.5 L526.5,276.2 L526.8,276.1 L527.4,275.9 L527.7,275.8 L528.2,275.6 L528.6,275.5 L529.0,275.3 L529.5,275.1 L529.8,274.9 L530.2,274.7 L530.7,274.4 L531.0,274.2 L531.3,274.0 L531.6,273.8 L531.9,273.5 L532.3,273.2 L532.6,272.9 L532.9,272.6 L533.2,272.3 L533.4,272.0 L533.7,271.6 L534.0,271.2 L534.3,270.8 L534.5,270.5 L534.7,270.2 L534.9,269.9 L535.2,269.4 L535.5,269.0 L535.7,268.7 L535.9,268.4 L536.1,268.1 L536.4,267.7 L536.7,267.3 L537.0,267.0 L537.3,266.6 L537.6,266.3 L537.9,266.0 L538.2,265.8 L538.5,265.5 L538.8,265.3 L539.2,265.1 L539.7,264.9 L540.2,264.8 L540.6,264.7 L541.2,264.6 L541.5,264.5 L542.1,264.4 L542.7,264.3 L543.0,264.2 L543.6,264.1 L544.2,264.0 L544.8,263.9 L545.1,263.9 L545.7,263.8 L546.3,263.7 L546.9,263.6 L547.2,263.6 L547.8,263.5 L548.4,263.4 L549.0,263.4 L549.6,263.4 L550.2,263.3 L550.5,263.3 L551.1,263.2 L551.7,263.1 L552.0,263.0 L552.6,262.8 L552.9,262.7 L553.5,262.4 L553.8,262.3 L554.2,262.1 L554.7,261.8 L555.0,261.7 L555.3,261.5 L555.8,261.2 L556.2,260.9 L556.5,260.7 L556.8,260.5 L557.1,260.3 L557.6,260.0 L558.0,259.7 L558.3,259.4 L558.6,259.2 L558.9,259.0 L559.2,258.7 L559.5,258.5 L560.1,258.3 L560.4,258.2 L561.0,257.9 L561.3,257.8 L561.9,257.6 L562.2,257.5 L562.8,257.3 L563.1,257.2 L563.6,257.0 L564.0,256.9 L564.5,256.7 L564.9,256.5 L565.2,256.4 L565.8,256.1 L566.1,255.9 L566.4,255.8 L567.0,255.5 L567.3,255.4 L567.8,255.2 L568.2,255.0 L568.5,254.9 L569.1,254.7 L569.4,254.5 L570.0,254.3 L570.3,254.2 L570.8,254.0 L571.2,253.8 L571.6,253.7 L572.1,253.5 L572.4,253.4 L573.0,253.2 L573.3,253.1 L573.9,252.9 L574.2,252.8 L574.8,252.6 L575.1,252.5 L575.7,252.3 L576.2,252.2 L576.6,252.1 L577.1,251.9 L577.5,251.8 L578.0,251.6 L578.4,251.5 L578.9,251.3 L579.3,251.1 L579.8,251.0 L580.2,250.8 L580.6,250.7 L581.1,250.5 L581.7,250.5 L582.3,250.5 L582.9,250.4 L583.5,250.4 L584.1,250.4 L584.7,250.4 L585.3,250.5 L585.4,251.0 L585.3,251.6 L585.3,252.0 L585.2,252.5 L585.0,253.1 L584.9,253.4 L584.7,254.0 L584.6,254.3 L584.4,254.9 L584.3,255.2 L584.2,255.8 L584.1,256.4 L584.0,256.7 L583.9,257.3 L583.8,257.7 L583.6,258.2 L583.5,258.5 L583.2,259.1 L583.1,259.4 L582.9,260.0 L582.8,260.3 L582.6,260.8 L582.5,261.2 L582.3,261.6 L582.1,262.1 L582.0,262.5 L581.8,263.0 L581.7,263.3 L581.5,263.9 L581.4,264.2 L581.1,264.8 L581.0,265.1 L580.8,265.7 L580.7,266.0 L580.5,266.6 L580.4,266.9 L580.2,267.5 L580.1,267.8 L579.9,268.4 L579.8,268.7 L579.7,269.3 L579.6,269.6 L579.4,270.2 L579.3,270.5 L579.1,271.1 L579.0,271.7 L579.0,272.3 L579.0,272.3 L579.0,272.9 L579.1,273.5 L579.1,274.1 L579.0,274.7 L579.0,275.3 L579.0,275.6 L578.9,276.2 L578.9,276.8 L578.8,277.4 L578.7,277.9 L578.7,278.3 L578.6,278.9 L578.5,279.5 L578.3,279.8 L578.1,280.2 L577.8,280.6 L577.5,281.0 L577.3,281.3 L577.1,281.6 L576.8,281.9 L576.6,282.2 L576.3,282.6 L576.0,283.0 L575.7,283.4 L575.4,283.7 L575.2,284.0 L575.0,284.3 L574.7,284.6 L574.5,284.9 L574.2,285.3 L573.9,285.6 L573.6,286.0 L573.3,286.4 L573.1,286.7 L572.9,287.0 L572.7,287.3 L572.4,287.8 L572.2,288.2 L572.0,288.5 L571.8,288.8 L571.5,289.3 L571.2,289.6 L570.9,289.9 L570.6,290.3 L570.4,290.6 L570.1,290.9 L569.9,291.2 L569.7,291.5 L569.4,291.9 L569.1,292.4 L568.9,292.7 L568.7,293.0 L568.5,293.3 L568.2,293.8 L567.9,294.2 L567.7,294.5 L567.5,294.8 L567.3,295.1 L567.0,295.5 L566.7,295.8 L566.4,296.1 L566.1,296.3 L565.8,296.6 L565.4,296.9 L565.0,297.2 L564.6,297.4 L564.3,297.6 L564.0,297.8 L563.6,298.1 L563.1,298.4 L562.8,298.6 L562.5,298.7 L562.0,299.0 L561.6,299.2 L561.3,299.3 L560.8,299.6 L560.4,299.8 L560.1,299.9 L559.5,300.2 L559.2,300.3 L558.7,300.5 L558.3,300.7 L558.0,300.8 L557.4,301.1 L557.1,301.2 L556.7,301.4 L556.2,301.6 L555.9,301.8 L555.4,302.0 L555.0,302.2 L554.7,302.4 L554.3,302.6 L553.8,302.9 L553.5,303.1 L553.2,303.3 L552.8,303.5 L552.4,303.8 L552.0,304.1 L551.7,304.3 L551.4,304.5 L551.1,304.7 L550.7,305.0 L550.2,305.3 L549.9,305.5 L549.6,305.8 L549.3,306.0 L548.9,306.2 L548.5,306.5 L548.1,306.7 L547.8,306.9 L547.5,307.1 L547.1,307.4 L546.6,307.7 L546.3,307.9 L546.0,308.0 L545.6,308.3 L545.1,308.6 L544.8,308.7 L544.5,308.9 L544.1,309.2 L543.6,309.5 L543.3,309.7 L543.0,309.9 L542.7,310.1 L542.2,310.4 L541.8,310.7 L541.5,310.9 L541.2,311.1 L540.9,311.4 L540.6,311.6 L540.2,311.9 L539.9,312.2 L539.5,312.5 L539.2,312.8 L538.9,313.1 L538.6,313.4 L538.2,313.7 L537.9,314.0 L537.6,314.3 L537.4,314.6 L537.1,314.9 L536.9,315.2 L536.7,315.5 L536.4,315.8 L536.1,316.2 L535.8,316.5 L535.5,316.9 L535.2,317.2 L534.9,317.5 L534.6,317.8 L534.3,318.1 L534.0,318.4 L533.7,318.7 L533.4,318.9 L533.1,319.2 L532.8,319.4 L532.4,319.7 L531.9,320.0 L531.6,320.2 L531.3,320.4 L531.0,320.7 L530.7,320.9 L530.3,321.2 L529.9,321.5 L529.5,321.8 L529.2,322.0 L528.9,322.2 L528.6,322.4 L528.2,322.7 L527.8,323.0 L527.4,323.3 L527.1,323.5 L526.8,323.7 L526.5,323.9 L526.1,324.2 L525.7,324.5 L525.3,324.8 L525.0,325.0 L524.7,325.2 L524.4,325.5 L524.1,325.7 L523.7,326.0 L523.4,326.3 L523.0,326.6 L522.6,326.9 L522.3,327.1 L522.0,327.4 L521.7,327.6 L521.4,327.9 L521.1,328.1 L520.7,328.4 L520.3,328.7 L519.9,329.0 L519.6,329.2 L519.3,329.4 L519.0,329.6 L518.6,329.9 L518.1,330.2 L517.8,330.4 L517.5,330.6 L517.2,330.8 L516.8,331.1 L516.4,331.4 L516.0,331.6 L515.7,331.9 L515.4,332.1 L515.1,332.3 L514.7,332.6 L514.3,332.9 L513.9,333.2 L513.6,333.4 L513.3,333.6 L513.0,333.9 L512.7,334.1 L512.3,334.4 L512.0,334.7 L511.6,335.0 L511.3,335.3 L510.9,335.6 L510.6,335.9 L510.3,336.1 L510.0,336.4 L509.7,336.7 L509.4,336.9 L509.1,337.2 L508.8,337.5 L508.5,337.8 L508.2,338.0 L507.9,338.3 L507.6,338.6 L507.3,338.9 L507.0,339.2 L506.7,339.5 L506.4,339.8 L506.1,340.1 L505.8,340.4 L505.4,340.7 L505.1,341.0 L504.8,341.3 L504.5,341.6 L504.1,341.9 L503.8,342.2 L503.4,342.5 L503.1,342.8 L502.8,343.0 L502.5,343.3 L502.2,343.5 L501.9,343.8 L501.6,344.0 L501.3,344.3 L500.9,344.6 L500.5,344.9 L500.2,345.2 L499.8,345.5 L499.5,345.7 L499.2,346.0 L498.9,346.2 L498.6,346.5 L498.3,346.7 L497.9,347.0 L497.5,347.3 L497.1,347.6 L496.8,347.8 L496.5,348.1 L496.2,348.3 L495.9,348.5 L495.5,348.8 L495.1,349.1 L494.7,349.4 L494.4,349.7 L494.1,349.9 L493.8,350.1 L493.5,350.4 L493.2,350.6 L492.8,350.9 L492.5,351.2 L492.1,351.5 L491.7,351.8 L491.4,352.1 L491.1,352.3 L490.8,352.5 L490.5,352.7 L489.9,353.0 L489.6,353.2 L489.3,353.4 L488.9,353.6 L488.4,353.9 L488.1,354.0 L487.8,354.2 L487.3,354.5 L486.9,354.7 L486.6,354.9 L486.3,355.1 L485.7,355.4 L485.4,355.6 L485.1,355.8 L484.8,356.0 L484.3,356.3 L483.9,356.5 L483.6,356.7 L483.3,356.9 L482.8,357.2 L482.4,357.5 L482.1,357.7 L481.8,357.9 L481.4,358.1 L481.0,358.4 L480.6,358.7 L480.3,358.9 L480.0,359.1 L479.7,359.3 L479.2,359.6 L478.8,359.9 L478.5,360.1 L478.2,360.2 L477.8,360.5 L477.3,360.8 L477.0,361.0 L476.7,361.2 L476.4,361.4 L475.9,361.7 L475.5,361.9 L475.2,362.1 L474.9,362.3 L474.5,362.6 L474.0,362.9 L473.7,363.1 L473.4,363.3 L473.1,363.5 L472.6,363.8 L472.2,364.0 L471.9,364.2 L471.6,364.4 L471.1,364.7 L470.7,364.9 L470.4,365.1 L470.1,365.3 L469.5,365.6 L469.2,365.8 L468.9,366.0 L468.5,366.2 L468.0,366.5 L467.7,366.6 L467.4,366.8 L466.8,367.1 L466.5,367.3 L466.2,367.5 L465.8,367.7 L465.3,368.0 L465.0,368.2 L464.7,368.4 L464.3,368.6 L463.9,368.9 L463.5,369.1 L463.2,369.3 L462.9,369.5 L462.5,369.8 L462.1,370.1 L461.7,370.4 L461.4,370.6 L461.1,370.8 L460.8,371.0 L460.4,371.3 L460.0,371.6 L459.6,371.9 L459.3,372.2 L459.0,372.4 L458.7,372.6 L458.4,372.9 L458.1,373.1 L457.7,373.4 L457.3,373.7 L456.9,374.0 L456.6,374.3 L456.3,374.5 L456.0,374.7 L455.7,375.0 L455.4,375.2 L455.0,375.5 L454.7,375.8 L454.3,376.1 L453.9,376.4 L453.6,376.6 L453.3,376.8 L453.0,377.1 L452.7,377.3 L452.3,377.6 L451.9,377.9 L451.5,378.2 L451.2,378.4 L450.9,378.6 L450.6,378.8 L450.2,379.1 L449.8,379.4 L449.4,379.7 L449.1,379.9 L448.8,380.1 L448.5,380.3 L448.2,380.6 L447.7,380.9 L447.3,381.2 L447.0,381.4 L446.7,381.7 L446.4,381.9 L446.1,382.1 L445.7,382.4 L445.3,382.7 L444.9,383.0 L444.6,383.3 L444.3,383.5 L444.0,383.7 L443.7,384.0 L443.4,384.2 L443.0,384.5 L442.7,384.8 L442.3,385.1 L441.9,385.4 L441.6,385.7 L441.3,385.9 L441.0,386.2 L440.7,386.4 L440.4,386.7 L440.1,386.9 L439.7,387.2 L439.4,387.5 L439.0,387.8 L438.7,388.1 L438.3,388.4 L438.0,388.6 L437.7,388.9 L437.4,389.1 L437.1,389.4 L436.8,389.6 L436.5,389.9 L436.1,390.2 L435.8,390.5 L435.4,390.8 L435.0,391.1 L434.7,391.4 L434.4,391.6 L434.1,391.8 L433.8,392.1 L433.5,392.3 L433.2,392.6 L432.8,392.9 L432.4,393.2 L432.0,393.5 L431.7,393.8 L431.4,394.0 L431.1,394.2 L430.8,394.5 L430.5,394.7 L430.1,395.0 L429.7,395.3 L429.3,395.6 L429.0,395.8 L428.7,396.1 L428.4,396.3 L428.1,396.5 L427.7,396.8 L427.3,397.1 L426.9,397.4 L426.6,397.6 L426.3,397.8 L426.0,398.1 L425.7,398.3 L425.3,398.6 L424.9,398.9 L424.5,399.2 L424.2,399.4 L423.9,399.6 L423.6,399.8 L423.2,400.1 L422.8,400.4 L422.4,400.7 L422.1,400.8 L421.8,401.0 L421.2,401.3 L420.9,401.5 L420.6,401.6 L420.1,401.9 L419.7,402.1 L419.4,402.2 L418.9,402.5 L418.5,402.7 L418.2,402.9 L417.7,403.1 L417.3,403.3 L417.0,403.5 L416.5,403.7 L416.1,403.9 L415.8,404.1 L415.4,404.3 L414.9,404.5 L414.6,404.7 L414.2,404.9 L413.7,405.1 L413.4,405.3 L413.0,405.5 L412.5,405.8 L412.2,405.9 L412.2,405.9"/>
<path d="M411.6,406.2 L411.6,405.9 L411.6,406.2 L411.6,406.2"/>
<path d="M411.3,406.4 L411.3,406.4 L411.3,406.4 L411.3,406.4"/>
<path d="M428.1,391.4 L427.7,391.4 L427.9,391.1 L428.1,390.8 L428.4,390.4 L428.7,390.0 L429.0,389.6 L429.2,389.3 L429.4,389.0 L429.6,388.7 L429.9,388.3 L430.2,387.8 L430.4,387.5 L430.7,387.2 L430.9,386.9 L431.1,386.6 L431.4,386.1 L431.7,385.7 L431.9,385.4 L432.1,385.1 L432.3,384.8 L432.6,384.4 L432.9,384.0 L433.2,383.6 L433.4,383.3 L433.6,383.0 L433.8,382.7 L434.1,382.3 L434.4,381.8 L434.6,381.5 L434.8,381.2 L435.1,380.9 L435.3,380.6 L435.6,380.2 L435.9,379.9 L436.2,379.5 L436.5,379.2 L436.8,378.8 L437.1,378.5 L437.4,378.2 L437.6,377.9 L437.9,377.6 L438.2,377.3 L438.4,377.0 L438.7,376.7 L439.0,376.4 L439.2,376.1 L439.5,375.8 L439.8,375.5 L440.1,375.1 L440.4,374.8 L440.7,374.4 L441.0,374.1 L441.3,373.7 L441.6,373.4 L441.8,373.1 L442.1,372.8 L442.3,372.5 L442.6,372.2 L442.8,371.9 L443.1,371.5 L443.4,371.2 L443.7,370.8 L444.0,370.5 L444.3,370.1 L444.6,369.8 L444.9,369.5 L445.1,369.2 L445.4,368.9 L445.7,368.6 L445.9,368.3 L446.2,368.0 L446.5,367.7 L446.8,367.4 L447.1,367.1 L447.4,366.8 L447.7,366.5 L448.0,366.2 L448.4,365.9 L448.7,365.6 L449.0,365.3 L449.3,365.0 L449.7,364.7 L450.0,364.4 L450.3,364.1 L450.6,363.9 L450.9,363.6 L451.2,363.3 L451.5,363.1 L451.8,362.8 L452.1,362.5 L452.4,362.3 L452.7,362.0 L453.0,361.7 L453.4,361.4 L453.7,361.1 L454.0,360.8 L454.4,360.5 L454.7,360.2 L455.0,359.9 L455.3,359.6 L455.7,359.3 L456.0,359.0 L456.3,358.7 L456.6,358.4 L456.9,358.1 L457.2,357.8 L457.5,357.5 L457.8,357.2 L458.1,356.9 L458.4,356.6 L458.7,356.3 L459.0,356.0 L459.2,355.7 L459.5,355.4 L459.8,355.1 L460.1,354.8 L460.3,354.5 L460.6,354.2 L460.9,353.9 L461.2,353.6 L461.4,353.3 L461.7,353.0 L462.0,352.7 L462.3,352.4 L462.6,352.0 L462.9,351.7 L463.2,351.4 L463.5,351.0 L463.8,350.7 L464.1,350.3 L464.4,350.0 L464.6,349.7 L464.9,349.4 L465.1,349.1 L465.4,348.8 L465.6,348.5 L465.9,348.2 L466.2,347.8 L466.5,347.5 L466.8,347.1 L467.1,346.7 L467.3,346.4 L467.4,346.1 L467.7,345.7 L468.0,345.2 L468.1,344.9 L468.3,344.6 L468.6,344.1 L468.8,343.7 L468.9,343.4 L469.2,342.9 L469.3,342.5 L469.5,342.1 L469.7,341.6 L469.8,341.3 L470.0,340.7 L470.1,340.4 L470.3,339.8 L470.4,339.5 L470.6,338.9 L470.7,338.4 L470.8,338.0 L470.9,337.4 L471.0,337.1 L471.1,336.5 L471.2,335.9 L471.3,335.5 L471.4,335.0 L471.5,334.4 L471.6,333.8 L471.6,333.5 L471.8,332.9 L471.9,332.6 L472.1,332.0 L472.2,331.4 L472.2,331.1 L472.3,330.5 L472.5,329.9 L472.5,329.6 L472.7,329.0 L472.8,328.4 L472.9,328.1 L473.1,327.5 L473.1,327.2 L473.3,326.6 L473.4,326.3 L473.6,325.7 L473.7,325.4 L474.0,324.8 L474.1,324.5 L474.3,324.0 L474.5,323.6 L474.7,323.3 L474.9,322.8 L475.1,322.4 L475.3,322.1 L475.5,321.8 L475.8,321.3 L476.1,321.0 L476.4,320.6 L476.6,320.3 L476.9,320.0 L477.1,319.7 L477.4,319.4 L477.7,319.1 L478.0,318.8 L478.3,318.5 L478.5,318.2 L478.9,317.9 L479.2,317.6 L479.5,317.3 L479.8,317.0 L480.2,316.7 L480.5,316.4 L480.8,316.1 L481.2,315.8 L481.5,315.5 L481.8,315.2 L482.1,314.9 L482.4,314.6 L482.7,314.4 L483.0,314.0 L483.3,313.7 L483.6,313.4 L483.8,313.1 L484.1,312.8 L484.3,312.5 L484.5,312.2 L484.8,311.7 L485.0,311.3 L485.2,311.0 L485.4,310.4 L485.5,310.1 L485.7,309.6 L485.8,309.2 L486.0,308.6 L486.1,308.3 L486.2,307.7 L486.3,307.4 L486.5,306.8 L486.6,306.3 L486.7,305.9 L486.9,305.4 L487.1,305.0 L487.2,304.7 L487.4,304.1 L487.5,303.8 L487.8,303.4 L488.4,303.3 L488.9,303.5 L489.3,303.6 L489.8,303.8 L490.2,304.1 L490.5,304.4 L490.8,304.7 L491.0,305.0 L491.2,305.3 L491.4,305.6 L491.7,306.0 L492.0,306.4 L492.3,306.8 L492.5,307.1 L492.8,307.4 L493.0,307.7 L493.3,308.0 L493.7,308.3 L494.0,308.6 L494.4,308.9 L494.7,309.1 L495.0,309.2 L495.5,309.5 L495.9,309.7 L496.5,309.8 L497.0,309.8 L497.4,309.8 L498.0,309.8 L498.6,309.8 L498.9,309.8 L499.5,309.8 L500.1,309.7 L500.7,309.6 L501.3,309.5 L501.6,309.5 L502.2,309.3 L502.5,309.2 L503.1,309.0 L503.4,308.9 L504.0,308.6 L504.3,308.5 L504.6,308.3 L505.1,308.0 L505.5,307.8 L505.8,307.5 L506.1,307.3 L506.4,307.1 L506.7,306.8 L507.0,306.5 L507.3,306.2 L507.6,305.8 L507.9,305.5 L508.2,305.1 L508.4,304.7 L508.6,304.4 L508.8,304.1 L509.1,303.6 L509.3,303.2 L509.4,302.9 L509.7,302.4 L509.9,302.0 L510.0,301.7 L510.2,301.1 L510.4,300.8 L510.6,300.3 L510.7,299.9 L510.7,299.3 L510.8,298.7 L510.8,298.1 L510.9,297.8 L511.0,297.2 L511.0,296.6 L511.1,296.0 L511.2,295.4 L511.3,295.1 L511.4,294.5 L511.5,294.2 L511.8,293.6 L511.9,293.3 L512.1,293.0 L512.4,292.5 L512.7,292.1 L512.9,291.8 L513.1,291.5 L513.4,291.2 L513.7,290.9 L514.0,290.6 L514.4,290.3 L514.7,290.0 L515.1,289.7 L515.4,289.5 L515.7,289.2 L516.0,289.0 L516.6,288.8 L516.9,288.8 L517.5,288.7 L518.1,288.6 L518.4,288.5 L519.0,288.3 L519.3,288.2 L519.9,288.0 L520.2,287.8 L520.7,287.6 L521.1,287.4 L521.4,287.2 L521.7,287.0 L522.2,286.7 L522.6,286.4 L522.9,286.1 L523.2,285.8 L523.5,285.5 L523.8,285.2 L524.1,284.9 L524.3,284.6 L524.5,284.3 L524.7,284.0 L525.0,283.6 L525.3,283.1 L525.5,282.8 L525.6,282.5 L525.9,282.1 L526.3,281.9 L526.8,281.6 L527.1,281.5 L527.5,281.3 L528.0,281.0 L528.3,280.9 L528.8,280.7 L529.2,280.5 L529.5,280.4 L530.1,280.1 L530.4,280.0 L530.9,279.8 L531.3,279.6 L531.6,279.5 L532.2,279.2 L532.5,279.1 L532.8,278.9 L533.4,278.6 L533.7,278.4 L534.0,278.2 L534.3,278.0 L534.7,277.7 L535.1,277.4 L535.4,277.1 L535.7,276.8 L536.0,276.5 L536.2,276.2 L536.5,275.9 L536.7,275.6 L537.0,275.2 L537.3,274.8 L537.5,274.4 L537.7,274.1 L537.9,273.8 L538.2,273.3 L538.4,272.9 L538.6,272.6 L538.8,272.3 L539.1,271.8 L539.4,271.4 L539.6,271.1 L539.8,270.8 L540.0,270.5 L540.3,270.2 L540.6,269.8 L540.9,269.5 L541.2,269.2 L541.5,268.9 L541.8,268.7 L542.4,268.4 L542.7,268.3 L543.1,268.1 L543.6,267.9 L544.1,267.8 L544.5,267.7 L545.1,267.5 L545.4,267.5 L546.0,267.3 L546.5,267.2 L546.9,267.1 L547.4,266.9 L547.8,266.8 L548.3,266.6 L548.7,266.5 L549.2,266.3 L549.6,266.2 L550.0,266.0 L550.5,265.8 L551.0,265.7 L551.4,265.6 L552.0,265.4 L552.3,265.3 L552.8,265.1 L553.2,264.9 L553.6,264.8 L554.1,264.6 L554.4,264.4 L554.9,264.2 L555.3,264.0 L555.6,263.8 L556.0,263.6 L556.5,263.3 L556.8,263.1 L557.1,263.0 L557.5,262.7 L558.0,262.4 L558.3,262.2 L558.6,262.0 L558.9,261.7 L559.2,261.5 L559.6,261.2 L560.0,260.9 L560.4,260.6 L560.7,260.4 L561.0,260.2 L561.5,260.0 L561.9,259.9 L562.4,259.7 L562.8,259.5 L563.2,259.4 L563.7,259.2 L564.1,259.1 L564.6,258.9 L565.0,258.8 L565.5,258.6 L565.9,258.5 L566.4,258.3 L566.7,258.2 L567.3,257.9 L567.6,257.7 L567.9,257.6 L568.5,257.3 L568.8,257.2 L569.3,257.0 L569.7,256.8 L570.1,256.7 L570.6,256.5 L570.9,256.4 L571.5,256.1 L571.8,256.0 L572.4,255.8 L572.7,255.7 L573.1,255.5 L573.6,255.3 L573.9,255.2 L574.5,254.9 L574.8,254.8 L575.4,254.6 L575.7,254.5 L576.3,254.3 L576.6,254.2 L577.2,254.2 L577.8,254.1 L578.4,254.1 L579.0,254.1 L579.6,254.0 L579.9,254.0 L580.5,253.9 L581.1,253.9 L581.6,254.0 L581.6,254.6 L581.5,255.2 L581.4,255.6 L581.3,256.1 L581.2,256.7 L581.2,257.3 L581.1,257.8 L581.1,258.2 L580.9,258.8 L580.8,259.2 L580.6,259.7 L580.5,260.0 L580.2,260.6 L580.1,260.9 L579.9,261.3 L579.7,261.8 L579.5,262.1 L579.3,262.6 L579.1,263.0 L579.0,263.3 L578.7,263.9 L578.6,264.2 L578.4,264.7 L578.3,265.1 L578.1,265.5 L577.9,266.0 L577.8,266.3 L577.5,266.9 L577.4,267.2 L577.2,267.8 L577.1,268.1 L576.9,268.7 L576.8,269.0 L576.6,269.6 L576.6,269.9 L576.5,270.5 L576.5,271.1 L576.4,271.7 L576.3,272.3 L576.3,272.6 L576.2,273.2 L576.1,273.8 L576.1,274.4 L576.0,274.7 L575.9,275.3 L575.9,275.9 L575.8,276.5 L575.7,276.8 L575.4,277.3 L575.1,277.7 L574.9,278.0 L574.7,278.3 L574.5,278.6 L574.2,279.0 L573.9,279.4 L573.6,279.8 L573.4,280.1 L573.1,280.4 L572.9,280.7 L572.6,281.0 L572.3,281.3 L572.1,281.6 L571.8,281.9 L571.5,282.2 L571.2,282.6 L570.9,282.9 L570.6,283.2 L570.3,283.6 L570.0,283.9 L569.7,284.3 L569.4,284.6 L569.2,284.9 L569.0,285.2 L568.8,285.5 L568.5,285.8 L568.2,286.1 L567.9,286.4 L567.6,286.7 L567.3,287.0 L567.0,287.4 L566.7,287.7 L566.4,288.1 L566.1,288.5 L565.9,288.8 L565.6,289.1 L565.4,289.4 L565.2,289.7 L564.9,290.2 L564.6,290.6 L564.4,290.9 L564.2,291.2 L564.0,291.6 L563.7,292.0 L563.4,292.3 L563.1,292.6 L562.8,292.8 L562.5,293.1 L562.2,293.3 L561.8,293.6 L561.4,293.9 L561.0,294.1 L560.7,294.3 L560.4,294.5 L559.9,294.8 L559.5,295.0 L559.2,295.2 L558.8,295.4 L558.3,295.6 L558.0,295.8 L557.4,296.0 L557.1,296.1 L556.7,296.3 L556.2,296.5 L555.9,296.6 L555.3,296.8 L555.0,296.9 L554.4,297.2 L554.1,297.3 L553.7,297.5 L553.2,297.8 L552.9,298.0 L552.6,298.1 L552.1,298.4 L551.7,298.6 L551.4,298.8 L551.1,299.0 L550.7,299.3 L550.2,299.6 L549.9,299.8 L549.6,300.0 L549.3,300.3 L549.0,300.5 L548.6,300.8 L548.2,301.1 L547.8,301.4 L547.5,301.6 L547.2,301.9 L546.9,302.1 L546.6,302.4 L546.3,302.6 L546.0,302.9 L545.6,303.2 L545.2,303.5 L544.9,303.8 L544.5,304.1 L544.2,304.4 L543.9,304.6 L543.6,304.8 L543.3,305.1 L543.0,305.3 L542.7,305.6 L542.3,305.9 L541.9,306.2 L541.5,306.5 L541.2,306.8 L540.9,307.0 L540.6,307.2 L540.3,307.5 L540.0,307.7 L539.7,308.0 L539.3,308.3 L538.9,308.6 L538.6,308.9 L538.2,309.2 L537.9,309.4 L537.6,309.7 L537.3,310.0 L537.0,310.2 L536.7,310.5 L536.4,310.7 L536.1,311.0 L535.8,311.3 L535.5,311.6 L535.1,311.9 L534.8,312.2 L534.5,312.5 L534.1,312.8 L533.8,313.1 L533.4,313.4 L533.1,313.7 L532.8,313.9 L532.5,314.2 L532.2,314.4 L531.9,314.7 L531.6,314.9 L531.2,315.2 L530.8,315.5 L530.4,315.8 L530.1,316.0 L529.8,316.2 L529.4,316.4 L528.9,316.7 L528.6,316.9 L528.3,317.1 L528.0,317.3 L527.6,317.6 L527.2,317.9 L526.8,318.2 L526.5,318.4 L526.2,318.6 L525.9,318.9 L525.6,319.1 L525.2,319.4 L524.8,319.7 L524.4,320.0 L524.1,320.3 L523.8,320.5 L523.5,320.8 L523.2,321.0 L522.9,321.3 L522.6,321.5 L522.3,321.8 L521.9,322.1 L521.6,322.4 L521.2,322.7 L520.9,323.0 L520.5,323.3 L520.2,323.6 L519.9,323.8 L519.6,324.1 L519.3,324.4 L519.0,324.6 L518.7,324.9 L518.4,325.1 L518.1,325.4 L517.7,325.7 L517.3,326.0 L516.9,326.3 L516.6,326.6 L516.3,326.8 L516.0,327.0 L515.7,327.3 L515.4,327.5 L515.0,327.8 L514.6,328.1 L514.2,328.4 L513.9,328.6 L513.6,328.9 L513.3,329.1 L513.0,329.3 L512.6,329.6 L512.2,329.9 L511.8,330.2 L511.5,330.5 L511.2,330.7 L510.9,330.9 L510.6,331.2 L510.3,331.4 L510.0,331.7 L509.6,332.0 L509.2,332.3 L508.9,332.6 L508.5,332.9 L508.2,333.2 L507.9,333.4 L507.6,333.7 L507.3,333.9 L507.0,334.2 L506.7,334.5 L506.4,334.8 L506.1,335.0 L505.8,335.3 L505.5,335.6 L505.2,335.9 L504.8,336.2 L504.5,336.5 L504.2,336.8 L503.9,337.1 L503.6,337.4 L503.3,337.7 L503.0,338.0 L502.7,338.3 L502.4,338.6 L502.1,338.9 L501.8,339.2 L501.5,339.5 L501.2,339.8 L500.9,340.1 L500.6,340.4 L500.3,340.7 L500.0,341.0 L499.7,341.3 L499.3,341.6 L499.0,341.9 L498.7,342.2 L498.4,342.5 L498.0,342.8 L497.7,343.1 L497.4,343.4 L497.1,343.7 L496.8,343.9 L496.5,344.2 L496.2,344.5 L495.9,344.7 L495.6,345.0 L495.3,345.2 L495.0,345.5 L494.6,345.8 L494.3,346.1 L493.9,346.4 L493.6,346.7 L493.2,347.0 L492.9,347.3 L492.6,347.5 L492.3,347.8 L492.0,348.0 L491.7,348.3 L491.4,348.5 L491.1,348.8 L490.7,349.1 L490.3,349.4 L490.0,349.7 L489.6,350.0 L489.3,350.3 L489.0,350.5 L488.7,350.7 L488.3,350.9 L487.8,351.2 L487.5,351.3 L487.2,351.5 L486.8,351.8 L486.3,352.1 L486.0,352.3 L485.7,352.5 L485.4,352.7 L484.9,353.0 L484.5,353.3 L484.2,353.5 L483.9,353.7 L483.6,353.9 L483.1,354.2 L482.7,354.5 L482.4,354.7 L482.1,354.9 L481.8,355.1 L481.3,355.4 L480.9,355.7 L480.6,355.9 L480.3,356.2 L480.0,356.4 L479.7,356.6 L479.3,356.9 L478.9,357.2 L478.5,357.5 L478.2,357.7 L477.9,357.9 L477.6,358.1 L477.2,358.4 L476.8,358.7 L476.4,359.0 L476.1,359.2 L475.8,359.4 L475.5,359.6 L475.0,359.9 L474.6,360.2 L474.3,360.4 L474.0,360.6 L473.7,360.8 L473.2,361.1 L472.8,361.4 L472.5,361.5 L472.2,361.7 L471.8,362.0 L471.3,362.3 L471.0,362.5 L470.7,362.7 L470.3,362.9 L469.8,363.2 L469.5,363.4 L469.2,363.5 L468.8,363.8 L468.3,364.1 L468.0,364.2 L467.7,364.4 L467.2,364.7 L466.8,364.9 L466.5,365.1 L466.2,365.3 L465.7,365.6 L465.3,365.9 L465.0,366.0 L464.7,366.2 L464.3,366.5 L463.8,366.8 L463.5,367.0 L463.2,367.2 L462.9,367.4 L462.5,367.7 L462.1,368.0 L461.7,368.2 L461.4,368.5 L461.1,368.7 L460.8,368.9 L460.4,369.2 L460.0,369.5 L459.6,369.8 L459.3,370.0 L459.0,370.2 L458.7,370.4 L458.4,370.7 L458.0,371.0 L457.6,371.3 L457.2,371.6 L456.9,371.8 L456.6,372.1 L456.3,372.3 L456.0,372.5 L455.6,372.8 L455.3,373.1 L454.9,373.4 L454.5,373.7 L454.2,373.9 L453.9,374.1 L453.6,374.4 L453.3,374.6 L452.9,374.9 L452.5,375.2 L452.1,375.5 L451.8,375.7 L451.5,375.9 L451.2,376.2 L450.9,376.4 L450.5,376.7 L450.0,377.0 L449.7,377.2 L449.4,377.5 L449.1,377.7 L448.8,377.9 L448.4,378.2 L448.0,378.5 L447.6,378.8 L447.3,379.0 L447.0,379.2 L446.7,379.4 L446.3,379.7 L445.9,380.0 L445.5,380.3 L445.2,380.5 L444.9,380.7 L444.6,381.0 L444.3,381.2 L443.9,381.5 L443.5,381.8 L443.1,382.1 L442.8,382.3 L442.5,382.5 L442.2,382.8 L441.9,383.0 L441.4,383.3 L441.0,383.6 L440.7,383.8 L440.4,384.0 L440.1,384.2 L439.7,384.5 L439.2,384.8 L438.9,385.0 L438.6,385.2 L438.3,385.4 L437.9,385.7 L437.4,386.0 L437.1,386.2 L436.8,386.4 L436.4,386.6 L436.0,386.9 L435.6,387.1 L435.3,387.3 L435.0,387.5 L434.5,387.8 L434.1,388.0 L433.8,388.2 L433.5,388.4 L432.9,388.7 L432.6,388.9 L432.3,389.1 L431.9,389.3 L431.4,389.6 L431.1,389.7 L430.8,389.9 L430.3,390.2 L429.9,390.4 L429.6,390.6 L429.2,390.8 L428.7,391.1 L428.4,391.2 L428.1,391.4 L428.1,391.4"/>
<path d="M445.8,375.6 L445.3,375.5 L445.5,375.2 L445.8,374.8 L446.1,374.3 L446.3,374.0 L446.6,373.7 L446.8,373.4 L447.0,373.0 L447.3,372.6 L447.6,372.2 L447.8,371.9 L448.0,371.6 L448.2,371.3 L448.5,370.9 L448.8,370.4 L449.0,370.1 L449.2,369.8 L449.4,369.5 L449.7,369.1 L450.0,368.7 L450.3,368.3 L450.5,368.0 L450.7,367.7 L451.0,367.4 L451.2,367.1 L451.5,366.7 L451.8,366.4 L452.1,366.0 L452.4,365.6 L452.7,365.3 L452.9,365.0 L453.2,364.7 L453.4,364.4 L453.7,364.1 L454.0,363.8 L454.2,363.5 L454.5,363.2 L454.8,362.9 L455.1,362.6 L455.4,362.3 L455.7,362.0 L456.0,361.7 L456.3,361.4 L456.6,361.1 L456.9,360.8 L457.2,360.5 L457.5,360.2 L457.8,359.8 L458.1,359.5 L458.4,359.2 L458.7,358.9 L459.0,358.6 L459.3,358.3 L459.6,358.0 L459.9,357.6 L460.2,357.3 L460.5,357.0 L460.8,356.6 L461.1,356.3 L461.4,356.0 L461.6,355.7 L461.9,355.4 L462.2,355.1 L462.4,354.8 L462.7,354.5 L463.0,354.2 L463.2,353.9 L463.5,353.6 L463.8,353.2 L464.1,352.9 L464.4,352.5 L464.7,352.2 L465.0,351.8 L465.3,351.5 L465.5,351.2 L465.8,350.9 L466.0,350.6 L466.3,350.3 L466.5,350.0 L466.8,349.7 L467.1,349.3 L467.4,348.9 L467.7,348.5 L468.0,348.2 L468.2,347.9 L468.4,347.6 L468.6,347.3 L468.9,346.9 L469.2,346.5 L469.5,346.1 L469.7,345.8 L469.9,345.5 L470.2,345.2 L470.4,344.9 L470.7,344.4 L471.0,344.0 L471.2,343.7 L471.4,343.4 L471.6,343.0 L471.9,342.5 L472.1,342.2 L472.2,341.9 L472.4,341.3 L472.6,341.0 L472.8,340.4 L472.9,340.1 L473.1,339.5 L473.2,339.2 L473.3,338.6 L473.4,338.3 L473.6,337.7 L473.7,337.3 L473.9,336.8 L474.0,336.3 L474.1,335.9 L474.3,335.5 L474.5,335.0 L474.6,334.7 L474.9,334.1 L475.1,333.8 L475.2,333.5 L475.5,332.9 L475.6,332.6 L475.8,332.1 L476.0,331.7 L476.1,331.4 L476.4,330.8 L476.6,330.5 L476.7,330.2 L477.0,329.6 L477.1,329.3 L477.3,328.9 L477.6,328.4 L477.7,328.1 L477.9,327.7 L478.2,327.2 L478.4,326.9 L478.6,326.6 L478.8,326.2 L479.1,325.7 L479.4,325.4 L479.6,325.1 L479.9,324.8 L480.2,324.5 L480.4,324.2 L480.7,323.9 L481.1,323.6 L481.4,323.3 L481.8,323.0 L482.1,322.8 L482.4,322.5 L482.7,322.3 L483.1,322.1 L483.6,321.8 L483.9,321.6 L484.2,321.4 L484.6,321.2 L485.1,321.0 L485.4,320.8 L485.9,320.6 L486.3,320.4 L486.6,320.3 L487.2,320.1 L487.5,319.9 L488.1,319.7 L488.4,319.6 L488.9,319.4 L489.3,319.2 L489.7,319.1 L490.2,318.9 L490.5,318.8 L491.1,318.5 L491.4,318.4 L491.9,318.2 L492.3,318.0 L492.7,317.9 L493.2,317.7 L493.5,317.6 L494.1,317.3 L494.4,317.2 L495.0,317.0 L495.3,316.9 L495.9,316.7 L496.2,316.6 L496.8,316.4 L497.1,316.3 L497.7,316.1 L498.0,316.0 L498.6,315.8 L498.9,315.8 L499.5,315.6 L499.8,315.5 L500.4,315.3 L500.7,315.2 L501.3,314.9 L501.6,314.8 L502.2,314.6 L502.5,314.5 L502.9,314.3 L503.4,314.1 L503.7,313.9 L504.1,313.7 L504.6,313.4 L504.9,313.3 L505.2,313.1 L505.7,312.8 L506.1,312.6 L506.4,312.4 L506.7,312.2 L507.1,311.9 L507.5,311.6 L507.9,311.3 L508.2,311.1 L508.5,310.9 L508.8,310.6 L509.1,310.4 L509.5,310.1 L509.8,309.8 L510.1,309.5 L510.5,309.2 L510.8,308.9 L511.1,308.6 L511.4,308.3 L511.6,308.0 L511.9,307.7 L512.2,307.4 L512.4,307.1 L512.7,306.8 L513.0,306.4 L513.3,306.0 L513.6,305.6 L513.8,305.3 L513.9,305.0 L514.2,304.6 L514.5,304.1 L514.7,303.8 L514.8,303.5 L515.1,303.0 L515.3,302.6 L515.4,302.3 L515.6,301.7 L515.7,301.3 L515.8,300.8 L516.0,300.2 L516.1,299.9 L516.3,299.3 L516.4,299.0 L516.6,298.4 L516.7,298.1 L516.9,297.6 L517.1,297.2 L517.2,296.9 L517.5,296.3 L517.7,296.0 L517.8,295.7 L518.1,295.3 L518.4,294.8 L518.6,294.5 L518.8,294.2 L519.0,293.9 L519.3,293.6 L519.6,293.2 L519.9,292.8 L520.2,292.5 L520.5,292.2 L520.8,291.8 L521.1,291.5 L521.4,291.2 L521.7,290.9 L522.0,290.6 L522.3,290.3 L522.6,290.0 L522.9,289.7 L523.2,289.4 L523.5,289.1 L523.8,288.9 L524.1,288.6 L524.4,288.3 L524.7,288.1 L525.0,287.8 L525.3,287.6 L525.6,287.3 L526.0,287.0 L526.4,286.7 L526.8,286.4 L527.1,286.2 L527.4,286.0 L527.7,285.8 L528.2,285.5 L528.6,285.2 L528.9,285.0 L529.2,284.9 L529.7,284.6 L530.1,284.4 L530.4,284.2 L530.8,284.0 L531.3,283.7 L531.6,283.6 L532.0,283.4 L532.5,283.1 L532.8,283.0 L533.2,282.8 L533.7,282.5 L534.0,282.4 L534.3,282.2 L534.8,281.9 L535.2,281.7 L535.5,281.5 L535.8,281.3 L536.2,281.0 L536.6,280.7 L536.9,280.4 L537.3,280.1 L537.6,279.8 L537.9,279.5 L538.2,279.2 L538.5,278.9 L538.8,278.6 L539.0,278.3 L539.2,278.0 L539.5,277.7 L539.7,277.4 L540.0,277.0 L540.3,276.5 L540.5,276.2 L540.7,275.9 L540.9,275.6 L541.2,275.1 L541.5,274.7 L541.7,274.4 L541.9,274.1 L542.1,273.8 L542.4,273.4 L542.7,273.0 L543.0,272.6 L543.3,272.3 L543.6,272.0 L543.8,271.7 L544.1,271.4 L544.5,271.1 L544.8,270.9 L545.1,270.8 L545.6,270.5 L546.0,270.3 L546.3,270.2 L546.9,269.9 L547.2,269.8 L547.6,269.6 L548.1,269.4 L548.4,269.2 L549.0,269.0 L549.3,268.9 L549.7,268.7 L550.2,268.5 L550.5,268.4 L551.1,268.1 L551.4,268.0 L551.8,267.8 L552.3,267.6 L552.6,267.5 L553.2,267.2 L553.5,267.1 L554.0,266.9 L554.4,266.7 L554.7,266.6 L555.3,266.3 L555.6,266.2 L555.9,266.0 L556.5,265.7 L556.8,265.5 L557.1,265.4 L557.5,265.1 L558.0,264.8 L558.3,264.6 L558.6,264.4 L559.0,264.2 L559.4,263.9 L559.8,263.7 L560.1,263.5 L560.4,263.2 L560.8,263.0 L561.2,262.7 L561.6,262.4 L561.9,262.2 L562.2,262.0 L562.5,261.8 L563.1,261.6 L563.4,261.5 L564.0,261.3 L564.5,261.2 L564.9,261.1 L565.5,260.9 L565.8,260.8 L566.4,260.7 L566.7,260.6 L567.3,260.4 L567.9,260.3 L568.2,260.2 L568.6,260.0 L569.1,259.8 L569.4,259.7 L570.0,259.4 L570.3,259.3 L570.8,259.1 L571.2,259.0 L571.8,258.9 L572.4,258.8 L572.7,258.7 L573.3,258.6 L573.9,258.5 L574.2,258.5 L574.8,258.4 L575.4,258.3 L575.7,258.2 L576.3,258.1 L576.9,258.0 L577.1,258.5 L576.9,259.1 L576.9,259.4 L576.7,260.0 L576.6,260.4 L576.5,260.9 L576.3,261.5 L576.2,261.8 L576.1,262.4 L576.0,262.8 L575.9,263.3 L575.8,263.9 L575.7,264.2 L575.4,264.8 L575.3,265.1 L575.1,265.5 L574.9,266.0 L574.7,266.3 L574.5,266.9 L574.4,267.2 L574.3,267.8 L574.2,268.2 L574.1,268.7 L574.1,269.3 L574.0,269.9 L574.0,270.5 L573.9,270.9 L573.8,271.4 L573.8,272.0 L573.7,272.6 L573.6,273.2 L573.6,273.6 L573.5,274.1 L573.3,274.4 L573.0,274.9 L572.7,275.3 L572.6,275.6 L572.4,275.9 L572.1,276.3 L571.8,276.7 L571.5,277.1 L571.3,277.4 L571.0,277.7 L570.8,278.0 L570.5,278.3 L570.3,278.6 L570.0,278.9 L569.7,279.3 L569.4,279.6 L569.1,279.9 L568.8,280.3 L568.5,280.6 L568.2,280.9 L567.9,281.2 L567.6,281.6 L567.3,281.9 L567.0,282.2 L566.8,282.5 L566.5,282.8 L566.3,283.1 L566.0,283.4 L565.6,283.7 L565.3,284.0 L565.0,284.3 L564.7,284.6 L564.4,284.9 L564.1,285.2 L563.8,285.5 L563.5,285.8 L563.3,286.1 L563.0,286.4 L562.7,286.7 L562.5,287.0 L562.2,287.4 L561.9,287.7 L561.6,288.1 L561.3,288.5 L561.1,288.8 L560.8,289.1 L560.5,289.4 L560.1,289.7 L559.8,289.9 L559.5,290.1 L559.2,290.4 L558.9,290.6 L558.5,290.9 L558.0,291.2 L557.7,291.4 L557.4,291.6 L557.1,291.8 L556.6,292.1 L556.2,292.4 L555.9,292.5 L555.6,292.7 L555.1,293.0 L554.7,293.2 L554.4,293.4 L554.1,293.6 L553.5,293.9 L553.2,294.1 L552.9,294.3 L552.5,294.5 L552.0,294.8 L551.7,295.0 L551.4,295.2 L551.0,295.4 L550.6,295.7 L550.2,296.0 L549.9,296.2 L549.6,296.4 L549.3,296.6 L548.9,296.9 L548.5,297.2 L548.2,297.5 L547.8,297.8 L547.5,298.0 L547.2,298.3 L546.9,298.6 L546.6,298.8 L546.3,299.1 L546.0,299.4 L545.7,299.7 L545.4,299.9 L545.1,300.2 L544.8,300.5 L544.5,300.8 L544.2,301.1 L543.8,301.4 L543.5,301.7 L543.2,302.0 L542.9,302.3 L542.6,302.6 L542.2,302.9 L541.9,303.2 L541.6,303.5 L541.2,303.8 L540.9,304.1 L540.6,304.4 L540.3,304.6 L540.0,304.9 L539.7,305.2 L539.4,305.4 L539.1,305.7 L538.8,305.9 L538.5,306.2 L538.1,306.5 L537.8,306.8 L537.4,307.1 L537.1,307.4 L536.7,307.7 L536.4,308.0 L536.1,308.2 L535.8,308.5 L535.5,308.7 L535.2,309.0 L534.9,309.2 L534.6,309.5 L534.2,309.8 L533.8,310.1 L533.5,310.4 L533.1,310.7 L532.8,310.9 L532.5,311.2 L532.2,311.4 L531.9,311.6 L531.6,311.9 L531.2,312.2 L530.8,312.5 L530.4,312.8 L530.1,313.0 L529.8,313.2 L529.5,313.4 L529.1,313.7 L528.6,314.0 L528.3,314.2 L528.0,314.4 L527.7,314.6 L527.3,314.9 L526.8,315.2 L526.5,315.4 L526.2,315.7 L525.9,315.9 L525.6,316.1 L525.3,316.4 L524.9,316.7 L524.5,317.0 L524.1,317.3 L523.8,317.6 L523.5,317.8 L523.2,318.0 L522.9,318.3 L522.6,318.5 L522.3,318.8 L521.9,319.1 L521.6,319.4 L521.2,319.7 L520.8,320.0 L520.5,320.3 L520.2,320.6 L519.9,320.8 L519.6,321.1 L519.3,321.3 L519.0,321.6 L518.7,321.9 L518.4,322.1 L518.1,322.4 L517.7,322.7 L517.4,323.0 L517.0,323.3 L516.7,323.6 L516.3,323.9 L516.0,324.2 L515.7,324.4 L515.4,324.7 L515.1,324.9 L514.8,325.1 L514.5,325.4 L514.1,325.7 L513.7,326.0 L513.3,326.3 L513.0,326.5 L512.7,326.8 L512.4,327.0 L512.1,327.2 L511.8,327.5 L511.4,327.8 L511.0,328.1 L510.6,328.4 L510.3,328.7 L510.0,328.9 L509.7,329.1 L509.4,329.4 L509.1,329.6 L508.8,329.9 L508.4,330.2 L508.1,330.5 L507.7,330.8 L507.4,331.1 L507.0,331.4 L506.7,331.7 L506.4,332.0 L506.1,332.2 L505.8,332.5 L505.5,332.8 L505.2,333.1 L504.9,333.4 L504.6,333.6 L504.3,333.9 L504.0,334.2 L503.7,334.5 L503.4,334.8 L503.1,335.1 L502.8,335.4 L502.5,335.7 L502.2,336.0 L501.9,336.3 L501.6,336.6 L501.3,336.9 L501.0,337.1 L500.7,337.4 L500.4,337.7 L500.1,338.0 L499.8,338.3 L499.5,338.6 L499.2,338.9 L498.9,339.2 L498.5,339.5 L498.2,339.8 L497.9,340.1 L497.6,340.4 L497.3,340.7 L496.9,341.0 L496.6,341.3 L496.3,341.6 L496.0,341.9 L495.6,342.2 L495.3,342.5 L495.0,342.8 L494.7,343.0 L494.4,343.3 L494.1,343.6 L493.8,343.8 L493.5,344.1 L493.2,344.3 L492.9,344.6 L492.6,344.9 L492.2,345.2 L491.9,345.5 L491.5,345.8 L491.2,346.1 L490.8,346.4 L490.5,346.7 L490.2,347.0 L489.9,347.2 L489.6,347.5 L489.3,347.7 L489.0,348.0 L488.7,348.2 L488.4,348.5 L488.0,348.8 L487.7,349.1 L487.2,349.4 L486.9,349.6 L486.6,349.8 L486.3,350.0 L485.8,350.3 L485.4,350.6 L485.1,350.8 L484.8,351.0 L484.4,351.2 L484.0,351.5 L483.6,351.7 L483.3,351.9 L483.0,352.1 L482.5,352.4 L482.1,352.7 L481.8,352.9 L481.5,353.1 L481.1,353.3 L480.6,353.6 L480.3,353.8 L480.0,354.0 L479.7,354.2 L479.3,354.5 L478.8,354.8 L478.5,355.0 L478.2,355.2 L477.9,355.4 L477.5,355.7 L477.1,356.0 L476.7,356.3 L476.4,356.5 L476.1,356.7 L475.8,356.9 L475.3,357.2 L474.9,357.5 L474.6,357.7 L474.3,357.9 L474.0,358.1 L473.5,358.4 L473.1,358.7 L472.8,358.9 L472.5,359.1 L472.1,359.3 L471.6,359.6 L471.3,359.8 L471.0,359.9 L470.6,360.2 L470.1,360.5 L469.8,360.6 L469.5,360.8 L469.0,361.1 L468.6,361.3 L468.3,361.5 L468.0,361.7 L467.5,362.0 L467.1,362.2 L466.8,362.4 L466.5,362.6 L466.0,362.9 L465.6,363.1 L465.3,363.3 L465.0,363.5 L464.5,363.8 L464.1,364.1 L463.8,364.3 L463.5,364.5 L463.2,364.7 L462.8,365.0 L462.3,365.3 L462.0,365.5 L461.7,365.7 L461.4,365.9 L461.1,366.2 L460.6,366.5 L460.2,366.8 L459.9,367.0 L459.6,367.2 L459.3,367.5 L459.0,367.7 L458.5,368.0 L458.1,368.3 L457.8,368.5 L457.5,368.7 L457.1,368.9 L456.7,369.2 L456.3,369.4 L456.0,369.6 L455.7,369.8 L455.3,370.1 L454.8,370.4 L454.5,370.6 L454.2,370.8 L453.8,371.0 L453.4,371.3 L453.0,371.5 L452.7,371.7 L452.4,371.9 L451.8,372.2 L451.5,372.4 L451.2,372.6 L450.8,372.8 L450.3,373.1 L450.0,373.3 L449.7,373.4 L449.2,373.7 L448.8,373.9 L448.5,374.1 L448.1,374.3 L447.6,374.6 L447.3,374.8 L447.0,374.9 L446.5,375.2 L446.1,375.4 L445.8,375.6 L445.8,375.6"/>
<path d="M445.2,375.9 L445.2,375.6 L445.2,375.9 L445.2,375.9"/>
<path d="M462.6,360.6 L462.0,360.5 L462.3,360.1 L462.6,359.6 L462.8,359.3 L463.0,359.0 L463.2,358.6 L463.5,358.2 L463.7,357.8 L463.9,357.5 L464.1,357.2 L464.4,356.8 L464.7,356.3 L464.9,356.0 L465.1,355.7 L465.3,355.4 L465.6,354.9 L465.9,354.5 L466.1,354.2 L466.3,353.9 L466.5,353.6 L466.8,353.1 L467.1,352.7 L467.3,352.4 L467.4,352.1 L467.7,351.7 L468.0,351.2 L468.2,350.9 L468.4,350.6 L468.6,350.3 L468.9,349.9 L469.2,349.5 L469.5,349.1 L469.8,348.8 L470.0,348.5 L470.2,348.2 L470.4,347.9 L470.7,347.5 L471.0,347.1 L471.3,346.7 L471.5,346.4 L471.7,346.1 L471.9,345.8 L472.2,345.3 L472.4,344.9 L472.6,344.6 L472.8,344.3 L473.1,343.8 L473.3,343.4 L473.4,343.1 L473.7,342.6 L473.9,342.2 L474.1,341.9 L474.3,341.5 L474.5,341.0 L474.7,340.7 L474.9,340.4 L475.2,339.8 L475.4,339.5 L475.5,339.2 L475.8,338.7 L476.0,338.3 L476.1,338.0 L476.4,337.5 L476.6,337.1 L476.8,336.8 L477.0,336.4 L477.3,335.9 L477.5,335.6 L477.6,335.3 L477.9,334.9 L478.2,334.4 L478.4,334.1 L478.5,333.8 L478.8,333.4 L479.1,333.0 L479.3,332.6 L479.5,332.3 L479.7,332.0 L480.0,331.6 L480.3,331.2 L480.6,330.8 L480.8,330.5 L481.1,330.2 L481.3,329.9 L481.6,329.6 L481.8,329.3 L482.1,329.0 L482.4,328.7 L482.7,328.4 L483.0,328.1 L483.4,327.8 L483.8,327.5 L484.2,327.2 L484.5,327.0 L484.8,326.8 L485.1,326.6 L485.6,326.3 L486.0,326.1 L486.3,325.9 L486.8,325.7 L487.2,325.5 L487.5,325.4 L488.1,325.1 L488.4,325.0 L488.9,324.8 L489.3,324.7 L489.7,324.5 L490.2,324.3 L490.6,324.2 L491.1,324.0 L491.4,323.9 L492.0,323.7 L492.3,323.6 L492.9,323.4 L493.2,323.3 L493.7,323.0 L494.1,322.8 L494.4,322.6 L494.8,322.4 L495.3,322.1 L495.6,322.0 L495.9,321.8 L496.4,321.5 L496.8,321.3 L497.1,321.1 L497.4,320.9 L498.0,320.6 L498.3,320.4 L498.6,320.2 L498.9,320.0 L499.4,319.7 L499.8,319.5 L500.1,319.3 L500.4,319.1 L500.9,318.8 L501.3,318.5 L501.6,318.3 L501.9,318.1 L502.3,317.9 L502.7,317.6 L503.1,317.3 L503.4,317.1 L503.7,316.9 L504.0,316.7 L504.5,316.4 L504.9,316.1 L505.2,315.9 L505.5,315.7 L505.8,315.4 L506.1,315.2 L506.5,314.9 L506.9,314.6 L507.3,314.3 L507.6,314.1 L507.9,313.9 L508.2,313.6 L508.5,313.4 L508.9,313.1 L509.3,312.8 L509.7,312.5 L510.0,312.2 L510.3,312.0 L510.6,311.7 L510.9,311.5 L511.2,311.2 L511.5,311.0 L511.8,310.7 L512.2,310.4 L512.5,310.1 L512.8,309.8 L513.2,309.5 L513.5,309.2 L513.8,308.9 L514.1,308.6 L514.4,308.3 L514.8,308.0 L515.1,307.7 L515.4,307.4 L515.7,307.1 L515.9,306.8 L516.2,306.5 L516.5,306.2 L516.8,305.9 L517.1,305.6 L517.3,305.3 L517.6,305.0 L517.9,304.7 L518.1,304.4 L518.4,304.0 L518.7,303.6 L519.0,303.2 L519.2,302.9 L519.4,302.6 L519.7,302.3 L519.9,302.0 L520.2,301.5 L520.5,301.1 L520.7,300.8 L520.9,300.5 L521.1,300.2 L521.4,299.7 L521.5,299.3 L521.7,298.9 L521.9,298.4 L522.0,298.1 L522.2,297.5 L522.4,297.2 L522.6,296.7 L522.8,296.3 L522.9,296.0 L523.2,295.5 L523.5,295.1 L523.6,294.8 L523.8,294.5 L524.1,294.1 L524.4,293.7 L524.7,293.3 L524.9,293.0 L525.2,292.7 L525.4,292.4 L525.7,292.1 L526.0,291.8 L526.3,291.5 L526.6,291.2 L526.9,290.9 L527.2,290.6 L527.6,290.3 L527.9,290.0 L528.3,289.7 L528.6,289.5 L528.9,289.3 L529.2,289.1 L529.6,288.8 L530.1,288.5 L530.4,288.3 L530.7,288.1 L531.1,287.9 L531.6,287.7 L531.9,287.5 L532.3,287.3 L532.8,287.1 L533.1,286.9 L533.5,286.7 L534.0,286.5 L534.3,286.3 L534.7,286.1 L535.2,285.8 L535.5,285.7 L535.8,285.5 L536.3,285.2 L536.7,285.0 L537.0,284.8 L537.3,284.6 L537.8,284.3 L538.2,284.0 L538.5,283.8 L538.8,283.5 L539.1,283.3 L539.4,283.0 L539.7,282.8 L540.0,282.5 L540.3,282.2 L540.6,281.9 L540.9,281.5 L541.2,281.2 L541.5,280.8 L541.8,280.5 L542.1,280.1 L542.3,279.8 L542.5,279.5 L542.7,279.2 L543.0,278.7 L543.3,278.3 L543.5,278.0 L543.7,277.7 L543.9,277.3 L544.2,276.9 L544.5,276.5 L544.7,276.2 L544.9,275.9 L545.1,275.6 L545.4,275.2 L545.7,274.8 L546.0,274.4 L546.3,274.1 L546.5,273.8 L546.9,273.5 L547.2,273.3 L547.5,273.0 L547.8,272.8 L548.2,272.6 L548.6,272.3 L549.0,272.1 L549.3,271.9 L549.7,271.7 L550.2,271.4 L550.5,271.2 L550.8,271.0 L551.2,270.8 L551.7,270.6 L552.0,270.4 L552.4,270.2 L552.9,269.9 L553.2,269.7 L553.5,269.6 L554.1,269.3 L554.4,269.2 L554.8,269.0 L555.3,268.8 L555.6,268.6 L556.1,268.4 L556.5,268.2 L556.8,268.0 L557.3,267.8 L557.7,267.6 L558.0,267.4 L558.4,267.2 L558.9,266.9 L559.2,266.7 L559.5,266.5 L559.9,266.3 L560.4,266.0 L560.7,265.8 L561.0,265.6 L561.4,265.4 L561.8,265.1 L562.2,264.9 L562.5,264.7 L562.8,264.5 L563.2,264.2 L563.7,263.9 L564.0,263.7 L564.3,263.6 L564.9,263.4 L565.3,263.3 L565.8,263.2 L566.4,263.2 L567.0,263.2 L567.6,263.3 L568.0,263.3 L568.5,263.3 L569.1,263.4 L569.7,263.4 L570.3,263.5 L570.9,263.6 L571.1,263.9 L571.1,264.5 L571.1,265.1 L571.2,265.7 L571.2,266.3 L571.2,266.7 L571.2,267.2 L571.3,267.8 L571.4,268.4 L571.3,269.0 L571.2,269.6 L571.2,269.9 L571.1,270.5 L571.0,271.1 L570.9,271.4 L570.6,271.9 L570.4,272.3 L570.2,272.6 L570.0,273.0 L569.7,273.5 L569.5,273.8 L569.3,274.1 L569.1,274.5 L568.8,275.0 L568.6,275.3 L568.4,275.6 L568.2,275.9 L567.9,276.3 L567.6,276.7 L567.3,277.1 L567.0,277.4 L566.8,277.7 L566.6,278.0 L566.3,278.3 L566.1,278.6 L565.8,278.9 L565.5,279.3 L565.2,279.6 L564.9,280.0 L564.6,280.3 L564.3,280.7 L564.0,281.0 L563.7,281.3 L563.4,281.5 L563.1,281.8 L562.8,282.1 L562.5,282.3 L562.2,282.6 L561.9,282.9 L561.6,283.2 L561.3,283.5 L561.0,283.8 L560.7,284.1 L560.4,284.4 L560.1,284.7 L559.8,285.0 L559.5,285.3 L559.2,285.6 L558.9,285.9 L558.6,286.2 L558.3,286.5 L558.0,286.7 L557.6,287.0 L557.2,287.3 L556.8,287.6 L556.5,287.8 L556.2,288.0 L555.9,288.2 L555.5,288.5 L555.1,288.8 L554.7,289.1 L554.4,289.3 L554.1,289.5 L553.8,289.7 L553.3,290.0 L552.9,290.3 L552.6,290.5 L552.3,290.7 L552.0,290.9 L551.6,291.2 L551.2,291.5 L550.8,291.8 L550.5,292.0 L550.2,292.2 L549.9,292.4 L549.5,292.7 L549.1,293.0 L548.8,293.3 L548.4,293.6 L548.1,293.9 L547.8,294.1 L547.5,294.4 L547.2,294.6 L546.9,294.9 L546.6,295.2 L546.3,295.5 L546.0,295.7 L545.7,296.0 L545.4,296.3 L545.1,296.6 L544.8,296.9 L544.5,297.2 L544.2,297.5 L543.9,297.8 L543.6,298.2 L543.3,298.5 L543.0,298.8 L542.7,299.1 L542.4,299.4 L542.1,299.7 L541.8,300.0 L541.5,300.3 L541.2,300.7 L540.9,301.0 L540.6,301.3 L540.3,301.5 L540.0,301.8 L539.7,302.1 L539.4,302.4 L539.1,302.7 L538.8,303.0 L538.5,303.3 L538.2,303.5 L537.9,303.8 L537.6,304.1 L537.2,304.4 L536.9,304.7 L536.5,305.0 L536.2,305.3 L535.9,305.6 L535.5,305.9 L535.2,306.2 L534.9,306.4 L534.6,306.7 L534.3,306.9 L534.0,307.2 L533.7,307.4 L533.3,307.7 L533.0,308.0 L532.6,308.3 L532.2,308.6 L531.9,308.8 L531.6,309.1 L531.3,309.3 L531.0,309.5 L530.6,309.8 L530.2,310.1 L529.8,310.4 L529.5,310.6 L529.2,310.9 L528.9,311.1 L528.6,311.3 L528.2,311.6 L527.7,311.9 L527.4,312.1 L527.1,312.3 L526.8,312.6 L526.4,312.8 L526.0,313.1 L525.6,313.4 L525.3,313.6 L525.0,313.8 L524.7,314.0 L524.4,314.3 L524.0,314.6 L523.6,314.9 L523.2,315.2 L522.9,315.4 L522.6,315.7 L522.3,315.9 L522.0,316.2 L521.7,316.4 L521.3,316.7 L521.0,317.0 L520.6,317.3 L520.3,317.6 L519.9,317.9 L519.6,318.2 L519.3,318.4 L519.0,318.7 L518.7,318.9 L518.4,319.2 L518.1,319.5 L517.8,319.7 L517.5,320.0 L517.1,320.3 L516.8,320.6 L516.4,320.9 L516.1,321.2 L515.7,321.5 L515.4,321.8 L515.1,322.1 L514.8,322.3 L514.5,322.6 L514.2,322.8 L513.9,323.1 L513.6,323.3 L513.2,323.6 L512.9,323.9 L512.5,324.2 L512.1,324.5 L511.8,324.8 L511.5,325.0 L511.2,325.3 L510.9,325.5 L510.6,325.7 L510.3,326.0 L509.9,326.3 L509.6,326.6 L509.2,326.9 L508.9,327.2 L508.5,327.5 L508.2,327.8 L507.9,328.0 L507.6,328.3 L507.3,328.6 L507.0,328.8 L506.7,329.1 L506.4,329.4 L506.1,329.7 L505.8,329.9 L505.5,330.2 L505.2,330.5 L504.9,330.8 L504.6,331.1 L504.3,331.4 L504.0,331.7 L503.7,332.0 L503.4,332.3 L503.0,332.6 L502.7,332.9 L502.4,333.2 L502.1,333.5 L501.8,333.8 L501.6,334.1 L501.3,334.4 L501.0,334.7 L500.7,335.0 L500.4,335.3 L500.1,335.6 L499.8,335.9 L499.5,336.2 L499.2,336.5 L498.9,336.8 L498.6,337.1 L498.3,337.4 L498.0,337.7 L497.7,338.0 L497.4,338.3 L497.0,338.6 L496.7,338.9 L496.4,339.2 L496.1,339.5 L495.8,339.8 L495.5,340.1 L495.1,340.4 L494.8,340.7 L494.5,341.0 L494.2,341.3 L493.8,341.6 L493.5,341.9 L493.2,342.2 L492.9,342.4 L492.6,342.7 L492.3,343.0 L492.0,343.2 L491.7,343.5 L491.4,343.7 L491.1,344.0 L490.8,344.3 L490.4,344.6 L490.1,344.9 L489.7,345.2 L489.4,345.5 L489.0,345.8 L488.7,346.1 L488.4,346.3 L488.1,346.6 L487.8,346.8 L487.5,347.1 L487.2,347.3 L486.8,347.6 L486.5,347.9 L486.0,348.2 L485.7,348.4 L485.4,348.6 L485.0,348.8 L484.6,349.1 L484.2,349.3 L483.9,349.5 L483.6,349.7 L483.0,350.0 L482.7,350.2 L482.4,350.4 L482.0,350.6 L481.5,350.9 L481.2,351.1 L480.9,351.2 L480.4,351.5 L480.0,351.7 L479.7,351.9 L479.3,352.1 L478.8,352.4 L478.5,352.5 L478.2,352.7 L477.7,353.0 L477.3,353.2 L477.0,353.4 L476.7,353.6 L476.2,353.9 L475.8,354.1 L475.5,354.3 L475.1,354.5 L474.6,354.8 L474.3,355.0 L474.0,355.2 L473.6,355.4 L473.1,355.7 L472.8,355.9 L472.5,356.1 L472.1,356.3 L471.6,356.6 L471.3,356.8 L471.0,356.9 L470.4,357.1 L470.1,357.2 L469.5,357.5 L469.2,357.6 L468.6,357.8 L468.3,357.9 L467.9,358.1 L467.4,358.3 L467.1,358.5 L466.6,358.7 L466.2,358.9 L465.9,359.0 L465.3,359.3 L465.0,359.4 L464.7,359.6 L464.1,359.9 L463.8,360.0 L463.4,360.2 L462.9,360.4 L462.6,360.6 L462.6,360.6"/>
<path d="M462.0,360.9 L462.0,360.6 L462.0,360.9 L462.0,360.9"/>
<path d="M473.7,350.9 L473.1,351.1 L472.7,350.9 L472.8,350.6 L473.0,350.0 L473.1,349.7 L473.3,349.1 L473.4,348.8 L473.7,348.2 L473.8,347.9 L473.9,347.3 L474.0,347.0 L474.2,346.4 L474.3,346.1 L474.5,345.5 L474.6,345.1 L474.8,344.6 L474.9,344.3 L475.2,343.7 L475.4,343.4 L475.5,343.1 L475.8,342.5 L475.9,342.2 L476.1,341.9 L476.4,341.3 L476.5,341.0 L476.7,340.6 L477.0,340.1 L477.1,339.8 L477.3,339.4 L477.6,338.9 L477.8,338.6 L478.0,338.3 L478.2,338.0 L478.5,337.5 L478.8,337.1 L479.0,336.8 L479.2,336.5 L479.5,336.2 L479.7,335.9 L480.0,335.5 L480.3,335.1 L480.6,334.8 L480.9,334.4 L481.2,334.1 L481.5,333.8 L481.7,333.5 L482.0,333.2 L482.3,332.9 L482.6,332.6 L482.9,332.3 L483.2,332.0 L483.5,331.7 L483.8,331.4 L484.2,331.1 L484.5,330.8 L484.8,330.6 L485.1,330.3 L485.4,330.1 L485.7,329.9 L486.1,329.6 L486.5,329.3 L486.9,329.0 L487.2,328.8 L487.5,328.6 L487.8,328.4 L488.3,328.1 L488.7,327.8 L489.0,327.7 L489.3,327.5 L489.8,327.2 L490.2,327.0 L490.5,326.8 L490.9,326.6 L491.4,326.4 L491.7,326.2 L492.1,326.0 L492.6,325.8 L492.9,325.6 L493.3,325.4 L493.8,325.2 L494.1,325.0 L494.5,324.8 L495.0,324.6 L495.3,324.4 L495.7,324.2 L496.2,324.0 L496.5,323.8 L496.9,323.6 L497.4,323.3 L497.7,323.2 L498.1,323.0 L498.6,322.7 L498.9,322.5 L499.2,322.4 L499.7,322.1 L500.1,321.9 L500.4,321.7 L500.7,321.5 L501.2,321.2 L501.6,321.0 L501.9,320.8 L502.2,320.6 L502.6,320.3 L503.1,320.0 L503.4,319.8 L503.7,319.6 L504.0,319.4 L504.5,319.1 L504.9,318.8 L505.2,318.6 L505.5,318.4 L505.8,318.2 L506.3,317.9 L506.7,317.6 L507.0,317.4 L507.3,317.2 L507.6,317.0 L508.0,316.7 L508.4,316.4 L508.8,316.1 L509.1,315.9 L509.4,315.6 L509.7,315.4 L510.0,315.2 L510.4,314.9 L510.7,314.6 L511.1,314.3 L511.5,314.0 L511.8,313.8 L512.1,313.5 L512.4,313.3 L512.7,313.0 L513.0,312.8 L513.3,312.5 L513.7,312.2 L514.0,311.9 L514.4,311.6 L514.7,311.3 L515.1,311.0 L515.4,310.7 L515.7,310.4 L516.0,310.2 L516.3,309.9 L516.6,309.6 L516.9,309.3 L517.2,309.0 L517.5,308.7 L517.8,308.4 L518.1,308.2 L518.4,307.8 L518.7,307.5 L519.0,307.2 L519.3,306.9 L519.6,306.6 L519.9,306.2 L520.2,305.9 L520.4,305.6 L520.7,305.3 L521.0,305.0 L521.2,304.7 L521.5,304.4 L521.8,304.1 L522.0,303.8 L522.3,303.5 L522.6,303.1 L522.9,302.8 L523.2,302.4 L523.5,302.1 L523.8,301.7 L524.1,301.4 L524.3,301.1 L524.6,300.8 L524.8,300.5 L525.1,300.2 L525.3,299.9 L525.6,299.5 L525.9,299.2 L526.2,298.8 L526.5,298.4 L526.8,298.1 L527.0,297.8 L527.3,297.5 L527.5,297.2 L527.8,296.9 L528.0,296.6 L528.3,296.3 L528.6,296.0 L528.9,295.6 L529.2,295.3 L529.5,295.0 L529.8,294.7 L530.1,294.4 L530.4,294.2 L530.7,293.9 L531.0,293.6 L531.4,293.3 L531.7,293.0 L532.1,292.7 L532.5,292.4 L532.8,292.2 L533.1,291.9 L533.4,291.7 L533.7,291.5 L534.1,291.2 L534.5,290.9 L534.9,290.6 L535.2,290.4 L535.5,290.2 L535.8,290.0 L536.2,289.7 L536.6,289.4 L537.0,289.1 L537.3,288.9 L537.6,288.6 L537.9,288.4 L538.2,288.2 L538.6,287.9 L539.0,287.6 L539.4,287.3 L539.7,287.1 L540.0,286.9 L540.3,286.6 L540.6,286.4 L540.9,286.1 L541.2,285.8 L541.5,285.5 L541.8,285.2 L542.1,284.9 L542.4,284.6 L542.7,284.3 L543.0,284.0 L543.3,283.7 L543.6,283.3 L543.9,283.0 L544.2,282.6 L544.5,282.2 L544.8,281.9 L545.0,281.6 L545.2,281.3 L545.4,281.0 L545.7,280.7 L546.0,280.3 L546.3,279.9 L546.6,279.6 L546.9,279.2 L547.1,278.9 L547.4,278.6 L547.6,278.3 L547.9,278.0 L548.1,277.7 L548.4,277.4 L548.7,277.0 L549.0,276.7 L549.3,276.4 L549.6,276.1 L549.9,275.8 L550.2,275.5 L550.5,275.3 L550.8,275.0 L551.2,274.7 L551.6,274.4 L552.0,274.1 L552.3,273.9 L552.6,273.6 L552.9,273.4 L553.2,273.2 L553.6,272.9 L554.0,272.6 L554.4,272.3 L554.7,272.1 L555.0,271.9 L555.3,271.7 L555.8,271.4 L556.2,271.2 L556.5,271.1 L557.1,270.9 L557.4,270.8 L558.0,270.6 L558.3,270.5 L558.9,270.3 L559.2,270.1 L559.8,269.9 L560.1,269.8 L560.6,269.6 L561.0,269.5 L561.4,269.3 L561.9,269.1 L562.2,269.0 L562.8,268.8 L563.1,268.6 L563.7,268.4 L564.0,268.3 L564.4,268.1 L564.9,267.9 L565.2,267.8 L565.8,267.6 L566.1,267.4 L566.7,267.2 L567.0,267.1 L567.3,267.2 L567.2,267.5 L567.0,267.9 L566.8,268.4 L566.6,268.7 L566.4,269.1 L566.2,269.6 L566.0,269.9 L565.8,270.4 L565.6,270.8 L565.5,271.1 L565.2,271.7 L565.1,272.0 L564.9,272.5 L564.7,272.9 L564.6,273.2 L564.4,273.8 L564.2,274.1 L564.0,274.7 L563.9,275.0 L563.7,275.4 L563.5,275.9 L563.3,276.2 L563.1,276.7 L562.9,277.1 L562.7,277.4 L562.5,277.7 L562.2,278.1 L561.9,278.5 L561.6,278.8 L561.3,279.1 L561.0,279.4 L560.7,279.6 L560.4,279.9 L560.1,280.2 L559.8,280.5 L559.5,280.8 L559.2,281.1 L558.9,281.4 L558.6,281.7 L558.3,282.0 L558.0,282.2 L557.7,282.5 L557.4,282.8 L557.1,283.1 L556.8,283.4 L556.4,283.7 L556.1,284.0 L555.7,284.3 L555.4,284.6 L555.0,284.9 L554.7,285.1 L554.4,285.3 L554.1,285.6 L553.8,285.8 L553.4,286.1 L552.9,286.4 L552.6,286.6 L552.3,286.9 L552.0,287.1 L551.7,287.3 L551.3,287.6 L550.8,287.9 L550.5,288.1 L550.2,288.4 L549.9,288.6 L549.6,288.8 L549.2,289.1 L548.8,289.4 L548.4,289.7 L548.1,289.9 L547.8,290.2 L547.5,290.4 L547.2,290.7 L546.9,290.9 L546.6,291.2 L546.2,291.5 L545.9,291.8 L545.5,292.1 L545.2,292.4 L544.9,292.7 L544.6,293.0 L544.2,293.3 L543.9,293.6 L543.6,293.9 L543.3,294.2 L543.0,294.5 L542.8,294.8 L542.5,295.1 L542.2,295.4 L541.9,295.7 L541.7,296.0 L541.4,296.3 L541.1,296.6 L540.9,296.9 L540.6,297.2 L540.3,297.5 L540.0,297.8 L539.7,298.1 L539.4,298.4 L539.1,298.7 L538.8,299.0 L538.5,299.3 L538.2,299.6 L537.9,299.9 L537.6,300.2 L537.3,300.5 L537.0,300.8 L536.7,301.1 L536.3,301.4 L536.0,301.7 L535.7,302.0 L535.4,302.3 L535.0,302.6 L534.7,302.9 L534.3,303.2 L534.0,303.5 L533.7,303.8 L533.4,304.0 L533.1,304.3 L532.8,304.5 L532.5,304.8 L532.2,305.0 L531.8,305.3 L531.5,305.6 L531.1,305.9 L530.7,306.2 L530.4,306.5 L530.1,306.7 L529.8,306.9 L529.5,307.2 L529.2,307.4 L528.8,307.7 L528.4,308.0 L528.1,308.3 L527.7,308.6 L527.4,308.8 L527.1,309.0 L526.8,309.3 L526.5,309.5 L526.1,309.8 L525.7,310.1 L525.3,310.4 L525.0,310.6 L524.7,310.8 L524.4,311.0 L524.0,311.3 L523.6,311.6 L523.2,311.9 L522.9,312.1 L522.6,312.4 L522.3,312.6 L522.0,312.9 L521.7,313.1 L521.3,313.4 L520.9,313.7 L520.6,314.0 L520.2,314.3 L519.9,314.5 L519.6,314.8 L519.3,315.0 L519.0,315.3 L518.7,315.5 L518.4,315.8 L518.0,316.1 L517.7,316.4 L517.3,316.7 L517.0,317.0 L516.7,317.3 L516.3,317.6 L516.0,317.9 L515.7,318.1 L515.4,318.4 L515.1,318.7 L514.8,318.9 L514.5,319.2 L514.2,319.5 L513.9,319.7 L513.6,320.0 L513.2,320.3 L512.9,320.6 L512.6,320.9 L512.2,321.2 L511.9,321.5 L511.5,321.8 L511.2,322.1 L510.9,322.4 L510.6,322.6 L510.3,322.9 L510.0,323.2 L509.7,323.5 L509.4,323.7 L509.1,324.0 L508.8,324.3 L508.5,324.6 L508.2,324.9 L507.9,325.1 L507.6,325.4 L507.3,325.7 L507.0,326.0 L506.6,326.3 L506.3,326.6 L506.0,326.9 L505.7,327.2 L505.4,327.5 L505.1,327.8 L504.8,328.1 L504.5,328.4 L504.2,328.7 L503.9,329.0 L503.6,329.3 L503.3,329.6 L503.0,329.9 L502.7,330.2 L502.4,330.5 L502.1,330.8 L501.9,331.1 L501.6,331.4 L501.3,331.7 L501.0,332.0 L500.7,332.4 L500.4,332.7 L500.1,333.0 L499.8,333.3 L499.5,333.7 L499.2,334.0 L498.9,334.3 L498.6,334.6 L498.3,335.0 L498.0,335.3 L497.7,335.6 L497.4,335.9 L497.1,336.2 L496.9,336.5 L496.6,336.8 L496.3,337.1 L496.0,337.4 L495.7,337.7 L495.4,338.0 L495.1,338.3 L494.8,338.6 L494.5,338.9 L494.1,339.2 L493.8,339.5 L493.5,339.8 L493.2,340.1 L492.9,340.4 L492.6,340.6 L492.3,340.9 L492.0,341.2 L491.7,341.4 L491.4,341.7 L491.1,341.9 L490.8,342.2 L490.5,342.5 L490.1,342.8 L489.7,343.1 L489.4,343.4 L489.0,343.7 L488.7,344.0 L488.4,344.2 L488.1,344.5 L487.8,344.7 L487.5,344.9 L487.2,345.2 L486.8,345.5 L486.4,345.8 L486.0,346.1 L485.7,346.3 L485.4,346.5 L485.1,346.7 L484.6,347.0 L484.2,347.2 L483.9,347.4 L483.5,347.6 L483.0,347.9 L482.7,348.0 L482.3,348.2 L481.8,348.5 L481.5,348.6 L481.1,348.8 L480.6,349.1 L480.3,349.2 L479.9,349.4 L479.4,349.6 L479.1,349.7 L478.5,349.9 L478.0,350.0 L477.6,350.1 L477.0,350.2 L476.4,350.3 L476.1,350.4 L475.5,350.5 L475.0,350.6 L474.6,350.7 L474.0,350.8 L473.7,350.9 L473.7,350.9"/>
<path d="M481.5,345.8 L480.9,345.9 L480.3,346.0 L479.7,346.0 L479.1,346.1 L478.5,346.1 L478.1,345.8 L478.1,345.2 L478.1,344.6 L478.2,344.0 L478.2,343.7 L478.3,343.1 L478.4,342.5 L478.5,341.9 L478.5,341.6 L478.7,341.0 L478.8,340.5 L479.0,340.1 L479.2,339.8 L479.4,339.5 L479.7,339.1 L480.0,338.6 L480.2,338.3 L480.4,338.0 L480.6,337.7 L480.9,337.3 L481.2,336.9 L481.5,336.5 L481.8,336.2 L482.0,335.9 L482.3,335.6 L482.5,335.3 L482.8,335.0 L483.1,334.7 L483.3,334.4 L483.6,334.1 L483.9,333.8 L484.2,333.5 L484.5,333.2 L484.9,332.9 L485.2,332.6 L485.6,332.3 L485.9,332.0 L486.3,331.7 L486.6,331.5 L486.9,331.2 L487.2,331.0 L487.5,330.8 L488.0,330.5 L488.4,330.2 L488.7,330.0 L489.0,329.8 L489.4,329.6 L489.9,329.3 L490.2,329.1 L490.5,329.0 L491.0,328.7 L491.4,328.5 L491.7,328.3 L492.1,328.1 L492.6,327.9 L492.9,327.7 L493.4,327.5 L493.8,327.3 L494.2,327.2 L494.7,327.0 L495.1,326.9 L495.6,326.8 L496.2,326.6 L496.5,326.5 L497.1,326.3 L497.4,326.3 L498.0,326.1 L498.4,326.0 L498.9,325.9 L499.5,325.7 L499.8,325.6 L500.4,325.5 L500.7,325.4 L501.3,325.3 L501.9,325.1 L502.2,325.0 L502.3,325.4 L502.1,325.7 L501.9,326.1 L501.6,326.6 L501.4,326.9 L501.3,327.2 L501.0,327.7 L500.7,328.1 L500.6,328.4 L500.4,328.7 L500.1,329.2 L499.9,329.6 L499.7,329.9 L499.5,330.2 L499.2,330.7 L498.9,331.1 L498.7,331.4 L498.5,331.7 L498.3,332.1 L498.0,332.5 L497.7,332.9 L497.5,333.2 L497.2,333.5 L497.0,333.8 L496.7,334.1 L496.4,334.4 L496.2,334.7 L495.9,335.0 L495.6,335.3 L495.3,335.6 L495.0,336.0 L494.7,336.3 L494.4,336.6 L494.1,336.9 L493.8,337.2 L493.5,337.5 L493.2,337.8 L492.9,338.1 L492.6,338.3 L492.3,338.6 L492.0,338.9 L491.7,339.2 L491.3,339.5 L491.0,339.8 L490.7,340.1 L490.3,340.4 L489.9,340.7 L489.6,341.0 L489.3,341.2 L489.0,341.5 L488.7,341.7 L488.4,342.0 L488.1,342.2 L487.7,342.5 L487.3,342.8 L486.9,343.1 L486.6,343.3 L486.3,343.6 L486.0,343.8 L485.7,344.0 L485.3,344.3 L484.8,344.6 L484.5,344.8 L484.2,345.0 L483.9,345.2 L483.3,345.5 L483.0,345.6 L482.4,345.7 L481.8,345.8 L481.5,345.8 L481.5,345.8"/>
<path d="M483.3,341.6 L482.7,341.8 L482.3,341.6 L482.4,341.2 L482.5,340.7 L482.7,340.2 L482.8,339.8 L483.0,339.4 L483.2,338.9 L483.3,338.6 L483.6,338.1 L483.8,337.7 L484.0,337.4 L484.2,337.1 L484.5,336.7 L484.8,336.3 L485.1,335.9 L485.4,335.6 L485.6,335.3 L485.9,335.0 L486.2,334.7 L486.6,334.4 L486.9,334.1 L487.2,333.9 L487.5,333.6 L487.8,333.4 L488.1,333.2 L488.5,332.9 L489.0,332.6 L489.3,332.5 L489.6,332.3 L490.2,332.0 L490.5,331.9 L490.9,331.7 L491.4,331.5 L491.7,331.4 L492.3,331.2 L492.6,331.1 L493.2,330.9 L493.8,330.8 L494.1,330.8 L494.7,330.7 L494.9,331.1 L494.7,331.5 L494.5,332.0 L494.3,332.3 L494.1,332.7 L493.8,333.2 L493.7,333.5 L493.5,333.8 L493.2,334.2 L492.9,334.6 L492.6,335.0 L492.4,335.3 L492.1,335.6 L491.9,335.9 L491.6,336.2 L491.3,336.5 L491.0,336.8 L490.7,337.1 L490.4,337.4 L490.1,337.7 L489.8,338.0 L489.4,338.3 L489.0,338.6 L488.7,338.8 L488.4,339.1 L488.1,339.3 L487.8,339.5 L487.3,339.8 L486.9,340.0 L486.6,340.2 L486.3,340.4 L485.7,340.7 L485.4,340.8 L485.0,341.0 L484.5,341.2 L484.2,341.3 L483.6,341.5 L483.3,341.6 L483.3,341.6"/>
<path d="M399.7,416.1 L399.7,415.0 L399.9,413.6 L400.2,412.0 L400.7,410.4 L401.2,408.8 L401.9,407.4 L402.7,406.1 L403.6,404.8 L404.6,403.6 L405.8,402.4 L406.9,401.2 L408.0,400.0 L409.1,398.9 L410.3,397.8 L411.4,396.8 L412.6,395.6 L413.8,394.3 L415.0,392.8 L416.2,390.9 L417.5,388.5 L418.7,386.1 L420.0,383.6 L421.2,381.4 L422.3,379.6 L423.3,378.3 L424.3,377.4 L425.2,376.6 L426.1,376.0 L427.1,375.3 L428.2,374.5 L429.6,373.5 L431.1,372.4 L432.7,371.3 L434.3,370.2 L435.7,369.1 L436.9,368.0 L437.7,367.0 L438.3,366.1 L438.8,365.3 L439.1,364.4 L439.5,363.3 L439.9,362.1 L440.4,360.6 L440.9,359.0 L441.4,357.3 L441.9,355.5 L442.4,353.6 L442.8,351.9 L443.1,350.2 L443.3,348.5 L443.5,346.8 L443.6,345.1 L443.9,343.4 L444.2,341.7 L444.6,340.1 L445.2,338.6 L445.8,337.1 L446.4,335.5 L447.0,333.8 L447.5,332.0 L447.9,329.9 L448.3,327.6 L448.6,325.2 L449.0,322.8 L449.6,320.5 L450.4,318.6 L451.5,317.0 L453.0,315.8 L454.5,314.7 L456.2,313.6 L457.8,312.5 L459.2,311.3 L460.6,309.9 L461.9,308.6 L463.2,307.1 L464.4,305.7 L465.6,304.2 L466.5,302.6 L467.2,301.0 L467.6,299.3 L468.0,297.6 L468.3,295.9 L468.7,294.1 L469.4,292.3 L470.4,290.4 L471.5,288.3 L472.8,286.1 L474.1,284.1 L475.4,282.2 L476.7,280.7 L478.0,279.5 L479.2,278.7 L480.5,278.0 L481.8,277.4 L483.0,276.9 L484.0,276.3 L484.9,275.6 L485.7,274.7 L486.4,273.9 L487.0,273.3 L487.7,272.8 L488.4,272.6 L489.2,272.8 L489.9,273.2 L490.7,273.9 L491.4,274.6 L492.2,275.5 L492.8,276.3 L493.4,277.2 L493.8,278.3 L494.3,279.4 L494.7,280.5 L495.2,281.4 L495.7,282.1 L496.3,282.6 L497.0,282.9 L497.7,283.0 L498.4,283.1 L499.2,283.0 L500.0,282.8 L500.9,282.4 L501.9,281.8 L502.9,281.1 L504.0,280.3 L505.0,279.7 L505.9,279.2 L506.7,278.9 L507.5,278.6 L508.2,278.4 L508.9,278.3 L509.6,278.3 L510.3,278.5 L510.9,278.9 L511.5,279.6 L512.1,280.3 L512.6,281.1 L513.2,281.7 L513.9,282.1 L514.7,282.2 L515.5,282.3 L516.5,282.2 L517.4,281.9 L518.2,281.4 L519.0,280.7 L519.7,279.6 L520.3,278.3 L520.9,276.7 L521.4,275.0 L521.9,273.4 L522.5,272.0 L523.0,270.8 L523.5,269.6 L523.9,268.5 L524.5,267.4 L525.1,266.4 L526.0,265.5 L527.2,264.7 L528.6,264.0 L530.2,263.5 L531.9,262.9 L533.4,262.2 L534.6,261.4 L535.5,260.4 L536.3,259.2 L536.9,258.0 L537.5,256.8 L538.1,255.7 L539.0,254.8 L540.1,254.0 L541.3,253.3 L542.6,252.8 L543.9,252.3 L545.1,252.0 L546.3,251.9 L547.4,252.2 L548.3,252.8 L549.3,253.6 L550.2,254.4 L551.1,254.8 L552.1,254.8 L553.1,254.2 L554.1,253.1 L555.1,251.7 L556.0,250.2 L557.0,248.7 L558.0,247.5 L559.0,246.4 L559.9,245.3 L560.9,244.2 L561.9,243.2 L562.8,242.4 L563.8,241.7 L564.8,241.2 L565.8,240.9 L566.8,240.7 L567.8,240.7 L568.7,240.8 L569.6,240.9 L570.4,241.2 L571.1,241.8 L571.7,242.5 L572.4,243.1 L573.1,243.7 L574.0,243.9 L575.0,243.8 L576.2,243.5 L577.4,243.0 L578.6,242.5 L580.0,242.0 L581.3,241.7 L582.7,241.5 L584.3,241.2 L585.9,241.1 L587.4,240.9 L588.9,240.9 L590.1,240.9 L591.2,241.0 L592.1,241.1 L592.9,241.3 L593.6,241.5 L594.2,241.9 L594.5,242.4 L594.6,243.0 L594.5,243.7 L594.3,244.5 L593.9,245.4 L593.5,246.4 L593.0,247.5 L592.4,248.7 L591.6,249.9 L590.8,251.3 L590.0,252.8 L589.2,254.5 L588.6,256.3 L588.2,258.4 L588.0,260.9 L587.8,263.5 L587.7,266.1 L587.5,268.7 L587.2,270.9 L586.8,272.9 L586.4,274.6 L585.9,276.3 L585.4,277.9 L584.8,279.5 L584.2,281.1 L583.5,282.8 L582.8,284.5 L582.0,286.3 L581.2,288.0 L580.5,289.7 L579.9,291.3 L579.4,292.9 L579.1,294.4 L578.8,295.9 L578.5,297.4 L578.1,298.9 L577.5,300.5 L576.7,302.2 L575.7,304.0 L574.6,305.9 L573.5,307.7 L572.5,309.4 L571.6,311.0 L570.8,312.4 L570.0,313.6 L569.3,314.7 L568.7,315.8 L568.3,316.9 L568.1,318.0 L568.2,319.2 L568.4,320.3 L568.9,321.5 L569.5,322.7 L570.1,323.8 L570.7,325.0 L571.4,326.2 L572.3,327.4 L573.2,328.6 L574.0,329.7 L574.7,330.9 L575.1,332.0 L575.2,333.1 L575.1,334.2 L574.9,335.3 L574.5,336.4 L574.0,337.3 L573.4,338.2 L572.7,339.0 L572.0,339.7 L571.1,340.3 L570.1,340.8 L569.1,341.3 L568.1,341.7 L567.0,342.0 L565.9,342.2 L564.7,342.3 L563.5,342.4 L562.3,342.5 L561.1,342.6 L559.9,342.7 L558.7,342.9 L557.5,343.0 L556.3,343.1 L555.2,343.3 L554.1,343.4 L553.1,343.6 L552.2,343.8 L551.3,344.0 L550.5,344.2 L549.7,344.3 L548.8,344.3 L547.9,344.2 L546.9,344.1 L546.0,343.8 L545.1,343.5 L544.3,343.1 L543.6,342.6 L543.1,341.9 L542.8,341.0 L542.6,340.0 L542.5,338.9 L542.2,338.0 L541.8,337.3 L541.2,336.8 L540.6,336.3 L539.9,336.0 L539.1,335.7 L538.3,335.6 L537.4,335.5 L536.5,335.6 L535.5,335.7 L534.4,336.0 L533.3,336.3 L532.3,336.8 L531.3,337.3 L530.4,337.9 L529.5,338.7 L528.6,339.5 L527.8,340.5 L527.0,341.5 L526.1,342.6 L525.2,343.9 L524.3,345.2 L523.3,346.7 L522.4,348.3 L521.6,349.8 L520.8,351.3 L520.1,352.8 L519.4,354.2 L518.7,355.7 L518.1,357.2 L517.7,358.6 L517.3,360.1 L517.0,361.6 L516.9,363.1 L516.8,364.6 L516.8,366.0 L517.0,367.4 L517.3,368.8 L517.8,370.1 L518.5,371.5 L519.3,372.7 L520.2,373.9 L521.0,375.0 L521.7,375.8 L522.3,376.4 L522.9,376.7 L523.4,376.9 L523.8,377.0 L524.1,377.2 L524.3,377.6 L524.3,378.2 L524.2,379.1 L523.9,380.0 L523.6,380.8 L523.1,381.5 L522.6,382.0 L521.9,382.2 L521.2,382.1 L520.3,381.9 L519.3,381.7 L518.3,381.4 L517.3,381.1 L516.2,380.9 L515.0,380.6 L513.8,380.2 L512.6,379.9 L511.4,379.6 L510.3,379.3 L509.3,379.1 L508.3,378.9 L507.4,378.8 L506.6,378.6 L505.8,378.2 L505.0,377.6 L504.3,376.7 L503.7,375.5 L503.1,374.2 L502.6,372.9 L502.1,371.6 L501.5,370.6 L500.9,369.7 L500.3,368.9 L499.8,368.1 L499.2,367.5 L498.6,367.1 L498.0,367.1 L497.4,367.5 L496.8,368.3 L496.1,369.3 L495.5,370.4 L495.0,371.4 L494.5,372.3 L494.1,373.1 L493.8,374.0 L493.5,374.9 L493.3,375.6 L493.1,375.9 L492.8,375.8 L492.5,375.0 L492.3,373.5 L492.0,371.8 L491.7,369.9 L491.4,368.3 L491.0,367.1 L490.6,366.4 L490.2,365.9 L489.7,365.5 L489.1,365.4 L488.4,365.3 L487.5,365.3 L486.4,365.4 L485.0,365.5 L483.5,365.8 L481.9,366.1 L480.3,366.6 L478.8,367.1 L477.3,367.7 L475.9,368.5 L474.5,369.3 L473.0,370.2 L471.5,371.2 L470.0,372.3 L468.5,373.5 L466.9,374.9 L465.3,376.4 L463.7,378.0 L462.0,379.5 L460.3,381.0 L458.5,382.4 L456.6,383.9 L454.7,385.3 L452.8,386.7 L450.9,388.1 L449.0,389.5 L447.2,390.9 L445.4,392.2 L443.7,393.6 L442.0,394.9 L440.2,396.2 L438.4,397.5 L436.5,398.8 L434.6,400.1 L432.7,401.3 L430.8,402.6 L428.9,403.8 L427.0,405.0 L425.2,406.2 L423.4,407.4 L421.6,408.5 L419.8,409.6 L418.1,410.7 L416.5,411.8 L414.9,412.9 L413.4,413.9 L411.9,415.0 L410.5,415.9 L409.2,416.8 L408.0,417.5 L407.0,418.1 L406.1,418.6 L405.4,419.0 L404.7,419.2 L404.1,419.3 L403.4,419.3 L402.7,419.1 L401.9,418.8 L401.1,418.4 L400.5,417.8 L400.0,417.0Z"/>
</g>
<rect x="372.9" y="227.3" width="247.60000000000002" height="201.0" fill="none" stroke="#777" stroke-width="1"/>
<line x1="368.17" y1="428.30" x2="368.17" y2="430.30" stroke="#777" stroke-width="1"/>
<line x1="377.60" y1="428.30" x2="377.60" y2="431.30" stroke="#777" stroke-width="1"/>
<line x1="387.03" y1="428.30" x2="387.03" y2="430.30" stroke="#777" stroke-width="1"/>
<line x1="396.46" y1="428.30" x2="396.46" y2="430.30" stroke="#777" stroke-width="1"/>
<line x1="405.90" y1="428.30" x2="405.90" y2="430.30" stroke="#777" stroke-width="1"/>
<line x1="415.33" y1="428.30" x2="415.33" y2="430.30" stroke="#777" stroke-width="1"/>
<line x1="424.76" y1="428.30" x2="424.76" y2="431.30" stroke="#777" stroke-width="1"/>
<line x1="434.19" y1="428.30" x2="434.19" y2="430.30" stroke="#777" stroke-width="1"/>
<line x1="443.62" y1="428.30" x2="443.62" y2="430.30" stroke="#777" stroke-width="1"/>
<line x1="453.06" y1="428.30" x2="453.06" y2="430.30" stroke="#777" stroke-width="1"/>
<line x1="462.49" y1="428.30" x2="462.49" y2="430.30" stroke="#777" stroke-width="1"/>
<line x1="471.92" y1="428.30" x2="471.92" y2="431.30" stroke="#777" stroke-width="1"/>
<line x1="481.35" y1="428.30" x2="481.35" y2="430.30" stroke="#777" stroke-width="1"/>
<line x1="490.78" y1="428.30" x2="490.78" y2="430.30" stroke="#777" stroke-width="1"/>
<line x1="500.22" y1="428.30" x2="500.22" y2="430.30" stroke="#777" stroke-width="1"/>
<line x1="509.65" y1="428.30" x2="509.65" y2="430.30" stroke="#777" stroke-width="1"/>
<line x1="519.08" y1="428.30" x2="519.08" y2="431.30" stroke="#777" stroke-width="1"/>
<line x1="528.51" y1="428.30" x2="528.51" y2="430.30" stroke="#777" stroke-width="1"/>
<line x1="537.94" y1="428.30" x2="537.94" y2="430.30" stroke="#777" stroke-width="1"/>
<line x1="547.38" y1="428.30" x2="547.38" y2="430.30" stroke="#777" stroke-width="1"/>
<line x1="556.81" y1="428.30" x2="556.81" y2="430.30" stroke="#777" stroke-width="1"/>
<line x1="566.24" y1="428.30" x2="566.24" y2="431.30" stroke="#777" stroke-width="1"/>
<line x1="575.67" y1="428.30" x2="575.67" y2="430.30" stroke="#777" stroke-width="1"/>
<line x1="585.10" y1="428.30" x2="585.10" y2="430.30" stroke="#777" stroke-width="1"/>
<line x1="594.54" y1="428.30" x2="594.54" y2="430.30" stroke="#777" stroke-width="1"/>
<line x1="603.97" y1="428.30" x2="603.97" y2="430.30" stroke="#777" stroke-width="1"/>
<line x1="613.40" y1="428.30" x2="613.40" y2="431.30" stroke="#777" stroke-width="1"/>
<text x="377.60" y="444.50" font-size="12" fill="#1a1a1a" text-anchor="middle">4.64</text>
<text x="424.76" y="444.50" font-size="12" fill="#1a1a1a" text-anchor="middle">4.63</text>
<text x="471.92" y="444.50" font-size="12" fill="#1a1a1a" text-anchor="middle">4.62</text>
<text x="519.08" y="444.50" font-size="12" fill="#1a1a1a" text-anchor="middle">4.61</text>
<text x="566.24" y="444.50" font-size="12" fill="#1a1a1a" text-anchor="middle">4.60</text>
<text x="613.40" y="444.50" font-size="12" fill="#1a1a1a" text-anchor="middle">4.59</text>
<line x1="620.50" y1="231.96" x2="622.50" y2="231.96" stroke="#777" stroke-width="1"/>
<line x1="620.50" y1="240.54" x2="622.50" y2="240.54" stroke="#777" stroke-width="1"/>
<line x1="620.50" y1="249.13" x2="622.50" y2="249.13" stroke="#777" stroke-width="1"/>
<line x1="620.50" y1="257.71" x2="622.50" y2="257.71" stroke="#777" stroke-width="1"/>
<line x1="620.50" y1="266.30" x2="623.50" y2="266.30" stroke="#777" stroke-width="1"/>
<line x1="620.50" y1="274.89" x2="622.50" y2="274.89" stroke="#777" stroke-width="1"/>
<line x1="620.50" y1="283.47" x2="622.50" y2="283.47" stroke="#777" stroke-width="1"/>
<line x1="620.50" y1="292.06" x2="622.50" y2="292.06" stroke="#777" stroke-width="1"/>
<line x1="620.50" y1="300.64" x2="622.50" y2="300.64" stroke="#777" stroke-width="1"/>
<line x1="620.50" y1="309.23" x2="623.50" y2="309.23" stroke="#777" stroke-width="1"/>
<line x1="620.50" y1="317.82" x2="622.50" y2="317.82" stroke="#777" stroke-width="1"/>
<line x1="620.50" y1="326.40" x2="622.50" y2="326.40" stroke="#777" stroke-width="1"/>
<line x1="620.50" y1="334.99" x2="622.50" y2="334.99" stroke="#777" stroke-width="1"/>
<line x1="620.50" y1="343.57" x2="622.50" y2="343.57" stroke="#777" stroke-width="1"/>
<line x1="620.50" y1="352.16" x2="623.50" y2="352.16" stroke="#777" stroke-width="1"/>
<line x1="620.50" y1="360.75" x2="622.50" y2="360.75" stroke="#777" stroke-width="1"/>
<line x1="620.50" y1="369.33" x2="622.50" y2="369.33" stroke="#777" stroke-width="1"/>
<line x1="620.50" y1="377.92" x2="622.50" y2="377.92" stroke="#777" stroke-width="1"/>
<line x1="620.50" y1="386.50" x2="622.50" y2="386.50" stroke="#777" stroke-width="1"/>
<line x1="620.50" y1="395.09" x2="623.50" y2="395.09" stroke="#777" stroke-width="1"/>
<line x1="620.50" y1="403.68" x2="622.50" y2="403.68" stroke="#777" stroke-width="1"/>
<line x1="620.50" y1="412.26" x2="622.50" y2="412.26" stroke="#777" stroke-width="1"/>
<line x1="620.50" y1="420.85" x2="622.50" y2="420.85" stroke="#777" stroke-width="1"/>
<text x="641.10" y="266.30" font-size="12" fill="#1a1a1a" text-anchor="middle" transform="rotate(-90 641.1 266.3)">4.60</text>
<text x="641.10" y="309.23" font-size="12" fill="#1a1a1a" text-anchor="middle" transform="rotate(-90 641.1 309.2299999999991)">4.61</text>
<text x="641.10" y="352.16" font-size="12" fill="#1a1a1a" text-anchor="middle" transform="rotate(-90 641.1 352.15999999999815)">4.62</text>
<text x="641.10" y="395.09" font-size="12" fill="#1a1a1a" text-anchor="middle" transform="rotate(-90 641.1 395.09000000000106)">4.63</text>
<text x="500.20" y="460.20" font-size="12.5" fill="#1a1a1a" text-anchor="middle"><tspan font-size="7.75" dy="-4.50">1</tspan><tspan dy="4.50">H Chemical Shift (ppm)</tspan></text>
<text x="658.90" y="330.40" font-size="12.5" fill="#1a1a1a" text-anchor="middle" transform="rotate(-90 658.9 330.4)"><tspan font-size="7.75" dy="-4.50">1</tspan><tspan dy="4.50">H Chemical Shift (ppm)</tspan></text>
<text x="379.20" y="244.00" font-size="12.3" fill="#1a1a1a" text-anchor="start"><tspan font-size="7.63" dy="-4.43">1</tspan><tspan dy="4.43">H NOESY at 363 K</tspan></text>
<text x="394.70" y="275.50" font-size="12.3" fill="#1a1a1a" text-anchor="start">Peak of ct - cc</text>
<text x="374.20" y="320.60" font-size="12.3" fill="#1a1a1a" text-anchor="start">Peak of ct - ct</text>
<text x="538.00" y="238.50" font-size="12.3" fill="#1a1a1a" text-anchor="start">Peak of cc - cc</text>
<text x="534.40" y="370.90" font-size="12.3" fill="#1a1a1a" text-anchor="start">Peak of ct - cc</text>
<line x1="446.80" y1="277.70" x2="487.70" y2="301.80" stroke="#333" stroke-width="0.7"/>
<path d="M487.70,301.80 L484.28,301.30 L485.60,299.06Z" fill="#111"/>
<line x1="435.80" y1="325.20" x2="487.70" y2="337.30" stroke="#333" stroke-width="0.7"/>
<path d="M487.70,337.30 L484.29,337.84 L484.88,335.31Z" fill="#111"/>
<line x1="596.60" y1="240.20" x2="552.80" y2="280.40" stroke="#333" stroke-width="0.7"/>
<path d="M552.80,280.40 L554.28,277.28 L556.04,279.19Z" fill="#111"/>
<line x1="569.90" y1="361.80" x2="561.10" y2="331.20" stroke="#333" stroke-width="0.7"/>
<path d="M561.10,331.20 L563.23,333.92 L560.74,334.63Z" fill="#111"/>
<path d="M373.30,225.00 C377.75,224.87 390.55,224.57 400.00,224.20 C409.45,223.83 420.83,223.45 430.00,222.80 C439.17,222.15 449.00,221.18 455.00,220.30 C461.00,219.42 462.98,218.62 466.00,217.50 C469.02,216.38 471.03,215.55 473.10,213.60 C475.17,211.65 476.65,207.85 478.40,205.80 C480.15,203.75 481.85,201.97 483.60,201.30 C485.35,200.63 485.83,200.97 488.90,201.80 C491.97,202.63 498.07,205.20 502.00,206.30 C505.93,207.40 508.55,207.92 512.50,208.40 C516.45,208.88 521.97,208.90 525.70,209.20 C529.43,209.50 531.83,210.55 534.90,210.20 C537.97,209.85 541.48,207.18 544.10,207.10 C546.72,207.02 547.53,208.38 550.60,209.70 C553.67,211.02 558.77,213.03 562.50,215.00 C566.23,216.97 569.50,219.97 573.00,221.50 C576.50,223.03 578.68,223.72 583.50,224.20 C588.32,224.68 595.77,224.32 601.90,224.40 C608.03,224.48 617.23,224.65 620.30,224.70" stroke="#6262fa" stroke-width="0.9" fill="none" stroke-linejoin="round"/>
<path d="M370.50,228.90 C370.45,231.58 370.35,240.57 370.20,245.00 C370.05,249.43 371.18,251.03 369.60,255.50 C368.02,259.97 363.90,267.12 360.70,271.80 C357.50,276.48 352.12,280.65 350.40,283.60 C348.68,286.55 350.07,287.03 350.40,289.50 C350.73,291.97 352.65,294.20 352.40,298.40 C352.15,302.60 350.47,308.05 348.90,314.70 C347.33,321.35 343.50,333.37 343.00,338.30 C342.50,343.23 343.20,341.83 345.90,344.30 C348.60,346.77 356.23,349.65 359.20,353.10 C362.17,356.55 362.22,358.58 363.70,365.00 C365.18,371.42 366.97,381.25 368.10,391.60 C369.23,401.95 370.10,421.18 370.50,427.10" stroke="#6262fa" stroke-width="0.9" fill="none" stroke-linejoin="round"/>
</svg></body></html>
